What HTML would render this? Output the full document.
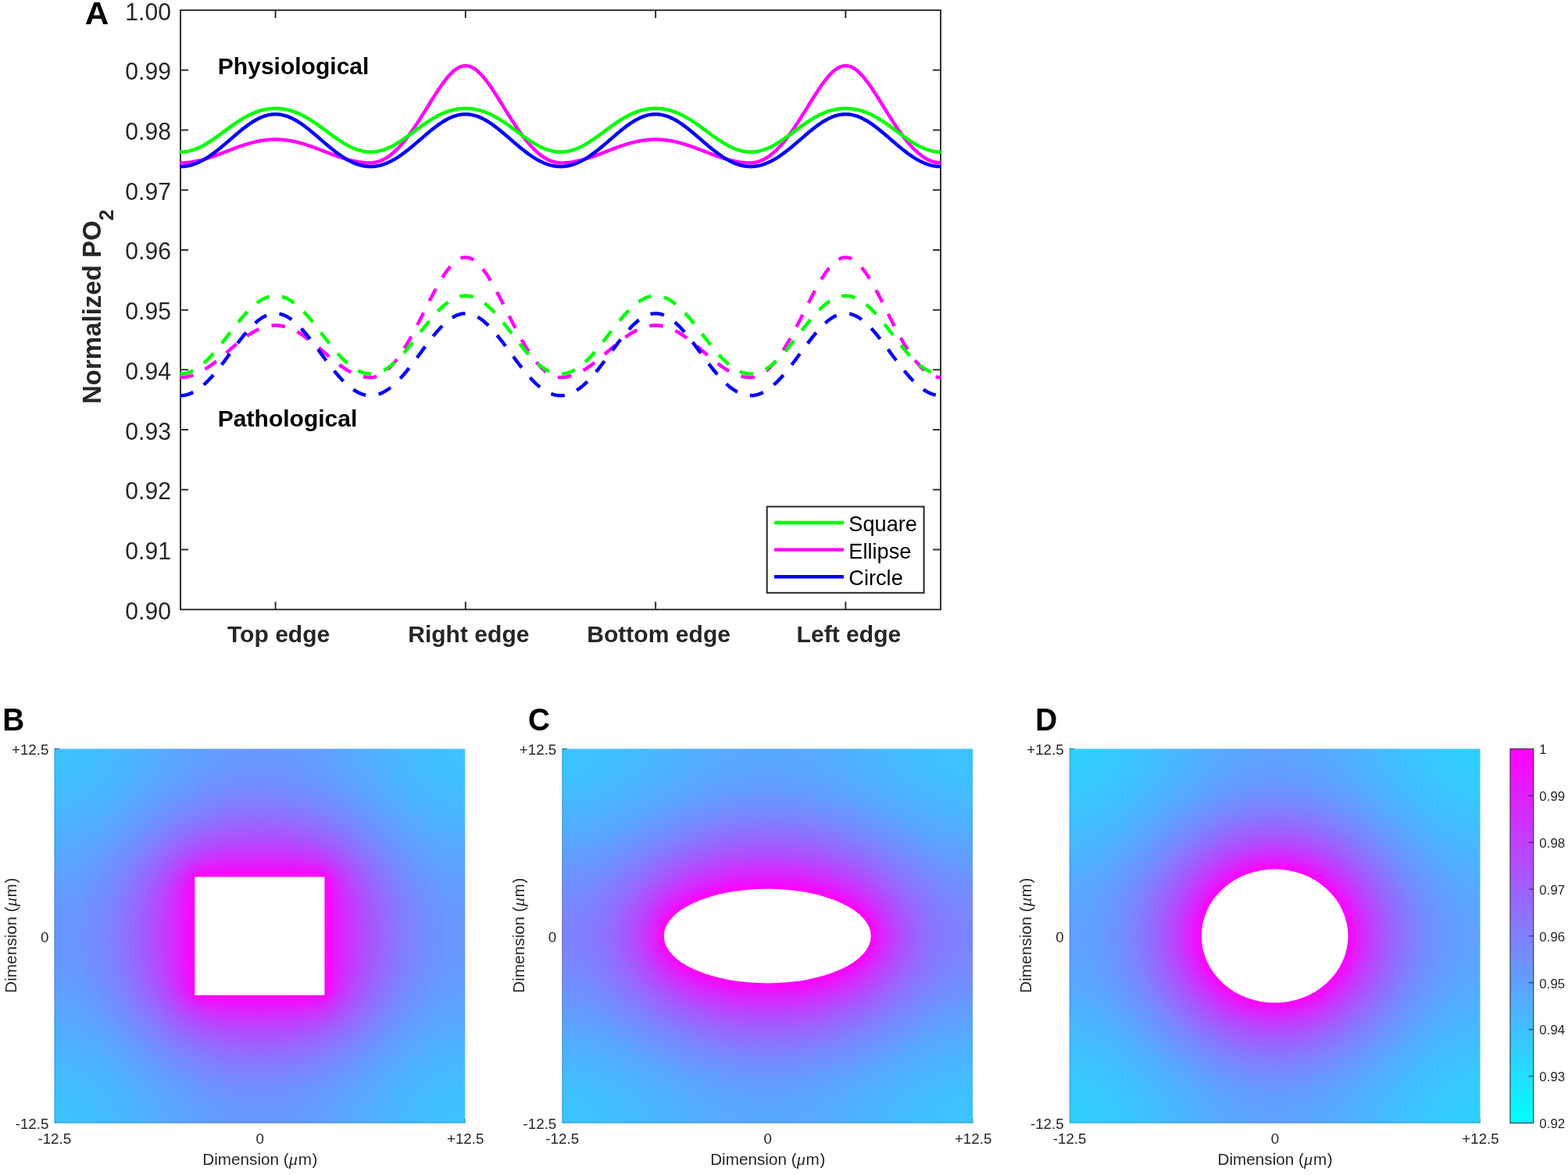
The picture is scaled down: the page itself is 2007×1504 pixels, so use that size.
<!DOCTYPE html>
<html lang="en"><head><meta charset="utf-8"><title>Normalized PO2 along tissue boundary for square, ellipse and circle vessels</title>
<style>html,body{margin:0;padding:0;background:#fff}body{width:2007px;height:1504px}svg{display:block;font-family:"Liberation Sans", sans-serif}</style></head><body>
<svg width="2007" height="1504" viewBox="0 0 2007 1504" role="img" aria-label="Normalized PO2 along the tissue boundary and PO2 maps for square, ellipse and circle vessels">
<rect width="2007" height="1504" fill="#fff"/>
<g id="panelA">
<g stroke="#333333" stroke-width="2" fill="none">
<rect x="231" y="13.1" width="973" height="767.1"/>
<path d="M231 89.81h10M1204 89.81h-10M231 166.52h10M1204 166.52h-10M231 243.23h10M1204 243.23h-10M231 319.94h10M1204 319.94h-10M231 396.65h10M1204 396.65h-10M231 473.36h10M1204 473.36h-10M231 550.07h10M1204 550.07h-10M231 626.78h10M1204 626.78h-10M231 703.49h10M1204 703.49h-10M352.62 13.1v10M352.62 780.2v-10M595.88 13.1v10M595.88 780.2v-10M839.12 13.1v10M839.12 780.2v-10M1082.38 13.1v10M1082.38 780.2v-10"/>
</g>
<clipPath id="clipA"><rect x="230.2" y="13.1" width="974.3" height="767.1"/></clipPath>
<g clip-path="url(#clipA)" fill="none" stroke-linejoin="round">
<polyline points="230.2,208.41 231,208.41 233.76,208.37 235.84,208.29 238.6,208.11 240.67,207.92 243.44,207.61 245.51,207.33 248.28,206.88 250.35,206.5 253.11,205.94 255.19,205.47 257.95,204.79 260.02,204.24 262.79,203.46 264.86,202.84 267.63,201.98 269.7,201.3 272.46,200.36 274.54,199.63 277.3,198.63 279.37,197.86 282.14,196.83 284.21,196.04 286.98,194.97 289.05,194.17 291.81,193.1 294.58,192.04 296.65,191.24 299.41,190.19 301.49,189.42 304.25,188.41 306.32,187.67 309.09,186.71 311.16,186.01 313.93,185.11 316,184.47 318.76,183.65 320.84,183.06 323.6,182.33 325.67,181.82 328.44,181.19 330.51,180.76 333.28,180.24 335.35,179.89 338.11,179.48 340.19,179.22 342.95,178.93 345.02,178.76 347.79,178.6 349.86,178.52 352.62,178.49 355.39,178.52 357.46,178.6 360.23,178.76 362.3,178.93 365.06,179.22 367.14,179.48 369.9,179.89 371.97,180.24 374.74,180.76 376.81,181.19 379.58,181.82 381.65,182.33 384.41,183.06 386.49,183.65 389.25,184.47 391.32,185.11 394.09,186.01 396.16,186.71 398.93,187.67 401,188.41 403.76,189.42 405.84,190.19 408.6,191.24 410.67,192.04 413.44,193.1 416.2,194.17 418.27,194.97 421.04,196.04 423.11,196.83 425.88,197.86 427.95,198.63 430.71,199.63 432.79,200.36 435.55,201.3 437.62,201.98 440.39,202.84 442.46,203.46 445.23,204.24 447.3,204.79 450.06,205.47 452.14,205.94 454.9,206.5 456.97,206.88 459.74,207.33 461.81,207.61 464.58,207.92 466.65,208.11 469.41,208.29 471.49,208.37 474.25,208.41 477.01,208.29 479.09,208.05 481.85,207.52 483.92,206.96 486.69,206.02 488.76,205.16 491.53,203.82 493.6,202.66 496.36,200.92 498.44,199.46 501.2,197.34 503.27,195.6 506.04,193.1 508.11,191.09 510.88,188.24 512.95,185.98 515.71,182.8 517.79,180.29 520.55,176.81 522.62,174.08 525.39,170.32 527.46,167.4 530.23,163.4 532.3,160.32 535.06,156.12 537.83,151.83 539.9,148.56 542.66,144.15 544.74,140.81 547.5,136.35 549.57,133 552.34,128.55 554.41,125.24 557.18,120.88 559.25,117.67 562.01,113.49 564.09,110.46 566.85,106.56 568.92,103.77 571.69,100.26 573.76,97.8 576.53,94.77 578.6,92.71 581.36,90.27 583.44,88.69 586.2,86.93 588.27,85.88 591.04,84.86 593.11,84.39 595.88,84.16 598.64,84.39 600.71,84.86 603.48,85.88 605.55,86.93 608.31,88.69 610.39,90.27 613.15,92.71 615.22,94.77 617.99,97.8 620.06,100.26 622.83,103.77 624.9,106.56 627.66,110.46 629.74,113.49 632.5,117.67 634.57,120.88 637.34,125.24 639.41,128.55 642.18,133 644.25,136.35 647.01,140.81 649.09,144.15 651.85,148.56 653.92,151.83 656.69,156.12 659.45,160.32 661.52,163.4 664.29,167.4 666.36,170.32 669.13,174.08 671.2,176.81 673.96,180.29 676.04,182.8 678.8,185.98 680.87,188.24 683.64,191.09 685.71,193.1 688.48,195.6 690.55,197.34 693.31,199.46 695.39,200.92 698.15,202.66 700.22,203.82 702.99,205.16 705.06,206.02 707.83,206.96 709.9,207.52 712.66,208.05 714.74,208.29 717.5,208.41 720.26,208.37 722.34,208.29 725.1,208.11 727.17,207.92 729.94,207.61 732.01,207.33 734.78,206.88 736.85,206.5 739.61,205.94 741.69,205.47 744.45,204.79 746.52,204.24 749.29,203.46 751.36,202.84 754.13,201.98 756.2,201.3 758.96,200.36 761.04,199.63 763.8,198.63 765.87,197.86 768.64,196.83 770.71,196.04 773.48,194.97 775.55,194.17 778.31,193.1 781.08,192.04 783.15,191.24 785.91,190.19 787.99,189.42 790.75,188.41 792.82,187.67 795.59,186.71 797.66,186.01 800.43,185.11 802.5,184.47 805.26,183.65 807.34,183.06 810.1,182.33 812.17,181.82 814.94,181.19 817.01,180.76 819.78,180.24 821.85,179.89 824.61,179.48 826.69,179.22 829.45,178.93 831.52,178.76 834.29,178.6 836.36,178.52 839.12,178.49 841.89,178.52 843.96,178.6 846.73,178.76 848.8,178.93 851.56,179.22 853.64,179.48 856.4,179.89 858.47,180.24 861.24,180.76 863.31,181.19 866.08,181.82 868.15,182.33 870.91,183.06 872.99,183.65 875.75,184.47 877.82,185.11 880.59,186.01 882.66,186.71 885.43,187.67 887.5,188.41 890.26,189.42 892.34,190.19 895.1,191.24 897.17,192.04 899.94,193.1 902.7,194.17 904.77,194.97 907.54,196.04 909.61,196.83 912.38,197.86 914.45,198.63 917.21,199.63 919.29,200.36 922.05,201.3 924.12,201.98 926.89,202.84 928.96,203.46 931.73,204.24 933.8,204.79 936.56,205.47 938.64,205.94 941.4,206.5 943.47,206.88 946.24,207.33 948.31,207.61 951.08,207.92 953.15,208.11 955.91,208.29 957.99,208.37 960.75,208.41 963.51,208.29 965.59,208.05 968.35,207.52 970.42,206.96 973.19,206.02 975.26,205.16 978.03,203.82 980.1,202.66 982.86,200.92 984.94,199.46 987.7,197.34 989.77,195.6 992.54,193.1 994.61,191.09 997.38,188.24 999.45,185.98 1002.21,182.8 1004.29,180.29 1007.05,176.81 1009.12,174.08 1011.89,170.32 1013.96,167.4 1016.73,163.4 1018.8,160.32 1021.56,156.12 1024.33,151.83 1026.4,148.56 1029.16,144.15 1031.24,140.81 1034,136.35 1036.07,133 1038.84,128.55 1040.91,125.24 1043.68,120.88 1045.75,117.67 1048.51,113.49 1050.59,110.46 1053.35,106.56 1055.42,103.77 1058.19,100.26 1060.26,97.8 1063.03,94.77 1065.1,92.71 1067.86,90.27 1069.94,88.69 1072.7,86.93 1074.77,85.88 1077.54,84.86 1079.61,84.39 1082.38,84.16 1085.14,84.39 1087.21,84.86 1089.98,85.88 1092.05,86.93 1094.81,88.69 1096.89,90.27 1099.65,92.71 1101.72,94.77 1104.49,97.8 1106.56,100.26 1109.33,103.77 1111.4,106.56 1114.16,110.46 1116.24,113.49 1119,117.67 1121.07,120.88 1123.84,125.24 1125.91,128.55 1128.68,133 1130.75,136.35 1133.51,140.81 1135.59,144.15 1138.35,148.56 1140.42,151.83 1143.19,156.12 1145.95,160.32 1148.02,163.4 1150.79,167.4 1152.86,170.32 1155.63,174.08 1157.7,176.81 1160.46,180.29 1162.54,182.8 1165.3,185.98 1167.37,188.24 1170.14,191.09 1172.21,193.1 1174.98,195.6 1177.05,197.34 1179.81,199.46 1181.89,200.92 1184.65,202.66 1186.72,203.82 1189.49,205.16 1191.56,206.02 1194.33,206.96 1196.4,207.52 1199.16,208.05 1201.24,208.29 1204,208.41 1204.6,208.41" stroke="#ff00ff" stroke-width="4.45"/>
<polyline points="230.2,194.54 231,194.54 233.75,194.46 235.81,194.3 238.56,193.95 240.62,193.59 243.37,192.97 245.43,192.42 248.18,191.55 250.24,190.81 252.99,189.7 255.05,188.78 257.8,187.45 259.86,186.38 262.61,184.85 265.36,183.23 267.42,181.95 270.17,180.17 272.23,178.79 274.98,176.89 277.04,175.44 279.79,173.46 281.85,171.95 284.6,169.92 286.66,168.39 289.41,166.36 291.47,164.84 294.22,162.83 296.97,160.85 299.03,159.4 301.78,157.5 303.84,156.11 306.59,154.32 308.65,153.03 311.4,151.37 313.46,150.19 316.21,148.68 318.27,147.62 321.02,146.29 323.76,145.06 325.83,144.2 328.57,143.16 330.64,142.44 333.38,141.59 335.45,141.02 338.19,140.37 340.26,139.95 343,139.49 345.07,139.22 347.81,138.97 349.88,138.85 352.62,138.79 355.37,138.85 357.44,138.97 360.18,139.22 362.25,139.49 364.99,139.95 367.06,140.37 369.8,141.02 371.87,141.59 374.61,142.44 376.68,143.16 379.42,144.2 381.49,145.06 384.23,146.29 386.98,147.62 389.04,148.68 391.79,150.19 393.85,151.37 396.6,153.03 398.66,154.32 401.41,156.11 403.47,157.5 406.22,159.4 408.28,160.85 411.03,162.83 413.78,164.84 415.84,166.36 418.59,168.39 420.65,169.92 423.4,171.95 425.46,173.46 428.21,175.44 430.27,176.89 433.02,178.79 435.08,180.17 437.83,181.95 439.89,183.23 442.64,184.85 445.39,186.38 447.45,187.45 450.2,188.78 452.26,189.7 455.01,190.81 457.07,191.55 459.82,192.42 461.88,192.97 464.63,193.59 466.69,193.95 469.44,194.3 471.5,194.46 474.25,194.54 477,194.46 479.06,194.3 481.81,193.95 483.87,193.59 486.62,192.97 488.68,192.42 491.43,191.55 493.49,190.81 496.24,189.7 498.3,188.78 501.05,187.45 503.11,186.38 505.86,184.85 508.61,183.23 510.67,181.95 513.42,180.17 515.48,178.79 518.23,176.89 520.29,175.44 523.04,173.46 525.1,171.95 527.85,169.92 529.91,168.39 532.66,166.36 534.72,164.84 537.47,162.83 540.22,160.85 542.28,159.4 545.03,157.5 547.09,156.11 549.84,154.32 551.9,153.03 554.65,151.37 556.71,150.19 559.46,148.68 561.52,147.62 564.27,146.29 567.01,145.06 569.08,144.2 571.82,143.16 573.89,142.44 576.63,141.59 578.7,141.02 581.44,140.37 583.51,139.95 586.25,139.49 588.32,139.22 591.06,138.97 593.13,138.85 595.88,138.79 598.62,138.85 600.69,138.97 603.43,139.22 605.5,139.49 608.24,139.95 610.31,140.37 613.05,141.02 615.12,141.59 617.86,142.44 619.93,143.16 622.67,144.2 624.74,145.06 627.48,146.29 630.23,147.62 632.29,148.68 635.04,150.19 637.1,151.37 639.85,153.03 641.91,154.32 644.66,156.11 646.72,157.5 649.47,159.4 651.53,160.85 654.28,162.83 657.03,164.84 659.09,166.36 661.84,168.39 663.9,169.92 666.65,171.95 668.71,173.46 671.46,175.44 673.52,176.89 676.27,178.79 678.33,180.17 681.08,181.95 683.14,183.23 685.89,184.85 688.64,186.38 690.7,187.45 693.45,188.78 695.51,189.7 698.26,190.81 700.32,191.55 703.07,192.42 705.13,192.97 707.88,193.59 709.94,193.95 712.69,194.3 714.75,194.46 717.5,194.54 720.25,194.46 722.31,194.3 725.06,193.95 727.12,193.59 729.87,192.97 731.93,192.42 734.68,191.55 736.74,190.81 739.49,189.7 741.55,188.78 744.3,187.45 746.36,186.38 749.11,184.85 751.86,183.23 753.92,181.95 756.67,180.17 758.73,178.79 761.48,176.89 763.54,175.44 766.29,173.46 768.35,171.95 771.1,169.92 773.16,168.39 775.91,166.36 777.97,164.84 780.72,162.83 783.47,160.85 785.53,159.4 788.28,157.5 790.34,156.11 793.09,154.32 795.15,153.03 797.9,151.37 799.96,150.19 802.71,148.68 804.77,147.62 807.52,146.29 810.26,145.06 812.33,144.2 815.07,143.16 817.14,142.44 819.88,141.59 821.95,141.02 824.69,140.37 826.76,139.95 829.5,139.49 831.57,139.22 834.31,138.97 836.38,138.85 839.12,138.79 841.87,138.85 843.94,138.97 846.68,139.22 848.75,139.49 851.49,139.95 853.56,140.37 856.3,141.02 858.37,141.59 861.11,142.44 863.18,143.16 865.92,144.2 867.99,145.06 870.73,146.29 873.48,147.62 875.54,148.68 878.29,150.19 880.35,151.37 883.1,153.03 885.16,154.32 887.91,156.11 889.97,157.5 892.72,159.4 894.78,160.85 897.53,162.83 900.28,164.84 902.34,166.36 905.09,168.39 907.15,169.92 909.9,171.95 911.96,173.46 914.71,175.44 916.77,176.89 919.52,178.79 921.58,180.17 924.33,181.95 926.39,183.23 929.14,184.85 931.89,186.38 933.95,187.45 936.7,188.78 938.76,189.7 941.51,190.81 943.57,191.55 946.32,192.42 948.38,192.97 951.13,193.59 953.19,193.95 955.94,194.3 958,194.46 960.75,194.54 963.5,194.46 965.56,194.3 968.31,193.95 970.37,193.59 973.12,192.97 975.18,192.42 977.93,191.55 979.99,190.81 982.74,189.7 984.8,188.78 987.55,187.45 989.61,186.38 992.36,184.85 995.11,183.23 997.17,181.95 999.92,180.17 1001.98,178.79 1004.73,176.89 1006.79,175.44 1009.54,173.46 1011.6,171.95 1014.35,169.92 1016.41,168.39 1019.16,166.36 1021.22,164.84 1023.97,162.83 1026.72,160.85 1028.78,159.4 1031.53,157.5 1033.59,156.11 1036.34,154.32 1038.4,153.03 1041.15,151.37 1043.21,150.19 1045.96,148.68 1048.02,147.62 1050.77,146.29 1053.51,145.06 1055.58,144.2 1058.32,143.16 1060.39,142.44 1063.13,141.59 1065.2,141.02 1067.94,140.37 1070.01,139.95 1072.75,139.49 1074.82,139.22 1077.56,138.97 1079.63,138.85 1082.38,138.79 1085.12,138.85 1087.19,138.97 1089.93,139.22 1092,139.49 1094.74,139.95 1096.81,140.37 1099.55,141.02 1101.62,141.59 1104.36,142.44 1106.43,143.16 1109.17,144.2 1111.24,145.06 1113.98,146.29 1116.73,147.62 1118.79,148.68 1121.54,150.19 1123.6,151.37 1126.35,153.03 1128.41,154.32 1131.16,156.11 1133.22,157.5 1135.97,159.4 1138.03,160.85 1140.78,162.83 1143.53,164.84 1145.59,166.36 1148.34,168.39 1150.4,169.92 1153.15,171.95 1155.21,173.46 1157.96,175.44 1160.02,176.89 1162.77,178.79 1164.83,180.17 1167.58,181.95 1169.64,183.23 1172.39,184.85 1175.14,186.38 1177.2,187.45 1179.95,188.78 1182.01,189.7 1184.76,190.81 1186.82,191.55 1189.57,192.42 1191.63,192.97 1194.38,193.59 1196.44,193.95 1199.19,194.3 1201.25,194.46 1204,194.54 1204.6,194.54" stroke="#00ff00" stroke-width="4.45"/>
<polyline points="230.2,213.16 231,213.16 233.75,213.09 235.81,212.93 238.56,212.58 240.62,212.22 243.37,211.6 245.43,211.04 248.18,210.16 250.24,209.41 252.99,208.29 255.05,207.36 257.8,206 259.86,204.89 262.61,203.32 265.36,201.62 267.42,200.28 270.17,198.4 272.23,196.93 274.98,194.89 277.04,193.31 279.79,191.14 281.85,189.47 284.6,187.2 286.66,185.46 289.41,183.12 291.47,181.35 294.22,178.97 296.97,176.59 299.03,174.81 301.78,172.46 303.84,170.71 306.59,168.41 308.65,166.73 311.4,164.53 313.46,162.93 316.21,160.87 318.27,159.39 321.02,157.51 323.76,155.73 325.83,154.49 328.57,152.94 330.64,151.87 333.38,150.58 335.45,149.71 338.19,148.69 340.26,148.04 343,147.32 345.07,146.89 347.81,146.48 349.88,146.29 352.62,146.2 355.37,146.29 357.44,146.48 360.18,146.89 362.25,147.32 364.99,148.04 367.06,148.69 369.8,149.71 371.87,150.58 374.61,151.87 376.68,152.94 379.42,154.49 381.49,155.73 384.23,157.51 386.98,159.39 389.04,160.87 391.79,162.93 393.85,164.53 396.6,166.73 398.66,168.41 401.41,170.71 403.47,172.46 406.22,174.81 408.28,176.59 411.03,178.97 413.78,181.35 415.84,183.12 418.59,185.46 420.65,187.2 423.4,189.47 425.46,191.14 428.21,193.31 430.27,194.89 433.02,196.93 435.08,198.4 437.83,200.28 439.89,201.62 442.64,203.32 445.39,204.89 447.45,206 450.2,207.36 452.26,208.29 455.01,209.41 457.07,210.16 459.82,211.04 461.88,211.6 464.63,212.22 466.69,212.58 469.44,212.93 471.5,213.09 474.25,213.16 477,213.09 479.06,212.93 481.81,212.58 483.87,212.22 486.62,211.6 488.68,211.04 491.43,210.16 493.49,209.41 496.24,208.29 498.3,207.36 501.05,206 503.11,204.89 505.86,203.32 508.61,201.62 510.67,200.28 513.42,198.4 515.48,196.93 518.23,194.89 520.29,193.31 523.04,191.14 525.1,189.47 527.85,187.2 529.91,185.46 532.66,183.12 534.72,181.35 537.47,178.97 540.22,176.59 542.28,174.81 545.03,172.46 547.09,170.71 549.84,168.41 551.9,166.73 554.65,164.53 556.71,162.93 559.46,160.87 561.52,159.39 564.27,157.51 567.01,155.73 569.08,154.49 571.82,152.94 573.89,151.87 576.63,150.58 578.7,149.71 581.44,148.69 583.51,148.04 586.25,147.32 588.32,146.89 591.06,146.48 593.13,146.29 595.88,146.2 598.62,146.29 600.69,146.48 603.43,146.89 605.5,147.32 608.24,148.04 610.31,148.69 613.05,149.71 615.12,150.58 617.86,151.87 619.93,152.94 622.67,154.49 624.74,155.73 627.48,157.51 630.23,159.39 632.29,160.87 635.04,162.93 637.1,164.53 639.85,166.73 641.91,168.41 644.66,170.71 646.72,172.46 649.47,174.81 651.53,176.59 654.28,178.97 657.03,181.35 659.09,183.12 661.84,185.46 663.9,187.2 666.65,189.47 668.71,191.14 671.46,193.31 673.52,194.89 676.27,196.93 678.33,198.4 681.08,200.28 683.14,201.62 685.89,203.32 688.64,204.89 690.7,206 693.45,207.36 695.51,208.29 698.26,209.41 700.32,210.16 703.07,211.04 705.13,211.6 707.88,212.22 709.94,212.58 712.69,212.93 714.75,213.09 717.5,213.16 720.25,213.09 722.31,212.93 725.06,212.58 727.12,212.22 729.87,211.6 731.93,211.04 734.68,210.16 736.74,209.41 739.49,208.29 741.55,207.36 744.3,206 746.36,204.89 749.11,203.32 751.86,201.62 753.92,200.28 756.67,198.4 758.73,196.93 761.48,194.89 763.54,193.31 766.29,191.14 768.35,189.47 771.1,187.2 773.16,185.46 775.91,183.12 777.97,181.35 780.72,178.97 783.47,176.59 785.53,174.81 788.28,172.46 790.34,170.71 793.09,168.41 795.15,166.73 797.9,164.53 799.96,162.93 802.71,160.87 804.77,159.39 807.52,157.51 810.26,155.73 812.33,154.49 815.07,152.94 817.14,151.87 819.88,150.58 821.95,149.71 824.69,148.69 826.76,148.04 829.5,147.32 831.57,146.89 834.31,146.48 836.38,146.29 839.12,146.2 841.87,146.29 843.94,146.48 846.68,146.89 848.75,147.32 851.49,148.04 853.56,148.69 856.3,149.71 858.37,150.58 861.11,151.87 863.18,152.94 865.92,154.49 867.99,155.73 870.73,157.51 873.48,159.39 875.54,160.87 878.29,162.93 880.35,164.53 883.1,166.73 885.16,168.41 887.91,170.71 889.97,172.46 892.72,174.81 894.78,176.59 897.53,178.97 900.28,181.35 902.34,183.12 905.09,185.46 907.15,187.2 909.9,189.47 911.96,191.14 914.71,193.31 916.77,194.89 919.52,196.93 921.58,198.4 924.33,200.28 926.39,201.62 929.14,203.32 931.89,204.89 933.95,206 936.7,207.36 938.76,208.29 941.51,209.41 943.57,210.16 946.32,211.04 948.38,211.6 951.13,212.22 953.19,212.58 955.94,212.93 958,213.09 960.75,213.16 963.5,213.09 965.56,212.93 968.31,212.58 970.37,212.22 973.12,211.6 975.18,211.04 977.93,210.16 979.99,209.41 982.74,208.29 984.8,207.36 987.55,206 989.61,204.89 992.36,203.32 995.11,201.62 997.17,200.28 999.92,198.4 1001.98,196.93 1004.73,194.89 1006.79,193.31 1009.54,191.14 1011.6,189.47 1014.35,187.2 1016.41,185.46 1019.16,183.12 1021.22,181.35 1023.97,178.97 1026.72,176.59 1028.78,174.81 1031.53,172.46 1033.59,170.71 1036.34,168.41 1038.4,166.73 1041.15,164.53 1043.21,162.93 1045.96,160.87 1048.02,159.39 1050.77,157.51 1053.51,155.73 1055.58,154.49 1058.32,152.94 1060.39,151.87 1063.13,150.58 1065.2,149.71 1067.94,148.69 1070.01,148.04 1072.75,147.32 1074.82,146.89 1077.56,146.48 1079.63,146.29 1082.38,146.2 1085.12,146.29 1087.19,146.48 1089.93,146.89 1092,147.32 1094.74,148.04 1096.81,148.69 1099.55,149.71 1101.62,150.58 1104.36,151.87 1106.43,152.94 1109.17,154.49 1111.24,155.73 1113.98,157.51 1116.73,159.39 1118.79,160.87 1121.54,162.93 1123.6,164.53 1126.35,166.73 1128.41,168.41 1131.16,170.71 1133.22,172.46 1135.97,174.81 1138.03,176.59 1140.78,178.97 1143.53,181.35 1145.59,183.12 1148.34,185.46 1150.4,187.2 1153.15,189.47 1155.21,191.14 1157.96,193.31 1160.02,194.89 1162.77,196.93 1164.83,198.4 1167.58,200.28 1169.64,201.62 1172.39,203.32 1175.14,204.89 1177.2,206 1179.95,207.36 1182.01,208.29 1184.76,209.41 1186.82,210.16 1189.57,211.04 1191.63,211.6 1194.38,212.22 1196.44,212.58 1199.19,212.93 1201.25,213.09 1204,213.16 1204.6,213.16" stroke="#0000ff" stroke-width="4.45"/>
<polyline points="230.2,483.08 231,483.08 233.43,483.01 235.87,482.81 238.3,482.49 240.73,482.03 243.16,481.44 245.59,480.73 248.03,479.9 250.46,478.94 252.89,477.88 255.32,476.7 257.76,475.41 260.19,474.02 262.62,472.54 265.06,470.96 267.49,469.3 269.92,467.57 272.35,465.76 274.78,463.89 277.22,461.97 279.65,459.99 282.08,457.98 284.51,455.93 286.95,453.86 289.38,451.78 291.81,449.69 294.25,447.59 296.68,445.51 299.11,443.44 301.54,441.4 303.98,439.4 306.41,437.43 308.84,435.52 311.27,433.66 313.71,431.86 316.14,430.14 318.57,428.5 321,426.93 323.44,425.46 325.87,424.09 328.3,422.81 330.73,421.65 333.16,420.59 335.6,419.65 338.03,418.83 340.46,418.12 342.89,417.55 345.33,417.09 347.76,416.77 350.19,416.58 352.62,416.51 355.06,416.58 357.49,416.77 359.92,417.1 362.36,417.55 364.79,418.13 367.22,418.84 369.65,419.66 372.08,420.6 374.52,421.66 376.95,422.83 379.38,424.11 381.81,425.48 384.25,426.96 386.68,428.52 389.11,430.17 391.55,431.89 393.98,433.69 396.41,435.55 398.84,437.46 401.27,439.43 403.71,441.44 406.14,443.48 408.57,445.55 411,447.63 413.44,449.73 415.87,451.82 418.3,453.91 420.74,455.98 423.17,458.03 425.6,460.04 428.03,462.01 430.47,463.94 432.9,465.81 435.33,467.62 437.76,469.36 440.19,471.01 442.63,472.59 445.06,474.07 447.49,475.46 449.93,476.75 452.36,477.93 454.79,479 457.22,479.95 459.65,480.79 462.09,481.5 464.52,482.09 466.95,482.54 469.38,482.87 471.82,483.07 474.25,483.14 476.68,482.95 479.12,482.58 481.55,481.96 483.98,481.09 486.41,479.98 488.85,478.62 491.28,477.02 493.71,475.19 496.14,473.13 498.58,470.83 501.01,468.32 503.44,465.59 505.87,462.65 508.31,459.5 510.74,456.16 513.17,452.63 515.6,448.93 518.03,445.05 520.47,441.02 522.9,436.84 525.33,432.53 527.76,428.1 530.2,423.56 532.63,418.93 535.06,414.22 537.5,409.45 539.93,404.64 542.36,399.8 544.79,394.95 547.23,390.12 549.66,385.32 552.09,380.58 554.52,375.91 556.96,371.35 559.39,366.9 561.82,362.6 564.25,358.47 566.68,354.53 569.12,350.8 571.55,347.31 573.98,344.07 576.41,341.11 578.85,338.45 581.28,336.11 583.71,334.1 586.14,332.43 588.58,331.12 591.01,330.18 593.44,329.61 595.88,329.42 598.31,329.61 600.74,330.18 603.17,331.12 605.61,332.43 608.04,334.1 610.47,336.11 612.9,338.45 615.34,341.11 617.77,344.07 620.2,347.31 622.63,350.8 625.07,354.53 627.5,358.47 629.93,362.6 632.36,366.9 634.8,371.35 637.23,375.91 639.66,380.58 642.09,385.32 644.53,390.12 646.96,394.95 649.39,399.8 651.82,404.64 654.25,409.45 656.69,414.22 659.12,418.93 661.55,423.56 663.99,428.1 666.42,432.53 668.85,436.84 671.28,441.02 673.72,445.05 676.15,448.93 678.58,452.63 681.01,456.16 683.44,459.5 685.88,462.65 688.31,465.59 690.74,468.32 693.17,470.83 695.61,473.13 698.04,475.19 700.47,477.02 702.9,478.62 705.34,479.98 707.77,481.09 710.2,481.96 712.63,482.58 715.07,482.95 717.5,483.08 719.93,483.01 722.37,482.81 724.8,482.49 727.23,482.03 729.66,481.44 732.1,480.73 734.53,479.9 736.96,478.94 739.39,477.88 741.83,476.7 744.26,475.41 746.69,474.02 749.12,472.54 751.56,470.96 753.99,469.3 756.42,467.57 758.85,465.76 761.29,463.89 763.72,461.97 766.15,459.99 768.58,457.98 771.02,455.93 773.45,453.86 775.88,451.78 778.31,449.69 780.75,447.59 783.18,445.51 785.61,443.44 788.04,441.4 790.47,439.4 792.91,437.43 795.34,435.52 797.77,433.66 800.2,431.86 802.64,430.14 805.07,428.5 807.5,426.93 809.93,425.46 812.37,424.09 814.8,422.81 817.23,421.65 819.66,420.59 822.1,419.65 824.53,418.83 826.96,418.12 829.39,417.55 831.83,417.09 834.26,416.77 836.69,416.58 839.12,416.51 841.56,416.58 843.99,416.77 846.42,417.1 848.86,417.55 851.29,418.13 853.72,418.84 856.15,419.66 858.59,420.6 861.02,421.66 863.45,422.83 865.88,424.11 868.32,425.48 870.75,426.96 873.18,428.52 875.61,430.17 878.05,431.89 880.48,433.69 882.91,435.55 885.34,437.46 887.78,439.43 890.21,441.44 892.64,443.48 895.07,445.55 897.5,447.63 899.94,449.73 902.37,451.82 904.8,453.91 907.24,455.98 909.67,458.03 912.1,460.04 914.53,462.01 916.97,463.94 919.4,465.81 921.83,467.62 924.26,469.36 926.69,471.01 929.13,472.59 931.56,474.07 933.99,475.46 936.42,476.75 938.86,477.93 941.29,479 943.72,479.95 946.15,480.79 948.59,481.5 951.02,482.09 953.45,482.54 955.88,482.87 958.32,483.07 960.75,483.14 963.18,482.95 965.62,482.58 968.05,481.96 970.48,481.09 972.91,479.98 975.35,478.62 977.78,477.02 980.21,475.19 982.64,473.13 985.08,470.83 987.51,468.32 989.94,465.59 992.37,462.65 994.81,459.5 997.24,456.16 999.67,452.63 1002.1,448.93 1004.54,445.05 1006.97,441.02 1009.4,436.84 1011.83,432.53 1014.27,428.1 1016.7,423.56 1019.13,418.93 1021.56,414.22 1024,409.45 1026.43,404.64 1028.86,399.8 1031.29,394.95 1033.72,390.12 1036.16,385.32 1038.59,380.58 1041.02,375.91 1043.45,371.35 1045.89,366.9 1048.32,362.6 1050.75,358.47 1053.18,354.53 1055.62,350.8 1058.05,347.31 1060.48,344.07 1062.91,341.11 1065.35,338.45 1067.78,336.11 1070.21,334.1 1072.64,332.43 1075.08,331.12 1077.51,330.18 1079.94,329.61 1082.38,329.42 1084.81,329.61 1087.24,330.18 1089.67,331.12 1092.11,332.43 1094.54,334.1 1096.97,336.11 1099.4,338.45 1101.84,341.11 1104.27,344.07 1106.7,347.31 1109.13,350.8 1111.57,354.53 1114,358.47 1116.43,362.6 1118.86,366.9 1121.3,371.35 1123.73,375.91 1126.16,380.58 1128.59,385.32 1131.03,390.12 1133.46,394.95 1135.89,399.8 1138.32,404.64 1140.76,409.45 1143.19,414.22 1145.62,418.93 1148.05,423.56 1150.49,428.1 1152.92,432.53 1155.35,436.84 1157.78,441.02 1160.22,445.05 1162.65,448.93 1165.08,452.63 1167.51,456.16 1169.94,459.5 1172.38,462.65 1174.81,465.59 1177.24,468.32 1179.67,470.83 1182.11,473.13 1184.54,475.19 1186.97,477.02 1189.4,478.62 1191.84,479.98 1194.27,481.09 1196.7,481.96 1199.13,482.58 1201.57,482.95 1204,483.08 1204.6,483.08" stroke="#ff00ff" stroke-width="4.45" stroke-dasharray="17.68 16.66"/>
<polyline points="230.2,478.55 231,478.55 233.43,478.46 235.87,478.17 238.3,477.7 240.73,477.04 243.16,476.19 245.59,475.16 248.03,473.95 250.46,472.56 252.89,471.01 255.32,469.29 257.76,467.41 260.19,465.38 262.62,463.21 265.06,460.89 267.49,458.45 269.92,455.89 272.35,453.22 274.78,450.44 277.22,447.58 279.65,444.64 282.08,441.63 284.51,438.57 286.95,435.47 289.38,432.33 291.81,429.17 294.25,426.01 296.68,422.86 299.11,419.73 301.54,416.63 303.98,413.58 306.41,410.59 308.84,407.67 311.27,404.83 313.71,402.09 316.14,399.45 318.57,396.94 321,394.55 323.44,392.3 325.87,390.19 328.3,388.24 330.73,386.45 333.16,384.84 335.6,383.39 338.03,382.13 340.46,381.06 342.89,380.17 345.33,379.48 347.76,378.98 350.19,378.69 352.62,378.59 355.06,378.69 357.49,378.98 359.92,379.48 362.36,380.17 364.79,381.06 367.22,382.13 369.65,383.39 372.08,384.84 374.52,386.45 376.95,388.24 379.38,390.19 381.81,392.3 384.25,394.55 386.68,396.94 389.11,399.45 391.55,402.09 393.98,404.83 396.41,407.67 398.84,410.59 401.27,413.58 403.71,416.63 406.14,419.73 408.57,422.86 411,426.01 413.44,429.17 415.87,432.33 418.3,435.47 420.74,438.57 423.17,441.63 425.6,444.64 428.03,447.58 430.47,450.44 432.9,453.22 435.33,455.89 437.76,458.45 440.19,460.89 442.63,463.21 445.06,465.38 447.49,467.41 449.93,469.29 452.36,471.01 454.79,472.56 457.22,473.95 459.65,475.16 462.09,476.19 464.52,477.04 466.95,477.7 469.38,478.17 471.82,478.46 474.25,478.55 476.68,478.46 479.12,478.17 481.55,477.7 483.98,477.04 486.41,476.19 488.85,475.16 491.28,473.95 493.71,472.56 496.14,471.01 498.58,469.29 501.01,467.41 503.44,465.38 505.87,463.21 508.31,460.89 510.74,458.45 513.17,455.89 515.6,453.22 518.03,450.44 520.47,447.58 522.9,444.64 525.33,441.63 527.76,438.57 530.2,435.47 532.63,432.33 535.06,429.17 537.5,426.01 539.93,422.86 542.36,419.73 544.79,416.63 547.23,413.58 549.66,410.59 552.09,407.67 554.52,404.83 556.96,402.09 559.39,399.45 561.82,396.94 564.25,394.55 566.68,392.3 569.12,390.19 571.55,388.24 573.98,386.45 576.41,384.84 578.85,383.39 581.28,382.13 583.71,381.06 586.14,380.17 588.58,379.48 591.01,378.98 593.44,378.69 595.88,378.59 598.31,378.69 600.74,378.98 603.17,379.48 605.61,380.17 608.04,381.06 610.47,382.13 612.9,383.39 615.34,384.84 617.77,386.45 620.2,388.24 622.63,390.19 625.07,392.3 627.5,394.55 629.93,396.94 632.36,399.45 634.8,402.09 637.23,404.83 639.66,407.67 642.09,410.59 644.53,413.58 646.96,416.63 649.39,419.73 651.82,422.86 654.25,426.01 656.69,429.17 659.12,432.33 661.55,435.47 663.99,438.57 666.42,441.63 668.85,444.64 671.28,447.58 673.72,450.44 676.15,453.22 678.58,455.89 681.01,458.45 683.44,460.89 685.88,463.21 688.31,465.38 690.74,467.41 693.17,469.29 695.61,471.01 698.04,472.56 700.47,473.95 702.9,475.16 705.34,476.19 707.77,477.04 710.2,477.7 712.63,478.17 715.07,478.46 717.5,478.55 719.93,478.46 722.37,478.17 724.8,477.7 727.23,477.04 729.66,476.19 732.1,475.16 734.53,473.95 736.96,472.56 739.39,471.01 741.83,469.29 744.26,467.41 746.69,465.38 749.12,463.21 751.56,460.89 753.99,458.45 756.42,455.89 758.85,453.22 761.29,450.44 763.72,447.58 766.15,444.64 768.58,441.63 771.02,438.57 773.45,435.47 775.88,432.33 778.31,429.17 780.75,426.01 783.18,422.86 785.61,419.73 788.04,416.63 790.47,413.58 792.91,410.59 795.34,407.67 797.77,404.83 800.2,402.09 802.64,399.45 805.07,396.94 807.5,394.55 809.93,392.3 812.37,390.19 814.8,388.24 817.23,386.45 819.66,384.84 822.1,383.39 824.53,382.13 826.96,381.06 829.39,380.17 831.83,379.48 834.26,378.98 836.69,378.69 839.12,378.59 841.56,378.69 843.99,378.98 846.42,379.48 848.86,380.17 851.29,381.06 853.72,382.13 856.15,383.39 858.59,384.84 861.02,386.45 863.45,388.24 865.88,390.19 868.32,392.3 870.75,394.55 873.18,396.94 875.61,399.45 878.05,402.09 880.48,404.83 882.91,407.67 885.34,410.59 887.78,413.58 890.21,416.63 892.64,419.73 895.07,422.86 897.5,426.01 899.94,429.17 902.37,432.33 904.8,435.47 907.24,438.57 909.67,441.63 912.1,444.64 914.53,447.58 916.97,450.44 919.4,453.22 921.83,455.89 924.26,458.45 926.69,460.89 929.13,463.21 931.56,465.38 933.99,467.41 936.42,469.29 938.86,471.01 941.29,472.56 943.72,473.95 946.15,475.16 948.59,476.19 951.02,477.04 953.45,477.7 955.88,478.17 958.32,478.46 960.75,478.55 963.18,478.46 965.62,478.17 968.05,477.7 970.48,477.04 972.91,476.19 975.35,475.16 977.78,473.95 980.21,472.56 982.64,471.01 985.08,469.29 987.51,467.41 989.94,465.38 992.37,463.21 994.81,460.89 997.24,458.45 999.67,455.89 1002.1,453.22 1004.54,450.44 1006.97,447.58 1009.4,444.64 1011.83,441.63 1014.27,438.57 1016.7,435.47 1019.13,432.33 1021.56,429.17 1024,426.01 1026.43,422.86 1028.86,419.73 1031.29,416.63 1033.72,413.58 1036.16,410.59 1038.59,407.67 1041.02,404.83 1043.45,402.09 1045.89,399.45 1048.32,396.94 1050.75,394.55 1053.18,392.3 1055.62,390.19 1058.05,388.24 1060.48,386.45 1062.91,384.84 1065.35,383.39 1067.78,382.13 1070.21,381.06 1072.64,380.17 1075.08,379.48 1077.51,378.98 1079.94,378.69 1082.38,378.59 1084.81,378.69 1087.24,378.98 1089.67,379.48 1092.11,380.17 1094.54,381.06 1096.97,382.13 1099.4,383.39 1101.84,384.84 1104.27,386.45 1106.7,388.24 1109.13,390.19 1111.57,392.3 1114,394.55 1116.43,396.94 1118.86,399.45 1121.3,402.09 1123.73,404.83 1126.16,407.67 1128.59,410.59 1131.03,413.58 1133.46,416.63 1135.89,419.73 1138.32,422.86 1140.76,426.01 1143.19,429.17 1145.62,432.33 1148.05,435.47 1150.49,438.57 1152.92,441.63 1155.35,444.64 1157.78,447.58 1160.22,450.44 1162.65,453.22 1165.08,455.89 1167.51,458.45 1169.94,460.89 1172.38,463.21 1174.81,465.38 1177.24,467.41 1179.67,469.29 1182.11,471.01 1184.54,472.56 1186.97,473.95 1189.4,475.16 1191.84,476.19 1194.27,477.04 1196.7,477.7 1199.13,478.17 1201.57,478.46 1204,478.55 1204.6,478.55" stroke="#00ff00" stroke-width="4.45" stroke-dasharray="17.68 16.66"/>
<polyline points="230.2,506.3 231,506.3 233.43,506.21 235.87,505.92 238.3,505.45 240.73,504.78 243.16,503.93 245.59,502.9 248.03,501.69 250.46,500.3 252.89,498.74 255.32,497.01 257.76,495.12 260.19,493.08 262.62,490.88 265.06,488.54 267.49,486.07 269.92,483.47 272.35,480.76 274.78,477.93 277.22,475.01 279.65,472 282.08,468.91 284.51,465.76 286.95,462.55 289.38,459.3 291.81,456.01 294.25,452.71 296.68,449.41 299.11,446.11 301.54,442.84 303.98,439.6 306.41,436.41 308.84,433.28 311.27,430.23 313.71,427.26 316.14,424.4 318.57,421.66 321,419.04 323.44,416.56 325.87,414.23 328.3,412.07 330.73,410.08 333.16,408.27 335.6,406.65 338.03,405.23 340.46,404.02 342.89,403.02 345.33,402.23 347.76,401.67 350.19,401.33 352.62,401.22 355.06,401.33 357.49,401.67 359.92,402.23 362.36,403.02 364.79,404.02 367.22,405.23 369.65,406.65 372.08,408.27 374.52,410.08 376.95,412.07 379.38,414.23 381.81,416.56 384.25,419.04 386.68,421.66 389.11,424.4 391.55,427.26 393.98,430.23 396.41,433.28 398.84,436.41 401.27,439.6 403.71,442.84 406.14,446.11 408.57,449.41 411,452.71 413.44,456.01 415.87,459.3 418.3,462.55 420.74,465.76 423.17,468.91 425.6,472 428.03,475.01 430.47,477.93 432.9,480.76 435.33,483.47 437.76,486.07 440.19,488.54 442.63,490.88 445.06,493.08 447.49,495.12 449.93,497.01 452.36,498.74 454.79,500.3 457.22,501.69 459.65,502.9 462.09,503.93 464.52,504.78 466.95,505.45 469.38,505.92 471.82,506.21 474.25,506.3 476.68,506.21 479.12,505.92 481.55,505.45 483.98,504.78 486.41,503.93 488.85,502.9 491.28,501.69 493.71,500.3 496.14,498.74 498.58,497.01 501.01,495.12 503.44,493.08 505.87,490.88 508.31,488.54 510.74,486.07 513.17,483.47 515.6,480.76 518.03,477.93 520.47,475.01 522.9,472 525.33,468.91 527.76,465.76 530.2,462.55 532.63,459.3 535.06,456.01 537.5,452.71 539.93,449.41 542.36,446.11 544.79,442.84 547.23,439.6 549.66,436.41 552.09,433.28 554.52,430.23 556.96,427.26 559.39,424.4 561.82,421.66 564.25,419.04 566.68,416.56 569.12,414.23 571.55,412.07 573.98,410.08 576.41,408.27 578.85,406.65 581.28,405.23 583.71,404.02 586.14,403.02 588.58,402.23 591.01,401.67 593.44,401.33 595.88,401.22 598.31,401.33 600.74,401.67 603.17,402.23 605.61,403.02 608.04,404.02 610.47,405.23 612.9,406.65 615.34,408.27 617.77,410.08 620.2,412.07 622.63,414.23 625.07,416.56 627.5,419.04 629.93,421.66 632.36,424.4 634.8,427.26 637.23,430.23 639.66,433.28 642.09,436.41 644.53,439.6 646.96,442.84 649.39,446.11 651.82,449.41 654.25,452.71 656.69,456.01 659.12,459.3 661.55,462.55 663.99,465.76 666.42,468.91 668.85,472 671.28,475.01 673.72,477.93 676.15,480.76 678.58,483.47 681.01,486.07 683.44,488.54 685.88,490.88 688.31,493.08 690.74,495.12 693.17,497.01 695.61,498.74 698.04,500.3 700.47,501.69 702.9,502.9 705.34,503.93 707.77,504.78 710.2,505.45 712.63,505.92 715.07,506.21 717.5,506.3 719.93,506.21 722.37,505.92 724.8,505.45 727.23,504.78 729.66,503.93 732.1,502.9 734.53,501.69 736.96,500.3 739.39,498.74 741.83,497.01 744.26,495.12 746.69,493.08 749.12,490.88 751.56,488.54 753.99,486.07 756.42,483.47 758.85,480.76 761.29,477.93 763.72,475.01 766.15,472 768.58,468.91 771.02,465.76 773.45,462.55 775.88,459.3 778.31,456.01 780.75,452.71 783.18,449.41 785.61,446.11 788.04,442.84 790.47,439.6 792.91,436.41 795.34,433.28 797.77,430.23 800.2,427.26 802.64,424.4 805.07,421.66 807.5,419.04 809.93,416.56 812.37,414.23 814.8,412.07 817.23,410.08 819.66,408.27 822.1,406.65 824.53,405.23 826.96,404.02 829.39,403.02 831.83,402.23 834.26,401.67 836.69,401.33 839.12,401.22 841.56,401.33 843.99,401.67 846.42,402.23 848.86,403.02 851.29,404.02 853.72,405.23 856.15,406.65 858.59,408.27 861.02,410.08 863.45,412.07 865.88,414.23 868.32,416.56 870.75,419.04 873.18,421.66 875.61,424.4 878.05,427.26 880.48,430.23 882.91,433.28 885.34,436.41 887.78,439.6 890.21,442.84 892.64,446.11 895.07,449.41 897.5,452.71 899.94,456.01 902.37,459.3 904.8,462.55 907.24,465.76 909.67,468.91 912.1,472 914.53,475.01 916.97,477.93 919.4,480.76 921.83,483.47 924.26,486.07 926.69,488.54 929.13,490.88 931.56,493.08 933.99,495.12 936.42,497.01 938.86,498.74 941.29,500.3 943.72,501.69 946.15,502.9 948.59,503.93 951.02,504.78 953.45,505.45 955.88,505.92 958.32,506.21 960.75,506.3 963.18,506.21 965.62,505.92 968.05,505.45 970.48,504.78 972.91,503.93 975.35,502.9 977.78,501.69 980.21,500.3 982.64,498.74 985.08,497.01 987.51,495.12 989.94,493.08 992.37,490.88 994.81,488.54 997.24,486.07 999.67,483.47 1002.1,480.76 1004.54,477.93 1006.97,475.01 1009.4,472 1011.83,468.91 1014.27,465.76 1016.7,462.55 1019.13,459.3 1021.56,456.01 1024,452.71 1026.43,449.41 1028.86,446.11 1031.29,442.84 1033.72,439.6 1036.16,436.41 1038.59,433.28 1041.02,430.23 1043.45,427.26 1045.89,424.4 1048.32,421.66 1050.75,419.04 1053.18,416.56 1055.62,414.23 1058.05,412.07 1060.48,410.08 1062.91,408.27 1065.35,406.65 1067.78,405.23 1070.21,404.02 1072.64,403.02 1075.08,402.23 1077.51,401.67 1079.94,401.33 1082.38,401.22 1084.81,401.33 1087.24,401.67 1089.67,402.23 1092.11,403.02 1094.54,404.02 1096.97,405.23 1099.4,406.65 1101.84,408.27 1104.27,410.08 1106.7,412.07 1109.13,414.23 1111.57,416.56 1114,419.04 1116.43,421.66 1118.86,424.4 1121.3,427.26 1123.73,430.23 1126.16,433.28 1128.59,436.41 1131.03,439.6 1133.46,442.84 1135.89,446.11 1138.32,449.41 1140.76,452.71 1143.19,456.01 1145.62,459.3 1148.05,462.55 1150.49,465.76 1152.92,468.91 1155.35,472 1157.78,475.01 1160.22,477.93 1162.65,480.76 1165.08,483.47 1167.51,486.07 1169.94,488.54 1172.38,490.88 1174.81,493.08 1177.24,495.12 1179.67,497.01 1182.11,498.74 1184.54,500.3 1186.97,501.69 1189.4,502.9 1191.84,503.93 1194.27,504.78 1196.7,505.45 1199.13,505.92 1201.57,506.21 1204,506.3 1204.6,506.3" stroke="#0000ff" stroke-width="4.45" stroke-dasharray="17.68 16.66"/>
</g>
<text transform="translate(218.9 25.6) scale(1 1.04)" font-size="30.1" text-anchor="end" fill="#262626">1.00</text>
<text transform="translate(218.9 102.31) scale(1 1.04)" font-size="30.1" text-anchor="end" fill="#262626">0.99</text>
<text transform="translate(218.9 179.02) scale(1 1.04)" font-size="30.1" text-anchor="end" fill="#262626">0.98</text>
<text transform="translate(218.9 255.73) scale(1 1.04)" font-size="30.1" text-anchor="end" fill="#262626">0.97</text>
<text transform="translate(218.9 332.44) scale(1 1.04)" font-size="30.1" text-anchor="end" fill="#262626">0.96</text>
<text transform="translate(218.9 409.15) scale(1 1.04)" font-size="30.1" text-anchor="end" fill="#262626">0.95</text>
<text transform="translate(218.9 485.86) scale(1 1.04)" font-size="30.1" text-anchor="end" fill="#262626">0.94</text>
<text transform="translate(218.9 562.57) scale(1 1.04)" font-size="30.1" text-anchor="end" fill="#262626">0.93</text>
<text transform="translate(218.9 639.28) scale(1 1.04)" font-size="30.1" text-anchor="end" fill="#262626">0.92</text>
<text transform="translate(218.9 715.99) scale(1 1.04)" font-size="30.1" text-anchor="end" fill="#262626">0.91</text>
<text transform="translate(218.9 792.7) scale(1 1.04)" font-size="30.1" text-anchor="end" fill="#262626">0.90</text>
<text transform="translate(356.62 822.2) scale(1 1.005)" font-size="30.1" text-anchor="middle" font-weight="bold" fill="#262626">Top edge</text>
<text transform="translate(599.88 822.2) scale(1 1.005)" font-size="30.1" text-anchor="middle" font-weight="bold" fill="#262626">Right edge</text>
<text transform="translate(843.12 822.2) scale(1 1.005)" font-size="30.1" text-anchor="middle" font-weight="bold" fill="#262626">Bottom edge</text>
<text transform="translate(1086.38 822.2) scale(1 1.005)" font-size="30.1" text-anchor="middle" font-weight="bold" fill="#262626">Left edge</text>
<text transform="translate(128.5 392.7) rotate(-90) scale(1 1.025)" font-size="33" text-anchor="middle" font-weight="bold" fill="#262626">Normalized PO<tspan font-size="25" dy="16.3">2</tspan></text>
<text transform="translate(278.8 94.5) scale(1 1.005)" font-size="30.05" font-weight="bold" fill="#000">Physiological</text>
<text transform="translate(278.8 546.1) scale(1 1.005)" font-size="30.05" font-weight="bold" fill="#000">Pathological</text>
<rect x="981.7" y="648.5" width="200.9" height="110.3" fill="#fff" stroke="#262626" stroke-width="2"/>
<line x1="991" y1="669" x2="1080" y2="669" stroke="#00ff00" stroke-width="4.45"/>
<text transform="translate(1086.3 680) scale(1 1.005)" font-size="27.2" fill="#000">Square</text>
<line x1="991" y1="703.6" x2="1080" y2="703.6" stroke="#ff00ff" stroke-width="4.45"/>
<text transform="translate(1086.3 714.6) scale(1 1.005)" font-size="27.2" fill="#000">Ellipse</text>
<line x1="991" y1="738.2" x2="1080" y2="738.2" stroke="#0000ff" stroke-width="4.45"/>
<text transform="translate(1086.3 749.2) scale(1 1.005)" font-size="27.2" fill="#000">Circle</text>
<text transform="translate(108.7 30.8) scale(1.08 1.045)" font-size="39.2" font-weight="bold" fill="#000">A</text>
</g>
<g id="heatB">
<rect x="65.4" y="954.5" width="533.9" height="487.2" fill="#3ec1ff"/>
<g transform="translate(69.4 958.5) scale(0.1)">
<path fill="#40bfff" d="M4996 4832l-4733 0 -10-40 -4-38 -11-39 -15-28 -12-20 -32-36 -21-17 -20-14 -43-21 -42-12 -32-4 -21-1 -40-10 0-4312 40-10 21-1 32-4 42-12 43-21 20-14 21-17 32-36 12-20 15-28 11-39 4-38 10-40 4733 0 10 40 4 38 11 39 15 28 12 20 32 36 21 17 20 14 43 21 42 12 32 4 21 1 40 10 0 4312 -40 10 -21 1 -32 4 -42 12 -43 21 -20 14 -21 17 -32 36 -12 20 -15 28 -11 39 -4 38 -10 40z"/>
<path fill="#42bdff" d="M4796 4832l-4333 0 -8-40 -2-38 -5-29 -10-38 -15-39 -20-38 -26-38 -30-36 -31-32 -35-28 -39-27 -42-24 -42-18 -42-14 -42-10 -32-4 -42-2 -40-7 0-3948 40-7 42-2 32-4 42-10 42-14 42-18 42-24 39-27 35-28 31-32 30-36 26-38 20-38 15-39 10-38 5-29 2-38 8-40 4333 0 8 40 2 38 5 29 10 38 15 39 20 38 26 38 30 36 31 32 35 28 39 27 42 24 42 18 42 14 42 10 32 4 42 2 40 7 0 3948 -40 7 -42 2 -32 4 -42 10 -42 14 -42 18 -42 24 -39 27 -35 28 -31 32 -30 36 -26 38 -20 38 -15 39 -10 38 -5 29 -2 38 -8 40z"/>
<path fill="#44bbff" d="M4659 4832l-4059 0 -6-78 -5-39 -13-48 -19-48 -31-57 -32-46 -41-50 -43-42 -52-44 -53-37 -53-30 -52-24 -53-19 -63-14 -42-6 -82-4 0-3700 82-4 42-6 63-14 53-19 52-24 53-30 53-37 52-44 43-42 41-50 32-46 31-57 19-48 13-48 5-39 6-78 4059 0 6 78 5 39 13 48 19 48 31 57 32 46 41 50 43 42 52 44 53 37 53 30 52 24 53 19 63 14 42 6 82 4 0 3700 -82 4 -42 6 -63 14 -53 19 -52 24 -53 30 -53 37 -52 44 -43 42 -41 50 -32 46 -31 57 -19 48 -13 48 -5 39 -6 78z"/>
<path fill="#46b9ff" d="M4544 4832l-3829 0 -4-78 -7-48 -16-58 -24-57 -32-58 -43-61 -53-62 -52-52 -63-54 -63-45 -63-37 -72-34 -65-23 -63-14 -53-7 -82-4 0-3488 82-4 53-7 63-14 65-23 72-34 63-37 63-45 63-54 52-52 53-62 43-61 32-58 24-57 16-58 7-48 4-78 3829 0 4 78 7 48 16 58 24 57 32 58 43 61 53 62 52 52 63 54 63 45 63 37 72 34 65 23 63 14 53 7 82 4 0 3488 -82 4 -53 7 -63 14 -65 23 -72 34 -63 37 -63 45 -63 54 -52 52 -53 62 -43 61 -32 58 -24 57 -16 58 -7 48 -4 78z"/>
<path fill="#48b7ff" d="M4439 4832l-3619 0 -6-88 -11-57 -18-58 -28-62 -36-63 -48-67 -58-67 -68-67 -74-63 -73-54 -74-45 -74-37 -73-28 -63-16 -63-10 -93-6 0-3296 93-6 63-10 63-16 73-28 74-37 74-45 73-54 74-63 68-67 58-67 48-67 36-63 28-62 18-58 11-57 6-88 3619 0 6 88 11 57 18 58 28 62 36 63 48 67 58 67 68 67 74 63 73 54 74 45 74 37 73 28 63 16 63 10 93 6 0 3296 -93 6 -63 10 -63 16 -73 28 -74 37 -74 45 -73 54 -74 63 -68 67 -58 67 -48 67 -36 63 -28 62 -18 58 -11 57 -6 88z"/>
<path fill="#4ab5ff" d="M4344 4832l-3429 0 -6-88 -10-57 -22-68 -31-67 -47-75 -52-70 -66-75 -81-80 -85-72 -78-59 -79-51 -85-44 -73-29 -74-21 -63-11 -103-7 0-3124 103-7 63-11 74-21 73-29 85-44 79-51 78-59 85-72 81-80 66-75 52-70 47-75 31-67 22-68 10-57 6-88 3429 0 6 88 10 57 22 68 31 67 47 75 52 70 66 75 81 80 85 72 78 59 79 51 85 44 73 29 74 21 63 11 103 7 0 3124 -103 7 -63 11 -74 21 -73 29 -85 44 -79 51 -78 59 -85 72 -81 80 -66 75 -52 70 -47 75 -31 67 -22 68 -10 57 -6 88z"/>
<path fill="#4cb3ff" d="M4249 4832l-3239 0 -9-40 -2-38 -3-29 -13-58 -25-67 -34-67 -50-76 -64-83 -74-81 -88-86 -91-78 -94-72 -84-55 -84-47 -43-19 -42-17 -73-22 -63-12 -74-5 -40-8 0-2952 40-8 74-5 63-12 73-22 42-17 43-19 84-47 84-55 94-72 91-78 88-86 74-81 64-83 50-76 34-67 25-67 13-58 3-29 2-38 9-40 3239 0 9 40 2 38 3 29 13 58 25 67 34 67 50 76 64 83 74 81 88 86 91 78 94 72 84 55 84 47 43 19 42 17 73 22 63 12 74 5 40 8 0 2952 -40 8 -74 5 -63 12 -73 22 -42 17 -43 19 -84 47 -84 55 -94 72 -91 78 -88 86 -74 81 -64 83 -50 76 -34 67 -25 67 -13 58 -3 29 -2 38 -9 40z"/>
<path fill="#4eb1ff" d="M4165 4832l-3071 0 -8-40 -1-29 -4-38 -13-58 -25-67 -19-38 -22-38 -24-39 -34-48 -70-86 -85-92 -95-91 -98-85 -102-80 -94-65 -53-31 -42-23 -84-38 -74-24 -73-15 -42-4 -32-1 -40-7 0-2798 40-7 32-1 42-4 73-15 74-24 84-38 42-23 53-31 94-65 102-80 98-85 95-91 85-92 70-86 34-48 24-39 22-38 19-38 25-67 13-58 4-38 1-29 8-40 3071 0 8 40 1 29 4 38 13 58 25 67 19 38 22 38 24 39 34 48 70 86 85 92 95 91 98 85 102 80 94 65 53 31 42 23 84 38 74 24 73 15 42 4 32 1 40 7 0 2798 -40 7 -32 1 -42 4 -73 15 -74 24 -84 38 -42 23 -53 31 -94 65 -102 80 -98 85 -95 91 -85 92 -70 86 -34 48 -24 39 -22 38 -19 38 -25 67 -13 58 -4 38 -1 29 -8 40z"/>
<path fill="#50afff" d="M4081 4832l-2903 0 -9-40 -2-38 -5-39 -15-57 -28-67 -19-39 -23-38 -26-38 -35-48 -80-96 -91-96 -110-105 -114-100 -116-92 -95-66 -94-57 -85-40 -42-16 -42-13 -63-13 -42-6 -42-1 -40-8 0-2646 40-8 42-1 42-6 63-13 42-13 42-16 85-40 94-57 95-66 116-92 114-100 110-105 91-96 80-96 35-48 26-38 23-38 19-39 28-67 15-57 5-39 2-38 9-40 2903 0 9 40 2 38 5 39 15 57 28 67 19 39 23 38 26 38 35 48 80 96 91 96 110 105 114 100 116 92 95 66 94 57 85 40 42 16 42 13 63 13 42 6 42 1 40 8 0 2646 -40 8 -42 1 -42 6 -63 13 -42 13 -42 16 -85 40 -94 57 -95 66 -116 92 -114 100 -110 105 -91 96 -80 96 -35 48 -26 38 -23 38 -19 39 -28 67 -15 57 -5 39 -2 38 -9 40z"/>
<path fill="#52adff" d="M4007 4832l-2755 0 -5-88 -5-29 -9-38 -13-38 -17-39 -19-38 -29-48 -27-38 -36-48 -81-96 -106-110 -127-121 -129-114 -123-100 -63-47 -53-36 -94-58 -53-27 -42-19 -42-16 -42-13 -42-9 -42-6 -93-4 0-2512 93-4 42-6 42-9 42-13 42-16 42-19 53-27 94-58 53-36 63-47 123-100 129-114 127-121 106-110 81-96 36-48 27-38 29-48 19-38 17-39 13-38 9-38 5-29 5-88 2755 0 5 88 5 29 9 38 13 38 17 39 19 38 29 48 27 38 36 48 81 96 106 110 127 121 129 114 123 100 63 47 53 36 94 58 53 27 42 19 42 16 42 13 42 9 42 6 93 4 0 2512 -93 4 -42 6 -42 9 -42 13 -42 16 -42 19 -53 27 -94 58 -53 36 -63 47 -123 100 -129 114 -127 121 -106 110 -81 96 -36 48 -27 38 -29 48 -19 38 -17 39 -13 38 -9 38 -5 29 -5 88z"/>
<path fill="#54abff" d="M3923 4832l-2587 0 -6-40 -4-58 -6-28 -11-39 -14-38 -18-38 -22-39 -31-48 -65-86 -94-105 -114-115 -141-133 -147-130 -137-113 -116-86 -94-59 -53-29 -42-19 -42-17 -42-13 -42-10 -32-5 -63-4 -40-5 0-2358 40-5 63-4 32-5 42-10 42-13 42-17 42-19 53-29 94-59 116-86 137-113 147-130 141-133 114-115 94-105 65-86 31-48 22-39 18-38 14-38 11-39 6-28 4-58 6-40 2587 0 6 40 4 58 6 28 11 39 14 38 18 38 22 39 31 48 65 86 94 105 114 115 141 133 147 130 137 113 116 86 94 59 53 29 42 19 42 17 42 13 42 10 32 5 63 4 40 5 0 2358 -40 5 -63 4 -32 5 -42 10 -42 13 -42 17 -42 19 -53 29 -94 59 -116 86 -137 113 -147 130 -141 133 -114 115 -94 105 -65 86 -31 48 -22 39 -18 38 -14 38 -11 39 -6 28 -4 58 -6 40z"/>
<path fill="#56a9ff" d="M3839 4832l-2419 0 -9-40 -2-29 -5-38 -7-29 -12-38 -17-39 -19-38 -24-38 -26-39 -68-86 -97-105 -126-125 -156-145 -179-160 -137-116 -115-89 -95-63 -53-31 -42-21 -42-18 -42-15 -42-11 -31-6 -42-5 -32-1 -40-9 0-2204 40-9 32-1 42-5 31-6 42-11 42-15 42-18 42-21 53-31 95-63 115-89 137-116 179-160 156-145 126-125 97-105 68-86 26-39 24-38 19-38 17-39 12-38 7-29 5-38 2-29 9-40 2419 0 9 40 2 29 5 38 7 29 12 38 17 39 19 38 24 38 26 39 68 86 97 105 126 125 156 145 179 160 137 116 115 89 95 63 53 31 42 21 42 18 42 15 42 11 31 6 42 5 32 1 40 9 0 2204 -40 9 -32 1 -42 5 -31 6 -42 11 -42 15 -42 18 -42 21 -53 31 -95 63 -115 89 -137 116 -179 160 -156 145 -126 125 -97 105 -68 86 -26 39 -24 38 -19 38 -17 39 -12 38 -7 29 -5 38 -2 29 -9 40z"/>
<path fill="#58a7ff" d="M3765 4832l-2271 0 -6-88 -6-29 -11-38 -15-38 -19-39 -23-38 -33-48 -70-86 -100-106 -118-115 -187-172 -222-201 -137-119 -116-94 -52-38 -53-36 -53-32 -42-22 -52-24 -42-14 -42-12 -42-7 -93-5 0-2070 93-5 42-7 42-12 42-14 52-24 42-22 53-32 53-36 52-38 116-94 137-119 222-201 187-172 118-115 100-106 70-86 33-48 23-38 19-39 15-38 11-38 6-29 6-88 2271 0 6 88 6 29 11 38 15 38 19 39 23 38 33 48 70 86 100 106 118 115 187 172 222 201 137 119 116 94 52 38 53 36 53 32 42 22 52 24 42 14 42 12 42 7 93 5 0 2070 -93 5 -42 7 -42 12 -42 14 -52 24 -42 22 -53 32 -53 36 -52 38 -116 94 -137 119 -222 201 -187 172 -118 115 -100 106 -70 86 -33 48 -23 38 -19 39 -15 38 -11 38 -6 29 -6 88z"/>
<path fill="#5aa5ff" d="M3681 4832l-2103 0 -8-88 -6-29 -8-28 -11-29 -19-39 -42-67 -59-76 -70-77 -97-96 -134-124 -556-506 -116-99 -105-80 -52-35 -53-31 -53-27 -42-16 -42-13 -42-9 -103-9 0-1916 103-9 42-9 42-13 42-16 53-27 53-31 52-35 105-80 116-99 556-506 134-124 97-96 70-77 59-76 42-67 19-39 11-29 8-28 6-29 8-88 2103 0 8 88 6 29 8 28 11 29 19 39 42 67 59 76 70 77 97 96 134 124 556 506 116 99 105 80 52 35 53 31 53 27 42 16 42 13 42 9 103 9 0 1916 -103 9 -42 9 -42 13 -42 16 -53 27 -53 31 -52 35 -105 80 -116 99 -556 506 -134 124 -97 96 -70 77 -59 76 -42 67 -19 39 -11 29 -8 28 -6 29 -8 88z"/>
<path fill="#5ca3ff" d="M3597 4832l-1935 0 -6-78 -10-48 -10-29 -13-29 -33-57 -50-67 -59-67 -75-77 -92-86 -386-345 -413-382 -94-82 -74-59 -52-37 -53-34 -53-28 -42-18 -42-14 -42-9 -31-4 -72-4 0-1764 72-4 31-4 42-9 42-14 42-18 53-28 53-34 52-37 74-59 94-82 413-382 386-345 92-86 75-77 59-67 50-67 33-57 13-29 10-29 10-48 6-78 1935 0 6 78 10 48 10 29 13 29 33 57 50 67 59 67 75 77 92 86 386 345 413 382 94 82 74 59 52 37 53 34 53 28 42 18 42 14 42 9 31 4 72 4 0 1764 -72 4 -31 4 -42 9 -42 14 -42 18 -53 28 -53 34 -52 37 -74 59 -94 82 -413 382 -386 345 -92 86 -75 77 -59 67 -50 67 -33 57 -13 29 -10 29 -10 48 -6 78z"/>
<path fill="#5ea1ff" d="M3502 4832l-1745 0 -9-40 -5-48 -7-29 -18-48 -27-48 -40-57 -49-58 -66-67 -71-67 -97-86 -264-227 -126-113 -161-149 -323-309 -84-76 -73-61 -53-40 -42-28 -53-30 -42-20 -42-15 -31-9 -42-6 -32-2 -40-8 0-1590 40-8 32-2 42-6 31-9 42-15 42-20 53-30 42-28 53-40 73-61 84-76 323-309 161-149 126-113 264-227 97-86 71-67 66-67 49-58 40-57 27-48 18-48 7-29 5-48 9-40 1745 0 9 40 5 48 7 29 18 48 27 48 40 57 49 58 66 67 71 67 97 86 264 227 126 113 161 149 323 309 84 76 73 61 53 40 42 28 53 30 42 20 42 15 31 9 42 6 32 2 40 8 0 1590 -40 8 -32 2 -42 6 -31 9 -42 15 -42 20 -53 30 -42 28 -53 40 -73 61 -84 76 -323 309 -161 149 -126 113 -264 227 -97 86 -71 67 -66 67 -49 58 -40 57 -27 48 -18 48 -7 29 -5 48 -9 40z"/>
<path fill="#609fff" d="M3408 4832l-1557 0 -8-40 -4-38 -6-29 -15-38 -20-39 -32-48 -39-48 -55-57 -61-58 -110-95 -334-278 -178-157 -100-93 -100-95 -347-346 -74-68 -63-54 -42-32 -42-29 -42-26 -42-20 -42-16 -32-8 -31-5 -32-2 -40-8 0-1418 40-8 32-2 31-5 32-8 42-16 42-20 42-26 42-29 42-32 63-54 74-68 347-346 100-95 100-93 178-157 334-278 110-95 61-58 55-57 39-48 32-48 20-39 15-38 6-29 4-38 8-40 1557 0 8 40 4 38 6 29 15 38 20 39 32 48 39 48 55 57 61 58 110 95 334 278 178 157 100 93 100 95 347 346 74 68 63 54 42 32 42 29 42 26 42 20 42 16 32 8 31 5 32 2 40 8 0 1418 -40 8 -32 2 -31 5 -32 8 -42 16 -42 20 -42 26 -42 29 -42 32 -63 54 -74 68 -347 346 -100 95 -100 93 -178 157 -334 278 -110 95 -61 58 -55 57 -39 48 -32 48 -20 39 -15 38 -6 29 -4 38 -8 40z"/>
<path fill="#629dff" d="M3303 4832l-1347 0 -10-40 -2-29 -6-29 -11-28 -19-39 -26-38 -31-38 -36-39 -50-48 -65-57 -70-58 -273-215 -126-103 -116-97 -105-94 -112-104 -117-115 -381-397 -63-61 -64-56 -42-34 -42-29 -42-25 -31-15 -53-17 -31-6 -32-2 -40-10 0-1226 40-10 32-2 31-6 53-17 31-15 42-25 42-29 42-34 64-56 63-61 381-397 117-115 112-104 105-94 116-97 126-103 273-215 70-58 65-57 50-48 36-39 31-38 26-38 19-39 11-28 6-29 2-29 10-40 1347 0 10 40 2 29 6 29 11 28 19 39 26 38 31 38 36 39 50 48 65 57 70 58 273 215 126 103 116 97 105 94 112 104 117 115 381 397 63 61 64 56 42 34 42 29 42 25 31 15 53 17 31 6 32 2 40 10 0 1226 -40 10 -32 2 -31 6 -53 17 -31 15 -42 25 -42 29 -42 34 -64 56 -63 61 -381 397 -117 115 -112 104 -105 94 -116 97 -126 103 -273 215 -70 58 -65 57 -50 48 -36 39 -31 38 -26 38 -19 39 -11 28 -6 29 -2 29 -10 40z"/>
<path fill="#649bff" d="M3187 4832l-1115 0 -9-40 -1-19 -6-29 -7-19 -14-29 -18-29 -30-38 -27-29 -39-38 -67-58 -72-57 -341-254 -147-114 -137-112 -126-111 -116-109 -123-124 -135-144 -289-322 -84-86 -63-57 -63-47 -32-19 -31-15 -32-12 -21-5 -42-4 -40-8 0-1016 40-8 42-4 21-5 32-12 31-15 32-19 63-47 63-57 84-86 289-322 135-144 123-124 116-109 126-111 137-112 147-114 341-254 72-57 67-58 39-38 27-29 30-38 18-29 14-29 7-19 6-29 1-19 9-40 1115 0 9 40 1 19 6 29 7 19 14 29 18 29 30 38 27 29 39 38 67 58 72 57 341 254 147 114 137 112 126 111 116 109 123 124 135 144 289 322 84 86 63 57 63 47 32 19 31 15 32 12 21 5 42 4 40 8 0 1016 -40 8 -42 4 -21 5 -32 12 -31 15 -32 19 -63 47 -63 57 -84 86 -289 322 -135 144 -123 124 -116 109 -126 111 -137 112 -147 114 -341 254 -72 57 -67 58 -39 38 -27 29 -30 38 -18 29 -14 29 -7 19 -6 29 -1 19 -9 40z"/>
<path fill="#6699ff" d="M3050 4832l-841 0 -4-59 -5-19 -12-29 -12-19 -21-29 -27-29 -30-29 -69-57 -78-58 -373-257 -158-113 -147-113 -134-111 -87-77 -92-86 -86-86 -91-96 -86-96 -83-95 -298-360 -64-71 -52-53 -32-28 -31-26 -32-21 -31-17 -21-8 -21-5 -72-6 0-766 72-6 21-5 21-8 31-17 32-21 31-26 32-28 52-53 64-71 298-360 83-95 86-96 91-96 86-86 92-86 87-77 134-111 147-113 158-113 373-257 78-58 69-57 30-29 27-29 21-29 12-19 12-29 5-19 4-59 841 0 4 59 5 19 12 29 12 19 21 29 27 29 30 29 69 57 78 58 373 257 158 113 147 113 134 111 87 77 92 86 86 86 91 96 86 96 83 95 298 360 64 71 52 53 32 28 31 26 32 21 31 17 21 8 21 5 72 6 0 766 -72 6 -21 5 -21 8 -31 17 -32 21 -31 26 -32 28 -52 53 -64 71 -298 360 -83 95 -86 96 -91 96 -86 86 -92 86 -87 77 -134 111 -147 113 -158 113 -373 257 -78 58 -69 57 -30 29 -27 29 -21 29 -12 19 -12 29 -5 19 -4 59z"/>
<path fill="#6897ff" d="M2829 4832l-399 0 -7-50 -2-9 -9-19 -15-20 -18-19 -47-38 -55-38 -74-48 -373-226 -200-127 -179-122 -84-61 -84-65 -137-113 -132-120 -125-125 -122-134 -98-115 -106-134 -116-153 -226-311 -63-81 -42-48 -42-40 -32-21 -21-9 -10-2 -51-6 0-364 61-8 32-15 21-15 21-18 42-45 84-106 248-339 124-163 141-173 67-76 70-77 123-125 131-121 137-114 147-113 137-96 147-97 169-105 341-207 88-57 54-39 43-38 24-29 9-19 2-9 7-50 399 0 7 50 2 9 9 19 15 20 18 19 47 38 55 38 74 48 373 226 200 127 179 122 84 61 84 65 137 113 132 120 125 125 122 134 98 115 106 134 116 153 226 311 63 81 42 48 42 40 32 21 21 9 10 2 51 6 0 364 -61 8 -32 15 -21 15 -21 18 -42 45 -84 106 -248 339 -124 163 -141 173 -67 76 -70 77 -123 125 -131 121 -137 114 -147 113 -137 96 -147 97 -169 105 -341 207 -88 57 -54 39 -43 38 -24 29 -9 19 -2 9 -7 50z"/>
<path fill="#6a95ff" d="M2661 4630l-63 0 -63-7 -74-16 -63-19 -84-31 -95-40 -115-55 -116-59 -126-69 -127-73 -126-78 -105-69 -105-74 -95-71 -94-76 -95-82 -84-78 -82-81 -81-87 -84-96 -78-95 -81-106 -77-105 -71-106 -74-115 -63-105 -53-96 -42-86 -28-67 -22-67 -14-67 -4-58 4-58 14-67 22-67 28-67 42-86 53-96 63-105 67-106 72-105 83-115 73-96 78-96 75-86 80-86 79-80 84-80 84-74 95-78 94-73 95-68 105-71 105-67 127-75 115-66 116-61 116-58 105-48 95-38 73-26 74-20 73-12 64-4 63 4 73 12 74 20 73 26 95 38 105 48 116 58 116 61 115 66 127 75 105 67 105 71 95 68 94 73 88 72 87 77 82 76 85 87 80 86 75 86 78 96 73 96 83 115 72 105 67 106 63 105 53 96 42 86 28 67 22 67 14 67 4 58 -4 58 -11 57 -21 67 -27 67 -37 77 -52 96 -56 96 -73 115 -70 105 -75 105 -80 106 -77 96 -82 95 -79 87 -78 79 -84 80 -84 75 -85 70 -94 74 -95 69 -95 65 -105 68 -105 64 -126 73 -116 63 -116 59 -115 55 -95 40 -74 27 -73 23 -74 16 -63 7z"/>
<path fill="#6c93ff" d="M2724 4534l-73 5 -74-2 -74-7 -73-14 -95-24 -84-28 -105-40 -95-41 -116-56 -126-66 -116-65 -115-71 -105-70 -106-74 -94-73 -95-79 -84-75 -86-83 -83-87 -76-86 -79-96 -74-96 -75-105 -70-105 -64-106 -58-105 -48-96 -37-86 -28-77 -21-77 -12-67 -5-67 1-67 9-67 14-67 24-77 29-76 40-87 49-96 54-95 66-106 64-96 75-105 74-96 80-96 77-86 83-86 80-77 86-77 90-74 94-73 95-67 105-70 105-65 116-67 105-56 105-52 106-48 94-39 95-34 84-25 84-19 74-11 73-5 74 2 74 7 73 14 84 21 85 27 94 36 105 45 106 49 115 60 106 58 115 69 105 67 106 73 94 70 95 76 84 73 84 78 82 82 80 86 74 86 76 96 72 96 73 105 62 96 57 96 52 96 43 86 37 86 28 77 21 77 12 67 5 67 -1 67 -9 67 -14 67 -21 67 -28 77 -34 77 -49 95 -53 96 -64 106 -64 95 -67 96 -72 96 -78 96 -76 86 -72 77 -82 82 -84 78 -85 72 -84 67 -94 70 -95 66 -95 61 -105 64 -105 59 -105 56 -105 51 -106 47 -94 38 -84 29 -85 25 -73 16 -74 11z"/>
<path fill="#6e91ff" d="M2745 4467l-73 5 -85 0 -84-7 -84-13 -84-18 -95-28 -94-33 -95-37 -105-47 -116-57 -105-56 -116-68 -105-66 -105-73 -95-71 -94-77 -85-75 -84-80 -78-82 -76-86 -71-86 -73-96 -67-96 -68-105 -56-96 -56-105 -45-96 -35-87 -26-76 -19-77 -14-77 -6-76 0-67 7-77 13-67 19-77 26-76 35-87 40-86 50-96 55-96 61-95 65-96 71-96 78-96 75-86 81-87 77-75 85-76 84-70 84-65 94-68 95-63 105-65 106-59 105-55 105-51 105-46 95-36 94-32 85-23 84-18 84-13 73-5 85 0 73 5 84 13 84 18 85 23 94 32 95 36 105 46 105 51 105 55 106 59 105 65 105 70 95 69 94 74 83 70 83 77 77 77 72 76 74 87 70 86 71 96 65 96 61 95 55 96 50 96 40 86 35 87 26 76 19 77 14 77 6 76 0 67 -6 67 -14 77 -17 67 -25 77 -34 86 -39 86 -45 87 -54 95 -59 96 -65 96 -70 96 -68 86 -73 86 -70 77 -83 84 -75 70 -83 72 -84 67 -84 63 -95 66 -94 60 -95 57 -105 58 -95 49 -105 49 -95 41 -94 36 -95 31 -84 23 -74 15 -84 13z"/>
<path fill="#708fff" d="M2651 4418l-85-1 -84-7 -84-13 -84-18 -95-26 -94-32 -106-40 -94-41 -105-50 -106-55 -94-55 -95-58 -95-64 -94-69 -84-67 -85-73 -83-78 -75-77 -69-77 -72-86 -66-86 -61-86 -62-96 -57-96 -52-96 -41-86 -36-86 -30-87 -22-76 -17-77 -10-77 -4-76 2-77 9-77 15-76 21-77 29-86 35-87 40-86 45-86 55-96 61-96 59-86 64-86 70-87 76-86 74-77 81-78 85-74 84-69 84-63 95-65 94-60 95-56 105-57 105-51 105-47 95-38 95-33 94-28 85-19 84-15 84-10 84-4 84 3 84 8 84 13 85 19 94 27 95 31 95 37 94 41 105 50 106 55 94 55 95 58 95 64 94 69 84 67 87 75 81 76 75 77 69 77 72 86 66 86 61 86 62 96 57 96 52 96 41 86 36 86 30 87 22 76 17 77 10 77 4 76 -2 77 -9 77 -15 76 -21 77 -29 86 -35 87 -40 86 -45 86 -55 96 -61 96 -59 86 -64 86 -70 87 -76 86 -74 77 -79 76 -76 67 -84 69 -84 64 -95 66 -95 61 -105 62 -105 57 -95 47 -105 47 -95 38 -94 33 -95 29 -84 20 -84 16 -84 10 -84 4z"/>
<path fill="#728dff" d="M2672 4371l-85 0 -84-6 -84-10 -95-18 -84-21 -94-28 -106-37 -94-38 -105-48 -95-47 -105-58 -95-57 -95-62 -84-61 -84-65 -80-68 -78-72 -71-71 -71-77 -72-86 -66-87 -61-86 -62-96 -50-86 -46-86 -45-96 -35-86 -30-87 -24-86 -16-76 -10-77 -4-77 1-77 8-76 13-77 18-77 26-86 33-86 42-96 43-86 53-96 53-86 58-86 63-87 69-86 67-77 73-76 75-73 74-66 84-69 84-64 95-65 94-60 95-55 95-50 105-51 94-41 95-37 95-32 94-27 95-22 84-14 84-9 84-4 85 1 84 7 84 12 84 16 95 25 94 29 106 38 94 39 105 49 95 48 95 53 94 58 95 63 84 61 84 66 80 68 72 67 76 77 70 77 72 86 65 86 61 86 55 87 56 96 45 86 40 86 35 86 30 87 24 86 16 76 10 77 4 77 -1 77 -8 76 -13 77 -18 77 -26 86 -33 86 -37 86 -43 87 -47 86 -58 96 -57 86 -63 86 -68 86 -67 77 -71 77 -79 76 -80 72 -84 69 -84 64 -84 58 -95 60 -94 56 -95 51 -95 46 -105 46 -95 38 -94 32 -84 25 -95 23 -84 16 -84 10 -84 6z"/>
<path fill="#748bff" d="M2756 4323l-84 5 -95 0 -95-7 -84-11 -84-15 -95-23 -94-28 -95-33 -95-37 -105-47 -95-47 -105-58 -94-57 -95-63 -84-61 -84-67 -75-65 -73-68 -73-76 -68-76 -62-77 -64-86 -65-96 -52-86 -53-96 -42-87 -41-95 -31-87 -23-76 -21-87 -12-76 -8-86 -2-77 4-77 10-77 17-86 23-86 25-77 34-86 39-86 49-96 49-86 54-87 60-86 65-86 64-77 69-76 66-68 74-68 76-66 81-63 84-61 85-55 94-57 95-53 95-47 94-43 95-38 105-37 95-29 84-21 95-19 84-11 84-7 84-2 84 3 84 8 95 15 84 18 95 25 94 30 95 35 95 39 105 49 95 49 94 54 95 59 84 57 84 63 84 68 75 67 79 77 72 77 66 76 60 77 62 86 57 86 51 87 51 95 41 87 33 76 31 87 23 76 21 87 12 76 8 86 2 77 -4 77 -10 77 -17 86 -20 76 -25 77 -33 86 -38 87 -43 86 -54 96 -54 86 -52 77 -64 86 -62 77 -68 76 -65 67 -72 69 -73 64 -74 60 -84 63 -84 57 -95 59 -84 48 -95 49 -94 45 -95 41 -95 36 -94 31 -95 26 -84 19 -84 15 -84 9z"/>
<path fill="#7689ff" d="M2766 4284l-84 5 -95 1 -84-5 -94-11 -85-14 -94-21 -95-27 -95-31 -94-35 -105-46 -106-51 -94-51 -95-56 -84-55 -84-60 -84-66 -74-64 -74-69 -69-72 -68-77 -62-77 -63-86 -57-86 -52-86 -46-87 -42-86 -40-96 -31-86 -22-77 -20-86 -13-77 -8-86 -2-77 3-76 8-77 15-86 19-77 27-86 31-86 37-87 42-86 48-86 52-86 58-87 56-76 62-77 68-77 69-72 74-69 74-64 73-58 84-61 85-55 94-57 84-47 95-47 95-42 94-38 85-30 94-29 95-24 84-17 95-14 84-7 84-3 84 2 95 7 84 12 95 18 94 23 95 29 95 33 94 38 95 42 95 47 94 53 95 57 84 56 84 62 79 64 76 67 70 67 73 77 66 76 60 77 56 77 56 86 51 86 46 86 41 87 36 86 31 86 22 77 20 86 13 77 8 86 2 77 -3 76 -8 77 -13 77 -19 76 -25 87 -32 86 -36 86 -42 86 -46 87 -52 86 -50 76 -63 87 -61 76 -67 77 -64 67 -70 67 -71 63 -73 60 -74 55 -84 57 -84 53 -95 54 -84 43 -84 40 -95 41 -94 35 -95 31 -95 27 -84 19 -84 15 -95 11z"/>
<path fill="#7887ff" d="M2787 4247l-84 6 -95 1 -84-3 -94-9 -84-13 -95-19 -95-24 -94-29 -106-38 -94-39 -95-44 -95-49 -94-54 -84-54 -85-58 -83-64 -74-63 -67-62 -67-67 -69-76 -63-77 -57-77 -58-86 -52-86 -47-87 -42-86 -37-86 -31-86 -26-87 -20-86 -14-76 -9-87 -3-76 2-77 6-77 14-86 17-77 24-86 26-77 34-86 40-86 44-86 50-87 49-76 54-77 67-86 66-77 63-67 69-67 68-60 74-60 84-63 84-56 84-51 84-47 95-48 95-43 94-38 85-30 94-29 95-24 84-17 95-15 84-8 84-4 84 0 84 5 95 11 84 15 95 20 94 26 95 31 95 35 94 41 95 45 95 50 84 49 94 61 85 60 74 58 78 67 71 67 65 67 67 77 61 76 56 77 51 77 52 86 46 86 41 86 36 87 31 86 23 77 20 86 14 76 9 87 3 76 -2 77 -6 77 -14 86 -17 77 -24 86 -26 77 -34 86 -40 86 -44 86 -50 87 -49 76 -54 77 -59 77 -65 76 -63 67 -68 68 -68 60 -73 61 -74 56 -74 50 -84 54 -84 48 -95 50 -84 39 -94 41 -95 35 -84 27 -95 27 -84 19 -84 16 -95 12z"/>
<path fill="#7a85ff" d="M2745 4217l-84 4 -95-1 -94-6 -84-11 -95-16 -95-21 -84-23 -95-31 -94-35 -95-40 -95-45 -94-50 -84-50 -84-55 -85-60 -73-58 -74-65 -63-60 -64-67 -66-77 -60-76 -55-77 -55-86 -44-77 -45-86 -39-87 -34-86 -29-86 -21-77 -18-86 -13-86 -7-77 -1-77 3-76 7-77 14-86 18-77 24-86 30-86 35-87 36-76 45-87 51-86 50-76 55-77 61-77 67-76 65-68 64-60 73-63 74-58 74-52 84-55 84-50 94-50 85-40 84-37 94-36 95-31 95-27 94-22 85-15 84-11 84-7 84-3 95 2 84 6 94 13 85 15 94 22 95 27 95 31 94 36 95 42 95 46 84 45 84 50 84 56 84 61 74 59 73 65 64 62 63 67 64 75 60 77 53 77 49 76 49 87 44 86 35 77 34 86 29 86 21 77 18 86 13 86 7 77 1 77 -3 76 -7 77 -14 86 -18 77 -24 86 -26 77 -35 86 -40 86 -45 87 -51 86 -50 76 -55 77 -61 77 -58 67 -64 67 -63 60 -74 64 -73 59 -74 53 -84 56 -84 50 -84 45 -85 42 -84 37 -94 37 -85 29 -94 29 -84 21 -95 19 -95 14 -84 8z"/>
<path fill="#7c83ff" d="M2693 4188l-85 1 -94-3 -95-9 -84-13 -95-18 -84-21 -94-27 -85-29 -94-37 -84-37 -85-41 -94-51 -84-51 -85-56 -73-55 -74-61 -64-57 -68-67 -62-67 -64-77 -57-77 -52-76 -46-77 -47-86 -38-77 -36-86 -32-87 -26-86 -21-86 -14-77 -11-86 -4-77 0-76 4-77 11-86 14-77 18-77 26-86 31-86 36-86 42-87 41-76 52-87 52-76 57-77 56-67 60-67 67-67 65-59 73-61 74-55 84-57 84-52 84-46 85-42 84-38 84-34 94-34 95-29 95-23 94-20 85-12 84-9 84-5 84 0 95 4 94 10 85 12 84 17 94 24 95 28 95 33 94 38 84 38 95 47 84 47 84 53 74 50 74 55 73 61 65 59 67 67 60 67 63 77 57 76 51 77 46 77 41 76 38 77 36 86 32 87 26 86 21 86 14 77 11 86 4 77 0 76 -4 77 -11 86 -14 77 -18 77 -26 86 -31 86 -36 86 -42 87 -41 76 -46 77 -51 77 -57 76 -55 67 -59 67 -67 68 -63 59 -74 61 -73 56 -85 58 -73 46 -84 48 -85 43 -94 44 -95 38 -84 30 -95 30 -84 22 -84 18 -95 16 -94 10 -84 5z"/>
<path fill="#7e81ff" d="M2651 4160l-95-2 -84-5 -84-10 -95-15 -95-20 -84-22 -84-26 -95-34 -84-34 -94-43 -85-43 -84-48 -84-53 -74-51 -70-55 -68-57 -61-58 -66-67 -59-67 -60-76 -55-77 -49-77 -44-76 -40-77 -35-77 -34-86 -26-77 -25-86 -17-77 -15-86 -8-77 -4-86 2-86 6-77 10-76 17-87 22-86 24-77 28-76 37-87 38-76 47-86 47-77 52-77 59-76 56-68 60-64 63-61 63-57 74-59 74-54 84-55 84-50 84-45 84-40 84-36 84-32 95-31 84-24 95-22 84-16 95-13 84-8 94-4 95 2 84 5 84 10 95 15 95 20 84 22 84 26 95 34 84 34 94 43 85 43 84 48 84 53 74 51 70 55 68 57 61 58 66 67 59 67 60 76 55 77 49 77 44 76 40 77 35 77 34 86 26 77 25 86 17 77 15 86 8 77 4 86 -2 86 -6 77 -10 76 -17 87 -22 86 -24 77 -28 76 -37 87 -38 76 -47 86 -47 77 -52 77 -59 76 -56 68 -60 64 -63 61 -63 57 -74 59 -74 54 -84 55 -84 50 -84 45 -84 40 -84 36 -84 32 -95 31 -84 24 -95 22 -84 16 -95 13 -84 8 -94 4z"/>
<path fill="#807fff" d="M2672 4131l-85 0 -94-5 -95-9 -84-13 -84-16 -95-23 -84-25 -95-32 -94-37 -84-37 -85-42 -84-46 -84-52 -74-51 -70-53 -66-56 -63-58 -58-59 -59-67 -54-67 -49-67 -51-77 -50-86 -40-77 -35-76 -35-86 -26-77 -24-86 -20-87 -13-76 -8-77 -5-86 1-87 6-76 9-77 16-86 19-77 25-86 28-77 35-86 37-77 41-76 45-77 51-77 58-76 55-67 59-64 61-61 64-58 64-52 74-54 73-49 74-45 84-46 95-46 84-36 84-32 84-28 95-27 84-21 94-18 85-12 94-9 84-4 85 0 94 5 95 9 84 13 84 16 95 23 84 25 95 32 94 37 84 37 85 42 84 46 84 52 74 51 70 53 66 56 63 58 58 59 59 67 54 67 49 67 51 77 50 86 40 77 35 76 35 86 26 77 24 86 20 87 13 76 8 77 5 86 -1 87 -6 76 -9 77 -16 86 -19 77 -25 86 -28 77 -35 86 -37 77 -41 76 -45 77 -51 77 -58 76 -55 67 -59 64 -61 61 -64 58 -64 52 -74 54 -73 49 -74 45 -84 46 -95 46 -84 36 -84 32 -84 28 -95 27 -84 21 -94 18 -85 12 -94 9 -84 4z"/>
<path fill="#827dff" d="M2714 4102l-84 2 -95-2 -84-6 -95-12 -95-16 -84-19 -84-22 -95-29 -84-30 -84-35 -84-38 -84-44 -84-49 -74-47 -74-53 -63-50 -66-58 -60-58 -62-67 -56-67 -51-67 -46-67 -47-77 -42-76 -37-77 -32-77 -32-86 -24-76 -20-77 -17-86 -12-87 -6-76 -2-77 2-77 6-76 12-87 17-86 20-77 24-76 32-86 32-77 42-86 43-77 48-77 53-76 52-67 58-68 55-57 60-58 67-57 63-49 74-52 73-47 84-48 74-38 84-38 84-35 84-30 95-29 84-22 84-19 95-16 84-11 84-6 95-3 84 1 84 6 95 10 95 15 84 18 94 24 85 25 94 33 84 34 84 38 85 43 84 48 73 47 74 52 63 49 67 57 60 58 64 67 57 67 51 67 53 77 41 67 43 77 42 86 32 77 32 86 24 76 20 77 17 86 12 87 6 76 2 77 -3 86 -6 77 -13 86 -18 86 -20 77 -24 77 -32 86 -34 77 -37 76 -43 77 -48 77 -53 76 -52 67 -58 68 -56 58 -63 60 -63 54 -73 57 -74 51 -74 46 -73 42 -85 43 -84 38 -84 34 -84 29 -95 29 -84 22 -84 18 -95 16 -94 11 -84 5z"/>
<path fill="#847bff" d="M2766 4073l-84 4 -84 1 -84-3 -95-8 -84-12 -95-17 -84-19 -94-25 -95-31 -84-32 -84-35 -85-41 -84-45 -73-45 -74-49 -63-47 -63-52 -63-57 -62-62 -51-57 -54-67 -49-68 -44-67 -45-76 -40-77 -35-77 -31-76 -26-77 -23-77 -20-86 -14-77 -10-86 -5-76 -1-77 3-77 8-86 12-77 18-86 23-86 25-77 29-77 38-86 34-67 43-77 48-76 47-67 53-67 55-64 59-61 57-53 63-53 63-49 63-44 74-46 73-42 85-43 84-38 84-34 84-29 84-26 95-24 84-18 84-13 95-12 94-6 85-2 84 2 94 6 95 12 84 13 84 18 95 24 95 29 84 30 94 39 85 39 84 44 73 44 74 47 69 51 68 54 63 56 62 62 53 58 55 67 49 67 45 67 46 77 40 76 36 77 31 77 30 86 23 77 20 86 14 77 10 86 5 76 1 87 -3 76 -9 87 -12 76 -19 87 -21 76 -28 87 -34 86 -35 76 -39 77 -44 77 -50 76 -49 68 -54 67 -51 57 -57 58 -63 57 -68 56 -63 47 -74 49 -73 45 -74 40 -84 41 -84 36 -84 32 -95 31 -84 24 -95 22 -84 16 -95 13 -84 8z"/>
<path fill="#8679ff" d="M2808 4045l-84 6 -84 2 -95-2 -84-5 -84-9 -95-15 -94-19 -84-21 -85-25 -84-29 -84-33 -84-37 -84-42 -74-42 -73-46 -63-44 -64-48 -63-54 -58-55 -55-58 -50-57 -52-67 -47-67 -42-67 -43-77 -38-77 -33-76 -29-77 -25-77 -20-76 -17-77 -14-86 -8-77 -4-77 1-86 4-77 10-86 13-77 19-86 22-76 29-87 31-76 35-77 39-77 45-76 44-67 49-68 47-57 51-58 57-57 60-55 62-51 65-47 63-43 73-45 74-40 84-41 74-32 84-32 84-28 84-25 84-20 84-17 95-15 95-10 84-5 95-1 94 3 95 8 84 11 95 17 84 19 84 22 95 30 84 31 84 35 84 39 84 45 74 44 73 50 74 55 60 50 63 58 55 57 51 58 53 67 48 67 43 67 43 76 39 77 33 77 30 76 25 77 23 86 17 77 14 86 8 87 4 76 -1 87 -5 76 -9 77 -15 86 -17 77 -25 86 -26 77 -35 86 -35 77 -41 76 -45 77 -45 67 -50 67 -56 67 -53 58 -59 57 -60 54 -66 52 -61 43 -73 48 -74 42 -84 44 -84 38 -84 34 -95 34 -84 25 -84 21 -95 20 -84 14 -95 11z"/>
<path fill="#8877ff" d="M2745 4026l-84 3 -84-1 -95-5 -84-8 -95-13 -84-16 -84-19 -84-23 -84-27 -84-31 -84-36 -85-40 -73-40 -74-44 -68-46 -64-48 -58-48 -62-57 -56-58 -51-57 -45-58 -48-67 -43-67 -38-67 -39-77 -35-76 -29-77 -26-77 -21-76 -17-77 -13-77 -11-86 -4-76 -1-77 3-77 8-86 11-77 17-86 20-77 24-76 28-77 32-77 37-76 43-77 41-67 47-67 51-67 52-60 53-55 62-58 63-53 64-48 63-43 73-45 74-41 74-36 84-36 73-29 84-28 85-25 94-23 84-16 85-13 84-10 94-6 85-2 84 2 94 6 95 11 84 13 84 18 95 23 84 25 84 29 84 33 84 38 85 43 73 43 74 47 65 46 61 49 63 56 59 58 52 58 48 57 49 68 44 67 45 76 40 77 35 77 30 76 26 77 21 77 20 86 13 77 11 86 5 86 0 77 -4 86 -8 77 -12 76 -18 87 -20 76 -27 87 -33 86 -35 76 -39 77 -38 67 -43 67 -48 67 -53 67 -57 63 -52 53 -64 57 -62 51 -74 53 -63 41 -74 43 -73 39 -85 39 -84 34 -84 30 -84 26 -84 22 -84 19 -95 16 -95 12 -84 7z"/>
<path fill="#8a75ff" d="M2819 3997l-84 6 -84 2 -95-1 -84-5 -84-8 -85-12 -84-15 -84-19 -84-23 -84-27 -84-31 -84-35 -74-35 -74-40 -73-44 -63-42 -64-46 -56-47 -59-54 -51-52 -52-57 -46-58 -42-57 -43-67 -45-77 -34-67 -30-67 -31-77 -26-76 -22-77 -18-77 -14-76 -10-77 -6-77 -3-76 2-87 6-76 9-77 16-86 18-77 22-77 26-76 31-77 35-77 40-76 40-67 44-67 50-68 48-57 53-58 54-52 52-46 64-51 63-45 63-40 73-43 74-38 74-34 73-30 84-30 85-27 84-22 84-19 84-15 84-11 95-9 94-4 95 0 84 4 95 9 84 11 95 17 94 22 85 23 84 28 84 31 84 36 84 41 74 41 73 45 63 44 65 49 62 53 55 53 54 57 48 58 51 67 45 67 46 77 36 67 35 76 31 77 27 77 22 76 19 77 16 86 11 87 6 76 2 87 -3 86 -8 86 -11 77 -15 76 -22 87 -27 86 -28 77 -33 76 -37 77 -43 77 -42 67 -48 67 -53 67 -52 57 -57 58 -57 52 -63 51 -63 46 -74 47 -73 43 -74 38 -84 38 -84 34 -84 29 -85 26 -84 21 -94 20 -85 14 -94 11z"/>
<path fill="#8c73ff" d="M2777 3978l-84 4 -85 1 -84-3 -94-7 -84-10 -85-13 -84-17 -84-21 -84-25 -84-28 -84-33 -74-33 -74-37 -73-41 -63-40 -63-44 -60-47 -56-48 -53-51 -51-54 -48-57 -44-58 -39-57 -41-68 -37-67 -37-76 -31-77 -25-67 -24-77 -19-76 -16-77 -12-77 -8-76 -4-77 -1-86 4-77 8-77 13-86 16-77 19-76 24-77 28-77 33-76 32-67 42-77 42-67 47-67 45-57 51-58 46-48 51-48 62-53 64-47 63-43 63-38 73-40 74-36 74-31 84-32 73-25 85-24 84-20 84-17 84-13 84-9 95-7 95-2 94 2 95 7 84 9 84 13 95 19 94 24 85 25 84 29 84 34 84 38 74 38 73 43 63 41 63 46 62 50 54 49 56 56 52 58 45 57 48 67 43 67 38 67 38 77 33 77 29 76 24 77 20 77 18 86 12 77 9 86 4 77 -1 86 -5 86 -8 77 -14 86 -17 77 -24 86 -25 77 -30 76 -34 77 -40 77 -45 76 -44 67 -51 68 -48 57 -54 58 -60 56 -58 49 -63 48 -69 47 -73 44 -74 39 -74 35 -84 36 -84 31 -84 26 -84 23 -84 19 -84 15 -95 13 -84 8z"/>
<path fill="#8e71ff" d="M2735 3958l-84 3 -85-1 -84-4 -84-8 -84-11 -84-15 -84-18 -84-22 -85-26 -73-26 -84-34 -74-34 -74-38 -63-37 -63-41 -63-45 -56-45 -53-48 -49-48 -52-58 -46-57 -42-58 -43-67 -39-67 -34-67 -34-77 -30-76 -22-67 -22-77 -17-77 -14-76 -10-77 -6-86 -2-77 2-77 5-76 11-87 14-76 17-77 22-77 26-76 30-77 30-67 39-77 39-67 45-67 42-57 48-58 53-57 49-48 57-50 58-46 68-48 63-39 63-35 74-37 84-38 74-28 84-28 74-22 84-21 84-17 84-14 84-10 84-7 95-4 84 1 95 4 94 9 85 12 84 15 84 18 95 26 84 27 84 31 73 31 74 35 74 40 73 45 63 43 64 48 57 49 50 48 54 58 48 57 44 58 45 67 39 67 36 67 35 76 31 77 26 77 22 76 20 87 14 76 10 77 6 86 2 77 -2 77 -6 86 -12 86 -14 77 -18 77 -25 86 -27 76 -31 77 -31 67 -41 77 -41 67 -45 67 -52 67 -50 58 -57 57 -56 52 -63 51 -63 45 -63 41 -74 43 -74 37 -73 34 -74 29 -84 30 -84 25 -95 24 -84 17 -95 16 -94 10 -84 6z"/>
<path fill="#906fff" d="M2672 3939l-85 0 -94-4 -84-7 -85-10 -84-14 -84-18 -84-21 -84-25 -84-30 -74-29 -63-29 -74-37 -73-42 -63-40 -63-46 -53-42 -53-47 -52-53 -48-52 -46-58 -41-57 -43-67 -38-67 -34-68 -29-67 -30-76 -24-77 -21-77 -17-76 -13-77 -10-86 -5-77 -2-77 3-86 7-77 10-76 14-77 18-77 21-76 26-77 31-77 30-67 35-67 40-67 44-67 43-57 48-58 52-55 52-50 57-48 59-46 63-42 63-39 74-40 74-35 73-31 84-31 74-24 84-23 84-19 84-16 85-12 84-9 84-6 95-2 84 2 84 5 84 8 84 12 95 18 84 19 84 23 74 24 84 31 84 36 74 36 73 40 63 39 63 44 61 47 55 48 53 52 49 54 48 57 42 58 43 67 39 67 34 67 34 77 30 76 24 77 21 77 17 76 13 77 10 86 5 77 2 77 -3 86 -7 77 -10 76 -16 86 -18 77 -22 77 -27 76 -31 77 -31 67 -36 67 -40 67 -45 67 -44 58 -49 57 -55 58 -51 48 -63 52 -63 46 -63 42 -63 37 -74 38 -84 39 -74 29 -84 30 -84 25 -84 21 -84 18 -84 14 -85 10 -84 7 -94 4z"/>
<path fill="#926dff" d="M2819 3911l-84 5 -84 3 -85-1 -84-4 -84-8 -84-10 -74-13 -84-17 -73-18 -85-25 -73-25 -74-28 -63-27 -74-36 -63-35 -63-39 -52-36 -55-41 -51-43 -52-49 -50-52 -41-48 -37-48 -40-57 -36-58 -33-57 -33-68 -30-67 -25-67 -23-67 -19-67 -18-77 -14-76 -11-77 -6-77 -4-76 1-87 5-76 8-77 12-77 15-76 20-77 24-77 28-76 28-67 32-67 37-67 42-68 40-57 45-58 42-47 51-53 53-49 53-43 52-39 63-42 63-37 74-39 63-29 74-31 73-26 84-27 74-20 84-19 95-17 84-12 95-9 84-5 95-1 94 3 95 7 84 10 84 14 95 19 84 21 84 25 84 29 74 30 84 38 74 39 63 37 63 42 63 47 53 45 52 49 50 52 49 58 43 57 45 67 39 67 35 67 31 67 26 68 27 76 22 77 18 77 16 86 11 86 6 86 2 87 -3 86 -7 86 -12 86 -15 77 -21 86 -23 77 -32 86 -32 77 -38 77 -38 67 -43 67 -50 67 -48 57 -54 58 -50 48 -59 50 -63 47 -63 42 -74 43 -74 38 -73 33 -84 34 -84 28 -85 25 -84 20 -94 19 -85 13 -94 11z"/>
<path fill="#946bff" d="M2808 3891l-73 5 -84 3 -85-1 -84-4 -84-8 -84-10 -84-14 -74-16 -73-18 -74-21 -74-24 -73-28 -74-31 -63-31 -63-34 -63-39 -53-36 -52-39 -53-44 -44-41 -46-48 -42-48 -38-48 -40-57 -36-58 -33-57 -33-68 -30-67 -25-67 -22-67 -19-67 -16-67 -15-77 -10-76 -8-77 -3-77 0-86 4-77 8-76 11-77 15-77 19-76 20-67 26-77 27-67 32-67 35-67 40-67 39-58 44-57 41-48 46-49 53-50 53-44 52-39 63-43 63-38 63-33 74-35 63-26 74-28 73-23 74-21 84-20 84-16 95-14 84-9 95-7 95-2 94 2 95 7 84 9 95 14 84 16 84 20 84 24 84 28 84 32 74 33 74 38 63 36 63 41 60 43 56 46 52 48 48 50 50 58 44 57 39 58 40 67 35 67 32 67 27 67 26 77 23 76 18 77 15 77 12 86 7 86 3 86 -2 87 -6 86 -11 86 -16 86 -20 87 -23 76 -30 87 -32 76 -37 77 -38 67 -42 67 -49 67 -48 58 -53 57 -54 51 -54 45 -62 46 -63 42 -73 42 -74 38 -74 33 -84 32 -84 28 -84 24 -84 20 -95 18 -95 14 -84 8z"/>
<path fill="#9669ff" d="M2798 3873l-74 4 -84 2 -84-1 -84-5 -74-6 -84-11 -84-14 -74-15 -73-18 -74-21 -74-24 -73-27 -74-32 -63-31 -63-34 -53-32 -52-36 -53-39 -52-44 -43-40 -45-47 -41-48 -38-48 -40-57 -36-58 -31-57 -29-58 -29-67 -22-57 -23-67 -19-67 -16-67 -15-77 -11-77 -7-76 -4-77 -1-86 4-77 7-77 11-76 14-77 18-77 22-76 23-67 31-77 31-67 35-67 35-58 38-57 44-58 41-48 45-48 50-47 46-39 60-45 52-36 63-38 63-34 64-30 73-31 74-27 73-24 74-20 74-18 84-16 95-15 84-9 94-6 84-3 95 1 84 5 95 9 95 13 84 15 84 19 95 25 84 28 73 27 74 32 74 36 63 35 63 40 63 45 52 42 53 48 53 53 44 52 45 57 39 58 41 67 35 67 31 67 31 77 23 67 19 67 19 76 15 77 12 86 8 87 3 86 -1 86 -6 86 -10 87 -15 86 -20 86 -24 86 -27 77 -31 77 -37 76 -36 67 -42 68 -49 67 -47 57 -52 56 -53 50 -57 47 -65 48 -67 43 -63 36 -74 37 -73 32 -84 32 -84 28 -85 23 -94 21 -84 15 -95 13 -84 9z"/>
<path fill="#9867ff" d="M2798 3853l-74 5 -84 2 -84-2 -74-3 -84-7 -74-9 -73-12 -84-16 -74-17 -74-21 -73-23 -63-23 -74-31 -63-29 -63-34 -53-31 -52-34 -53-39 -49-40 -46-42 -44-45 -42-48 -38-48 -34-47 -37-58 -32-57 -29-58 -26-57 -27-68 -19-57 -20-67 -17-67 -16-77 -11-77 -9-76 -5-77 -1-77 2-76 6-77 9-77 13-76 17-77 20-77 21-67 29-76 29-67 34-68 32-57 37-58 41-57 39-48 43-48 49-48 50-44 52-41 53-37 52-33 63-35 64-32 73-32 74-28 63-22 84-24 74-18 84-18 94-15 85-10 94-7 84-3 95 0 84 3 95 8 84 11 95 15 84 18 84 22 84 25 84 30 74 31 74 35 63 34 63 38 61 43 54 42 50 44 49 48 43 48 46 58 41 57 36 58 36 67 33 67 28 67 24 67 24 77 19 76 17 86 13 87 8 86 4 86 -1 87 -5 86 -10 86 -14 86 -19 87 -24 86 -25 76 -31 77 -36 77 -36 67 -41 67 -48 67 -47 58 -49 53 -53 50 -53 44 -63 47 -63 41 -63 36 -74 37 -73 32 -84 32 -84 27 -85 23 -94 21 -84 16 -95 12 -84 8z"/>
<path fill="#9a65ff" d="M2808 3834l-73 4 -84 3 -85-1 -73-3 -84-7 -74-8 -74-11 -73-14 -74-16 -74-20 -63-19 -73-25 -63-25 -63-28 -64-32 -52-29 -53-33 -52-37 -46-35 -44-38 -47-45 -39-41 -35-42 -34-45 -33-48 -36-57 -31-58 -28-57 -24-58 -26-67 -21-67 -16-57 -18-77 -14-77 -10-76 -7-77 -4-77 0-76 4-77 7-77 10-76 14-77 18-77 19-67 22-67 25-67 30-67 34-67 34-58 37-57 38-51 42-51 42-45 47-45 48-41 52-40 53-36 52-32 63-34 64-31 63-27 73-27 74-24 74-21 84-20 84-16 84-13 95-10 84-6 94-3 95 1 95 5 84 8 95 13 84 15 94 21 85 23 73 23 84 31 74 32 63 31 63 35 63 40 53 37 52 42 53 48 51 53 41 48 44 57 39 58 34 57 34 67 31 67 26 68 22 67 22 76 20 87 15 86 10 86 6 86 2 96 -3 86 -8 87 -11 86 -17 86 -21 86 -27 87 -29 76 -33 77 -34 67 -39 67 -46 67 -45 58 -51 57 -48 48 -55 48 -56 43 -63 43 -63 37 -74 38 -74 33 -73 29 -84 28 -85 24 -84 20 -94 18 -95 13 -95 10z"/>
<path fill="#9c63ff" d="M2819 3815l-147 7 -85 0 -73-2 -84-6 -74-8 -74-10 -73-13 -74-15 -73-18 -64-19 -73-24 -63-24 -63-27 -64-30 -52-29 -53-31 -43-30 -51-38 -42-34 -43-39 -40-42 -34-38 -38-48 -34-48 -31-48 -28-48 -29-57 -26-58 -24-57 -23-67 -17-58 -18-67 -16-77 -12-76 -9-77 -6-77 -2-76 1-77 5-77 8-76 12-77 13-67 18-77 23-77 23-67 28-67 31-67 31-57 35-58 40-57 35-46 42-49 42-43 49-44 46-38 53-38 52-34 53-30 63-33 63-28 63-26 74-25 73-23 85-21 84-18 84-15 95-12 94-8 84-4 95 0 95 3 94 7 85 10 84 13 94 19 84 20 85 25 73 25 74 30 73 34 64 33 63 37 52 36 53 40 52 45 44 43 44 48 39 48 41 57 37 58 32 57 33 67 28 67 25 67 23 77 22 86 17 86 12 87 9 96 3 86 -2 96 -6 86 -10 86 -15 86 -19 87 -25 86 -26 77 -32 76 -37 77 -38 67 -44 67 -43 58 -48 56 -49 49 -54 48 -55 43 -63 44 -63 37 -64 33 -73 34 -74 30 -84 28 -84 24 -84 21 -95 18 -95 14 -94 10z"/>
<path fill="#9e61ff" d="M2829 3796l-147 8 -84 0 -74-2 -147-11 -74-10 -73-11 -137-29 -74-20 -63-20 -63-22 -63-26 -63-28 -53-27 -52-30 -42-27 -48-33 -47-37 -42-37 -42-41 -36-39 -32-38 -29-38 -33-48 -30-48 -31-58 -28-57 -25-58 -21-57 -19-58 -19-67 -18-76 -14-77 -11-77 -7-76 -4-77 0-77 3-76 6-77 10-77 13-76 15-68 20-76 21-67 25-67 29-67 29-58 32-57 37-58 34-48 39-48 43-48 43-41 42-37 47-37 48-33 52-33 63-35 64-30 63-27 73-28 63-20 74-21 84-20 84-16 95-15 84-9 95-7 84-2 95 0 94 5 84 7 95 12 84 14 84 18 85 21 84 26 73 26 74 31 63 30 63 34 55 34 61 42 52 42 46 41 47 47 41 48 44 58 38 57 34 58 30 57 30 67 26 68 22 67 24 86 19 86 14 86 10 87 5 86 1 96 -4 96 -8 86 -15 96 -17 86 -23 86 -25 77 -29 77 -35 76 -36 67 -41 67 -41 58 -47 57 -46 50 -53 49 -56 45 -60 43 -63 39 -74 39 -73 34 -74 30 -84 28 -84 24 -84 20 -95 18 -95 14 -84 9z"/>
<path fill="#a05fff" d="M2693 3786l-74 1 -84-2 -84-5 -74-7 -84-10 -74-12 -73-15 -74-18 -74-20 -63-21 -63-23 -63-27 -63-30 -53-28 -52-32 -53-36 -52-40 -42-37 -42-41 -36-38 -39-48 -35-48 -31-48 -28-48 -29-57 -27-58 -22-57 -24-67 -19-68 -17-67 -14-67 -10-67 -9-76 -6-77 -3-77 1-77 4-76 8-77 11-77 14-76 18-77 19-67 23-67 26-67 31-67 31-58 34-57 40-58 37-48 41-46 40-40 44-40 53-42 47-33 58-36 52-29 64-31 63-27 63-24 73-24 74-20 74-18 73-15 84-13 85-10 94-8 95-4 84-1 95 4 84 6 84 9 84 12 84 16 74 16 84 23 74 24 73 27 74 32 63 32 63 36 53 34 52 38 53 44 43 41 45 48 39 48 35 48 37 58 32 57 28 58 29 67 25 67 21 67 20 76 17 77 12 77 9 76 7 87 2 86 -2 86 -7 87 -10 86 -15 86 -17 77 -21 76 -26 77 -31 77 -31 67 -37 67 -36 57 -41 58 -43 52 -42 45 -53 49 -52 43 -53 37 -63 40 -63 34 -63 30 -74 31 -73 26 -84 26 -85 21 -84 18 -84 14 -95 11 -84 7 -94 5z"/>
<path fill="#a25dff" d="M2745 3767l-147 2 -147-6 -148-16 -73-12 -74-14 -73-17 -64-17 -63-19 -63-22 -63-26 -52-23 -53-27 -53-30 -42-27 -48-34 -37-29 -44-38 -39-38 -35-39 -31-38 -36-48 -31-48 -28-48 -25-48 -27-57 -23-58 -20-57 -21-67 -15-58 -16-77 -12-67 -10-76 -6-77 -3-77 0-76 3-77 6-77 10-76 14-77 17-77 18-67 21-67 25-67 30-67 29-58 33-57 31-48 36-48 40-48 37-39 42-40 42-36 52-39 53-35 52-30 53-27 63-29 63-26 63-22 74-22 74-20 84-18 84-14 84-12 95-9 94-5 85-1 84 1 94 5 95 9 84 12 84 14 84 18 85 23 73 23 74 26 73 32 64 30 63 36 52 34 51 37 44 36 44 40 45 48 40 48 36 48 37 58 32 57 29 58 25 57 25 67 21 67 21 77 18 86 14 86 9 87 5 86 2 96 -4 86 -7 86 -12 87 -16 86 -22 86 -23 77 -28 76 -33 77 -34 67 -40 67 -40 58 -46 57 -45 48 -51 48 -55 45 -52 37 -63 39 -64 34 -73 34 -74 30 -84 28 -84 24 -84 19 -84 16 -95 14 -84 9 -95 7z"/>
<path fill="#a45bff" d="M2777 3748l-147 4 -148-4 -147-14 -137-21 -73-15 -63-15 -64-18 -63-20 -63-23 -52-22 -53-25 -53-27 -52-31 -42-28 -42-31 -42-34 -35-31 -37-39 -34-38 -31-38 -27-39 -31-48 -28-47 -24-48 -22-48 -23-58 -35-105 -18-67 -17-77 -12-67 -10-77 -7-76 -3-77 -1-77 3-76 6-77 9-77 13-76 14-68 20-76 21-67 20-58 28-67 28-57 32-58 30-48 34-48 39-48 35-38 42-41 42-37 42-32 52-36 53-32 53-28 63-30 63-26 63-22 63-20 74-20 84-19 84-15 95-14 84-8 94-6 84-2 95 1 95 4 84 8 95 12 84 14 84 17 84 22 74 22 73 26 63 26 63 30 64 34 52 33 53 37 44 35 43 38 46 48 41 48 36 48 37 58 33 57 28 58 25 57 25 67 21 67 23 86 16 77 15 96 8 86 5 86 1 96 -4 87 -9 95 -14 96 -18 87 -23 86 -24 76 -30 77 -35 77 -37 67 -37 57 -42 58 -41 48 -49 50 -53 47 -52 40 -63 42 -63 35 -64 31 -73 32 -74 26 -84 26 -84 22 -84 17 -95 16 -95 11 -94 8z"/>
<path fill="#a659ff" d="M2819 3728l-137 7 -147-1 -147-10 -137-18 -137-26 -126-34 -116-40 -52-22 -53-24 -53-28 -42-25 -42-27 -41-30 -35-29 -39-35 -64-66 -55-71 -26-38 -29-48 -26-48 -22-48 -25-58 -17-48 -22-67 -18-67 -16-67 -13-76 -11-77 -7-77 -4-76 -1-77 3-77 5-77 8-67 11-76 16-77 16-67 20-67 23-67 23-58 27-57 30-58 29-48 33-48 37-47 34-39 37-38 43-38 45-36 44-32 50-31 53-29 63-31 53-22 63-24 73-23 85-23 84-19 84-15 84-12 95-10 84-5 94-3 95 1 84 4 95 8 84 11 84 13 84 17 74 18 84 24 74 26 63 25 63 29 53 28 52 31 53 36 52 41 42 38 41 41 42 48 36 48 32 48 33 57 30 58 25 57 25 68 25 76 22 86 18 87 14 96 8 86 4 96 0 96 -6 95 -10 96 -14 86 -18 87 -24 86 -25 77 -31 76 -37 77 -39 67 -39 58 -38 49 -42 47 -53 51 -52 43 -53 38 -63 39 -63 34 -74 33 -73 29 -74 24 -84 24 -84 19 -95 17 -95 13 -94 9z"/>
<path fill="#a857ff" d="M2682 3719l-147-2 -147-9 -148-20 -136-26 -127-34 -63-21 -63-25 -52-22 -53-26 -53-30 -42-26 -42-30 -42-33 -36-32 -39-38 -34-39 -31-38 -27-38 -31-48 -27-48 -24-48 -21-48 -23-57 -19-58 -17-57 -27-115 -13-77 -9-67 -7-77 -4-76 -1-77 3-77 5-77 9-76 12-77 13-67 19-77 20-67 24-67 23-57 27-58 32-57 29-48 34-48 39-48 35-38 35-34 42-36 42-32 52-35 53-31 53-28 52-24 63-25 63-22 63-19 74-19 74-16 84-15 84-12 95-9 84-6 94-2 85 1 94 4 84 6 85 10 84 13 84 16 84 20 74 21 73 25 63 25 63 28 53 28 53 31 52 35 45 35 44 38 39 38 42 48 37 48 32 48 34 57 29 58 29 67 21 58 22 67 18 67 17 76 15 87 10 86 6 86 3 86 -2 96 -6 87 -10 86 -14 86 -19 86 -21 77 -25 77 -27 67 -31 67 -37 67 -37 57 -44 58 -42 48 -49 48 -47 39 -53 39 -52 33 -64 35 -63 30 -73 30 -74 25 -84 25 -84 20 -84 16 -84 13 -95 11 -84 6 -95 4z"/>
<path fill="#aa55ff" d="M2766 3699l-147 4 -137-4 -136-12 -137-20 -126-26 -116-32 -105-37 -53-23 -52-25 -85-48 -42-28 -42-32 -38-33 -30-29 -61-67 -29-38 -26-38 -24-39 -26-48 -24-48 -21-47 -34-96 -20-67 -17-67 -13-68 -13-76 -8-77 -6-77 -3-76 1-77 3-77 7-76 9-77 11-67 14-67 17-67 21-67 24-67 24-58 23-48 25-48 30-48 33-48 30-38 37-41 42-41 42-37 42-32 42-28 53-31 53-28 52-24 63-25 63-22 74-22 84-21 84-17 84-13 85-10 94-9 84-4 95-1 84 2 95 5 94 9 85 11 84 14 84 18 74 19 73 23 63 22 63 26 63 30 53 29 53 33 43 31 47 38 41 39 37 39 39 47 34 48 30 48 31 57 27 58 24 57 23 67 25 87 20 86 15 86 11 96 7 96 2 96 -3 95 -7 87 -12 96 -15 86 -20 86 -26 86 -28 77 -33 77 -35 67 -36 57 -42 58 -40 48 -44 44 -48 42 -57 43 -52 34 -64 35 -63 30 -73 30 -74 25 -84 24 -84 20 -84 16 -95 14 -84 10 -95 6z"/>
<path fill="#ac53ff" d="M2819 3680l-137 7 -137-1 -136-8 -127-14 -126-22 -116-26 -115-35 -105-42 -85-41 -42-24 -42-27 -42-31 -31-26 -63-60 -30-33 -31-38 -52-77 -47-86 -37-87 -21-57 -20-67 -18-67 -16-77 -11-67 -9-77 -7-76 -3-77 0-77 2-76 6-77 9-77 12-76 13-68 16-67 20-67 20-57 23-58 26-57 25-48 29-48 33-48 30-38 33-39 38-38 40-35 42-33 42-29 42-25 53-29 53-24 63-26 73-26 74-22 74-18 84-17 84-14 84-11 95-8 84-4 84-2 95 1 84 4 94 8 95 12 84 14 84 17 74 18 74 22 63 22 63 25 52 24 53 28 53 31 52 37 39 31 43 39 37 38 32 38 36 48 31 48 32 58 28 57 24 58 27 76 25 87 19 86 16 96 11 95 6 96 1 96 -3 96 -8 96 -13 96 -16 86 -21 86 -26 86 -29 77 -31 67 -36 67 -37 58 -36 48 -41 48 -47 46 -52 44 -53 38 -52 32 -64 34 -73 33 -74 28 -73 23 -85 22 -84 18 -84 15 -95 13 -94 8z"/>
<path fill="#ae51ff" d="M2693 3671l-137 0 -137-8 -137-15 -126-21 -116-26 -115-35 -53-19 -52-22 -53-25 -42-22 -74-47 -39-29 -34-28 -32-30 -31-32 -30-34 -29-39 -50-76 -44-87 -39-95 -33-106 -16-67 -16-77 -10-67 -9-76 -6-77 -3-77 0-76 3-77 6-77 8-67 11-76 14-68 16-67 19-67 23-67 23-57 28-58 25-48 30-48 27-38 30-38 35-39 39-38 42-36 42-31 44-29 51-29 53-26 52-23 53-21 63-21 63-18 74-18 84-17 84-14 84-10 84-8 95-5 95-2 84 2 94 4 84 8 85 10 84 13 84 16 74 18 73 21 74 25 63 25 52 25 53 27 53 32 42 30 42 33 41 38 37 39 32 38 35 48 31 48 31 57 28 58 23 57 20 58 20 67 21 86 15 86 12 87 9 95 3 96 -1 96 -5 96 -9 86 -13 86 -18 87 -22 86 -25 77 -26 67 -32 67 -37 67 -38 57 -37 48 -44 48 -41 39 -52 42 -53 36 -63 37 -63 31 -63 27 -74 26 -84 25 -84 21 -84 16 -84 13 -95 11 -95 8 -94 4z"/>
<path fill="#b04fff" d="M2787 3652l-136 4 -137-2 -137-10 -126-15 -126-23 -116-28 -105-33 -95-39 -84-43 -74-47 -66-52 -58-58 -55-67 -44-67 -22-38 -24-48 -36-86 -20-58 -20-67 -16-67 -15-77 -11-67 -8-76 -6-77 -3-77 0-76 3-77 6-77 7-67 12-76 13-68 16-67 19-67 19-57 23-58 22-48 24-48 28-47 33-48 30-39 34-38 39-38 34-30 42-32 42-28 42-25 53-27 53-24 52-21 74-25 73-21 74-17 84-16 84-13 85-10 84-7 94-5 95-1 84 2 95 4 84 8 84 10 84 13 84 17 74 18 63 18 63 21 63 25 53 24 53 27 52 31 42 29 45 35 41 39 37 38 32 38 34 48 30 48 26 48 27 58 23 57 26 77 24 86 18 86 15 96 10 96 5 96 1 96 -3 96 -9 95 -13 96 -16 87 -21 86 -27 86 -29 77 -31 67 -37 67 -32 48 -39 50 -41 46 -43 40 -53 43 -52 35 -53 31 -63 31 -63 27 -74 26 -73 22 -85 21 -84 17 -94 14 -95 11 -95 8z"/>
<path fill="#b24dff" d="M2840 3633l-126 7 -137 0 -137-6 -126-11 -126-19 -116-24 -105-28 -105-37 -84-38 -74-41 -38-24 -36-26 -58-51 -54-57 -51-67 -46-77 -37-77 -23-57 -20-58 -19-67 -16-67 -13-67 -12-77 -8-67 -6-76 -3-77 -1-77 3-76 4-68 8-76 10-67 14-77 15-67 16-58 18-57 21-58 21-47 23-48 27-48 31-48 28-39 33-38 32-34 37-33 37-30 42-29 42-26 53-28 52-25 63-25 74-25 73-20 74-18 84-16 84-13 85-9 84-7 94-5 95-1 95 2 84 5 84 7 84 10 84 13 84 17 74 17 63 18 63 21 53 20 52 24 53 26 53 31 42 29 42 32 42 38 41 44 31 38 28 38 30 48 26 48 27 58 30 76 24 77 22 86 19 96 13 96 8 96 4 96 0 105 -6 96 -9 96 -15 96 -18 86 -23 86 -26 77 -32 76 -33 68 -35 57 -34 48 -40 48 -37 38 -48 42 -46 35 -48 31 -64 34 -63 29 -73 28 -74 24 -74 20 -84 18 -84 15 -94 13 -95 9z"/>
<path fill="#b44bff" d="M2756 3623l-137 3 -126-3 -126-9 -127-16 -115-20 -116-28 -95-29 -94-37 -74-37 -74-45 -63-49 -58-56 -26-30 -29-37 -44-67 -40-77 -36-86 -19-58 -20-67 -16-67 -13-67 -10-67 -9-77 -6-76 -3-77 0-77 2-76 5-77 7-67 11-77 12-67 16-67 18-67 18-58 22-57 21-48 24-48 28-48 25-38 29-39 33-38 37-37 32-28 42-32 40-27 44-26 42-22 53-24 52-20 63-22 74-21 74-17 84-17 84-13 84-10 84-7 95-4 84-2 95 1 94 5 84 6 85 10 84 12 84 16 74 17 63 18 63 20 63 24 52 23 53 27 42 25 42 28 42 32 41 36 37 39 32 38 34 48 29 48 26 48 22 48 23 57 25 77 23 86 18 86 14 96 10 96 5 96 1 105 -4 96 -8 96 -13 96 -16 86 -22 86 -23 77 -29 77 -31 67 -38 67 -32 48 -38 48 -44 46 -42 38 -52 40 -53 33 -53 29 -63 29 -63 24 -73 24 -74 20 -84 19 -84 15 -95 13 -95 9 -94 6z"/>
<path fill="#b649ff" d="M2829 3604l-126 6 -137 1 -126-6 -126-11 -116-17 -115-22 -106-27 -94-32 -84-35 -74-39 -63-42 -63-52 -53-54 -49-63 -41-67 -38-77 -23-58 -20-57 -17-58 -17-67 -14-67 -10-67 -10-77 -6-76 -4-77 -1-77 2-76 4-77 7-77 9-67 13-76 14-67 15-58 18-57 20-58 20-48 23-48 26-48 24-38 27-38 32-39 28-30 31-30 42-34 42-30 42-26 43-22 52-25 63-25 63-21 74-21 74-18 73-14 84-13 85-10 94-8 84-4 95-2 95 1 84 4 94 7 85 9 84 13 73 13 74 17 63 16 63 20 53 19 52 22 53 25 53 30 42 27 42 32 34 30 38 39 32 38 29 38 30 48 26 48 23 48 30 77 25 76 22 87 17 86 14 96 9 96 4 95 1 106 -5 105 -9 96 -14 96 -17 86 -22 87 -25 76 -30 77 -33 67 -27 48 -33 48 -39 48 -38 40 -42 38 -53 39 -52 33 -53 28 -63 28 -74 27 -73 23 -74 19 -84 17 -84 14 -95 12 -95 8z"/>
<path fill="#b847ff" d="M2745 3594l-137 3 -126-4 -126-9 -116-14 -115-20 -106-24 -105-32 -84-32 -73-36 -71-43 -56-42 -56-54 -48-57 -39-58 -42-76 -32-77 -21-58 -17-57 -17-67 -13-67 -12-67 -9-77 -7-77 -4-76 -1-77 1-77 4-76 7-77 9-77 12-67 13-67 17-67 17-57 17-48 19-48 22-48 25-48 24-38 27-39 31-38 31-34 32-30 31-26 42-30 42-26 43-23 52-25 53-21 63-22 73-21 74-18 74-14 84-13 84-11 84-7 95-5 84-3 95 1 94 4 84 5 85 9 84 11 84 15 73 15 64 17 63 19 52 18 53 21 52 25 43 23 42 26 46 34 38 32 35 35 33 38 29 38 25 39 27 48 24 48 23 57 27 77 23 86 18 86 15 96 11 96 6 96 1 105 -3 96 -7 96 -11 96 -17 96 -20 86 -22 76 -28 77 -30 67 -37 67 -32 48 -38 48 -42 45 -42 37 -42 31 -52 33 -53 28 -63 29 -63 23 -74 23 -74 20 -84 17 -84 14 -94 13 -95 8 -95 5z"/>
<path fill="#ba45ff" d="M2840 3575l-126 6 -127 1 -126-4 -126-10 -116-15 -115-20 -106-26 -94-29 -84-33 -74-38 -63-39 -53-42 -50-48 -47-58 -44-67 -34-67 -21-48 -21-57 -18-58 -17-67 -15-67 -11-67 -9-67 -8-77 -5-77 -2-76 0-77 3-77 6-76 7-67 11-77 12-67 15-67 16-58 18-57 18-48 21-48 24-48 22-38 25-39 29-38 25-29 39-38 32-28 32-24 42-27 42-24 42-21 53-22 63-23 73-22 74-19 74-15 84-14 84-10 84-8 84-6 95-3 95 0 84 2 94 6 85 7 84 11 84 13 73 15 64 15 63 18 52 17 53 20 52 23 53 28 42 25 39 28 35 28 31 29 36 38 30 39 26 38 28 48 24 48 32 77 25 76 23 87 17 86 14 96 10 95 5 96 1 106 -3 105 -8 96 -13 96 -17 96 -21 86 -23 77 -29 76 -32 67 -27 48 -32 48 -39 48 -37 38 -42 38 -42 31 -53 32 -53 28 -63 27 -63 23 -73 22 -74 19 -84 17 -84 13 -84 11 -95 8z"/>
<path fill="#bc43ff" d="M2756 3566l-126 2 -127-2 -126-8 -116-13 -115-18 -106-22 -94-26 -84-29 -74-33 -63-35 -63-44 -53-46 -47-53 -41-57 -38-67 -31-67 -22-58 -18-57 -15-58 -15-67 -12-67 -11-77 -13-143 -2-77 -1-77 2-76 5-77 8-77 9-67 11-67 14-67 15-58 17-57 17-48 19-48 23-48 20-38 24-38 27-39 32-38 28-29 32-29 37-28 31-22 43-25 42-21 52-24 63-23 63-20 74-19 74-15 73-13 84-12 85-9 94-7 84-3 95-1 95 2 84 4 94 7 85 10 84 12 73 14 64 14 63 16 63 20 52 19 53 23 42 21 42 24 42 28 37 28 37 34 31 33 31 39 26 38 23 38 25 48 21 48 28 77 22 77 20 86 17 96 11 96 8 105 3 96 -2 105 -6 106 -10 96 -15 95 -18 87 -21 76 -26 77 -28 67 -34 67 -30 48 -37 48 -35 38 -41 39 -47 36 -42 27 -53 28 -63 29 -63 23 -74 23 -74 18 -84 17 -84 14 -84 11 -95 8 -94 6z"/>
<path fill="#be41ff" d="M2850 3546l-126 7 -126 1 -126-4 -126-9 -116-13 -105-18 -106-23 -94-27 -74-27 -73-33 -64-37 -52-38 -52-47 -42-48 -40-58 -37-67 -22-48 -22-57 -18-58 -16-57 -15-67 -12-67 -10-67 -8-77 -6-77 -3-76 0-77 1-77 11-144 9-76 11-67 25-115 31-106 19-48 21-48 24-48 23-38 27-38 27-34 32-33 31-29 32-25 42-29 74-40 52-23 63-24 63-19 63-17 74-15 74-13 84-12 84-9 84-6 95-5 84-1 95 1 94 4 84 6 85 9 84 11 136 26 64 15 63 18 52 19 53 21 52 24 43 24 42 27 31 24 32 28 38 38 25 31 26 37 24 38 26 48 29 67 27 77 24 86 18 86 15 96 11 96 6 96 3 105 -3 105 -6 96 -11 96 -15 96 -18 86 -24 86 -27 77 -29 67 -26 48 -30 48 -37 48 -36 38 -42 38 -42 31 -42 26 -53 28 -52 23 -63 24 -74 22 -74 18 -84 17 -84 14 -84 10 -95 8z"/>
<path fill="#c03fff" d="M2777 3537l-116 3 -126-1 -126-6 -116-11 -116-15 -105-20 -95-23 -84-27 -73-29 -63-32 -64-40 -48-39 -46-47 -38-49 -37-57 -33-68 -20-47 -20-58 -16-57 -17-68 -13-67 -10-67 -15-143 -6-144 0-77 3-77 5-76 8-77 21-134 26-115 31-96 19-48 22-48 21-38 24-38 28-39 25-29 28-28 33-29 36-27 31-21 43-23 42-21 52-22 63-21 63-18 74-18 74-14 84-13 84-11 84-7 84-5 95-3 95 0 84 2 94 5 85 7 84 10 84 13 126 26 63 16 53 16 52 20 53 22 42 21 42 25 42 29 32 26 31 30 30 33 29 38 25 38 22 39 23 48 30 76 24 77 21 86 15 86 13 96 9 96 5 105 0 106 -4 105 -9 96 -12 96 -17 96 -21 86 -24 77 -26 67 -32 67 -29 48 -34 48 -34 38 -35 34 -42 34 -42 28 -53 29 -53 24 -63 24 -73 23 -74 18 -74 16 -84 13 -84 11 -95 9 -94 6z"/>
<path fill="#c23dff" d="M2871 3518l-126 7 -126 2 -126-3 -116-7 -116-12 -105-15 -105-20 -95-24 -84-28 -63-27 -63-33 -53-35 -43-36 -46-48 -43-57 -34-58 -23-48 -20-47 -19-58 -17-57 -13-58 -14-67 -19-134 -11-144 -2-153 2-77 5-77 7-76 9-67 23-125 27-105 15-48 19-48 21-48 20-39 24-38 27-38 24-29 28-29 32-28 32-25 31-21 43-24 52-25 53-21 63-21 63-17 74-17 73-13 74-11 84-10 84-7 95-6 179-2 94 2 84 5 85 7 84 9 136 22 64 13 63 16 52 16 53 18 52 22 42 20 43 24 38 26 35 28 32 29 26 30 30 38 26 38 21 39 31 67 28 76 22 77 19 86 16 96 12 96 7 96 3 105 -1 106 -5 105 -11 106 -14 95 -17 87 -22 86 -25 77 -29 67 -24 48 -30 47 -29 39 -34 38 -32 30 -42 33 -42 27 -53 28 -52 23 -63 24 -63 19 -74 18 -74 15 -84 13 -84 11 -95 9z"/>
<path fill="#c43bff" d="M2819 3508l-116 4 -126 1 -126-5 -116-8 -105-11 -105-17 -95-19 -95-25 -84-30 -63-29 -53-29 -52-37 -42-38 -42-48 -38-54 -31-58 -21-48 -19-48 -18-57 -15-58 -13-57 -12-67 -10-67 -8-77 -9-153 0-154 9-153 8-77 10-67 23-115 29-105 17-48 20-48 19-38 21-39 26-38 22-29 26-29 27-26 31-26 32-22 32-19 42-23 52-23 53-19 63-20 63-16 74-16 73-12 84-11 85-9 84-6 94-4 179-1 95 3 84 5 84 8 84 10 137 24 116 28 52 17 53 19 42 18 42 22 42 25 32 22 31 26 32 31 29 34 28 38 23 38 20 39 29 67 26 77 23 86 17 86 14 96 10 96 6 105 1 106 -2 105 -7 105 -11 96 -15 96 -18 86 -21 77 -27 77 -30 67 -26 48 -26 38 -30 38 -37 39 -39 33 -42 29 -43 24 -52 25 -63 25 -63 20 -63 17 -74 15 -84 15 -84 11 -85 9 -94 7z"/>
<path fill="#c639ff" d="M2724 3498l-126 2 -116-3 -115-7 -116-12 -105-14 -95-18 -84-21 -84-26 -63-26 -53-26 -53-33 -45-36 -39-39 -38-48 -35-57 -28-58 -19-47 -19-58 -16-57 -13-58 -13-67 -10-67 -15-144 -6-153 3-154 5-76 7-77 19-134 25-115 30-96 18-48 17-38 20-39 24-38 28-38 25-29 23-23 29-25 34-24 32-20 73-37 53-21 52-17 63-18 74-16 74-14 84-12 84-9 84-7 179-7 95 0 94 2 95 5 84 7 84 9 74 11 126 24 105 28 53 18 42 17 42 20 42 23 32 21 34 27 32 28 26 29 23 29 25 38 22 39 23 48 26 67 23 76 20 87 17 95 12 96 8 106 4 105 0 106 -4 105 -9 105 -12 96 -18 96 -21 86 -24 77 -26 67 -29 58 -30 47 -30 39 -36 38 -33 29 -44 31 -43 25 -52 25 -53 21 -63 20 -63 17 -74 16 -84 15 -84 11 -95 10 -94 7 -95 3z"/>
<path fill="#c837ff" d="M2861 3479l-116 6 -126 1 -126-2 -116-6 -105-10 -105-13 -95-17 -95-21 -73-22 -63-24 -63-29 -53-32 -53-42 -37-38 -37-48 -29-48 -19-38 -20-48 -17-48 -18-58 -14-57 -13-67 -20-134 -12-154 -3-153 5-154 14-143 19-125 24-105 31-96 20-48 18-38 22-39 19-28 22-29 25-29 31-29 24-19 39-26 32-19 42-20 52-22 53-18 63-17 63-15 74-14 73-11 84-10 85-8 94-6 179-3 179 4 168 14 137 18 126 26 105 29 53 19 42 19 42 21 32 19 31 22 32 27 29 29 24 28 27 39 23 38 28 58 28 76 23 77 19 86 16 96 11 96 7 105 4 106 -1 115 -5 105 -9 106 -13 95 -16 87 -21 86 -24 77 -28 67 -24 48 -24 38 -29 38 -35 38 -33 29 -40 30 -43 25 -42 20 -52 22 -63 21 -63 17 -64 14 -73 14 -84 12 -84 9 -95 8z"/>
<path fill="#ca35ff" d="M2798 3470l-116 3 -126 0 -116-4 -116-8 -105-11 -105-16 -84-16 -84-21 -63-20 -63-26 -53-26 -53-34 -42-35 -41-45 -33-48 -27-48 -22-48 -18-48 -15-48 -15-57 -13-58 -12-67 -17-134 -10-154 -1-153 6-153 15-144 19-115 25-105 15-48 17-48 17-39 19-38 23-38 20-29 23-29 25-26 26-22 27-20 32-21 42-23 42-19 52-19 63-20 63-15 74-15 74-12 157-19 179-10 179-2 179 7 168 15 137 21 116 25 52 15 53 17 42 17 42 20 31 17 34 22 30 23 31 29 31 34 21 29 18 29 21 38 29 67 23 67 23 87 17 86 14 96 10 105 6 106 2 105 -2 105 -6 106 -10 105 -14 96 -17 86 -23 87 -23 67 -29 67 -27 48 -26 38 -27 33 -32 31 -31 26 -43 28 -42 23 -52 23 -63 22 -63 18 -63 15 -74 14 -84 13 -84 10 -85 7 -94 6z"/>
<path fill="#cc33ff" d="M2693 3460l-116 0 -116-3 -115-7 -106-10 -94-13 -95-16 -84-20 -74-21 -63-24 -52-26 -43-25 -46-36 -38-39 -29-38 -30-48 -27-58 -18-47 -16-48 -15-58 -13-57 -12-67 -10-68 -13-143 -6-154 2-153 10-153 17-135 23-115 26-95 17-48 16-39 19-38 17-29 20-28 22-29 21-23 28-25 25-19 32-21 31-18 42-20 53-20 63-20 63-16 63-13 74-12 73-10 169-16 178-7 190 2 179 10 84 8 84 11 126 23 105 26 53 18 42 16 42 20 31 18 32 21 32 25 24 23 26 28 21 29 19 29 20 38 18 39 25 67 22 76 19 87 15 95 11 96 8 106 3 105 0 115 -4 106 -9 105 -12 96 -16 96 -18 76 -22 77 -26 67 -29 58 -24 38 -29 38 -32 33 -31 27 -43 28 -42 23 -52 23 -53 19 -63 18 -73 18 -74 13 -84 13 -84 9 -95 8 -95 5 -94 3z"/>
<path fill="#ce31ff" d="M2861 3441l-116 5 -126 2 -116-2 -115-6 -116-9 -105-12 -95-16 -84-17 -74-20 -63-22 -52-23 -53-30 -43-32 -40-39 -30-38 -29-48 -19-38 -20-48 -16-48 -14-48 -24-115 -19-134 -12-144 -5-153 4-154 12-153 16-125 21-105 27-96 18-48 16-38 20-39 18-28 20-29 25-29 21-21 32-25 53-34 42-21 52-21 53-17 52-14 63-14 64-12 73-11 84-10 179-13 179-5 179 4 179 12 136 16 127 23 105 27 52 18 42 17 42 21 32 19 32 23 22 19 20 19 25 29 20 29 23 38 27 58 25 67 21 76 19 87 15 95 10 96 8 106 3 115 0 115 -5 105 -9 106 -11 95 -17 96 -20 86 -24 77 -23 58 -19 38 -23 38 -28 39 -27 28 -32 29 -32 23 -42 24 -42 20 -53 20 -52 17 -63 16 -74 15 -74 13 -84 10 -168 15z"/>
<path fill="#d02fff" d="M2798 3431l-116 4 -116-1 -115-3 -116-7 -105-10 -105-13 -85-15 -84-19 -63-18 -63-24 -52-25 -43-27 -31-25 -37-37 -29-39 -28-48 -18-38 -19-48 -15-48 -15-57 -23-115 -17-134 -11-154 -3-153 5-154 12-143 16-115 21-106 27-96 30-76 20-39 18-28 37-48 19-19 31-27 32-21 31-18 42-20 42-17 53-16 63-17 63-13 74-13 157-19 179-11 179-4 189 5 169 12 136 17 116 21 53 13 52 15 42 14 42 17 42 21 32 19 30 22 22 20 22 22 21 26 19 28 22 39 26 57 23 67 20 77 19 96 14 96 10 105 6 105 3 115 -2 115 -6 115 -10 106 -13 96 -16 86 -19 77 -25 76 -25 58 -21 38 -25 38 -24 29 -30 29 -30 24 -43 27 -42 21 -42 17 -52 17 -63 17 -63 14 -74 13 -84 12 -84 9 -179 11z"/>
<path fill="#d22dff" d="M2703 3422l-116 0 -115-3 -105-5 -106-8 -94-11 -95-14 -74-14 -73-19 -63-20 -53-22 -42-22 -42-29 -32-28 -31-36 -26-38 -25-48 -16-38 -17-48 -14-48 -13-57 -22-125 -16-144 -8-153 -1-163 7-153 14-144 18-115 21-96 27-86 16-39 19-38 16-29 20-28 21-25 24-23 23-20 27-18 31-18 32-16 42-17 52-17 53-14 63-14 74-13 73-11 158-15 179-9 189-1 179 7 168 15 126 17 116 24 95 27 42 17 31 14 32 17 32 21 28 24 20 19 17 19 21 29 18 28 20 39 27 67 20 67 19 86 15 86 13 106 8 105 5 106 1 115 -3 115 -7 105 -11 106 -14 95 -17 87 -20 76 -24 67 -27 58 -23 38 -29 39 -29 28 -28 24 -32 21 -42 22 -42 18 -53 18 -63 17 -63 14 -74 13 -84 12 -84 9 -95 7 -189 8z"/>
<path fill="#d42bff" d="M2882 3403l-116 5 -115 2 -116-1 -116-4 -116-7 -105-10 -94-13 -85-15 -73-16 -63-19 -53-19 -52-26 -43-27 -31-27 -31-35 -26-38 -16-29 -18-38 -17-48 -15-48 -24-105 -19-125 -14-144 -6-153 0-153 8-154 12-124 17-115 23-106 28-86 30-67 17-29 20-28 20-24 21-20 21-18 32-21 32-17 42-19 52-19 53-15 116-24 147-21 168-14 179-6 179 0 178 8 148 13 126 18 105 21 95 27 42 16 31 15 32 17 32 21 27 23 19 19 23 29 19 29 29 57 22 58 23 77 16 76 16 96 11 96 8 105 4 115 1 115 -3 115 -8 115 -11 106 -14 96 -18 86 -21 77 -21 57 -18 38 -22 39 -20 28 -25 29 -27 24 -32 23 -31 19 -42 20 -42 16 -53 16 -63 16 -63 12 -74 12 -73 10 -179 15z"/>
<path fill="#d629ff" d="M2829 3393l-115 4 -116 0 -116-2 -115-5 -106-8 -105-11 -84-12 -84-16 -63-15 -63-19 -53-22 -42-23 -36-25 -31-28 -24-29 -24-38 -20-39 -16-38 -26-86 -14-58 -11-57 -17-125 -12-144 -5-153 1-153 8-154 13-124 18-115 21-96 14-48 14-38 17-39 15-29 32-47 20-23 21-20 21-16 32-21 31-16 42-18 53-17 52-14 116-23 147-19 169-13 178-6 190 1 179 9 136 12 126 18 106 21 52 14 42 13 42 17 32 15 30 18 23 16 21 18 22 24 22 29 18 28 28 58 21 57 20 77 18 86 13 96 11 106 7 105 3 115 0 125 -5 115 -7 105 -12 106 -16 95 -16 77 -19 67 -26 67 -20 39 -18 28 -22 29 -28 29 -26 20 -32 21 -42 21 -42 17 -52 16 -53 14 -63 13 -63 11 -158 18 -179 12z"/>
<path fill="#d827ff" d="M2766 3383l-105 2 -116-1 -115-3 -106-6 -105-8 -94-11 -85-13 -73-14 -63-16 -53-17 -42-18 -42-23 -35-25 -30-29 -22-29 -24-38 -18-38 -15-39 -25-86 -22-115 -16-125 -11-143 -5-163 2-154 9-153 13-125 18-115 22-95 26-77 28-58 18-28 14-19 20-23 21-19 22-16 31-18 32-16 42-16 52-17 53-13 63-12 63-11 147-17 169-11 189-5 189 2 179 10 137 13 116 17 105 22 84 25 31 13 32 16 31 18 22 16 21 19 20 23 21 28 17 29 22 48 23 67 19 77 16 86 13 96 10 105 6 115 3 115 -1 125 -5 115 -9 115 -11 96 -14 86 -19 86 -20 67 -24 58 -20 38 -20 29 -24 29 -24 22 -32 22 -32 18 -42 19 -42 14 -52 15 -63 14 -64 12 -73 10 -168 17 -190 9z"/>
<path fill="#da25ff" d="M2924 3364l-116 6 -115 2 -116 1 -116-3 -115-5 -106-8 -94-9 -95-13 -74-14 -63-15 -52-16 -53-21 -42-23 -32-23 -31-32 -21-28 -17-29 -18-38 -26-77 -12-48 -12-57 -18-115 -13-135 -8-153 -1-163 5-153 10-134 13-115 19-106 23-86 24-67 14-29 17-29 21-28 18-20 22-19 23-16 32-18 42-19 42-14 42-12 105-22 137-19 157-14 179-7 179-2 179 5 147 10 137 14 116 19 94 22 74 25 31 14 32 18 23 16 22 19 18 20 21 28 26 48 23 58 20 67 16 76 14 87 11 96 9 105 5 115 2 125 -2 115 -6 115 -9 115 -12 95 -15 87 -18 76 -22 67 -16 39 -14 29 -18 28 -24 29 -22 22 -32 23 -32 18 -31 14 -42 16 -53 15 -105 22 -137 19 -168 14z"/>
<path fill="#dc23ff" d="M2882 3355l-116 4 -115 2 -116-1 -116-3 -105-6 -105-8 -95-10 -84-12 -74-14 -63-16 -52-17 -42-19 -32-18 -34-26 -27-29 -20-29 -15-29 -17-38 -24-77 -23-105 -16-115 -13-144 -6-153 -1-163 6-153 10-135 14-115 19-105 24-86 14-39 13-28 28-48 15-20 21-21 22-17 21-14 31-17 32-13 42-14 52-14 116-22 137-17 158-12 178-7 190 0 178 6 148 10 126 14 105 16 95 23 42 13 31 13 32 15 21 13 23 17 21 19 17 19 20 29 24 48 21 57 18 67 17 87 13 86 10 105 8 115 4 115 0 125 -3 115 -6 115 -10 105 -12 96 -16 86 -20 77 -20 58 -17 38 -17 29 -22 28 -19 20 -24 19 -31 20 -32 15 -31 13 -42 13 -53 14 -116 21 -147 17 -168 12z"/>
<path fill="#de21ff" d="M2840 3345l-232 4 -220-5 -106-6 -94-8 -84-9 -85-12 -63-11 -63-16 -42-13 -42-17 -31-16 -35-25 -27-29 -21-29 -15-29 -13-28 -13-39 -14-48 -21-105 -16-115 -12-144 -6-153 -1-163 6-153 9-135 14-115 16-95 22-87 24-67 27-48 14-19 19-21 22-18 21-15 31-16 32-13 42-14 52-14 105-20 137-16 158-12 179-7 189 0 179 5 147 9 137 14 105 16 95 22 42 13 31 12 32 15 21 13 21 16 21 20 17 21 13 19 24 48 20 57 18 67 14 77 14 96 10 105 7 115 3 115 1 125 -3 125 -7 115 -10 115 -13 95 -16 87 -18 67 -20 57 -14 29 -17 29 -22 28 -19 20 -24 18 -32 18 -31 14 -32 12 -52 15 -53 12 -126 20 -147 15 -179 10z"/>
<path fill="#e01fff" d="M2766 3335l-221 1 -210-6 -189-15 -84-9 -74-12 -53-10 -52-13 -42-14 -42-18 -32-19 -24-19 -26-29 -18-28 -15-29 -14-39 -22-76 -20-106 -15-124 -10-144 -6-163 1-163 6-153 9-125 14-115 17-96 19-76 21-58 26-48 15-19 21-22 21-16 21-13 32-16 31-12 42-13 53-12 116-20 136-14 169-11 189-5 189 0 179 6 137 10 126 13 105 17 84 19 63 22 32 16 21 13 34 29 16 19 18 28 22 48 19 58 18 77 15 86 11 96 9 115 6 115 2 124 -1 125 -4 124 -8 115 -10 106 -13 86 -15 77 -18 67 -23 57 -15 29 -21 29 -18 19 -24 19 -21 13 -32 16 -31 12 -42 13 -53 12 -52 10 -137 18 -168 14 -190 7z"/>
<path fill="#e21dff" d="M2956 3317l-232 7 -242-1 -221-9 -105-8 -84-9 -74-10 -63-12 -52-13 -53-17 -31-14 -32-19 -24-21 -24-28 -17-29 -13-29 -22-67 -18-86 -16-106 -12-134 -8-143 -3-154 2-163 7-144 10-124 13-106 18-95 19-67 23-58 17-29 15-19 12-13 21-17 21-14 32-15 31-12 42-12 95-20 126-17 147-12 179-8 179-3 189 2 158 7 147 11 116 14 105 18 74 20 31 12 32 15 35 25 19 19 15 19 21 39 22 57 18 67 13 67 12 87 9 95 8 115 5 115 1 125 -1 125 -5 124 -8 115 -12 106 -13 86 -16 77 -17 57 -11 29 -14 29 -12 19 -16 21 -22 20 -21 15 -21 12 -31 14 -42 14 -42 11 -105 20 -127 15 -157 12z"/>
<path fill="#e41bff" d="M2924 3307l-231 6 -232-2 -221-9 -94-8 -84-8 -74-10 -63-12 -53-13 -42-13 -31-14 -32-20 -21-18 -19-23 -16-29 -13-29 -21-67 -18-86 -16-115 -11-134 -7-154 -2-163 2-153 7-144 10-124 14-106 16-86 19-67 11-29 14-29 11-19 15-19 15-14 21-16 21-12 31-14 32-10 42-11 94-18 127-15 147-12 179-7 189-2 179 2 158 7 136 10 127 14 94 16 74 19 52 21 21 12 21 16 15 14 15 19 21 39 18 48 18 67 14 76 11 87 10 105 7 115 4 115 1 134 -2 125 -5 124 -8 115 -10 96 -13 86 -16 77 -17 58 -12 28 -15 29 -13 19 -18 19 -24 20 -23 13 -52 21 -42 12 -42 9 -105 17 -137 14 -158 10z"/>
<path fill="#e619ff" d="M2892 3297l-231 5 -231-3 -211-9 -94-8 -85-9 -63-8 -63-12 -52-13 -42-14 -32-15 -21-14 -21-21 -17-23 -10-19 -13-29 -12-38 -10-38 -16-87 -14-115 -10-134 -7-153 -1-163 2-154 6-134 10-124 13-106 15-86 18-67 19-48 10-19 14-19 14-15 21-17 21-13 31-13 32-10 42-11 94-17 127-14 157-11 179-7 190-2 189 3 158 7 136 10 116 13 95 16 63 16 52 20 21 13 21 17 14 15 14 19 19 38 19 58 13 57 13 77 11 96 9 105 5 115 4 125 0 134 -2 125 -6 124 -7 106 -10 95 -13 87 -15 67 -17 57 -13 29 -10 19 -14 19 -18 19 -17 13 -21 13 -31 13 -32 10 -84 19 -116 17 -136 12 -169 9z"/>
<path fill="#e817ff" d="M2829 3288l-231 2 -221-4 -200-10 -158-15 -63-8 -52-10 -42-10 -42-14 -32-15 -18-13 -20-19 -13-19 -11-19 -11-29 -20-67 -17-96 -13-115 -10-143 -5-154 -2-163 3-163 6-134 10-124 13-106 15-86 16-58 20-48 12-19 14-16 13-12 18-13 21-11 32-11 73-19 105-16 127-13 157-9 179-6 190-1 189 3 147 6 137 10 105 11 95 15 63 15 31 11 21 9 32 21 17 17 13 19 19 38 18 58 14 67 11 76 11 96 8 115 5 125 2 124 0 135 -3 134 -6 124 -8 106 -11 96 -12 76 -16 67 -17 48 -21 39 -16 19 -19 15 -21 13 -31 13 -63 18 -95 16 -126 14 -147 10 -169 7z"/>
<path fill="#ea15ff" d="M2745 3278l-231 0 -211-6 -178-10 -148-15 -63-10 -42-9 -31-9 -32-11 -21-11 -20-15 -18-19 -11-19 -20-48 -18-77 -15-96 -11-115 -8-144 -5-153 -1-163 3-163 6-134 9-115 11-96 15-86 14-58 20-48 19-28 10-10 20-15 21-11 32-11 73-18 105-15 137-12 168-9 179-5 200 0 189 3 158 7 126 9 106 12 84 14 63 17 42 19 20 15 10 10 19 28 17 39 15 57 13 67 11 87 9 105 7 115 4 125 2 134 -1 134 -4 134 -6 115 -8 106 -10 86 -13 77 -13 57 -18 48 -10 19 -14 19 -10 10 -20 15 -21 11 -32 11 -73 18 -105 15 -137 12 -168 9 -190 5z"/>
<path fill="#ec13ff" d="M3019 3259l-232 7 -242 1 -242-6 -199-10 -137-14 -63-10 -42-9 -32-9 -31-12 -23-15 -19-19 -11-19 -9-20 -17-57 -15-77 -12-105 -10-125 -6-144 -3-153 0-163 4-153 6-134 10-115 11-96 12-67 16-58 18-38 15-19 12-11 21-14 21-9 63-17 84-14 105-11 137-9 168-7 179-3 189 1 168 3 158 7 126 9 106 12 73 12 63 17 32 15 21 17 10 11 16 29 17 48 12 57 11 68 9 86 8 96 9 230 1 134 -1 144 -3 134 -6 115 -8 105 -9 86 -12 77 -14 58 -19 48 -20 28 -22 19 -21 10 -21 8 -63 16 -95 14 -116 12 -136 8z"/>
<path fill="#ee11ff" d="M2998 3249l-232 6 -242 0 -231-5 -189-9 -137-13 -53-7 -52-10 -32-8 -31-13 -21-13 -14-14 -12-19 -8-20 -16-57 -13-77 -11-96 -9-124 -6-154 -3-162 1-163 3-154 6-134 9-115 11-96 14-76 14-48 8-20 12-19 20-19 15-8 21-9 63-17 84-12 116-11 136-8 169-6 178-2 190 0 168 3 147 6 126 8 106 11 84 14 52 14 32 15 10 7 14 14 16 29 13 38 13 58 10 67 9 86 7 106 9 239 0 278 -4 134 -5 125 -8 105 -9 87 -11 67 -14 57 -14 39 -12 19 -9 9 -26 18 -42 16 -63 13 -94 13 -116 9 -147 8z"/>
<path fill="#f00fff" d="M2966 3239l-221 5 -242 0 -221-5 -189-9 -137-11 -94-15 -32-7 -31-12 -19-13 -9-9 -12-19 -8-20 -13-48 -13-76 -10-96 -8-125 -6-153 -2-163 0-172 3-154 6-134 7-115 10-96 13-76 13-48 13-29 14-17 10-9 21-10 21-8 53-11 84-12 105-9 137-7 168-6 179-2 189 0 168 3 148 5 126 7 105 9 84 12 53 11 31 12 19 13 9 9 7 10 10 19 12 38 11 58 9 67 8 86 7 106 7 239 0 297 -3 135 -6 124 -7 106 -9 86 -11 67 -12 48 -16 38 -16 19 -8 7 -21 10 -42 13 -74 13 -94 10 -127 8 -147 6z"/>
<path fill="#f20dff" d="M2924 3230l-231 3 -242-1 -221-5 -179-9 -126-11 -84-14 -42-14 -12-7 -10-9 -7-10 -9-19 -6-19 -13-58 -10-76 -8-106 -7-124 -4-154 -2-163 1-163 2-143 5-135 7-115 8-86 10-67 13-57 13-29 7-10 11-10 11-6 21-9 63-13 84-11 116-8 147-7 168-4 189-2 200 1 169 3 147 5 126 7 95 9 73 10 42 10 21 9 11 6 11 10 7 10 13 29 11 48 9 57 8 77 7 96 5 115 6 268 -2 287 -4 135 -6 115 -7 95 -9 77 -11 58 -11 38 -9 19 -7 10 -11 10 -11 6 -31 12 -42 9 -74 9 -105 9 -126 7 -158 5z"/>
<path fill="#f40bff" d="M2861 3220l-231 2 -232-2 -200-4 -168-8 -116-10 -73-11 -42-12 -16-12 -8-10 -8-19 -6-19 -9-48 -9-77 -8-96 -6-124 -4-144 -1-335 6-278 5-115 8-96 9-77 9-48 6-19 8-19 13-15 11-7 21-7 52-11 84-9 106-8 147-6 168-4 389-1 316 6 126 6 105 7 74 9 52 11 25 10 12 9 8 10 11 29 11 48 9 67 6 76 11 221 4 278 -3 297 -9 239 -7 87 -8 76 -9 48 -11 39 -5 9 -13 15 -21 11 -42 10 -53 8 -84 8 -116 7 -294 8z"/>
<path fill="#f609ff" d="M2693 3211l-400-3 -168-5 -137-6 -95-8 -63-10 -31-9 -11-7 -8-10 -10-29 -11-57 -8-86 -6-106 -5-134 -4-163 0-355 7-268 5-105 7-87 7-57 10-48 8-19 8-10 11-7 31-9 63-10 95-8 116-5 326-8 389 0 294 6 116 5 95 6 63 7 52 9 21 7 11 7 8 10 10 29 9 48 8 67 5 76 10 240 3 297 -3 297 -10 240 -5 76 -8 67 -9 48 -10 29 -8 10 -11 7 -21 7 -52 9 -84 8 -116 7 -137 5 -357 5z"/>
<path fill="#f807ff" d="M3187 3192l-221 5 -263 3 -284-1 -242-4 -179-6 -115-8 -42-5 -32-6 -10-4 -11-9 -7-13 -10-48 -8-67 -6-96 -7-269 -2-335 4-307 9-220 5-67 8-58 10-38 10-10 15-7 53-9 73-6 105-6 295-7 368-2 337 4 242 8 73 5 63 7 42 10 11 9 7 13 9 39 11 105 8 182 5 249 0 307 -4 269 -9 201 -6 67 -7 48 -10 38 -15 13 -10 4 -42 7 -53 6 -168 9z"/>
<path fill="#fa05ff" d="M3208 3182l-221 4 -284 3 -294-1 -263-4 -158-4 -116-7 -63-8 -10-3 -10-9 -8-29 -5-38 -8-144 -6-239 -2-307 2-307 6-239 8-144 5-38 8-29 10-9 31-7 63-6 84-4 274-7 379-3 378 3 274 7 84 4 63 6 31 7 10 9 6 19 6 38 8 125 6 201 3 259 0 297 -4 259 -7 182 -4 57 -6 48 -8 29 -10 9 -10 3 -32 5 -52 5 -158 7z"/>
<path fill="#fc03ff" d="M3240 3172l-495 6 -578-3 -179-3 -116-5 -63-6 -10-2 -7-6 -5-29 -4-38 -6-153 -4-240 -1-297 1-297 4-240 6-153 4-38 5-29 7-6 31-5 147-7 274-5 379-2 378 2 274 5 147 7 31 5 7 6 5 29 4 38 5 125 4 210 2 269 0 306 -3 250 -6 172 -7 96 -4 19 -7 6 -10 2 -74 7 -136 4z"/>
<path fill="#fe01ff" d="M3303 3163l-484 4 -621-2 -315-4 -74-3 -10-1 -4-4 -5-67 -3-153 -3-537 3-537 3-153 5-67 4-4 31-2 147-4 653-4 652 4 147 4 31 2 4 4 5 67 3 134 3 508 -2 556 -3 163 -5 77 -1 9 -4 4 -52 3 -105 3z"/>
<path fill="#ff00ff" d="M3460 3154l-830 2 -831-2 -2-125 -1-480 2-910 169-2 663-1 662 1 169 2 2 910 -1 480 -2 125z"/>
</g>
<path fill="#fff" fill-rule="evenodd" d="M62.4 951.5h539.9v493.2h-539.9zM69.4 958.5v479.2h525.9v-479.2z"/>
<rect x="69.4" y="958.5" width="1.8" height="479.2" fill="#0a2a44" opacity="0.13"/>
<rect x="69.4" y="1435.9" width="525.9" height="1.8" fill="#0a2a44" opacity="0.13"/>
<rect x="69.4" y="957.8" width="6.6" height="1.1" fill="#1c3c4c" opacity="0.75"/>
<rect x="594.7" y="1432.1" width="1.3" height="5.6" fill="#1c3c4c" opacity="0.35"/>
<rect x="249.26" y="1122.39" width="166.18" height="151.43" fill="#fff"/>
<text transform="translate(62.4 965.9)" font-size="18.75" text-anchor="end" fill="#262626">+12.5</text>
<text transform="translate(62.4 1205.5)" font-size="18.75" text-anchor="end" fill="#262626">0</text>
<text transform="translate(62.4 1445.1)" font-size="18.75" text-anchor="end" fill="#262626">-12.5</text>
<text transform="translate(69.8 1463.9)" font-size="18.75" text-anchor="middle" fill="#262626">-12.5</text>
<text transform="translate(332.75 1463.9)" font-size="18.75" text-anchor="middle" fill="#262626">0</text>
<text transform="translate(595.7 1463.9)" font-size="18.75" text-anchor="middle" fill="#262626">+12.5</text>
<text transform="translate(332.85 1491) scale(1 0.975)" font-size="20.7" text-anchor="middle" fill="#262626">Dimension (<tspan font-style="italic"  font-family="'Liberation Serif', serif" font-size="22.5" dx="0.2">μ</tspan><tspan dx="0.6">m</tspan><tspan dx="0.6">)</tspan></text>
<text transform="translate(21.1 1197.3) rotate(-90) scale(1 0.975)" font-size="20.7" text-anchor="middle" fill="#262626">Dimension (<tspan font-style="italic"  font-family="'Liberation Serif', serif" font-size="22.5" dx="0.2">μ</tspan><tspan dx="0.6">m</tspan><tspan dx="0.6">)</tspan></text>
<text transform="translate(3.2 934.9) scale(0.99 1.045)" font-size="39.2" font-weight="bold" fill="#000">B</text>
</g>
<g id="heatC">
<rect x="715.3" y="954.5" width="533.9" height="487.2" fill="#3cc3ff"/>
<g transform="translate(719.3 958.5) scale(0.1)">
<path fill="#3ec1ff" d="M4964 4832l-4680 0 -1-50 -3-19 -7-19 -9-19 -14-19 -17-19 -24-20 -20-13 -29-15 -23-10 -32-10 -52-11 -93-8 0-4408 93-8 52-11 32-10 23-10 29-15 20-13 24-20 17-19 14-19 9-19 7-19 3-19 1-50 4680 0 11 69 10 29 12 19 15 19 20 19 17 13 24 16 28 14 32 12 31 9 53 9 82 4 0 4408 -82 4 -53 9 -31 9 -32 12 -28 14 -24 16 -17 13 -20 19 -15 19 -12 19 -10 29 -11 69z"/>
<path fill="#40bfff" d="M4712 4832l-4165 0 -7-40 -2-29 -4-19 -9-29 -19-38 -22-32 -31-35 -32-29 -38-29 -46-28 -42-21 -53-22 -53-17 -52-12 -53-8 -52-5 -72-2 0-4082 72-2 52-5 53-8 52-12 53-17 53-22 42-21 46-28 38-29 32-29 31-35 22-32 19-38 9-29 4-19 2-29 7-40 4165 0 7 69 4 19 10 32 17 35 25 36 28 31 32 29 38 29 39 24 45 24 50 21 52 17 42 11 42 8 63 8 53 2 40 9 0 4064 -40 9 -53 2 -63 8 -42 8 -42 11 -52 17 -50 21 -45 24 -39 24 -38 29 -32 29 -28 31 -25 36 -17 35 -10 32 -4 19 -7 69z"/>
<path fill="#42bdff" d="M4533 4832l-3807 0 -9-40 -3-38 -9-37 -16-40 -23-38 -35-46 -39-41 -45-38 -53-38 -63-37 -60-30 -66-27 -63-20 -63-16 -63-11 -53-5 -63-3 -40-5 0-3852 40-5 63-3 53-5 63-11 63-16 63-20 66-27 60-30 63-37 53-38 45-38 39-41 35-46 23-38 16-40 9-37 3-38 9-40 3807 0 7 40 4 38 6 29 15 40 26 46 37 48 37 39 45 38 53 38 64 39 58 28 69 28 63 21 63 15 63 11 53 6 63 2 40 4 0 3852 -40 4 -63 2 -53 6 -63 11 -63 15 -63 21 -69 28 -58 28 -64 39 -53 38 -45 38 -37 39 -37 48 -26 46 -15 40 -6 29 -4 38 -7 40z"/>
<path fill="#44bbff" d="M4386 4832l-3513 0 -7-40 -3-38 -9-39 -19-48 -28-48 -39-49 -55-56 -58-48 -66-46 -74-44 -84-42 -75-31 -83-27 -73-18 -74-13 -73-7 -93-2 0-3680 93-2 73-7 74-13 73-18 83-27 75-31 84-42 74-44 66-46 58-48 55-56 39-49 28-48 19-48 9-39 3-38 7-40 3513 0 6 40 3 38 9 39 19 48 28 48 37 47 46 48 56 48 66 48 77 47 74 38 73 32 75 27 73 20 73 15 84 10 74 3 40 9 0 3662 -40 9 -74 3 -84 10 -73 15 -73 20 -75 27 -73 32 -74 38 -77 47 -66 48 -56 48 -46 48 -37 47 -28 48 -19 48 -9 39 -3 38 -6 40z"/>
<path fill="#46b9ff" d="M4249 4832l-3239 0 -10-40 -4-48 -10-38 -21-48 -16-29 -20-29 -47-57 -60-58 -71-57 -69-48 -82-50 -89-46 -90-40 -95-34 -79-22 -79-16 -84-11 -84-3 -40-8 0-3508 40-8 84-3 84-11 79-16 79-22 95-34 90-40 89-46 82-50 69-48 71-57 60-58 47-57 20-29 16-29 21-48 10-38 4-48 10-40 3239 0 8 40 5 48 10 38 20 48 17 29 19 29 48 57 60 58 66 53 74 52 83 51 87 45 92 41 95 34 84 23 84 17 84 9 74 3 40 7 0 3508 -40 7 -74 3 -84 9 -84 17 -84 23 -95 34 -92 41 -87 45 -83 51 -74 52 -66 53 -60 58 -48 57 -19 29 -17 29 -20 48 -10 38 -5 48 -8 40z"/>
<path fill="#48b7ff" d="M4123 4832l-2987 0 -9-40 -5-48 -13-48 -23-48 -17-29 -20-28 -50-58 -71-67 -85-67 -86-58 -94-57 -110-57 -109-48 -97-35 -95-27 -84-17 -84-10 -84-3 -40-4 0-3374 40-4 84-3 84-10 84-17 95-27 97-35 109-48 110-57 94-57 86-58 85-67 71-67 50-58 20-28 17-29 23-48 13-48 5-48 9-40 2987 0 8 40 5 48 13 48 22 48 18 29 20 28 49 58 72 67 85 67 87 59 94 57 108 56 103 46 105 38 95 27 94 18 84 10 114 5 0 3374 -114 5 -84 10 -94 18 -95 27 -105 38 -103 46 -108 56 -94 57 -87 59 -85 67 -72 67 -49 58 -20 28 -18 29 -22 48 -13 48 -5 48 -8 40z"/>
<path fill="#4ab5ff" d="M4007 4832l-2755 0 -6-78 -12-48 -12-29 -14-29 -18-29 -29-38 -24-29 -37-38 -75-67 -88-67 -99-67 -112-67 -126-67 -108-48 -113-43 -106-32 -94-20 -84-11 -95-4 -40-5 0-3240 40-5 95-4 84-11 94-20 106-32 113-43 108-48 126-67 112-67 99-67 88-67 75-67 37-38 24-29 29-38 18-29 14-29 12-29 12-48 6-78 2755 0 4 69 5 29 8 28 12 29 14 29 18 29 29 38 24 29 37 38 75 67 88 67 99 67 113 68 126 66 106 48 115 44 106 31 94 21 84 11 95 4 40 4 0 3240 -40 4 -95 4 -84 11 -94 21 -106 31 -115 44 -106 48 -126 66 -113 68 -99 67 -88 67 -75 67 -37 38 -24 29 -29 38 -18 29 -14 29 -12 29 -8 28 -5 29 -4 69z"/>
<path fill="#4cb3ff" d="M3881 4832l-2503 0 -8-40 -5-48 -15-48 -13-29 -16-28 -20-29 -31-38 -26-29 -39-39 -43-38 -48-38 -105-77 -118-77 -131-76 -129-67 -126-58 -116-44 -105-31 -105-23 -53-8 -52-5 -114-4 0-3124 114-4 52-5 53-8 105-23 105-31 116-44 126-58 129-67 131-76 118-77 105-77 48-38 43-38 39-39 26-29 31-38 20-29 16-28 13-29 15-48 5-48 8-40 2503 0 7 40 5 48 15 48 13 29 16 28 20 29 31 38 26 29 39 39 43 38 48 38 105 77 117 77 132 76 130 68 126 57 63 25 62 23 107 31 105 22 94 11 114 3 0 3124 -114 3 -94 11 -105 22 -107 31 -62 23 -63 25 -126 57 -130 68 -132 76 -117 77 -105 77 -48 38 -43 38 -39 39 -26 29 -31 38 -20 29 -16 28 -13 29 -15 48 -5 48 -7 40z"/>
<path fill="#4eb1ff" d="M3765 4832l-2271 0 -2-50 -3-28 -7-29 -11-29 -14-29 -17-28 -21-29 -33-38 -68-68 -94-76 -121-86 -135-87 -149-86 -146-77 -137-63 -130-52 -59-19 -63-19 -105-22 -53-8 -52-5 -114-3 0-3010 114-3 52-5 53-8 105-22 63-19 59-19 130-52 137-63 146-77 149-86 135-87 121-86 94-76 68-68 33-38 21-29 17-28 14-29 11-29 7-29 3-28 2-50 2271 0 3 69 5 29 10 28 13 29 22 38 21 29 33 38 68 68 94 76 107 77 134 86 146 86 144 77 141 67 132 53 105 35 106 25 52 10 53 6 52 4 53 2 40 9 0 2990 -40 9 -53 2 -52 4 -53 6 -52 10 -106 25 -105 35 -132 53 -141 67 -144 77 -146 86 -134 86 -107 77 -94 76 -68 68 -33 38 -21 29 -22 38 -13 29 -10 28 -5 29 -3 69z"/>
<path fill="#50afff" d="M3639 4832l-2019 0 -3-69 -7-29 -10-28 -14-29 -25-38 -22-29 -35-38 -40-39 -44-38 -101-77 -127-86 -154-96 -167-96 -166-87 -148-70 -73-31 -63-24 -116-38 -63-16 -53-11 -52-9 -53-5 -124-6 0-2894 124-6 53-5 52-9 53-11 63-16 116-38 63-24 73-31 148-70 166-87 167-96 154-96 127-86 101-77 44-38 40-39 35-38 22-29 25-38 14-29 10-28 7-29 3-69 2019 0 3 69 6 29 10 28 14 29 25 38 22 29 35 38 40 39 45 38 100 77 127 86 154 96 167 96 167 88 148 70 73 31 63 24 116 38 63 16 53 11 52 8 53 6 124 5 0 2894 -124 5 -53 6 -52 8 -53 11 -63 16 -116 38 -63 24 -73 31 -148 70 -167 88 -167 96 -154 96 -127 86 -100 77 -45 38 -40 39 -35 38 -22 29 -25 38 -14 29 -10 28 -6 29 -3 69z"/>
<path fill="#52adff" d="M3502 4832l-1745 0 -5-59 -3-19 -9-29 -13-29 -17-29 -21-28 -25-29 -38-38 -44-39 -48-38 -107-77 -148-96 -176-105 -204-115 -183-96 -148-70 -137-57 -115-39 -64-17 -52-12 -95-14 -52-4 -53-2 -40-5 0-2780 40-5 53-2 52-4 95-14 52-12 64-17 115-39 137-57 148-70 183-96 204-115 176-105 148-96 107-77 48-38 44-39 38-38 25-29 21-28 17-29 13-29 9-29 3-19 5-59 1745 0 5 69 7 29 12 28 16 29 27 38 25 29 38 38 44 39 48 38 107 77 148 96 176 105 204 115 183 96 149 71 137 57 115 39 64 17 52 11 95 15 52 4 53 1 40 5 0 2780 -40 5 -53 1 -52 4 -95 15 -52 11 -64 17 -115 39 -137 57 -149 71 -183 96 -204 115 -176 105 -148 96 -107 77 -48 38 -44 39 -38 38 -25 29 -27 38 -16 29 -12 28 -7 29 -5 69z"/>
<path fill="#54abff" d="M3355 4832l-1451 0 -5-69 -8-29 -14-28 -18-29 -23-29 -28-29 -42-38 -47-38 -52-39 -130-86 -173-105 -217-125 -244-134 -184-96 -161-76 -127-53 -63-23 -63-20 -63-17 -53-11 -52-9 -53-6 -124-5 0-2684 124-5 53-6 52-9 53-11 63-17 63-20 63-23 127-53 161-76 184-96 244-134 217-125 173-105 130-86 52-39 47-38 42-38 28-29 23-29 18-29 14-28 8-29 5-69 1451 0 2 50 2 19 8 29 14 28 18 29 24 29 27 29 42 38 47 38 52 39 130 86 174 105 217 125 243 134 189 98 158 75 136 57 116 39 63 17 53 11 52 9 53 6 52 3 72 1 0 2684 -72 1 -52 3 -53 6 -52 9 -53 11 -63 17 -116 39 -136 57 -158 75 -189 98 -243 134 -217 125 -174 105 -130 86 -52 39 -47 38 -42 38 -27 29 -24 29 -18 29 -14 28 -8 29 -2 19 -2 50z"/>
<path fill="#56a9ff" d="M3176 4832l-1093 0 -9-69 -10-29 -18-28 -23-29 -29-29 -33-29 -50-38 -115-77 -144-86 -205-115 -350-191 -235-126 -178-92 -148-70 -116-48 -115-39 -105-27 -84-14 -63-6 -53-2 -40-8 0-2568 40-8 53-2 63-6 84-14 105-27 115-39 116-48 148-70 178-92 235-126 350-191 205-115 144-86 115-77 50-38 33-29 29-29 23-29 18-28 10-29 9-69 1093 0 8 69 11 29 17 28 23 29 29 29 33 29 50 38 115 77 145 86 221 124 351 192 232 125 175 89 137 64 126 52 115 39 53 14 53 12 84 13 52 5 53 1 40 8 0 2568 -40 8 -53 1 -52 5 -84 13 -53 12 -53 14 -115 39 -126 52 -137 64 -175 89 -232 125 -351 192 -221 124 -145 86 -115 77 -50 38 -33 29 -29 29 -23 29 -17 28 -11 29 -8 69z"/>
<path fill="#58a7ff" d="M2924 4832l-589 0 -9-59 -8-19 -14-20 -18-19 -35-28 -40-29 -62-39 -84-47 -107-58 -580-300 -519-275 -148-77 -122-59 -105-48 -95-38 -84-29 -84-23 -74-14 -73-9 -74-3 -40-7 0-2472 40-7 74-3 73-9 74-14 84-23 84-29 95-38 105-48 122-59 148-77 519-275 580-300 107-58 84-47 62-39 40-29 35-28 18-19 14-20 8-19 9-59 589 0 8 59 9 19 13 20 18 19 35 28 41 29 61 39 84 47 107 58 581 300 518 275 148 77 123 60 105 47 95 38 84 29 84 23 74 15 63 8 84 4 40 6 0 2472 -40 6 -84 4 -63 8 -74 15 -84 23 -84 29 -95 38 -105 47 -123 60 -148 77 -518 275 -581 300 -107 58 -84 47 -61 39 -41 29 -35 28 -18 19 -13 20 -9 19 -8 59z"/>
<path fill="#5aa5ff" d="M2724 4630l-52 5 -64 1 -63-5 -63-9 -63-14 -73-20 -85-28 -84-30 -126-50 -158-68 -168-76 -158-75 -326-163 -557-293 -116-57 -105-47 -74-30 -63-23 -63-19 -53-14 -52-11 -53-8 -52-5 -53-1 -40-6 0-2376 40-6 42-1 53-4 94-15 53-13 53-15 115-41 116-50 147-71 547-287 263-133 242-116 210-94 116-50 105-42 95-35 84-27 74-21 73-17 63-9 63-5 64 1 73 8 63 12 74 18 95 30 84 30 94 36 116 48 242 108 242 115 284 144 557 292 137 66 126 54 116 40 53 15 52 12 84 13 53 4 42 1 40 5 0 2376 -40 5 -42 1 -53 4 -94 16 -53 12 -63 19 -116 42 -126 55 -137 67 -515 270 -252 129 -200 97 -200 92 -221 95 -105 41 -84 31 -74 24 -74 21 -73 17 -53 8z"/>
<path fill="#5ca3ff" d="M2766 4524l-73 7 -85 1 -84-4 -84-11 -84-15 -95-23 -94-27 -116-38 -126-47 -147-60 -148-64 -168-78 -137-67 -158-80 -525-276 -116-57 -95-42 -63-25 -63-23 -63-19 -53-13 -52-10 -42-6 -53-4 -42-2 -40-5 0-2280 40-5 42-2 53-4 42-6 52-10 53-13 63-19 63-23 63-25 105-47 116-57 505-266 284-141 147-70 126-56 137-57 126-50 95-34 95-31 94-27 74-18 74-15 73-11 74-7 74-2 73 2 74 7 73 11 74 15 74 18 94 27 95 31 95 34 126 50 137 57 126 57 147 69 284 142 515 271 116 56 95 43 63 25 63 23 63 19 53 13 52 10 42 6 53 4 42 1 40 5 0 2280 -40 5 -84 4 -84 13 -53 12 -52 14 -106 37 -115 49 -137 66 -505 265 -231 117 -200 96 -190 84 -115 48 -105 41 -95 34 -95 31 -94 27 -74 18 -74 15 -84 12z"/>
<path fill="#5ea1ff" d="M2724 4457l-84 3 -95-3 -84-7 -94-13 -85-17 -105-25 -105-31 -116-38 -126-46 -147-59 -147-64 -148-69 -136-67 -137-69 -505-268 -105-51 -95-43 -115-44 -53-16 -53-14 -52-11 -42-6 -53-4 -42-1 -40-5 0-2186 40-5 42-1 53-4 42-6 52-11 53-14 53-16 115-44 95-43 105-51 494-262 263-132 137-64 137-61 137-56 126-49 105-36 95-30 105-29 84-20 84-15 84-12 84-7 85-3 84 3 84 7 84 12 84 16 84 19 105 29 95 30 105 37 126 48 137 56 126 56 148 69 263 132 494 262 105 52 95 43 115 44 64 19 52 13 53 10 42 6 84 4 40 4 0 2186 -40 4 -84 4 -42 6 -53 10 -52 13 -64 19 -115 44 -95 43 -116 57 -462 246 -263 133 -148 69 -126 56 -115 49 -127 50 -94 34 -95 32 -84 25 -84 23 -84 19 -85 15 -73 10 -74 7z"/>
<path fill="#609fff" d="M2693 4399l-95 1 -95-4 -94-10 -95-14 -105-22 -105-27 -116-34 -116-38 -126-47 -137-56 -136-60 -148-68 -136-68 -127-65 -473-254 -105-53 -95-43 -105-40 -53-16 -52-14 -84-15 -53-5 -42-1 -40-5 0-2090 40-5 42-1 53-5 84-15 52-14 53-16 105-40 95-43 105-53 473-254 127-65 136-68 148-68 126-56 126-51 126-48 105-36 116-36 105-28 95-21 84-15 95-12 84-7 95-3 94 3 84 7 95 12 84 16 95 21 105 27 116 36 105 36 126 48 126 51 126 56 148 69 126 62 137 71 473 254 105 52 95 43 105 41 53 16 52 14 53 10 42 6 84 5 40 4 0 2090 -40 4 -84 5 -42 6 -53 10 -52 14 -53 16 -105 41 -95 43 -105 52 -473 254 -242 123 -147 70 -127 56 -115 48 -127 48 -105 38 -94 30 -106 30 -94 23 -95 19 -84 14 -84 9 -84 5z"/>
<path fill="#629dff" d="M2798 4342l-105 6 -116 1 -105-6 -116-14 -116-20 -105-23 -126-34 -126-40 -137-48 -137-54 -147-63 -147-69 -126-62 -148-76 -484-264 -105-53 -84-38 -105-40 -53-16 -42-11 -84-15 -42-3 -42-2 -40-5 0-1994 40-5 42-2 42-3 84-15 42-11 53-16 105-40 84-38 105-53 463-252 126-66 137-69 137-64 137-61 115-47 127-48 115-40 116-35 105-28 105-23 106-19 94-12 95-7 95-2 94 2 95 7 94 12 106 19 105 23 105 28 116 35 115 40 127 48 115 47 137 61 137 64 126 64 137 71 463 253 105 53 84 38 105 40 53 16 42 11 84 15 42 3 42 2 40 4 0 1994 -40 4 -42 2 -42 3 -84 15 -53 14 -52 16 -106 42 -84 39 -105 53 -442 241 -231 120 -126 61 -127 57 -115 50 -116 46 -105 38 -95 32 -94 29 -95 26 -84 19 -95 19 -84 13 -84 10z"/>
<path fill="#649bff" d="M2661 4303l-105-1 -105-6 -105-13 -106-17 -115-25 -106-27 -115-34 -126-42 -127-48 -136-56 -137-61 -137-65 -116-59 -126-67 -463-257 -94-49 -84-39 -106-41 -52-17 -42-10 -74-13 -42-4 -42-1 -40-6 0-1898 40-6 42-1 42-4 74-13 42-10 52-17 106-41 84-39 94-49 463-257 126-67 116-59 137-65 126-57 137-56 126-48 116-39 115-36 116-30 105-23 105-18 106-14 94-7 106-3 105 3 94 8 106 13 105 18 105 23 116 31 115 35 116 39 126 48 137 57 126 56 137 66 116 58 126 67 463 258 94 49 84 39 106 41 52 16 42 11 42 8 42 6 74 4 40 5 0 1898 -40 5 -74 4 -42 6 -42 8 -42 11 -52 16 -106 41 -84 39 -94 49 -442 246 -126 68 -127 64 -126 61 -137 62 -126 53 -126 48 -116 40 -115 36 -116 32 -105 24 -105 19 -95 13 -105 10 -95 3z"/>
<path fill="#6699ff" d="M2787 4256l-115 6 -116-1 -126-9 -116-14 -116-20 -126-28 -126-34 -137-43 -126-45 -147-59 -148-65 -147-70 -126-64 -137-74 -473-268 -95-49 -73-35 -95-37 -53-17 -42-11 -73-12 -74-5 -40-5 0-1802 40-5 42-2 42-4 74-14 42-11 52-17 95-39 74-35 94-49 442-252 126-68 127-66 136-66 127-57 136-57 126-48 116-40 126-38 116-30 116-25 105-18 105-13 105-8 106-3 105 3 105 8 105 13 105 18 116 25 116 30 126 38 116 40 126 48 136 57 127 57 136 67 127 65 126 69 442 251 94 50 84 40 95 37 53 17 42 11 73 12 74 5 40 4 0 1802 -40 4 -74 5 -42 6 -42 9 -42 11 -52 17 -95 39 -74 35 -94 50 -432 245 -115 64 -116 60 -126 63 -126 58 -116 50 -116 46 -105 39 -116 39 -94 28 -106 28 -94 21 -105 19 -95 14 -95 9z"/>
<path fill="#6897ff" d="M2787 4218l-115 5 -127-1 -115-8 -127-15 -136-24 -127-29 -136-37 -126-41 -137-50 -137-55 -147-65 -147-72 -127-65 -136-76 -463-269 -84-45 -74-36 -95-38 -84-25 -73-14 -74-4 -40-5 0-1706 40-5 74-4 73-14 84-25 95-38 74-36 94-51 432-251 126-71 126-66 137-68 126-58 137-58 126-48 126-44 126-38 116-30 116-25 115-20 106-13 115-9 106-2 105 2 115 9 106 13 115 20 116 25 116 30 126 38 126 44 126 49 137 57 126 58 137 68 126 67 126 70 432 252 94 51 74 36 95 38 84 25 73 14 114 8 0 1706 -114 8 -73 14 -84 25 -95 38 -74 36 -94 51 -421 246 -116 65 -115 62 -127 63 -126 60 -126 55 -116 46 -116 43 -105 35 -105 31 -105 27 -95 21 -105 19 -105 15 -95 9z"/>
<path fill="#6a95ff" d="M2819 4180l-126 7 -127 0 -126-7 -137-16 -126-21 -137-30 -136-37 -147-47 -148-54 -136-56 -148-67 -147-73 -126-67 -137-78 -452-271 -84-46 -74-36 -84-35 -42-14 -42-11 -74-13 -103-7 0-1610 103-7 74-13 42-11 42-14 95-40 73-37 84-46 432-259 126-72 115-63 137-69 137-63 126-54 126-50 127-44 126-39 126-33 116-26 115-20 116-15 116-9 116-3 115 3 116 9 116 15 115 20 116 26 126 33 126 39 127 44 126 50 126 54 137 64 137 69 126 68 115 66 432 259 84 47 73 37 95 40 42 14 42 11 74 13 103 6 0 1610 -103 6 -74 13 -42 11 -42 14 -95 40 -73 37 -84 47 -411 246 -115 67 -116 63 -126 66 -116 55 -126 57 -116 47 -105 40 -116 40 -105 32 -105 28 -105 24 -105 20 -106 16 -94 10z"/>
<path fill="#6c93ff" d="M2756 4150l-126 4 -127-4 -126-10 -126-17 -126-23 -137-32 -137-39 -147-49 -147-56 -137-59 -137-63 -147-76 -126-69 -126-74 -442-273 -74-42 -73-37 -85-36 -42-15 -42-11 -42-9 -31-4 -32-2 -61-1 0-1514 61-1 32-2 31-4 42-9 42-11 42-15 85-36 73-37 84-48 417-259 120-70 126-70 137-71 136-65 127-55 136-54 137-49 126-38 116-31 126-28 126-22 116-14 116-9 116-3 115 3 116 9 116 14 126 22 126 28 126 34 137 43 126 45 126 50 137 60 137 66 126 65 126 70 119 70 418 260 73 42 74 38 84 37 42 15 42 13 63 12 42 5 32 1 40 8 0 1496 -40 8 -32 1 -42 5 -63 12 -42 13 -42 15 -84 37 -74 38 -73 42 -402 250 -124 74 -105 59 -127 66 -126 63 -126 57 -126 52 -126 47 -116 39 -116 34 -116 30 -105 22 -115 20 -116 14 -105 8z"/>
<path fill="#6e91ff" d="M2672 4121l-127-1 -126-8 -126-14 -126-21 -127-27 -136-36 -137-42 -137-49 -136-55 -137-60 -137-67 -137-73 -115-66 -124-75 -413-265 -73-44 -74-39 -84-37 -74-24 -63-13 -63-4 -40-5 0-1400 40-5 63-4 63-13 74-24 84-37 74-39 73-44 413-265 124-75 115-66 137-73 126-62 127-57 136-55 137-50 126-40 126-35 137-31 126-22 127-16 115-9 127-4 126 4 115 9 127 16 126 22 137 31 126 35 126 40 137 50 136 56 127 57 126 62 137 72 115 67 127 76 410 264 73 44 74 39 84 38 74 23 63 13 103 8 0 1400 -103 8 -63 13 -74 23 -84 38 -74 39 -73 44 -399 256 -117 72 -115 67 -127 68 -136 68 -126 58 -137 57 -126 47 -137 45 -126 35 -127 30 -126 24 -116 17 -126 11 -115 5z"/>
<path fill="#708fff" d="M2829 4083l-136 7 -148 0 -147-10 -137-17 -147-26 -147-34 -147-43 -158-53 -147-58 -137-60 -147-72 -148-79 -105-60 -114-70 -132-87 -311-208 -84-52 -74-41 -74-33 -63-22 -52-12 -42-5 -32-1 -40-9 0-1284 40-9 32-1 42-5 52-12 74-26 73-35 64-35 73-45 395-263 121-77 115-69 126-70 137-69 137-64 137-57 136-51 137-44 137-38 126-29 126-23 137-18 126-10 127-3 126 3 126 10 137 18 126 23 126 29 137 38 137 44 136 51 137 58 137 63 137 70 126 70 114 68 122 77 395 264 73 45 64 36 73 34 74 26 63 14 63 4 40 8 0 1284 -40 8 -63 4 -63 14 -74 26 -73 34 -64 36 -73 45 -381 255 -114 72 -105 64 -126 71 -116 61 -126 61 -116 51 -115 47 -126 46 -116 37 -116 33 -116 27 -115 23 -116 18 -116 12z"/>
<path fill="#728dff" d="M2819 4055l-137 6 -147-1 -147-10 -148-19 -157-29 -148-36 -147-43 -158-55 -147-59 -147-67 -147-74 -148-83 -105-63 -112-72 -127-86 -297-209 -84-54 -64-37 -73-35 -63-22 -53-12 -31-4 -32-1 -40-9 0-1170 40-9 32-1 31-4 53-12 63-22 73-35 64-37 63-40 402-280 117-77 112-69 126-72 137-72 136-65 137-59 137-52 137-46 136-39 137-32 137-26 137-18 136-11 127-3 126 3 136 11 137 18 137 26 137 32 136 39 137 46 137 52 137 59 136 65 137 72 126 73 111 68 121 79 399 279 63 40 64 37 73 35 63 23 53 12 31 3 32 2 40 7 0 1170 -40 7 -32 2 -31 3 -53 12 -63 23 -73 35 -64 37 -73 47 -365 255 -115 77 -107 67 -118 69 -126 69 -116 58 -126 57 -126 52 -126 47 -116 38 -126 36 -127 30 -115 23 -116 17 -126 13z"/>
<path fill="#748bff" d="M2829 4026l-147 8 -84 0 -74-2 -147-11 -158-20 -147-28 -158-39 -157-48 -158-57 -158-65 -147-69 -148-78 -136-79 -109-69 -115-76 -121-87 -286-211 -84-57 -64-38 -63-32 -63-23 -52-12 -53-4 -40-6 0-1054 40-6 53-4 52-12 63-23 63-32 64-38 84-57 273-202 121-86 100-68 105-68 137-81 137-73 136-67 137-60 147-57 137-46 137-39 137-33 136-26 137-18 137-11 137-4 136 4 137 11 137 18 136 26 137 33 137 39 137 46 147 57 137 60 136 67 137 74 137 81 105 67 100 68 120 86 274 203 84 57 64 39 73 36 63 22 53 10 82 7 0 1054 -82 7 -32 5 -31 8 -63 24 -74 37 -53 33 -63 42 -361 266 -110 76 -107 71 -120 73 -122 69 -126 65 -126 60 -127 54 -126 48 -126 42 -126 36 -127 31 -126 25 -115 18 -127 13z"/>
<path fill="#7689ff" d="M2693 4006l-148 0 -147-9 -147-18 -147-26 -148-34 -147-42 -147-50 -158-62 -137-61 -147-74 -137-76 -137-85 -100-67 -108-76 -127-96 -264-207 -74-53 -63-40 -63-33 -52-20 -53-12 -42-3 -40-6 0-920 40-6 42-3 53-12 52-20 63-33 63-40 74-53 264-207 127-96 94-67 100-67 130-81 137-78 137-70 137-63 147-60 147-52 147-44 148-36 147-28 137-19 136-12 148-4 147 4 136 12 137 19 147 28 148 36 136 41 148 51 147 60 137 62 136 70 137 77 137 85 95 63 102 73 127 96 265 208 74 53 63 40 63 33 31 13 32 11 42 8 82 8 0 920 -82 8 -42 8 -32 11 -31 13 -63 33 -63 40 -74 53 -265 208 -114 86 -105 76 -95 64 -126 79 -126 72 -137 71 -136 64 -137 57 -147 54 -137 43 -147 39 -137 28 -137 22 -137 14 -136 7z"/>
<path fill="#7887ff" d="M2766 3978l-73 3 -85 0 -73-1 -84-5 -158-16 -158-25 -158-35 -157-44 -85-27 -84-29 -157-63 -148-67 -147-76 -147-85 -137-88 -107-75 -115-86 -119-96 -258-217 -74-57 -53-36 -52-29 -53-22 -42-11 -42-3 -40-9 0-766 40-9 42-3 42-11 53-22 52-29 53-36 74-57 247-207 118-96 101-77 107-76 132-87 136-80 147-79 137-65 147-62 147-53 158-49 147-37 148-29 147-21 147-13 148-4 147 4 147 13 147 21 148 29 147 37 158 49 147 54 147 61 137 65 147 79 135 80 132 87 107 76 101 77 119 96 247 208 74 57 53 36 52 30 53 22 42 11 42 3 40 7 0 766 -40 7 -42 3 -42 11 -53 22 -52 30 -53 36 -74 57 -247 208 -107 86 -100 77 -92 67 -127 85 -126 77 -126 70 -137 69 -137 61 -136 53 -148 51 -136 39 -137 33 -137 26 -137 19 -147 12z"/>
<path fill="#7a85ff" d="M2819 3949l-105 6 -116 1 -116-4 -115-9 -116-14 -116-20 -116-24 -115-29 -116-35 -116-39 -115-44 -116-50 -105-49 -116-60 -116-66 -105-66 -81-54 -81-58 -76-57 -84-67 -146-125 -258-236 -52-44 -42-33 -53-35 -31-17 -21-9 -42-11 -72-8 0-594 72-8 31-7 42-18 53-32 52-39 63-53 226-207 120-106 105-86 107-82 137-96 136-86 137-77 147-74 158-69 147-57 158-51 158-41 158-33 147-22 158-14 73-4 85-1 84 1 73 4 158 14 147 22 158 33 158 42 158 51 147 56 158 69 147 74 137 78 136 86 137 96 106 81 105 86 120 106 237 217 53 45 52 39 53 32 42 18 42 9 61 4 0 594 -61 4 -42 9 -42 18 -53 32 -52 39 -63 54 -227 208 -109 96 -92 77 -98 76 -119 87 -123 81 -126 75 -137 74 -137 65 -147 62 -137 50 -147 47 -147 38 -137 28 -147 23 -137 13z"/>
<path fill="#7c83ff" d="M2745 3929l-94 3 -106-1 -105-6 -105-10 -105-14 -105-18 -106-22 -105-26 -105-31 -105-34 -105-39 -105-43 -106-48 -94-47 -95-51 -105-62 -116-74 -114-80 -111-87 -102-86 -85-77 -80-76 -95-96 -191-200 -42-41 -42-37 -42-30 -32-16 -31-7 -51-4 0-346 51-4 31-7 21-10 21-13 42-32 74-69 219-229 126-124 139-125 69-57 73-58 119-86 116-77 117-70 126-68 158-76 84-36 84-33 84-30 85-28 84-25 84-22 84-20 84-17 84-15 84-12 158-15 84-4 85-1 84 1 84 4 158 15 84 12 84 15 84 17 84 20 84 22 84 25 85 28 84 30 84 34 84 36 158 75 126 68 126 76 120 80 118 87 72 57 69 58 137 124 125 125 211 221 74 70 42 33 31 18 32 11 21 2 40 9 0 326 -40 9 -21 2 -21 6 -32 16 -42 31 -42 37 -42 42 -183 192 -85 87 -78 76 -73 67 -88 77 -95 77 -92 69 -105 73 -84 54 -95 56 -84 46 -95 48 -94 45 -95 40 -95 38 -94 33 -95 31 -95 26 -94 24 -106 22 -94 17 -105 14 -95 10 -95 5z"/>
<path fill="#7e81ff" d="M2829 3901l-115 6 -116 1 -116-4 -115-9 -116-14 -116-19 -116-24 -115-29 -116-34 -116-40 -105-40 -116-49 -115-56 -105-55 -106-61 -105-67 -116-81 -112-87 -112-95 -102-96 -102-106 -101-115 -84-105 -75-106 -40-67 -27-57 -16-48 -3-19 -2-29 2-29 3-19 8-29 11-28 29-58 42-67 75-105 93-115 103-115 104-106 104-96 114-96 114-86 112-76 125-78 127-70 126-62 137-60 136-52 137-45 147-40 137-30 137-23 137-16 136-9 127-2 126 4 136 11 137 18 137 25 137 33 136 39 137 47 137 54 137 61 126 64 126 72 116 73 105 73 110 85 103 86 93 87 96 95 96 106 87 105 72 96 51 77 33 57 26 58 13 48 2 19 1 29 -7 48 -17 47 -28 58 -35 57 -39 58 -49 67 -54 67 -56 67 -60 67 -64 67 -68 67 -61 58 -65 57 -131 106 -133 96 -74 48 -73 45 -148 83 -73 37 -84 39 -158 67 -84 31 -85 28 -84 26 -84 23 -158 36 -84 15 -84 13 -158 17z"/>
<path fill="#807fff" d="M2777 3882l-137 4 -147-4 -147-12 -148-19 -147-28 -137-34 -147-44 -147-52 -137-56 -137-65 -136-73 -127-76 -126-86 -115-88 -113-96 -101-96 -91-96 -82-95 -73-96 -57-86 -27-48 -20-39 -28-67 -11-38 -7-29 -5-38 -1-29 1-29 5-38 7-29 11-38 28-67 20-39 27-48 57-86 73-96 82-95 91-96 101-96 101-86 112-87 110-76 115-73 127-70 126-63 126-56 126-49 137-46 137-39 137-31 136-25 137-18 137-10 137-4 136 4 137 10 137 18 136 25 137 32 137 38 137 46 126 49 126 56 126 63 127 71 115 72 110 76 112 87 101 86 101 96 82 86 74 86 68 86 59 87 46 76 32 67 24 68 7 28 6 39 1 57 -7 58 -10 38 -10 29 -24 57 -41 77 -49 77 -63 86 -71 86 -87 96 -97 96 -108 96 -108 86 -116 84 -116 74 -126 73 -126 65 -127 57 -136 55 -137 47 -137 40 -137 33 -136 26 -137 18 -147 13z"/>
<path fill="#827dff" d="M2703 3863l-84 1 -84-2 -158-10 -84-10 -84-12 -158-29 -158-39 -158-49 -157-58 -84-36 -74-34 -147-74 -74-42 -74-44 -133-90 -65-48 -61-48 -57-48 -65-57 -107-105 -53-58 -48-57 -46-58 -41-57 -55-87 -46-86 -16-38 -14-39 -11-38 -8-38 -5-39 -1-38 1-29 4-38 14-67 13-39 15-38 22-48 26-48 29-48 32-48 71-95 82-96 92-96 103-96 105-86 117-86 106-71 116-68 116-62 126-59 126-53 126-46 127-40 126-33 126-28 126-21 127-16 126-9 137-4 126 3 126 9 126 15 137 23 137 31 126 34 137 43 126 47 126 54 126 61 116 63 116 70 111 76 103 76 103 87 92 86 93 96 81 96 65 86 50 77 42 76 30 67 23 67 13 67 4 58 -4 58 -13 67 -23 67 -35 76 -43 77 -58 86 -66 87 -75 86 -84 86 -81 77 -91 76 -90 71 -95 66 -105 68 -105 61 -105 55 -116 54 -116 49 -115 43 -116 37 -126 35 -116 27 -126 24 -116 16 -126 12 -116 6z"/>
<path fill="#847bff" d="M2840 3834l-147 7 -148 0 -147-9 -137-15 -147-25 -137-30 -147-40 -137-45 -136-53 -137-61 -137-70 -124-72 -118-77 -116-85 -104-87 -102-96 -81-86 -80-96 -68-95 -52-87 -25-48 -17-38 -27-77 -10-38 -7-38 -4-39 -2-38 2-38 4-39 7-38 10-38 27-77 17-38 25-48 52-87 68-95 80-96 81-86 92-87 94-79 105-80 105-72 116-70 115-63 116-56 126-54 126-47 127-41 136-37 127-28 126-22 137-17 136-10 127-3 126 3 136 10 137 17 126 22 127 28 136 37 127 41 126 47 126 54 116 56 115 63 116 71 105 71 105 80 94 79 91 87 73 76 73 86 64 87 49 76 42 77 33 77 13 38 10 38 12 67 3 68 -5 67 -15 67 -25 76 -31 68 -43 76 -57 86 -58 77 -83 96 -84 86 -95 86 -92 76 -105 77 -105 69 -116 69 -116 61 -126 59 -126 51 -137 49 -126 38 -126 32 -137 28 -126 19 -137 15z"/>
<path fill="#8679ff" d="M2808 3815l-136 6 -148-2 -147-10 -147-18 -147-26 -148-34 -147-43 -137-48 -136-55 -137-64 -132-71 -125-76 -122-85 -105-83 -102-91 -94-96 -74-86 -71-96 -54-86 -44-87 -30-76 -12-39 -11-48 -6-38 -3-38 -1-39 2-38 5-38 9-48 10-39 17-47 20-48 18-39 48-86 32-48 34-48 69-86 78-86 89-87 89-76 98-77 105-73 105-65 116-64 115-58 116-50 126-49 127-42 126-35 126-30 126-23 126-17 137-13 126-5 127 1 126 7 126 13 126 19 137 27 126 32 126 38 127 44 126 51 126 58 116 60 116 68 102 68 105 76 93 77 84 77 84 86 66 77 59 76 52 77 48 86 34 77 23 67 15 67 6 38 2 39 -1 67 -5 38 -7 39 -19 67 -30 76 -38 77 -47 77 -54 76 -62 77 -78 86 -78 77 -88 77 -98 77 -105 74 -106 66 -115 66 -116 57 -126 56 -116 45 -126 42 -126 37 -127 29 -126 24 -126 18 -137 13z"/>
<path fill="#8877ff" d="M2787 3796l-136 4 -148-3 -147-11 -147-19 -147-27 -148-35 -136-41 -148-52 -136-57 -127-61 -126-69 -128-80 -120-86 -105-87 -93-86 -90-96 -70-86 -60-86 -51-87 -23-47 -17-39 -17-48 -12-38 -16-77 -4-38 -2-38 1-48 4-39 8-48 9-38 25-77 21-48 18-38 26-48 30-48 60-86 78-96 82-86 93-86 90-75 95-70 105-70 105-62 116-61 116-54 115-48 127-45 126-39 126-32 126-27 126-20 127-14 126-9 126-2 126 3 126 10 127 15 126 21 126 28 126 33 127 40 115 42 126 53 116 56 116 62 105 64 105 71 95 72 90 77 81 77 80 86 63 76 55 77 47 77 39 76 31 77 20 67 13 77 4 67 -4 67 -13 77 -20 67 -31 77 -39 76 -54 86 -55 77 -64 77 -82 86 -81 77 -91 75 -90 68 -99 67 -105 64 -105 57 -116 56 -116 49 -126 47 -116 38 -126 34 -126 29 -126 22 -127 16 -126 11z"/>
<path fill="#8a75ff" d="M2777 3776l-137 4 -147-3 -147-12 -148-19 -136-26 -148-35 -147-44 -137-50 -136-57 -127-61 -126-70 -121-77 -110-80 -102-83 -91-87 -46-47 -43-48 -68-87 -34-48 -31-47 -47-87 -17-38 -19-48 -13-38 -13-48 -13-77 -3-77 2-38 5-48 9-48 10-38 13-38 18-48 41-87 52-86 61-86 72-86 83-87 95-86 89-72 95-68 105-68 105-61 105-54 116-52 126-50 116-40 126-38 116-28 126-26 126-19 127-13 126-8 126-1 116 4 126 10 126 16 126 21 127 28 126 34 116 37 126 47 115 49 116 56 105 57 106 64 102 70 88 67 89 76 80 77 79 86 62 77 53 77 45 76 37 77 29 77 18 67 11 67 3 77 -6 76 -13 67 -23 77 -32 77 -40 76 -48 77 -56 77 -65 76 -73 77 -82 77 -90 75 -93 68 -97 64 -105 63 -105 56 -116 54 -115 48 -116 42 -126 40 -116 30 -126 28 -116 19 -126 16 -126 10z"/>
<path fill="#8c73ff" d="M2766 3757l-147 4 -147-5 -148-13 -136-19 -148-28 -136-34 -137-41 -137-49 -136-58 -127-62 -115-65 -116-73 -105-76 -103-85 -91-86 -45-48 -42-48 -67-86 -56-86 -47-87 -17-38 -18-48 -13-38 -12-48 -9-48 -5-38 -2-77 3-48 5-38 8-39 12-48 13-38 18-48 42-86 52-86 62-87 73-86 84-86 97-86 89-71 95-66 95-59 105-59 105-53 116-51 115-45 127-43 126-35 116-28 115-22 126-18 127-12 126-7 116 0 126 5 126 11 126 16 126 23 116 26 126 35 116 38 116 43 115 49 116 57 105 57 104 65 96 66 88 68 88 77 78 76 68 77 53 67 53 77 45 76 36 77 28 77 19 76 10 67 2 77 -6 67 -14 77 -24 77 -32 76 -41 77 -48 77 -50 67 -64 76 -73 77 -83 77 -81 67 -94 69 -95 62 -105 62 -105 56 -116 53 -115 48 -116 41 -116 35 -115 30 -127 27 -115 19 -127 16 -126 9z"/>
<path fill="#8e71ff" d="M2766 3738l-136 3 -148-4 -147-12 -137-18 -136-26 -137-32 -137-41 -137-48 -136-57 -127-60 -115-64 -116-73 -105-76 -105-86 -90-87 -78-86 -67-86 -56-86 -46-87 -17-38 -18-48 -12-38 -12-48 -9-48 -4-38 -2-77 3-48 5-38 7-39 12-48 12-38 18-48 41-86 52-86 62-87 73-86 84-85 87-78 85-67 90-64 95-59 105-60 106-52 115-51 116-45 116-38 126-36 116-27 115-22 126-19 127-12 126-6 116-1 126 5 126 11 126 16 126 23 116 27 116 31 116 37 115 43 116 49 105 51 105 57 105 65 95 65 90 70 78 68 78 75 68 77 60 77 52 76 43 77 31 67 27 77 19 76 9 67 2 77 -5 67 -14 77 -24 77 -31 76 -40 77 -48 77 -57 76 -57 67 -73 77 -73 67 -82 68 -95 70 -95 62 -105 61 -105 55 -105 48 -116 47 -116 41 -115 35 -116 30 -116 24 -126 21 -126 15 -116 8z"/>
<path fill="#906fff" d="M2766 3719l-147 3 -137-3 -136-11 -137-18 -137-25 -147-35 -137-40 -126-45 -126-52 -127-60 -115-63 -117-73 -104-75 -96-78 -92-87 -78-86 -67-86 -56-86 -45-87 -21-48 -14-38 -12-38 -12-48 -7-39 -6-47 -2-77 2-39 6-47 9-48 10-39 12-38 18-48 41-86 51-86 62-87 73-86 75-77 86-76 85-67 94-66 94-59 105-58 106-52 105-46 115-45 116-38 116-32 116-28 115-22 126-18 116-11 126-7 127-1 115 4 126 10 116 15 116 20 126 27 116 31 115 36 116 42 116 48 105 50 105 57 95 57 98 66 88 68 78 67 80 76 69 77 53 67 52 77 44 76 35 77 27 77 17 67 10 67 3 77 -5 76 -12 67 -22 77 -30 77 -39 76 -47 77 -55 77 -56 67 -73 76 -72 68 -81 67 -91 67 -92 60 -105 62 -105 54 -106 48 -115 47 -116 40 -116 35 -115 29 -116 24 -116 19 -126 15 -116 8z"/>
<path fill="#926dff" d="M2787 3699l-136 5 -148-3 -136-10 -137-16 -137-24 -137-31 -136-39 -127-43 -126-50 -116-53 -115-61 -116-70 -105-73 -99-78 -84-77 -82-86 -62-76 -60-87 -48-86 -23-48 -15-38 -17-48 -10-38 -11-48 -6-39 -5-76 1-48 3-39 7-48 8-38 13-48 13-38 19-48 18-38 47-87 59-86 61-77 73-79 84-78 84-70 84-61 95-62 95-55 105-54 105-48 105-42 116-41 116-35 115-29 116-24 126-20 127-14 115-8 116-3 126 2 126 9 116 13 116 17 126 26 126 31 116 35 116 41 105 42 105 48 105 54 95 55 95 63 92 67 80 67 72 67 72 77 55 67 55 77 46 76 37 77 29 77 18 67 13 76 4 67 -2 68 -11 76 -19 77 -28 77 -36 76 -45 77 -46 67 -61 77 -71 76 -71 67 -79 67 -83 63 -95 63 -95 57 -105 56 -105 49 -105 43 -116 42 -116 36 -115 30 -116 25 -116 20 -116 14 -126 10z"/>
<path fill="#946bff" d="M2798 3681l-137 5 -137-2 -136-9 -137-15 -137-23 -126-28 -137-37 -126-41 -126-48 -126-57 -116-60 -105-62 -106-71 -94-74 -84-74 -83-85 -64-77 -61-86 -50-86 -35-77 -17-48 -12-38 -10-39 -9-48 -5-38 -3-48 3-77 4-38 8-48 12-48 12-38 29-77 44-86 55-86 58-77 77-86 79-77 80-67 87-66 85-56 94-56 105-56 106-49 115-47 106-37 115-36 116-29 116-25 115-19 127-15 115-9 116-4 126 2 126 7 116 12 116 17 115 22 127 30 115 33 116 39 105 41 105 47 106 53 94 54 95 60 84 60 84 68 74 67 71 74 57 67 56 77 41 67 40 77 30 76 23 77 14 77 5 67 -2 77 -11 76 -16 67 -27 77 -35 77 -38 67 -44 67 -59 76 -69 77 -68 66 -73 64 -84 64 -85 58 -94 58 -105 57 -106 50 -105 45 -116 42 -115 37 -116 30 -116 26 -115 20 -116 15 -126 11z"/>
<path fill="#9669ff" d="M2819 3662l-137 6 -137-1 -136-8 -127-13 -126-19 -137-28 -136-35 -126-40 -127-47 -115-50 -116-57 -116-67 -105-69 -94-71 -88-77 -77-77 -65-76 -63-87 -51-86 -36-76 -28-77 -10-38 -10-48 -10-77 -2-38 1-48 4-39 7-48 10-48 10-38 13-38 19-48 37-77 53-86 56-77 65-76 77-77 76-67 85-66 86-59 93-57 94-51 106-51 105-45 105-39 116-37 115-31 116-26 116-21 115-15 116-11 116-5 126-1 116 5 126 11 116 15 115 20 116 25 116 31 115 37 116 43 105 44 106 51 94 51 95 58 84 58 84 66 77 67 70 71 64 73 51 67 49 76 36 68 33 76 24 77 14 67 9 77 0 76 -9 77 -14 67 -24 77 -29 67 -40 77 -49 76 -51 67 -58 67 -69 70 -73 66 -84 66 -85 59 -94 58 -95 53 -105 51 -105 45 -116 44 -105 34 -116 31 -116 27 -115 21 -116 16 -126 12z"/>
<path fill="#9867ff" d="M2840 3643l-137 7 -137 0 -126-6 -137-13 -136-20 -127-25 -136-34 -126-38 -127-46 -115-49 -116-57 -105-59 -105-68 -95-70 -83-69 -78-77 -68-77 -30-38 -34-48 -48-77 -20-38 -22-48 -19-48 -13-38 -19-77 -6-38 -5-48 -1-77 3-38 6-48 17-77 25-76 20-48 19-39 26-48 24-38 54-77 64-76 74-77 75-67 81-64 84-59 95-59 94-52 106-51 105-45 105-39 116-37 105-29 116-26 115-22 116-16 116-10 115-6 127-1 115 4 126 10 116 15 116 19 116 25 115 31 116 36 105 38 105 44 106 50 94 51 95 57 87 59 81 63 72 62 68 67 60 67 52 67 45 67 42 77 34 77 23 67 18 76 9 77 2 67 -7 77 -12 67 -22 77 -31 76 -34 67 -47 77 -49 67 -56 67 -65 67 -73 67 -81 66 -85 59 -90 57 -99 56 -95 47 -105 46 -105 40 -105 36 -116 33 -116 27 -115 22 -116 17 -126 13z"/>
<path fill="#9a65ff" d="M2714 3632l-137 1 -137-6 -126-12 -137-19 -137-27 -126-31 -126-38 -126-45 -116-49 -116-57 -105-59 -105-67 -93-70 -86-73 -81-80 -66-77 -56-77 -24-38 -27-48 -36-76 -18-48 -13-39 -10-38 -9-48 -9-77 0-76 5-48 5-39 18-76 13-39 18-48 21-47 20-39 46-76 27-39 37-48 66-75 73-72 84-72 85-63 84-56 94-56 95-49 95-44 105-43 105-37 116-35 105-27 116-25 115-19 116-14 116-9 115-4 116 0 116 6 116 10 115 16 116 21 116 26 115 31 105 34 106 39 105 44 95 46 98 54 91 55 85 60 83 65 74 66 68 70 57 67 49 67 42 67 40 77 27 67 24 76 13 68 7 76 0 67 -7 67 -16 77 -24 77 -28 67 -36 67 -48 77 -50 67 -59 67 -66 67 -67 59 -83 65 -83 58 -86 54 -95 52 -95 46 -105 45 -105 40 -116 37 -105 29 -116 26 -115 21 -116 16 -116 11 -115 6z"/>
<path fill="#9c63ff" d="M2766 3613l-126 4 -137-3 -126-9 -137-16 -126-21 -126-28 -126-34 -127-41 -115-45 -116-52 -116-60 -99-59 -98-67 -87-69 -82-75 -73-77 -61-76 -51-77 -42-77 -22-47 -15-39 -16-48 -10-38 -13-77 -5-48 -1-38 4-77 6-38 9-48 23-77 30-76 19-39 27-48 50-76 60-77 69-74 73-69 74-61 84-61 84-55 84-48 95-48 105-48 105-41 106-36 105-31 115-28 116-24 116-17 116-13 115-8 116-3 116 2 115 7 116 12 116 17 115 22 116 27 105 30 106 35 105 41 105 46 95 47 94 53 84 54 85 60 73 60 72 66 65 68 54 66 48 67 40 67 37 77 26 67 21 77 12 67 5 76 -3 77 -10 67 -16 67 -27 77 -35 77 -38 67 -46 67 -53 67 -61 67 -70 67 -73 61 -85 63 -84 55 -94 55 -95 48 -95 43 -105 42 -105 37 -105 31 -116 29 -116 24 -115 18 -116 13 -116 8z"/>
<path fill="#9e61ff" d="M2808 3594l-126 6 -137-1 -126-7 -126-12 -137-21 -126-25 -126-32 -116-36 -116-42 -115-48 -106-52 -105-58 -94-61 -85-61 -84-71 -75-73 -68-77 -57-77 -47-76 -38-77 -29-77 -13-47 -9-39 -10-76 -3-48 1-39 7-76 9-48 10-39 12-38 17-48 36-77 44-76 55-77 64-76 67-68 69-62 80-62 84-58 89-54 95-51 94-45 95-40 105-39 105-34 116-31 116-25 105-19 115-15 116-11 116-5 116-1 115 4 116 9 116 15 115 19 106 22 115 30 105 31 106 38 105 42 94 44 95 50 84 50 84 56 85 63 69 60 69 67 60 67 51 67 49 77 36 67 29 67 24 77 16 77 7 67 0 67 -7 76 -16 77 -21 67 -32 77 -36 67 -42 67 -51 67 -58 67 -63 64 -70 61 -78 60 -84 58 -90 54 -99 53 -95 45 -94 39 -106 39 -105 32 -115 31 -106 23 -115 20 -116 15 -116 10z"/>
<path fill="#a05fff" d="M2850 3575l-126 7 -137 2 -126-5 -126-11 -126-16 -126-23 -116-27 -126-35 -116-39 -116-46 -105-48 -105-56 -96-58 -93-64 -85-67 -75-70 -64-67 -61-77 -51-76 -42-77 -32-77 -24-76 -15-77 -5-48 -1-38 0-39 4-48 13-76 21-77 30-77 40-76 48-77 59-77 70-76 64-61 77-64 81-59 84-55 84-48 95-48 95-42 105-42 105-35 105-31 105-26 116-23 116-18 116-12 115-8 116-3 116 2 115 7 116 12 105 15 105 19 116 27 105 29 116 38 105 40 95 41 95 47 94 53 84 54 79 56 71 58 73 67 63 67 54 67 47 67 39 67 31 67 25 68 18 67 13 76 4 77 -3 67 -11 77 -18 67 -28 77 -31 67 -39 67 -47 67 -54 67 -63 67 -65 60 -74 61 -84 60 -84 54 -84 47 -95 48 -105 46 -105 40 -105 35 -105 29 -106 25 -115 22 -116 17 -116 12z"/>
<path fill="#a25dff" d="M2745 3566l-126 2 -137-4 -126-10 -126-15 -116-20 -126-28 -126-34 -116-38 -116-45 -105-47 -105-54 -95-56 -84-57 -84-65 -75-66 -74-77 -62-77 -52-76 -42-77 -32-77 -24-76 -15-77 -5-48 -1-38 3-77 5-38 9-48 21-77 30-77 40-76 49-77 57-73 64-71 71-67 70-57 79-58 84-54 84-48 95-48 94-42 105-41 106-35 105-31 116-27 115-22 105-16 116-12 105-7 116-3 116 2 115 7 116 12 116 17 105 20 116 27 105 29 105 35 95 36 94 41 95 47 95 53 80 51 77 55 74 60 63 57 64 67 55 67 47 67 39 67 32 67 25 68 19 67 11 67 6 76 -3 68 -10 76 -17 67 -27 77 -31 67 -38 67 -46 67 -54 67 -61 66 -63 59 -69 57 -79 58 -84 54 -94 54 -95 47 -95 41 -105 41 -105 35 -105 29 -106 25 -115 22 -105 16 -116 12 -116 8z"/>
<path fill="#a45bff" d="M2808 3546l-126 6 -126-1 -126-6 -127-12 -126-18 -115-23 -127-30 -115-34 -116-41 -105-43 -105-49 -95-52 -95-58 -85-61 -82-67 -71-67 -61-67 -59-77 -49-76 -38-77 -30-77 -20-76 -12-77 -3-77 5-76 14-77 23-77 31-76 42-77 51-77 60-75 65-68 72-66 74-58 73-52 84-52 85-47 94-46 95-41 105-39 105-34 105-29 106-24 115-21 105-15 116-11 116-7 116-1 115 3 116 8 105 12 116 18 105 21 105 25 105 31 106 35 105 41 94 43 95 48 84 49 84 55 74 54 72 61 60 58 53 57 54 67 45 67 38 68 30 67 23 67 18 76 9 67 3 77 -6 67 -14 77 -19 67 -26 67 -34 67 -40 67 -49 67 -57 67 -57 58 -71 64 -74 58 -84 57 -84 51 -85 46 -94 45 -95 39 -105 38 -105 33 -105 28 -106 23 -115 20 -116 15 -116 10z"/>
<path fill="#a659ff" d="M2661 3537l-126-2 -126-7 -127-13 -126-20 -116-23 -126-31 -115-36 -116-42 -105-44 -105-52 -95-53 -95-61 -84-63 -74-64 -65-65 -66-76 -48-67 -45-77 -36-77 -26-76 -17-77 -9-77 -1-48 2-38 9-77 19-76 27-77 37-77 47-76 57-77 59-67 67-65 74-62 74-55 83-54 84-49 85-43 94-43 95-37 105-36 105-31 105-26 106-22 105-16 116-14 105-8 115-4 116 0 116 6 116 10 105 14 115 20 106 24 105 28 105 32 105 39 95 40 94 45 85 46 84 51 81 57 72 57 64 58 56 57 57 67 48 67 40 67 33 67 25 68 19 67 12 67 5 67 -2 77 -11 76 -17 67 -23 67 -31 67 -38 68 -45 67 -46 57 -57 62 -63 60 -64 53 -74 55 -83 54 -84 49 -95 48 -95 42 -94 37 -95 32 -105 31 -105 26 -116 23 -105 17 -116 13 -105 8 -116 4z"/>
<path fill="#a857ff" d="M2777 3518l-116 3 -126-1 -126-7 -116-12 -126-19 -116-23 -116-28 -115-34 -116-41 -105-44 -105-50 -93-51 -86-55 -84-60 -81-67 -67-65 -61-70 -50-67 -42-67 -38-76 -29-77 -20-77 -11-76 -2-77 7-77 15-77 24-76 34-77 43-77 47-67 55-67 64-67 64-57 73-58 80-55 81-50 87-47 95-45 94-40 95-34 105-33 105-28 116-25 105-19 105-13 116-11 105-5 116-1 105 3 116 8 116 13 105 17 105 21 105 25 105 31 106 36 94 37 95 42 95 49 84 49 84 56 73 55 64 54 63 62 53 59 51 67 43 67 35 67 28 67 20 67 16 77 6 67 -1 77 -8 67 -15 67 -22 67 -29 67 -36 67 -44 67 -44 58 -61 67 -60 58 -69 58 -74 55 -84 55 -84 48 -84 43 -95 42 -94 37 -95 33 -105 31 -105 26 -106 21 -115 19 -116 13 -105 8z"/>
<path fill="#aa55ff" d="M2840 3498l-116 7 -126 1 -126-4 -116-9 -126-16 -116-20 -116-25 -115-31 -105-34 -106-39 -105-46 -94-47 -95-55 -84-56 -84-64 -69-60 -66-67 -56-67 -47-67 -44-77 -30-67 -26-77 -17-77 -7-76 1-77 10-77 19-76 24-67 36-77 40-67 56-77 59-67 58-57 69-60 74-55 84-56 84-49 84-43 95-43 94-37 95-33 105-31 105-26 106-21 115-19 106-12 105-8 115-4 116 1 105 4 105 9 116 15 105 18 106 22 105 27 105 32 95 34 94 38 95 44 84 45 84 50 76 52 71 55 69 60 58 59 56 66 42 57 41 67 34 67 26 68 19 67 12 67 5 67 -2 77 -9 67 -16 67 -23 67 -31 67 -37 67 -46 67 -50 62 -59 63 -63 57 -71 58 -70 50 -84 53 -85 46 -94 47 -95 40 -95 35 -105 34 -105 28 -105 24 -105 19 -105 15 -116 11z"/>
<path fill="#ac53ff" d="M2756 3489l-116 3 -126-3 -116-7 -126-14 -116-18 -116-23 -115-29 -105-32 -106-37 -105-43 -94-45 -95-52 -84-53 -83-60 -75-62 -65-62 -60-67 -50-67 -42-67 -38-77 -25-67 -20-77 -12-76 -2-77 7-77 15-77 25-76 30-67 43-77 47-67 55-67 60-62 64-57 68-54 79-54 73-45 85-46 94-45 95-39 95-34 94-30 105-28 116-25 105-19 105-14 116-10 116-6 105 0 116 3 105 8 116 13 105 17 105 21 105 25 105 31 95 32 95 37 94 43 84 43 85 48 73 48 74 55 68 58 59 57 52 58 52 67 43 67 35 67 27 67 20 67 13 67 7 67 -1 67 -7 67 -14 68 -21 67 -29 67 -36 67 -44 67 -45 58 -53 58 -63 61 -63 53 -78 57 -80 52 -84 48 -84 42 -95 42 -95 37 -105 34 -105 30 -105 25 -105 20 -105 15 -116 13 -105 7z"/>
<path fill="#ae51ff" d="M2829 3470l-115 6 -127 1 -115-5 -116-9 -126-15 -116-20 -105-23 -116-31 -105-33 -105-39 -105-46 -95-48 -84-48 -84-55 -76-57 -72-63 -61-62 -57-67 -47-67 -39-67 -31-67 -26-77 -17-77 -8-76 0-67 9-77 18-77 24-67 31-67 45-77 49-67 58-67 58-57 68-59 74-56 73-48 85-50 84-43 84-38 94-38 106-36 94-28 105-26 106-22 105-17 105-12 105-9 116-4 116 0 105 4 115 10 106 13 105 17 105 22 95 24 105 31 95 33 94 38 95 43 84 44 84 50 74 50 73 57 64 55 61 62 49 57 42 58 41 67 33 67 26 67 18 67 12 67 4 67 -2 68 -10 67 -16 67 -24 67 -31 67 -38 67 -40 57 -52 63 -59 62 -63 58 -67 53 -74 51 -84 52 -84 45 -84 40 -95 40 -95 34 -105 33 -94 25 -106 24 -105 18 -105 15 -116 11z"/>
<path fill="#b04fff" d="M2745 3460l-126 2 -116-2 -115-8 -116-13 -116-18 -116-23 -105-26 -105-32 -105-37 -95-38 -94-45 -95-51 -84-52 -74-52 -73-60 -66-63 -61-67 -51-67 -42-67 -33-67 -26-67 -21-77 -10-67 -4-77 5-67 13-76 23-77 29-67 36-67 44-67 53-67 64-67 63-58 68-53 73-52 79-48 79-43 95-45 94-39 95-34 95-30 105-27 105-23 105-19 105-13 106-10 115-6 106-1 115 3 105 7 106 12 105 15 105 20 105 25 105 30 95 31 95 37 84 36 84 42 84 47 74 47 73 54 69 56 60 58 52 57 53 67 37 58 36 67 28 67 21 67 13 67 7 67 -1 67 -7 67 -15 68 -22 67 -29 67 -31 57 -44 67 -46 58 -54 60 -64 59 -64 53 -72 53 -74 47 -84 47 -84 42 -95 41 -95 35 -105 34 -94 27 -106 24 -105 20 -105 15 -105 11 -116 7z"/>
<path fill="#b24dff" d="M2829 3441l-115 6 -116 1 -116-4 -115-8 -116-14 -116-19 -116-24 -105-28 -105-32 -105-38 -95-41 -94-46 -85-47 -84-54 -73-54 -70-58 -59-58 -58-67 -49-67 -40-67 -32-67 -25-67 -18-77 -9-67 -1-67 7-77 13-67 25-77 30-67 37-67 47-67 56-67 56-57 64-58 68-52 73-50 74-45 84-44 84-40 95-39 95-33 94-29 105-28 106-22 105-18 105-13 116-10 105-5 116-1 105 4 105 7 105 12 105 16 105 21 106 25 94 27 95 32 95 36 94 42 84 43 85 49 73 48 65 48 67 57 59 58 51 57 44 58 42 67 34 67 23 58 20 67 13 67 5 67 -1 67 -9 67 -15 67 -23 67 -31 67 -39 67 -40 58 -47 57 -55 58 -63 57 -68 54 -74 51 -73 45 -85 46 -84 40 -94 40 -95 34 -95 29 -105 28 -105 23 -105 18 -105 14 -106 10z"/>
<path fill="#b44bff" d="M2756 3431l-116 3 -116-2 -115-7 -116-12 -116-17 -105-20 -105-25 -105-29 -105-36 -106-42 -94-43 -84-45 -85-51 -73-50 -74-59 -63-58 -59-63 -45-57 -45-67 -36-67 -28-68 -22-76 -12-67 -4-77 4-77 12-67 19-67 27-67 35-67 43-67 48-62 58-63 58-54 63-52 73-53 74-46 84-47 84-41 95-40 95-35 94-30 105-28 95-22 105-19 105-15 106-10 115-7 106-2 105 2 115 7 106 10 105 15 105 19 95 22 105 28 94 30 95 35 84 36 84 40 85 46 73 46 74 51 63 51 63 58 58 63 46 57 38 58 38 67 25 57 22 67 15 68 8 67 0 67 -7 67 -13 67 -18 57 -28 68 -30 57 -43 67 -45 58 -52 57 -60 58 -59 49 -74 54 -73 48 -85 47 -84 42 -84 37 -95 36 -94 31 -95 26 -105 25 -105 20 -105 16 -106 11 -115 8z"/>
<path fill="#b649ff" d="M2840 3412l-116 7 -116 1 -115-3 -105-7 -116-13 -105-16 -116-23 -105-26 -105-31 -95-33 -95-38 -94-44 -84-45 -85-51 -73-52 -74-59 -63-60 -57-63 -44-57 -43-68 -34-67 -26-67 -20-76 -10-67 -2-77 5-67 13-67 21-67 28-68 36-67 46-67 46-57 55-58 60-55 63-50 73-52 74-45 84-46 84-40 84-35 95-34 95-30 105-28 95-21 105-19 105-14 116-11 105-6 116-1 105 3 105 6 105 11 95 14 105 19 105 24 95 26 94 30 95 35 84 36 84 41 85 46 73 46 74 53 63 52 59 55 53 57 45 58 38 57 32 58 29 67 22 67 14 67 6 67 0 67 -8 67 -15 68 -19 57 -29 67 -38 67 -39 58 -47 57 -54 58 -60 54 -63 51 -73 52 -74 45 -84 46 -84 40 -84 35 -95 34 -95 30 -105 28 -95 21 -105 19 -105 14 -105 10z"/>
<path fill="#b847ff" d="M2777 3403l-116 3 -116-1 -115-6 -106-9 -105-14 -115-21 -106-23 -105-29 -105-34 -95-36 -94-41 -84-42 -85-49 -73-48 -74-56 -63-55 -56-57 -56-67 -41-58 -38-67 -30-67 -22-67 -14-67 -7-67 1-67 8-67 15-68 23-67 31-67 40-67 48-67 50-57 59-58 63-54 63-47 73-48 74-43 84-43 84-38 95-37 95-32 94-27 106-25 105-21 105-16 105-12 105-8 105-3 106 0 105 5 105 8 105 13 105 17 106 21 94 24 95 28 94 32 95 38 84 38 84 44 74 43 74 50 63 48 62 55 57 57 49 58 41 57 34 58 28 57 26 67 17 67 10 67 3 68 -5 67 -12 67 -16 57 -27 67 -29 58 -35 57 -45 61 -48 54 -58 58 -63 53 -70 52 -73 48 -78 45 -84 42 -84 37 -84 33 -95 32 -94 27 -106 25 -105 21 -105 16 -105 12 -105 8z"/>
<path fill="#ba45ff" d="M2651 3393l-116-2 -105-5 -106-10 -115-15 -105-19 -106-24 -105-28 -105-34 -95-36 -84-37 -84-42 -84-48 -74-48 -73-56 -65-56 -57-58 -48-57 -47-67 -33-58 -30-67 -22-67 -15-67 -7-67 1-67 8-67 15-68 24-67 31-67 40-67 43-57 49-58 60-59 63-54 63-47 74-48 74-42 84-43 84-37 95-37 94-31 95-27 95-23 105-21 105-16 105-11 105-8 105-4 106 1 105 4 105 9 105 12 105 17 106 22 94 23 95 28 94 33 95 38 84 38 84 44 74 44 74 51 62 48 55 48 56 58 49 57 40 58 34 57 32 67 23 67 14 58 9 67 1 67 -5 67 -14 67 -17 58 -28 67 -31 57 -37 58 -45 57 -51 57 -62 58 -59 48 -68 50 -74 46 -74 41 -84 42 -84 36 -95 35 -94 31 -95 26 -95 21 -105 20 -105 15 -105 11 -105 7 -105 3z"/>
<path fill="#bc43ff" d="M2808 3374l-105 5 -116 0 -115-4 -105-8 -106-12 -105-17 -105-21 -105-26 -105-31 -95-33 -95-39 -84-40 -84-45 -74-45 -73-52 -67-54 -61-58 -52-57 -44-58 -43-67 -33-67 -22-57 -18-67 -10-67 -3-68 5-67 13-67 20-67 28-67 32-57 44-67 47-58 48-50 60-55 60-48 69-49 74-45 84-45 84-40 84-35 85-30 94-29 105-28 95-20 105-19 105-14 106-9 105-6 105-1 105 2 105 6 106 11 94 13 105 19 106 23 94 26 95 30 95 35 84 36 84 40 73 41 74 46 63 45 67 54 51 48 54 58 45 57 38 58 31 57 29 67 17 58 14 67 6 67 -2 67 -9 67 -14 58 -24 67 -26 57 -34 58 -40 57 -48 58 -50 50 -61 55 -65 51 -73 49 -74 44 -74 39 -84 38 -84 34 -95 34 -94 28 -105 27 -95 19 -105 18 -106 13 -105 9z"/>
<path fill="#be41ff" d="M2735 3364l-116 2 -105-2 -116-7 -105-11 -105-15 -105-20 -106-25 -94-26 -95-31 -95-37 -84-37 -84-42 -79-46 -72-48 -70-53 -59-52 -56-58 -48-57 -40-58 -37-67 -26-58 -21-67 -14-67 -6-67 1-67 10-67 17-67 21-58 33-67 35-57 42-58 51-57 55-54 63-53 63-47 74-47 74-42 84-42 84-37 84-32 95-31 94-26 95-23 105-20 95-14 105-12 105-7 105-4 106 0 105 5 105 8 105 13 105 17 95 19 95 23 94 28 95 32 84 33 84 38 84 43 74 44 74 49 63 49 58 51 57 58 47 57 40 58 33 57 26 58 23 67 13 58 9 67 1 57 -6 67 -14 67 -18 58 -29 67 -32 57 -39 58 -43 54 -53 56 -57 53 -60 48 -69 48 -77 47 -73 39 -84 40 -84 35 -95 34 -95 29 -94 25 -95 20 -95 17 -105 14 -105 10 -105 6z"/>
<path fill="#c03fff" d="M2840 3345l-105 6 -116 2 -116-3 -105-6 -105-11 -105-15 -95-18 -105-24 -105-29 -95-32 -95-36 -84-38 -84-42 -74-43 -73-49 -63-49 -62-54 -54-55 -49-60 -40-58 -32-57 -30-67 -21-67 -11-58 -6-67 1-67 10-67 14-58 25-67 28-57 41-67 43-58 48-53 54-52 62-52 63-46 74-48 73-41 74-36 84-37 84-32 95-32 94-26 95-23 95-18 105-16 105-12 105-7 105-4 106 1 105 4 105 8 95 11 105 17 105 21 95 23 94 28 95 32 84 34 84 38 74 38 74 42 73 50 63 48 62 54 47 48 49 57 40 58 34 57 27 58 20 57 16 68 8 57 2 67 -7 67 -11 58 -21 67 -25 57 -31 58 -38 57 -46 58 -52 55 -55 50 -61 49 -63 44 -74 46 -73 40 -84 40 -84 35 -95 34 -95 29 -94 25 -95 20 -105 19 -105 13 -95 9z"/>
<path fill="#c23dff" d="M2787 3336l-105 4 -116 0 -105-5 -105-8 -105-13 -105-17 -106-21 -94-24 -95-28 -94-33 -85-34 -84-39 -84-45 -73-44 -64-45 -64-51 -53-48 -54-58 -45-57 -38-58 -31-57 -27-67 -17-58 -12-67 -4-67 4-67 12-67 17-58 27-67 31-57 38-58 45-57 54-58 53-48 64-51 63-44 74-45 74-40 84-39 84-35 84-30 95-29 94-25 95-20 105-19 95-12 105-10 105-6 106-2 105 2 105 6 105 10 95 12 105 19 95 20 94 25 95 29 84 30 84 35 84 40 74 39 74 45 63 44 64 51 52 48 54 58 46 57 38 58 30 57 24 58 20 67 11 57 5 58 -2 67 -9 67 -15 58 -21 57 -27 58 -34 57 -42 58 -47 54 -51 51 -55 48 -63 48 -73 48 -74 42 -73 38 -84 38 -85 32 -94 32 -95 27 -95 23 -94 19 -105 17 -106 12 -105 8z"/>
<path fill="#c43bff" d="M2724 3326l-105 1 -105-2 -105-6 -106-11 -105-14 -105-20 -95-21 -94-26 -95-30 -84-32 -84-35 -84-42 -74-41 -74-47 -64-48 -62-52 -53-54 -50-57 -41-58 -34-57 -26-58 -21-57 -14-58 -8-67 -1-67 6-57 15-67 19-58 25-57 33-58 40-57 48-58 52-53 60-52 63-48 66-44 74-43 73-38 84-38 85-32 84-29 94-28 95-23 95-20 94-15 106-13 105-9 105-5 105 0 105 3 105 7 106 11 105 16 94 18 95 22 95 26 94 31 85 32 84 36 73 37 74 41 74 48 63 46 58 49 49 48 51 57 42 58 35 57 28 58 21 57 15 58 10 67 1 67 -4 58 -14 67 -18 57 -24 58 -31 57 -39 58 -44 54 -48 51 -57 52 -63 50 -63 44 -74 44 -73 39 -84 39 -85 35 -84 29 -94 29 -95 24 -105 23 -95 15 -105 14 -95 8 -105 6z"/>
<path fill="#c639ff" d="M2840 3307l-105 6 -116 2 -105-3 -105-6 -106-10 -94-13 -105-19 -95-21 -95-26 -94-29 -85-31 -84-36 -84-41 -73-40 -74-47 -63-46 -62-53 -54-52 -46-53 -42-58 -34-57 -28-58 -23-67 -13-57 -7-58 -1-67 8-67 13-57 20-58 26-57 33-58 42-59 48-56 47-48 55-48 64-48 70-46 73-42 74-38 84-37 84-32 84-29 95-27 95-23 94-19 105-16 95-12 105-8 105-4 106 0 105 3 105 8 105 11 95 15 94 18 95 22 95 26 84 27 84 32 84 36 74 36 76 42 71 45 63 47 62 52 49 48 47 53 42 56 33 53 28 58 21 57 18 68 8 67 1 57 -5 58 -11 57 -17 58 -24 57 -30 58 -38 57 -47 58 -45 48 -52 48 -61 48 -63 45 -74 45 -73 39 -84 40 -85 34 -84 30 -94 28 -95 25 -95 20 -94 16 -105 14 -95 9z"/>
<path fill="#c837ff" d="M2798 3297l-105 5 -106 0 -105-3 -105-8 -105-12 -95-14 -94-18 -95-22 -95-26 -94-31 -85-32 -84-37 -84-43 -73-43 -64-42 -63-47 -55-49 -50-50 -46-55 -41-58 -32-57 -26-58 -18-57 -14-67 -5-67 2-58 8-57 14-58 21-57 28-58 35-57 43-57 52-58 50-48 55-46 63-46 64-40 73-41 74-37 84-36 84-31 95-31 94-26 95-21 95-18 105-15 95-10 105-7 105-3 105 1 105 4 95 8 105 13 95 15 94 19 95 23 95 27 84 28 84 33 84 37 74 38 73 43 64 42 63 48 55 48 50 50 46 55 40 58 33 57 25 58 19 57 12 58 6 67 -1 57 -7 58 -13 57 -20 58 -26 57 -34 58 -38 53 -45 52 -50 51 -52 45 -63 48 -64 42 -73 43 -74 38 -84 37 -84 33 -95 31 -84 24 -95 23 -94 19 -105 17 -95 11 -105 8z"/>
<path fill="#ca35ff" d="M2745 3288l-105 2 -105-2 -105-5 -95-8 -105-14 -95-16 -95-20 -94-24 -95-28 -84-29 -84-34 -84-39 -74-40 -67-41 -59-40 -63-50 -53-48 -50-53 -39-48 -38-58 -31-57 -23-58 -17-57 -11-58 -4-67 3-58 10-57 15-58 23-57 29-58 37-57 38-48 48-53 52-49 53-43 65-47 72-44 73-40 74-35 84-36 84-30 95-30 94-24 95-21 95-17 105-14 95-9 105-7 105-2 105 2 105 5 95 8 105 14 95 16 95 20 94 24 95 28 84 29 84 34 84 39 74 40 67 41 59 40 63 50 53 48 50 53 38 48 39 58 30 57 24 58 17 57 10 58 4 67 -3 58 -9 57 -16 58 -22 57 -30 58 -37 57 -37 48 -48 52 -52 50 -53 43 -65 47 -72 44 -73 40 -74 35 -84 36 -84 30 -95 30 -94 24 -95 21 -95 17 -105 14 -95 9 -105 7z"/>
<path fill="#cc33ff" d="M2861 3268l-105 7 -105 3 -106-2 -105-5 -105-9 -95-12 -94-15 -95-19 -95-24 -94-28 -84-29 -85-33 -84-39 -73-39 -63-37 -65-45 -62-48 -53-48 -45-47 -47-58 -34-50 -29-55 -24-58 -18-57 -10-58 -4-67 3-58 9-57 16-58 23-57 30-58 38-57 47-58 45-47 53-48 53-42 63-44 74-44 73-39 74-34 84-34 84-30 84-25 95-25 95-20 94-16 95-13 105-10 95-5 105-3 105 2 105 5 106 10 94 12 95 16 95 20 94 24 84 25 84 29 85 33 84 39 73 39 63 38 65 44 61 48 53 48 46 47 46 58 35 51 29 54 24 58 17 57 10 58 5 57 -3 68 -10 57 -16 58 -23 57 -30 58 -31 47 -44 58 -44 47 -52 49 -53 43 -63 45 -74 45 -74 40 -73 35 -85 34 -84 30 -84 26 -94 25 -95 21 -95 17 -94 13 -95 9z"/>
<path fill="#ce31ff" d="M2829 3259l-105 5 -105 1 -105-2 -95-5 -105-10 -95-13 -94-16 -95-20 -95-25 -84-25 -84-30 -84-34 -74-34 -73-40 -74-44 -62-44 -59-48 -52-48 -48-53 -40-52 -31-48 -29-58 -22-57 -16-58 -8-57 -2-58 4-57 11-58 17-57 25-58 32-57 33-48 39-48 50-53 53-47 56-44 60-40 73-44 74-39 73-33 85-34 84-29 84-25 94-24 95-20 95-16 105-13 95-9 105-5 105-1 105 2 95 5 105 10 95 13 94 16 95 20 95 25 84 25 84 30 84 34 74 34 73 40 74 45 62 43 59 48 51 48 49 53 40 52 30 48 30 58 22 57 15 58 8 57 2 58 -4 57 -10 58 -18 57 -24 58 -32 57 -33 48 -39 48 -50 53 -53 47 -56 44 -60 40 -73 44 -74 39 -73 33 -85 34 -84 29 -84 25 -94 24 -95 20 -95 16 -105 13 -95 9z"/>
<path fill="#d02fff" d="M2787 3249l-94 4 -106 0 -105-3 -94-7 -95-9 -95-14 -94-17 -95-21 -95-26 -84-26 -84-31 -74-31 -73-35 -74-40 -63-40 -63-44 -53-43 -52-50 -51-56 -36-48 -30-48 -29-57 -21-58 -14-57 -8-58 -1-57 5-58 12-57 20-58 21-48 33-57 33-48 40-48 47-48 54-48 63-48 62-41 73-42 74-38 84-36 84-32 84-28 95-26 95-23 94-18 95-14 95-10 105-8 105-4 105 0 105 4 95 7 95 10 105 15 94 19 95 22 95 26 84 28 84 32 84 37 74 37 73 42 64 42 63 49 52 46 47 48 39 48 34 48 33 57 21 48 19 58 12 57 5 58 -1 57 -7 58 -15 57 -21 58 -23 48 -36 57 -36 48 -42 48 -50 48 -52 44 -63 46 -64 40 -73 41 -74 36 -73 32 -85 31 -84 27 -84 23 -95 22 -94 19 -95 14 -95 10 -105 8z"/>
<path fill="#d22dff" d="M2735 3240l-95 2 -105-2 -105-5 -95-9 -95-11 -94-16 -95-19 -84-21 -84-24 -84-28 -85-33 -73-33 -74-37 -63-36 -63-42 -63-48 -53-46 -43-43 -41-49 -40-56 -27-48 -26-58 -16-48 -12-57 -5-58 1-57 6-48 13-58 17-48 27-57 35-58 35-48 45-50 52-51 53-43 63-46 74-45 73-40 74-35 84-34 84-30 95-28 94-24 95-20 95-16 105-13 95-9 105-5 105-2 105 3 105 6 95 9 105 14 95 17 95 21 94 25 95 29 84 31 84 36 74 36 73 41 64 41 63 46 58 50 47 48 42 49 33 47 34 57 22 48 19 58 11 48 6 57 0 58 -6 57 -11 48 -19 58 -26 55 -30 50 -34 48 -41 49 -47 47 -56 48 -55 41 -63 41 -63 37 -74 37 -73 33 -85 33 -84 28 -84 24 -84 21 -95 19 -94 16 -95 11 -95 9 -94 5z"/>
<path fill="#d42bff" d="M2861 3221l-95 6 -105 3 -105-1 -95-4 -94-7 -95-11 -95-14 -94-18 -85-19 -94-26 -84-28 -85-31 -73-32 -74-36 -73-42 -64-40 -63-48 -52-45 -48-49 -41-48 -34-47 -32-58 -22-48 -18-57 -10-48 -6-58 1-57 8-58 15-57 18-48 29-58 30-48 37-48 43-48 50-47 53-44 64-45 63-39 73-40 74-35 84-34 84-30 84-26 95-24 95-21 94-16 95-12 95-10 94-5 105-3 106 1 105 5 94 8 95 12 95 15 94 19 95 23 84 24 84 28 85 33 73 33 74 37 73 44 64 43 52 40 53 47 46 48 39 48 32 48 32 58 23 57 14 48 9 48 4 57 -2 58 -9 57 -16 58 -19 48 -30 57 -31 48 -38 48 -45 48 -51 48 -53 42 -63 44 -63 38 -74 39 -73 34 -74 30 -84 30 -84 26 -95 24 -84 18 -95 17 -94 13 -95 10z"/>
<path fill="#d629ff" d="M2840 3211l-95 5 -105 2 -105-1 -95-5 -94-8 -95-11 -95-15 -84-17 -84-20 -84-23 -84-27 -85-32 -73-32 -74-36 -63-36 -65-41 -61-45 -49-42 -48-48 -42-48 -34-47 -29-48 -23-48 -20-58 -11-48 -7-57 0-58 7-57 11-48 20-58 28-57 30-48 36-48 47-52 52-49 53-43 63-44 74-45 73-38 74-34 84-33 84-29 84-25 95-24 95-19 94-15 95-12 105-9 105-5 106-1 105 2 105 7 95 9 94 13 95 17 95 21 94 25 84 26 84 31 85 35 73 36 74 41 63 40 63 47 53 45 44 44 41 48 35 47 29 48 22 48 21 58 11 48 6 57 0 58 -6 57 -11 48 -21 58 -22 48 -29 48 -35 47 -41 48 -44 44 -53 45 -52 40 -64 41 -63 36 -73 37 -74 33 -74 28 -84 28 -84 25 -84 21 -84 17 -95 16 -94 12 -95 9z"/>
<path fill="#d827ff" d="M2808 3201l-94 4 -106 1 -94-2 -95-5 -95-8 -94-13 -84-13 -95-20 -84-21 -84-24 -84-28 -74-29 -74-32 -73-38 -63-36 -64-42 -52-40 -53-45 -42-43 -42-49 -31-44 -28-48 -22-48 -19-57 -11-48 -6-58 1-48 7-57 11-48 21-58 29-57 30-48 39-51 52-55 53-47 53-42 63-42 74-43 73-38 74-32 84-32 84-28 95-27 95-22 94-18 95-14 95-11 105-7 105-4 105 0 105 4 105 7 95 11 95 14 94 18 95 22 95 27 84 28 84 32 84 37 74 38 73 44 64 44 53 43 52 48 42 46 39 50 30 48 24 48 19 48 14 48 9 57 2 48 -3 58 -11 57 -14 48 -20 48 -26 48 -31 48 -38 48 -46 48 -43 39 -52 42 -53 37 -63 39 -63 34 -74 35 -74 31 -73 27 -84 27 -84 23 -85 19 -84 16 -94 15 -95 11 -95 7z"/>
<path fill="#da25ff" d="M2777 3192l-95 3 -95 0 -94-3 -95-6 -95-9 -84-11 -94-17 -85-18 -84-21 -84-25 -84-29 -74-29 -73-33 -63-32 -63-37 -64-42 -52-41 -53-46 -43-45 -40-48 -32-48 -27-48 -20-48 -15-48 -9-48 -5-57 1-48 9-58 16-57 19-48 25-48 31-48 38-48 52-55 53-46 55-43 61-40 73-42 74-37 84-36 84-31 84-27 95-26 95-21 94-17 105-15 95-9 105-7 105-2 116 1 105 5 95 9 105 13 95 16 95 20 94 24 95 28 84 31 84 34 74 36 73 40 68 44 64 48 55 47 45 47 33 40 34 48 27 48 22 47 16 48 10 48 6 58 -1 57 -7 48 -11 48 -17 48 -23 48 -28 48 -35 48 -42 48 -39 38 -50 43 -53 39 -63 41 -63 36 -63 32 -74 33 -74 28 -73 25 -84 25 -84 21 -85 18 -94 17 -84 11 -85 8 -94 7z"/>
<path fill="#dc23ff" d="M2735 3182l-95 2 -105-2 -95-4 -84-7 -95-11 -84-12 -84-16 -84-19 -84-23 -84-26 -74-27 -74-30 -73-35 -63-34 -63-39 -53-36 -53-42 -45-42 -44-48 -37-46 -31-49 -25-48 -18-48 -13-48 -9-58 -2-48 4-48 9-47 14-48 20-48 25-48 32-48 39-48 50-51 52-46 64-47 63-41 73-41 74-35 84-35 84-30 95-29 94-24 95-20 95-16 105-13 95-8 105-5 116-2 105 3 105 6 95 9 105 15 94 17 95 21 95 26 94 30 85 32 84 37 73 38 74 44 63 43 56 45 51 48 40 45 32 41 31 48 24 48 19 48 13 48 7 48 3 58 -4 48 -8 47 -14 48 -20 48 -26 48 -31 48 -36 45 -42 44 -42 39 -53 42 -53 36 -63 39 -63 34 -73 35 -74 30 -74 27 -73 23 -84 23 -85 20 -84 16 -84 13 -95 11 -84 7 -94 5z"/>
<path fill="#de21ff" d="M2661 3172l-95 0 -94-3 -95-7 -84-9 -84-11 -84-15 -85-18 -84-21 -73-22 -74-24 -74-28 -73-33 -63-31 -63-36 -61-39 -52-38 -45-38 -49-48 -35-41 -34-46 -29-48 -23-47 -16-48 -12-48 -5-48 0-58 5-48 12-48 16-48 23-47 29-48 27-39 49-55 52-50 53-42 63-44 74-44 73-38 74-33 84-33 95-31 94-26 95-22 95-17 105-15 105-11 105-6 105-2 106 1 105 4 105 9 95 12 105 17 95 20 94 24 95 29 84 30 84 35 74 36 73 41 63 41 64 48 52 46 53 56 31 40 31 47 25 48 19 48 13 48 8 48 2 58 -3 48 -9 47 -14 48 -20 48 -27 48 -32 48 -32 38 -45 48 -42 38 -52 41 -53 36 -63 39 -63 33 -63 30 -74 30 -74 27 -73 23 -84 23 -74 17 -84 17 -84 13 -84 11 -95 8 -84 5 -95 2z"/>
<path fill="#e01fff" d="M2850 3154l-94 5 -95 2 -105-1 -95-3 -94-7 -85-9 -84-12 -84-15 -84-18 -84-22 -84-25 -74-26 -74-29 -73-34 -63-33 -63-38 -63-43 -49-38 -46-42 -41-44 -33-40 -31-46 -25-48 -20-48 -13-48 -8-48 -3-58 4-48 9-47 15-48 20-48 27-48 36-50 42-49 52-51 53-43 63-45 63-38 74-39 73-34 85-33 84-28 84-25 95-23 94-19 95-15 95-11 105-8 105-4 105-1 105 3 105 6 106 11 94 14 95 17 95 22 94 26 84 28 85 32 84 37 73 38 74 44 63 45 53 43 42 40 38 43 35 45 26 41 20 38 19 48 14 48 7 48 3 48 -3 48 -7 48 -14 48 -19 48 -26 48 -30 45 -33 41 -41 43 -42 39 -52 42 -53 37 -53 32 -63 34 -63 31 -74 31 -73 27 -74 24 -73 21 -85 20 -84 17 -84 14 -94 12 -85 8z"/>
<path fill="#e21dff" d="M2829 3144l-94 5 -95 1 -95-1 -94-4 -84-6 -95-10 -84-13 -84-15 -85-19 -84-22 -84-26 -73-26 -74-30 -63-29 -63-33 -63-38 -53-36 -53-41 -44-41 -45-48 -31-38 -32-48 -25-48 -18-48 -13-48 -7-48 -2-48 4-48 9-47 15-48 22-48 27-48 35-48 42-49 50-47 55-45 64-44 63-38 73-38 74-33 84-33 84-28 95-26 95-23 94-18 95-14 95-10 105-7 105-4 116 0 105 4 94 7 106 12 94 14 95 19 95 22 94 28 84 28 85 33 84 39 73 40 63 40 64 46 52 45 41 42 33 38 31 43 26 43 23 48 13 38 11 48 6 48 1 48 -5 48 -10 48 -16 48 -23 48 -22 38 -35 48 -33 38 -41 42 -42 36 -53 40 -52 36 -53 31 -63 33 -63 29 -74 30 -73 26 -84 26 -74 20 -84 19 -84 16 -84 12 -85 10 -84 7z"/>
<path fill="#e41bff" d="M2808 3134l-94 4 -95 1 -95-1 -94-5 -84-7 -85-10 -84-12 -73-14 -85-19 -73-19 -84-25 -74-26 -74-29 -63-29 -63-32 -63-38 -52-35 -53-41 -42-37 -42-43 -36-43 -32-48 -21-38 -21-48 -14-48 -8-48 -3-48 3-48 8-48 14-48 21-48 27-48 34-48 41-47 50-48 52-43 64-45 63-38 73-38 74-33 84-33 84-28 95-27 95-22 94-18 105-15 95-10 105-7 116-3 116 1 105 4 94 8 106 12 94 16 95 19 95 24 94 28 84 30 85 34 73 36 74 41 63 41 63 48 53 47 35 38 32 38 27 40 26 46 20 48 12 39 9 47 4 48 -2 48 -7 48 -12 48 -15 39 -24 47 -25 39 -37 48 -35 38 -40 38 -52 43 -53 38 -53 32 -52 30 -63 31 -63 28 -74 28 -74 25 -73 21 -74 19 -84 18 -84 15 -84 12 -85 9 -84 6z"/>
<path fill="#e619ff" d="M2787 3125l-94 3 -95 0 -95-2 -84-4 -84-8 -84-10 -84-13 -74-14 -84-19 -84-22 -74-23 -73-26 -74-30 -63-30 -63-33 -53-32 -52-36 -53-41 -42-38 -42-44 -32-39 -31-47 -21-39 -20-48 -13-48 -8-48 -1-48 4-48 9-47 16-48 22-48 23-39 35-48 48-53 53-48 53-41 63-43 73-42 74-36 74-31 84-31 84-27 94-25 95-21 95-16 105-14 95-9 105-5 116-2 115 2 105 5 95 9 105 14 95 16 95 21 94 25 95 30 84 32 84 37 74 37 63 38 64 44 59 48 49 48 34 38 28 39 24 38 23 48 17 48 9 38 6 48 1 48 -5 48 -8 38 -12 39 -21 48 -26 46 -29 40 -34 41 -42 42 -42 37 -53 40 -53 35 -52 31 -53 27 -63 30 -63 26 -74 26 -73 24 -74 20 -74 18 -84 17 -73 12 -84 11 -85 8 -84 6z"/>
<path fill="#e817ff" d="M2766 3115l-94 2 -95 0 -84-2 -84-5 -85-7 -84-11 -84-13 -73-14 -85-20 -73-20 -74-23 -73-26 -74-30 -63-30 -63-33 -53-32 -52-36 -43-33 -42-37 -42-43 -38-47 -26-39 -25-47 -16-39 -13-48 -7-38 -3-48 3-48 9-48 15-48 21-48 22-38 35-48 44-50 53-49 53-42 63-43 73-42 74-37 74-31 84-31 94-29 95-25 95-20 94-16 105-14 95-8 105-5 116-1 116 2 105 5 95 10 105 14 94 17 95 21 95 26 94 31 85 32 73 32 74 38 73 45 64 45 52 44 53 53 31 38 27 38 22 38 21 48 12 39 10 47 3 48 -1 48 -7 48 -10 39 -19 48 -20 38 -24 38 -30 39 -36 40 -42 40 -42 35 -53 38 -53 33 -52 30 -53 27 -63 28 -63 25 -74 26 -73 22 -74 20 -74 17 -84 16 -84 13 -84 10 -74 6 -84 5z"/>
<path fill="#ea15ff" d="M2735 3105l-190 1 -84-3 -73-5 -85-8 -84-11 -84-14 -73-16 -85-20 -73-21 -74-23 -73-28 -64-26 -63-30 -52-29 -58-35 -54-38 -46-37 -42-40 -36-38 -30-39 -26-38 -20-38 -19-48 -11-39 -8-48 -1-48 4-48 7-38 16-48 22-48 22-38 36-48 44-48 52-48 53-41 63-42 74-42 73-36 85-35 84-29 94-29 95-23 95-19 105-17 105-12 95-7 105-4 116-1 115 4 95 6 95 10 105 15 94 18 106 25 94 27 95 33 84 34 74 34 73 41 65 42 62 48 52 48 42 46 31 40 24 39 23 48 14 38 9 38 6 48 1 48 -4 39 -7 38 -15 48 -17 38 -21 38 -27 39 -31 38 -38 40 -42 37 -43 34 -52 36 -53 32 -52 29 -63 30 -64 26 -73 28 -63 20 -74 21 -73 19 -74 15 -84 15 -84 12 -85 9 -73 6 -84 3z"/>
<path fill="#ec13ff" d="M2682 3096l-189-2 -74-4 -73-6 -85-10 -73-11 -74-13 -84-18 -84-22 -74-22 -73-25 -64-25 -63-27 -63-32 -52-30 -53-34 -53-39 -41-35 -39-38 -34-39 -29-38 -23-38 -19-39 -14-38 -10-38 -6-48 -1-39 4-48 10-47 14-39 20-44 25-42 37-48 45-48 53-48 61-45 63-40 74-40 73-35 85-33 84-29 94-27 106-25 94-18 105-15 106-11 94-5 105-3 127 1 105 4 94 7 106 13 105 17 95 20 94 24 95 29 84 30 84 35 74 37 73 43 63 44 53 42 53 51 42 50 29 42 20 38 17 39 12 38 7 38 4 48 -2 48 -7 48 -11 39 -15 38 -20 38 -24 39 -30 38 -33 36 -42 40 -42 35 -42 30 -53 34 -52 30 -63 32 -63 27 -74 29 -63 21 -74 22 -73 19 -74 17 -74 14 -84 13 -73 9 -85 7 -73 4 -95 3z"/>
<path fill="#ee11ff" d="M2882 3077l-74 5 -94 3 -116 0 -105-2 -74-3 -73-6 -85-10 -73-11 -74-13 -84-18 -84-22 -74-22 -73-25 -64-25 -63-28 -63-31 -63-37 -52-35 -43-32 -42-36 -42-42 -35-42 -28-41 -24-45 -16-38 -13-48 -7-48 -1-39 4-48 11-47 13-39 23-46 31-50 32-39 52-54 53-44 63-45 63-39 63-33 74-34 84-33 84-28 84-24 95-22 95-19 94-14 106-12 94-6 116-3 126 0 105 3 84 6 106 12 94 15 95 18 105 25 95 28 84 29 84 34 74 35 73 42 63 41 53 41 53 48 32 34 31 38 25 39 20 38 16 38 11 39 6 38 3 48 -3 48 -6 38 -11 39 -16 38 -20 38 -25 39 -31 38 -32 34 -42 39 -43 35 -42 29 -52 34 -53 29 -52 26 -53 24 -63 25 -74 26 -63 19 -73 20 -74 17 -74 15 -73 12 -84 11 -74 8z"/>
<path fill="#f00fff" d="M2871 3067l-84 5 -94 3 -116 0 -105-3 -74-4 -74-7 -147-20 -84-16 -74-16 -73-19 -74-22 -73-25 -64-25 -63-28 -63-32 -52-30 -53-34 -45-34 -44-38 -39-38 -33-39 -28-39 -26-47 -20-48 -10-38 -7-48 -1-39 4-48 8-38 13-38 22-48 27-44 34-42 50-53 53-46 53-38 73-45 63-34 74-34 84-32 84-29 95-26 95-22 94-18 95-14 105-11 95-6 115-3 127 1 105 3 84 7 105 12 105 16 95 20 95 23 94 28 84 30 85 35 73 36 74 43 63 42 53 43 52 51 32 35 24 34 23 38 19 38 14 39 8 38 5 38 0 48 -3 39 -8 38 -12 38 -18 39 -21 38 -28 38 -33 39 -33 33 -42 37 -43 32 -42 29 -52 31 -53 29 -52 25 -116 46 -63 22 -74 22 -73 19 -74 16 -147 26 -148 16z"/>
<path fill="#f20dff" d="M2861 3058l-74 4 -105 2 -116 0 -105-2 -137-11 -147-20 -84-16 -74-16 -73-19 -74-22 -73-25 -64-25 -63-28 -52-26 -53-30 -52-34 -42-30 -46-38 -49-48 -32-37 -27-40 -22-38 -16-38 -12-39 -7-38 -4-48 4-48 7-38 12-39 21-48 29-47 30-39 48-50 53-47 53-38 73-46 63-34 74-34 84-32 84-29 95-26 95-22 94-18 105-15 106-11 84-5 126-2 137 1 94 3 84 7 106 12 105 17 95 20 105 27 84 26 94 35 85 36 63 32 73 44 63 44 53 45 50 51 32 38 23 35 22 42 16 38 10 38 5 39 2 48 -3 38 -4 29 -10 38 -16 38 -20 39 -23 35 -25 32 -27 29 -42 41 -43 35 -42 30 -52 34 -53 30 -94 45 -64 26 -63 22 -126 38 -73 19 -74 16 -137 22 -147 16z"/>
<path fill="#f40bff" d="M2861 3048l-74 4 -94 2 -127 0 -105-3 -63-3 -74-7 -136-18 -74-13 -74-16 -73-19 -84-24 -74-25 -63-24 -63-27 -53-26 -52-29 -53-33 -42-30 -43-35 -50-48 -33-37 -29-40 -22-38 -17-38 -12-39 -8-38 -3-48 3-48 8-38 12-39 22-48 30-47 31-39 48-49 54-47 62-43 63-38 63-33 73-33 85-32 84-28 94-26 95-21 95-18 105-14 105-11 84-4 137-2 137 1 84 4 95 8 105 13 94 16 106 23 94 25 84 26 95 36 74 32 73 38 74 45 52 38 54 46 52 53 26 34 25 38 19 38 15 39 9 38 4 38 1 48 -4 39 -8 38 -9 29 -17 38 -22 38 -20 29 -24 29 -27 29 -42 39 -42 34 -42 30 -53 33 -52 29 -53 26 -52 23 -116 43 -126 37 -137 32 -137 22 -147 16z"/>
<path fill="#f609ff" d="M2850 3039l-73 3 -105 2 -221-3 -137-11 -126-17 -74-13 -74-16 -73-18 -74-21 -126-44 -74-31 -52-25 -53-29 -52-32 -42-29 -43-34 -50-47 -34-36 -30-41 -22-38 -18-38 -13-39 -7-38 -4-48 4-48 7-38 13-39 17-38 29-48 31-38 46-47 55-49 50-36 74-45 63-34 63-28 74-29 94-32 95-26 95-22 94-18 116-16 105-11 74-4 147-2 147 2 74 3 95 8 105 13 94 16 106 23 94 25 84 26 95 36 74 31 73 39 74 45 52 38 53 47 53 54 24 31 23 38 19 39 14 38 8 38 3 39 0 48 -5 38 -9 38 -11 29 -19 39 -23 38 -22 29 -23 25 -33 32 -41 37 -32 25 -52 35 -53 32 -52 28 -42 20 -64 27 -115 41 -126 36 -137 30 -137 21 -137 14z"/>
<path fill="#f807ff" d="M2850 3029l-63 3 -115 1 -232-2 -137-12 -126-18 -63-11 -74-16 -63-15 -84-24 -126-44 -63-26 -53-24 -52-29 -53-32 -52-35 -29-23 -45-41 -42-42 -25-32 -25-38 -19-39 -14-38 -9-38 -6-58 4-48 5-29 12-38 17-38 28-48 29-39 45-45 56-50 49-36 63-39 63-35 63-29 74-29 95-33 94-27 106-24 94-18 116-16 105-11 63-4 147-1 169 1 73 3 95 9 95 12 105 18 105 24 95 25 105 34 84 33 63 28 63 34 74 45 49 36 67 60 42 45 27 38 17 29 18 38 10 29 7 29 4 38 0 58 -4 38 -10 38 -11 29 -19 39 -25 38 -22 29 -24 25 -74 67 -31 24 -53 35 -42 25 -63 34 -105 45 -105 38 -116 32 -137 31 -115 19 -74 9 -95 9z"/>
<path fill="#fa05ff" d="M2850 3019l-63 3 -126 1 -231-2 -127-12 -126-18 -63-11 -84-18 -137-36 -115-40 -74-30 -42-20 -95-53 -52-33 -32-23 -49-43 -46-45 -19-23 -27-38 -21-38 -16-39 -11-38 -7-67 7-67 11-38 16-39 27-48 29-38 43-44 57-52 38-28 73-46 63-35 53-25 84-34 95-32 94-27 95-22 95-19 73-11 74-9 126-11 158-2 189 1 63 3 95 9 84 11 116 19 126 29 74 19 115 39 85 33 52 24 63 34 63 38 47 33 59 51 53 54 29 38 17 29 19 38 10 29 7 29 4 38 0 58 -4 38 -10 38 -7 20 -19 38 -24 38 -22 29 -22 24 -78 72 -27 21 -63 40 -95 53 -42 20 -74 30 -105 36 -105 29 -137 31 -115 19 -74 9 -95 9z"/>
<path fill="#fc03ff" d="M2850 3010l-189 3 -242-2 -116-11 -136-20 -53-9 -84-19 -147-39 -105-37 -74-29 -42-20 -95-53 -73-49 -53-46 -53-51 -17-21 -20-29 -22-38 -17-39 -11-38 -8-67 8-67 11-38 8-20 31-57 27-38 42-43 63-58 32-23 84-53 63-34 42-20 84-33 95-33 105-29 84-20 95-18 63-10 84-11 116-10 273-2 105 1 53 3 95 9 136 20 53 9 84 19 116 30 115 38 85 33 52 24 63 34 63 39 42 29 74 66 42 43 27 38 31 57 8 20 11 38 3 67 -3 67 -11 38 -8 20 -31 57 -20 29 -17 21 -21 21 -80 73 -26 18 -52 34 -95 53 -42 20 -74 29 -105 37 -105 29 -126 29 -116 19 -73 10 -106 10z"/>
<path fill="#fe01ff" d="M2861 3000l-147 3 -295-2 -21-1 -31-6 -64-3 -21-5 -52-5 -21-5 -42-5 -21-5 -32-4 -126-29 -53-15 -21-4 -115-39 -116-47 -74-39 -108-67 -113-104 -30-40 -40-77 -3-19 -8-19 -3-48 -6-19 6-19 3-48 8-19 3-19 40-77 29-38 103-96 25-19 94-58 53-29 42-20 95-37 52-17 32-12 147-39 84-19 32-4 21-5 42-5 21-5 52-5 21-5 64-3 31-6 21-1 295-2 147 3 31 6 64 3 21 5 52 5 21 5 42 5 21 5 32 4 84 19 42 10 53 15 21 4 115 39 53 22 21 7 63 28 53 29 108 67 60 54 54 52 28 38 41 77 3 19 7 19 1 9 1 68 -2 57 -7 19 -3 19 -9 20 -32 57 -20 29 -30 32 -92 83 -98 61 -63 35 -42 20 -95 37 -52 17 -32 12 -105 29 -126 29 -32 4 -21 5 -42 5 -21 5 -52 5 -21 5 -74 4 -21 5z"/>
<path fill="#ff00ff" d="M2861 2992l-463 0 -10-7 -85-2 -10-8 -63-2 -11-7 -52-3 -11-7 -42-2 -10-8 -32-2 -10-7 -32-2 -11-8 -31-2 -11-8 -21-1 -10-8 -32-2 -10-8 -21-2 -11-8 -10-1 -11-8 -21-2 -10-8 -21-1 -11-9 -10-1 -11-8 -10-1 -11-8 -21-2 -11-8 -14-4 -7-6 -10-1 -11-9 -13-3 -18-15 -11-2 -10-8 -11-2 -21-17 -10-2 -3-2 -18-16 -11-1 -21-18 -13-3 -124-113 -3-12 -19-19 -2-9 -9-10 -1-10 -10-9 -1-10 -9-9 -1-10 -9-10 -2-28 -9-10 -1-57 -9-10 9-10 1-57 9-10 2-28 9-10 1-10 9-9 1-10 10-9 1-10 9-10 2-9 19-19 3-12 124-113 13-3 21-18 11-1 18-16 3-2 10-2 21-17 11-2 10-8 11-2 18-15 13-3 11-9 10-1 7-6 14-4 11-8 21-2 11-8 10-1 11-8 10-1 11-9 21-1 10-8 21-2 11-8 10-1 11-8 21-2 10-8 32-2 10-8 21-1 11-8 31-2 11-8 32-2 10-7 32-2 10-8 42-2 11-7 52-3 11-7 63-2 10-8 85-2 10-7 463 0 10 7 85 2 10 8 63 2 11 7 52 3 11 7 42 2 10 8 32 2 10 7 32 2 11 8 31 2 11 8 21 1 10 8 32 2 10 8 21 2 11 8 10 1 11 8 21 2 10 8 21 1 11 9 10 1 11 8 10 1 11 8 21 2 11 8 14 4 7 6 10 1 11 9 10 1 21 17 11 2 10 8 11 2 21 17 10 2 21 18 11 1 21 18 13 3 125 115 2 10 19 19 2 9 9 10 1 10 10 9 1 10 9 9 1 10 9 10 2 28 9 10 0 134 -9 10 -2 28 -9 10 -1 10 -9 9 -1 10 -10 9 -1 10 -9 10 -2 9 -19 19 -2 10 -125 115 -13 3 -21 18 -11 1 -21 18 -10 2 -21 17 -11 2 -10 8 -11 2 -21 17 -10 1 -11 9 -10 1 -7 6 -14 4 -11 8 -21 2 -11 8 -10 1 -11 8 -10 1 -11 9 -21 1 -10 8 -21 2 -11 8 -10 1 -11 8 -21 2 -10 8 -32 2 -10 8 -21 1 -11 8 -31 2 -11 8 -32 2 -10 7 -32 2 -10 8 -42 2 -11 7 -52 3 -11 7 -63 2 -10 8 -85 2 -10 7z"/>
</g>
<path fill="#fff" fill-rule="evenodd" d="M712.3 951.5h539.9v493.2h-539.9zM719.3 958.5v479.2h525.9v-479.2z"/>
<rect x="719.3" y="958.5" width="1.8" height="479.2" fill="#0a2a44" opacity="0.13"/>
<rect x="719.3" y="1435.9" width="525.9" height="1.8" fill="#0a2a44" opacity="0.13"/>
<rect x="719.3" y="957.8" width="6.6" height="1.1" fill="#1c3c4c" opacity="0.75"/>
<rect x="1244.6" y="1432.1" width="1.3" height="5.6" fill="#1c3c4c" opacity="0.35"/>
<ellipse cx="982.25" cy="1198.1" rx="132.53" ry="60.38" fill="#fff"/>
<text transform="translate(712.3 965.9)" font-size="18.75" text-anchor="end" fill="#262626">+12.5</text>
<text transform="translate(712.3 1205.5)" font-size="18.75" text-anchor="end" fill="#262626">0</text>
<text transform="translate(712.3 1445.1)" font-size="18.75" text-anchor="end" fill="#262626">-12.5</text>
<text transform="translate(719.7 1463.9)" font-size="18.75" text-anchor="middle" fill="#262626">-12.5</text>
<text transform="translate(982.65 1463.9)" font-size="18.75" text-anchor="middle" fill="#262626">0</text>
<text transform="translate(1245.6 1463.9)" font-size="18.75" text-anchor="middle" fill="#262626">+12.5</text>
<text transform="translate(982.75 1491) scale(1 0.975)" font-size="20.7" text-anchor="middle" fill="#262626">Dimension (<tspan font-style="italic"  font-family="'Liberation Serif', serif" font-size="22.5" dx="0.2">μ</tspan><tspan dx="0.6">m</tspan><tspan dx="0.6">)</tspan></text>
<text transform="translate(671 1197.3) rotate(-90) scale(1 0.975)" font-size="20.7" text-anchor="middle" fill="#262626">Dimension (<tspan font-style="italic"  font-family="'Liberation Serif', serif" font-size="22.5" dx="0.2">μ</tspan><tspan dx="0.6">m</tspan><tspan dx="0.6">)</tspan></text>
<text transform="translate(675.9 934.9) scale(0.99 1.045)" font-size="39.2" font-weight="bold" fill="#000">C</text>
</g>
<g id="heatD">
<rect x="1364.7" y="954.5" width="533.9" height="487.2" fill="#32cdff"/>
<g transform="translate(1368.7 958.5) scale(0.1)">
<path fill="#34cbff" d="M4933 4832l-4607 0 -8-40 -4-48 -15-48 -13-29 -19-28 -23-29 -19-19 -25-22 -25-17 -28-15 -31-14 -32-10 -31-7 -53-4 -40-7 0-4198 40-7 53-4 31-7 32-10 31-14 28-15 25-17 25-22 19-19 23-29 19-28 13-29 15-48 4-48 8-40 4607 0 8 40 4 48 15 48 13 29 19 28 23 29 19 19 25 22 25 17 28 15 31 14 32 10 31 7 53 4 40 7 0 4198 -40 7 -53 4 -31 7 -32 10 -31 14 -28 15 -25 17 -25 22 -19 19 -23 29 -19 28 -13 29 -15 48 -4 48 -8 40z"/>
<path fill="#36c9ff" d="M4754 4832l-4249 0 -9-40 -3-38 -6-39 -11-38 -15-38 -20-39 -31-47 -31-38 -32-32 -42-35 -42-29 -53-29 -42-18 -42-14 -42-10 -42-6 -42-2 -40-8 0-3872 40-8 42-2 42-6 42-10 42-14 42-18 53-29 42-29 42-35 32-32 31-38 31-47 20-39 15-38 11-38 6-39 3-38 9-40 4249 0 9 40 3 38 6 39 11 38 15 38 20 39 31 47 31 38 32 32 42 35 42 29 53 29 42 18 42 14 42 10 42 6 42 2 40 8 0 3872 -40 8 -42 2 -42 6 -42 10 -42 14 -42 18 -53 29 -42 29 -42 35 -32 32 -31 38 -31 47 -20 39 -15 38 -11 38 -6 39 -3 38 -9 40z"/>
<path fill="#38c7ff" d="M4628 4832l-3997 0 -5-78 -6-39 -12-48 -22-57 -29-54 -34-52 -40-47 -52-53 -51-43 -54-39 -53-30 -63-30 -52-18 -63-15 -53-7 -82-5 0-3642 82-5 53-7 63-15 52-18 63-30 53-30 54-39 51-43 52-53 40-47 34-52 29-54 22-57 12-48 6-39 5-78 3997 0 5 78 6 39 12 48 22 57 29 54 34 52 40 47 52 53 51 43 54 39 53 30 63 30 52 18 63 15 53 7 82 5 0 3642 -82 5 -53 7 -63 15 -52 18 -63 30 -53 30 -54 39 -51 43 -52 53 -40 47 -34 52 -29 54 -22 57 -12 48 -6 39 -5 78z"/>
<path fill="#3ac5ff" d="M4512 4832l-3765 0 -8-40 -4-58 -9-47 -18-58 -24-56 -34-59 -41-57 -49-58 -57-57 -61-52 -63-46 -63-38 -74-36 -63-23 -63-17 -53-8 -63-4 -40-6 0-3432 40-6 63-4 53-8 63-17 63-23 74-36 63-38 63-46 61-52 57-57 49-58 41-57 34-59 24-56 18-58 9-47 4-58 8-40 3765 0 8 40 4 58 9 47 18 58 24 56 34 59 41 57 49 58 57 57 61 52 63 46 63 38 74 36 63 23 63 17 53 8 63 4 40 6 0 3432 -40 6 -63 4 -53 8 -63 17 -63 23 -74 36 -63 38 -63 46 -61 52 -57 57 -49 58 -41 57 -34 59 -24 56 -18 58 -9 47 -4 58 -8 40z"/>
<path fill="#3cc3ff" d="M4418 4832l-3577 0 -4-78 -8-58 -20-67 -29-67 -21-38 -23-37 -50-69 -58-67 -68-67 -76-64 -74-53 -73-45 -74-36 -74-28 -73-19 -63-9 -93-5 0-3258 93-5 63-9 73-19 74-28 74-36 73-45 74-53 76-64 68-67 58-67 50-69 23-37 21-38 29-67 20-67 8-58 4-78 3577 0 4 78 8 58 20 67 29 67 21 38 23 37 50 69 58 67 68 67 76 64 74 53 73 45 74 36 74 28 73 19 63 9 93 5 0 3258 -93 5 -63 9 -73 19 -74 28 -74 36 -73 45 -74 53 -76 64 -68 67 -58 67 -50 69 -23 37 -21 38 -29 67 -20 67 -8 58 -4 78z"/>
<path fill="#3ec1ff" d="M4323 4832l-3387 0 -5-40 -4-58 -11-57 -22-67 -32-68 -46-76 -57-77 -68-76 -78-77 -78-67 -83-61 -84-54 -84-44 -42-18 -42-15 -74-20 -63-10 -63-3 -40-5 0-3086 40-5 63-3 63-10 74-20 42-15 42-18 84-44 84-54 83-61 78-67 78-77 68-76 57-77 46-76 32-68 22-67 11-57 4-58 5-40 3387 0 5 40 4 58 11 57 22 67 32 68 46 76 57 77 68 76 78 77 78 67 83 61 84 54 84 44 42 18 42 15 74 20 63 10 63 3 40 5 0 3086 -40 5 -63 3 -63 10 -74 20 -42 15 -42 18 -84 44 -84 54 -83 61 -78 67 -78 77 -68 76 -57 77 -46 76 -32 68 -22 67 -11 57 -4 58 -5 40z"/>
<path fill="#40bfff" d="M4239 4832l-3219 0 -5-88 -5-36 -7-31 -12-38 -14-39 -18-38 -20-38 -49-77 -66-86 -77-85 -84-82 -95-81 -95-71 -94-61 -84-45 -43-18 -42-16 -42-13 -42-11 -73-11 -93-5 0-2932 93-5 73-11 42-11 42-13 42-16 43-18 84-45 94-61 95-71 95-81 84-82 77-85 66-86 49-77 20-38 18-38 14-39 12-38 7-31 5-36 5-88 3219 0 5 88 5 36 7 31 12 38 14 39 18 38 20 38 49 77 66 86 77 85 84 82 95 81 95 71 94 61 84 45 43 18 42 16 42 13 42 11 73 11 93 5 0 2932 -93 5 -73 11 -42 11 -42 13 -42 16 -43 18 -84 45 -94 61 -95 71 -95 81 -84 82 -77 85 -66 86 -49 77 -20 38 -18 38 -14 39 -12 38 -7 31 -5 36 -5 88z"/>
<path fill="#42bdff" d="M4155 4832l-3051 0 -7-98 -5-28 -9-39 -13-38 -15-38 -19-39 -21-38 -24-38 -33-48 -69-86 -88-96 -96-94 -105-90 -106-80 -94-63 -53-30 -42-22 -84-36 -42-14 -42-12 -74-12 -103-7 0-2780 103-7 74-12 42-12 42-14 84-36 42-22 53-30 94-63 106-80 105-90 96-94 88-96 69-86 33-48 24-38 21-38 19-39 15-38 13-38 9-39 5-28 7-98 3051 0 7 98 5 28 9 39 13 38 15 38 19 39 21 38 24 38 33 48 69 86 88 96 96 94 105 90 106 80 94 63 53 30 42 22 84 36 42 14 42 12 74 12 103 7 0 2780 -103 7 -74 12 -42 12 -42 14 -84 36 -42 22 -53 30 -94 63 -106 80 -105 90 -96 94 -88 96 -69 86 -33 48 -24 38 -21 38 -19 39 -15 38 -13 38 -9 39 -5 28 -7 98z"/>
<path fill="#44bbff" d="M4070 4832l-2881 0 -9-40 -1-29 -4-38 -5-29 -11-38 -13-39 -17-38 -19-38 -23-39 -24-38 -35-48 -78-96 -98-104 -105-101 -116-101 -105-82 -105-72 -95-55 -84-40 -42-16 -45-13 -71-15 -42-5 -42-2 -40-7 0-2626 40-7 42-2 42-5 71-15 45-13 42-16 84-40 95-55 105-72 105-82 116-101 105-101 98-104 78-96 35-48 24-38 23-39 19-38 17-38 13-39 11-38 5-29 4-38 1-29 9-40 2881 0 9 40 1 29 4 38 5 29 11 38 13 39 17 38 19 38 23 39 24 38 35 48 78 96 98 104 105 101 116 101 105 82 105 72 95 55 84 40 42 16 45 13 71 15 42 5 42 2 40 7 0 2626 -40 7 -42 2 -42 5 -71 15 -45 13 -42 16 -84 40 -95 55 -105 72 -105 82 -116 101 -105 101 -98 104 -78 96 -35 48 -24 38 -23 39 -19 38 -17 38 -13 39 -11 38 -5 29 -4 38 -1 29 -9 40z"/>
<path fill="#46b9ff" d="M3997 4832l-2735 0 -8-98 -7-38 -10-38 -14-39 -17-38 -20-38 -29-48 -33-48 -36-48 -82-96 -101-105 -120-115 -132-115 -117-93 -105-74 -52-33 -53-30 -53-26 -42-19 -42-15 -42-13 -42-10 -42-6 -103-7 0-2492 103-7 42-6 42-10 42-13 42-15 42-19 53-26 53-30 52-33 105-74 117-93 132-115 120-115 101-105 82-96 36-48 33-48 29-48 20-38 17-38 14-39 10-38 7-38 8-98 2735 0 8 98 7 38 10 38 14 39 17 38 20 38 29 48 33 48 36 48 82 96 101 105 120 115 132 115 117 93 105 74 52 33 53 30 53 26 42 19 42 15 42 13 42 10 42 6 103 7 0 2492 -103 7 -42 6 -42 10 -42 13 -42 15 -42 19 -53 26 -53 30 -52 33 -105 74 -117 93 -132 115 -120 115 -101 105 -82 96 -36 48 -33 48 -29 48 -20 38 -17 38 -14 39 -10 38 -7 38 -8 98z"/>
<path fill="#48b7ff" d="M3923 4832l-2587 0 -1-50 -2-38 -7-38 -10-39 -14-38 -21-48 -21-38 -30-48 -34-48 -37-48 -92-105 -111-115 -132-125 -140-124 -137-111 -116-83 -52-34 -53-31 -53-27 -42-19 -52-20 -42-12 -42-9 -42-6 -32-3 -61 0 0-2358 61 0 32-3 42-6 42-9 42-12 52-20 42-19 53-27 53-31 52-34 116-83 137-111 140-124 132-125 111-115 92-105 37-48 34-48 30-48 21-38 21-48 14-38 10-39 7-38 2-38 1-50 2587 0 1 50 2 38 7 38 10 39 14 38 21 48 21 38 30 48 34 48 37 48 92 105 111 115 132 125 140 124 137 111 116 83 52 34 53 31 53 27 42 19 52 20 42 12 42 9 42 6 32 3 61 0 0 2358 -61 0 -32 3 -42 6 -42 9 -42 12 -52 20 -42 19 -53 27 -53 31 -52 34 -116 83 -137 111 -140 124 -132 125 -111 115 -92 105 -37 48 -34 48 -30 48 -21 38 -21 48 -14 38 -10 39 -7 38 -2 38 -1 50z"/>
<path fill="#4ab5ff" d="M3839 4832l-2419 0 -8-40 -1-29 -5-38 -6-29 -12-38 -15-39 -18-38 -22-38 -31-48 -35-48 -38-48 -94-105 -123-125 -153-144 -165-146 -137-113 -115-86 -53-36 -52-32 -53-29 -42-21 -42-17 -42-15 -42-11 -32-7 -42-5 -42-2 -40-7 0-2204 40-7 42-2 42-5 32-7 42-11 42-15 42-17 42-21 53-29 52-32 53-36 115-86 137-113 165-146 153-144 123-125 94-105 38-48 35-48 31-48 22-38 18-38 15-39 12-38 6-29 5-38 1-29 8-40 2419 0 8 40 1 29 5 38 6 29 12 38 15 39 18 38 22 38 31 48 35 48 38 48 94 105 123 125 153 144 165 146 137 113 115 86 53 36 52 32 53 29 42 21 42 17 42 15 42 11 32 7 42 5 42 2 40 7 0 2204 -40 7 -42 2 -42 5 -32 7 -42 11 -42 15 -42 17 -42 21 -53 29 -52 32 -53 36 -115 86 -137 113 -165 146 -153 144 -123 125 -94 105 -38 48 -35 48 -31 48 -22 38 -18 38 -15 39 -12 38 -6 29 -5 38 -1 29 -8 40z"/>
<path fill="#4cb3ff" d="M3765 4832l-2271 0 -10-98 -8-38 -12-38 -16-39 -20-38 -22-38 -33-48 -36-48 -40-48 -96-105 -136-135 -171-160 -179-160 -147-124 -126-98 -53-36 -52-34 -53-30 -42-22 -53-22 -42-15 -42-11 -42-8 -103-8 0-2070 103-8 42-8 42-11 42-15 53-22 42-22 53-30 52-34 53-36 126-98 147-124 179-160 171-160 136-135 96-105 40-48 36-48 33-48 22-38 20-38 16-39 12-38 8-38 10-98 2271 0 10 98 8 38 12 38 16 39 20 38 22 38 33 48 36 48 40 48 96 105 136 135 171 160 179 160 147 124 126 98 53 36 52 34 53 30 42 22 53 22 42 15 42 11 42 8 103 8 0 2070 -103 8 -42 8 -42 11 -42 15 -53 22 -42 22 -53 30 -52 34 -53 36 -126 98 -147 124 -179 160 -171 160 -136 135 -96 105 -40 48 -36 48 -33 48 -22 38 -20 38 -16 39 -12 38 -8 38 -10 98z"/>
<path fill="#4eb1ff" d="M3692 4832l-2125 0 -1-59 -3-29 -7-38 -12-39 -16-38 -20-38 -23-39 -33-48 -38-47 -40-48 -99-106 -138-134 -201-186 -210-190 -158-136 -126-101 -105-74 -53-31 -42-23 -53-24 -42-15 -42-12 -42-8 -42-4 -61-1 0-1936 61-1 42-4 42-8 42-12 42-15 53-24 42-23 53-31 105-74 126-101 158-136 210-190 201-186 138-134 99-106 40-48 38-47 33-48 23-39 20-38 16-38 12-39 7-38 3-29 1-59 2125 0 1 59 3 29 7 38 12 39 16 38 20 38 23 39 33 48 38 47 40 48 99 106 138 134 201 186 210 190 158 136 126 101 105 74 53 31 42 23 53 24 42 15 42 12 42 8 42 4 61 1 0 1936 -61 1 -42 4 -42 8 -42 12 -42 15 -53 24 -42 23 -53 31 -105 74 -126 101 -158 136 -210 190 -201 186 -138 134 -99 106 -40 48 -38 47 -33 48 -23 39 -20 38 -16 38 -12 39 -7 38 -3 29 -1 59z"/>
<path fill="#50afff" d="M3608 4832l-1957 0 -9-88 -5-29 -12-38 -16-38 -20-39 -24-38 -27-38 -71-87 -90-95 -119-115 -176-163 -346-315 -147-131 -137-115 -105-78 -52-34 -53-31 -53-25 -42-17 -42-12 -42-9 -103-10 0-1782 103-10 42-9 42-12 42-17 53-25 53-31 52-34 105-78 137-115 147-131 346-315 176-163 119-115 90-95 71-87 27-38 24-38 20-39 16-38 12-38 5-29 9-88 1957 0 9 88 5 29 12 38 16 38 20 39 24 38 27 38 71 87 90 95 119 115 176 163 346 315 147 131 137 115 105 78 52 34 53 31 53 25 42 17 42 12 42 9 103 10 0 1782 -103 10 -42 9 -42 12 -42 17 -53 25 -53 31 -52 34 -105 78 -137 115 -147 131 -346 315 -176 163 -119 115 -90 95 -71 87 -27 38 -24 38 -20 39 -16 38 -12 38 -5 29 -9 88z"/>
<path fill="#52adff" d="M3524 4832l-1789 0 -7-40 -4-48 -12-48 -24-57 -16-29 -25-38 -51-68 -68-76 -86-86 -123-115 -341-308 -410-376 -116-100 -94-75 -53-38 -53-33 -52-28 -42-19 -42-15 -42-11 -42-5 -32-2 -40-6 0-1630 40-6 32-2 42-5 42-11 42-15 42-19 52-28 53-33 53-38 94-75 116-100 410-376 341-308 123-115 86-86 68-76 51-68 25-38 16-29 24-57 12-48 4-48 7-40 1789 0 7 40 4 48 12 48 24 57 16 29 25 38 51 68 68 76 86 86 123 115 341 308 410 376 116 100 94 75 53 38 53 33 52 28 42 19 42 15 42 11 42 5 32 2 40 6 0 1630 -40 6 -32 2 -42 5 -42 11 -42 15 -42 19 -52 28 -53 33 -53 38 -94 75 -116 100 -410 376 -341 308 -123 115 -86 86 -68 76 -51 68 -25 38 -16 29 -24 57 -12 48 -4 48 -7 40z"/>
<path fill="#54abff" d="M3439 4832l-1619 0 -9-78 -8-39 -19-48 -32-57 -41-58 -58-67 -65-67 -92-86 -497-441 -505-472 -73-65 -74-60 -52-39 -53-36 -53-29 -42-20 -42-15 -42-10 -103-11 0-1476 103-11 42-10 42-15 42-20 53-29 53-36 52-39 74-60 73-65 505-472 497-441 92-86 65-67 58-67 41-58 32-57 19-48 8-39 9-78 1619 0 9 78 8 39 19 48 32 57 41 58 58 67 65 67 92 86 497 441 505 472 73 65 74 60 52 39 53 36 53 29 42 20 42 15 42 10 103 11 0 1476 -103 11 -42 10 -42 15 -42 20 -53 29 -53 36 -52 39 -74 60 -73 65 -505 472 -497 441 -92 86 -65 67 -58 67 -41 58 -32 57 -19 48 -8 39 -9 78z"/>
<path fill="#56a9ff" d="M3345 4832l-1431 0 -8-40 -3-38 -7-29 -14-38 -26-48 -33-48 -49-58 -55-57 -71-67 -109-96 -329-281 -179-159 -197-183 -371-360 -84-77 -63-53 -53-40 -42-29 -42-25 -42-20 -42-16 -32-8 -31-5 -32-2 -40-7 0-1304 40-7 32-2 31-5 32-8 42-16 42-20 42-25 42-29 53-40 63-53 84-77 371-360 197-183 179-159 329-281 109-96 71-67 55-57 49-58 33-48 26-48 14-38 7-29 3-38 8-40 1431 0 8 40 3 38 7 29 14 38 26 48 33 48 49 58 55 57 71 67 109 96 329 281 179 159 197 183 371 360 84 77 63 53 53 40 42 29 42 25 42 20 42 16 32 8 31 5 32 2 40 7 0 1304 -40 7 -32 2 -31 5 -32 8 -42 16 -42 20 -42 25 -42 29 -53 40 -63 53 -84 77 -371 360 -197 183 -179 159 -329 281 -109 96 -71 67 -55 57 -49 58 -33 48 -26 48 -14 38 -7 29 -3 38 -8 40z"/>
<path fill="#58a7ff" d="M3250 4832l-1241 0 -4-59 -5-29 -12-38 -20-39 -26-38 -39-48 -46-48 -50-48 -122-105 -402-329 -116-100 -115-103 -119-110 -129-125 -394-398 -73-70 -64-54 -42-33 -42-29 -42-25 -31-15 -42-15 -32-7 -82-6 0-1130 82-6 32-7 42-15 31-15 42-25 42-29 42-33 64-54 73-70 394-398 129-125 119-110 115-103 116-100 402-329 122-105 50-48 46-48 39-48 26-38 20-39 12-38 5-29 4-59 1241 0 4 59 5 29 12 38 20 39 26 38 39 48 46 48 50 48 122 105 402 329 116 100 115 103 119 110 129 125 394 398 73 70 64 54 42 33 42 29 42 25 31 15 42 15 32 7 82 6 0 1130 -82 6 -32 7 -42 15 -31 15 -42 25 -42 29 -42 33 -64 54 -73 70 -394 398 -129 125 -119 110 -115 103 -116 100 -402 329 -122 105 -50 48 -46 48 -39 48 -26 38 -20 39 -12 38 -5 29 -4 59z"/>
<path fill="#5aa5ff" d="M3134 4832l-1009 0 -5-59 -4-19 -9-29 -14-29 -18-29 -31-38 -36-38 -40-39 -66-57 -72-58 -315-243 -158-125 -147-123 -138-122 -133-125 -136-134 -138-144 -297-319 -73-74 -64-57 -42-34 -31-22 -32-19 -31-16 -32-11 -21-5 -21-4 -61-4 0-920 61-4 21-4 21-5 32-11 31-16 32-19 31-22 42-34 64-57 73-74 297-319 138-144 136-134 133-125 138-122 147-123 158-125 315-243 72-58 66-57 40-39 36-38 31-38 18-29 14-29 9-29 4-19 5-59 1009 0 5 59 4 19 9 29 14 29 18 29 31 38 36 38 40 39 66 57 72 58 315 243 158 125 147 123 138 122 133 125 136 134 138 144 297 319 73 74 64 57 42 34 31 22 32 19 31 16 32 11 21 5 21 4 61 4 0 920 -61 4 -21 4 -21 5 -32 11 -31 16 -32 19 -31 22 -42 34 -64 57 -73 74 -297 319 -138 144 -136 134 -133 125 -138 122 -147 123 -158 125 -315 243 -72 58 -66 57 -40 39 -36 38 -31 38 -18 29 -14 29 -9 29 -4 19 -5 59z"/>
<path fill="#5ca3ff" d="M2987 4832l-715 0 -8-40 -4-29 -6-19 -9-19 -12-19 -23-29 -47-48 -57-48 -87-67 -357-255 -168-124 -148-116 -147-123 -105-93 -101-94 -98-96 -102-105 -175-192 -323-375 -53-57 -53-53 -31-28 -32-25 -31-20 -21-11 -21-9 -21-6 -32-3 -40-7 0-652 40-7 32-3 21-6 21-9 21-11 31-20 32-25 31-28 53-53 53-57 323-375 175-192 102-105 98-96 101-94 105-93 147-123 148-116 168-124 357-255 87-67 57-48 47-48 23-29 12-19 9-19 6-19 4-29 8-40 715 0 8 40 4 29 6 19 9 19 12 19 23 29 47 48 57 48 87 67 357 255 168 124 148 116 147 123 105 93 101 94 98 96 102 105 175 192 323 375 53 57 53 53 31 28 32 25 31 20 21 11 21 9 21 6 32 3 40 7 0 652 -40 7 -32 3 -21 6 -21 9 -21 11 -31 20 -32 25 -31 28 -53 53 -53 57 -323 375 -175 192 -102 105 -98 96 -101 94 -105 93 -147 123 -148 116 -168 124 -357 255 -87 67 -57 48 -47 48 -23 29 -12 19 -9 19 -6 19 -4 29 -8 40z"/>
<path fill="#5ea1ff" d="M2735 4832l-211 0 -11-50 -10-19 -18-19 -35-29 -102-67 -402-245 -221-144 -126-88 -126-93 -116-90 -105-86 -144-126 -141-134 -140-144 -129-144 -105-124 -114-144 -117-153 -215-294 -42-54 -31-37 -32-29 -21-13 -61-14 0-192 51-10 21-9 21-16 31-33 74-93 269-366 158-201 96-115 93-106 99-105 94-96 141-134 144-126 157-128 158-118 147-104 158-104 168-106 323-196 59-38 41-29 32-29 14-19 15-59 211 0 11 50 10 19 18 19 35 29 102 67 402 245 221 144 126 88 126 93 116 90 105 86 144 126 141 134 140 144 129 144 105 124 114 144 117 153 215 294 42 54 31 37 32 29 21 13 61 14 0 192 -51 10 -21 9 -21 16 -31 33 -74 93 -269 366 -158 201 -96 115 -93 106 -99 105 -94 96 -141 134 -144 126 -157 128 -158 118 -147 104 -158 104 -168 106 -323 196 -59 38 -41 29 -32 29 -14 19 -15 59z"/>
<path fill="#609fff" d="M2682 4610l-63 3 -63-5 -63-11 -74-20 -84-30 -84-36 -105-50 -95-50 -116-65 -115-69 -116-74 -116-79 -105-76 -105-80 -105-86 -95-81 -95-87 -94-91 -84-87 -89-95 -83-96 -86-106 -81-105 -77-105 -65-96 -60-96 -56-96 -39-77 -33-76 -19-58 -15-67 -5-57 3-58 10-57 19-68 27-67 37-76 48-87 52-86 63-96 74-105 72-96 75-96 89-105 85-96 90-96 87-86 91-86 97-87 99-83 94-75 106-79 105-75 115-77 106-67 115-68 116-64 95-49 94-45 85-35 73-26 74-20 63-11 63-5 63 3 63 9 74 18 73 24 85 34 94 44 95 47 105 58 116 67 105 65 105 69 116 81 105 77 105 83 95 78 95 84 94 88 92 90 82 86 87 96 82 96 85 105 73 96 75 106 70 105 54 86 49 87 38 76 29 67 22 67 12 58 5 57 -2 48 -8 58 -16 57 -25 67 -40 87 -42 76 -51 87 -62 95 -67 96 -77 106 -83 105 -79 96 -85 96 -80 86 -85 87 -95 91 -89 81 -90 77 -94 77 -106 81 -94 69 -105 73 -106 68 -105 65 -105 61 -105 58 -105 52 -95 43 -74 30 -84 27 -63 15 -63 9z"/>
<path fill="#629dff" d="M2735 4524l-63 6 -74 0 -74-6 -73-13 -84-21 -85-28 -84-33 -94-42 -106-52 -115-63 -116-69 -105-67 -116-79 -105-77 -105-82 -95-79 -95-84 -98-93 -85-86 -90-96 -83-96 -78-96 -73-96 -75-105 -62-96 -58-96 -51-96 -35-76 -30-77 -20-67 -15-77 -6-67 1-57 8-67 15-68 21-67 30-76 41-87 47-86 52-86 62-96 68-96 72-96 78-95 83-96 88-96 85-86 90-87 92-82 95-80 94-75 106-79 105-73 105-69 105-65 105-59 105-55 95-46 95-40 84-31 84-26 74-16 73-11 63-4 64 0 73 8 74 13 73 19 85 28 94 37 95 43 95 47 105 57 105 62 105 66 105 71 105 75 106 81 94 77 95 82 90 84 88 86 83 86 86 96 81 96 75 96 71 96 66 95 60 96 50 87 44 86 34 76 28 77 18 67 12 67 5 58 -1 57 -8 67 -15 68 -21 67 -30 76 -31 67 -46 87 -51 86 -61 96 -60 86 -71 96 -68 86 -73 86 -85 96 -82 86 -88 87 -82 76 -92 81 -94 79 -95 73 -95 70 -94 65 -105 69 -95 58 -95 54 -94 50 -95 46 -95 42 -94 35 -74 24 -74 18 -73 13z"/>
<path fill="#649bff" d="M2703 4466l-73 3 -74-3 -74-8 -84-16 -84-23 -84-27 -84-33 -95-41 -105-52 -105-57 -106-62 -105-67 -105-73 -95-69 -105-83 -94-80 -94-85 -89-86 -84-87 -86-96 -73-86 -75-96 -70-95 -64-96 -53-87 -53-95 -42-87 -32-76 -23-67 -20-77 -13-77 -5-67 1-67 8-67 13-67 22-77 28-76 34-77 39-77 54-96 60-95 59-87 71-96 69-86 73-86 87-96 84-86 90-86 85-77 93-79 95-75 105-77 105-73 105-67 95-56 105-57 95-48 95-42 94-38 84-28 85-23 73-15 74-10 73-5 74 1 74 7 73 13 84 20 85 25 84 31 84 35 105 50 105 55 95 54 105 64 95 63 94 66 106 80 94 76 95 82 84 78 86 85 82 86 86 96 79 96 74 95 61 87 64 95 52 87 46 86 41 86 32 77 25 77 16 67 11 67 5 67 -1 67 -8 67 -13 67 -19 67 -27 77 -34 77 -43 86 -43 76 -53 87 -64 96 -70 95 -67 87 -81 95 -77 87 -83 86 -79 77 -83 76 -94 82 -94 76 -95 72 -95 67 -94 63 -106 65 -94 54 -105 56 -95 45 -84 36 -84 32 -84 28 -85 21 -73 14 -74 8z"/>
<path fill="#6699ff" d="M2766 4409l-73 7 -85 2 -73-4 -84-11 -84-17 -85-22 -84-28 -94-36 -95-42 -105-52 -105-57 -106-63 -105-69 -94-66 -95-71 -95-77 -94-82 -86-79 -86-86 -90-96 -82-96 -69-86 -64-87 -66-95 -59-96 -48-86 -43-87 -36-86 -27-77 -21-76 -14-77 -7-77 0-76 6-67 11-68 19-76 25-77 31-77 36-76 46-86 51-87 62-96 62-86 66-86 71-86 76-87 82-86 80-78 84-78 86-74 93-75 95-71 94-66 95-62 95-58 105-58 94-48 95-44 95-38 84-29 84-24 84-19 84-13 74-6 84-1 74 4 73 10 84 17 85 22 84 28 94 36 85 37 105 51 94 51 106 62 94 60 95 65 95 70 94 75 86 72 85 77 82 78 82 85 78 86 73 86 75 96 62 86 64 96 52 86 47 87 42 86 31 77 26 76 20 77 13 77 6 67 1 67 -5 67 -11 67 -18 77 -25 76 -30 77 -35 77 -40 76 -50 87 -55 86 -60 86 -64 86 -62 77 -74 86 -79 86 -76 77 -80 77 -86 77 -85 71 -84 66 -95 70 -95 65 -94 60 -95 56 -95 51 -94 47 -95 43 -84 33 -84 28 -74 21 -74 17 -84 14z"/>
<path fill="#6897ff" d="M2703 4371l-73 2 -85-3 -84-9 -84-15 -84-21 -84-25 -84-30 -95-39 -95-44 -94-49 -106-60 -94-58 -95-64 -95-68 -94-74 -91-76 -85-77 -79-77 -83-86 -77-86 -72-86 -66-87 -61-86 -62-96 -50-86 -45-86 -34-77 -34-86 -23-77 -18-76 -12-77 -5-77 1-67 8-77 12-67 19-76 25-77 31-77 35-76 45-87 51-86 56-86 61-86 66-87 72-86 77-86 83-86 79-77 85-77 91-76 84-66 95-69 94-64 95-59 95-55 94-50 95-45 84-36 84-31 95-31 84-21 84-17 74-9 84-5 74 0 84 6 84 12 84 18 84 23 84 27 84 33 95 41 95 46 94 51 95 56 95 60 94 65 95 70 95 76 84 72 84 78 83 82 81 87 76 86 69 86 65 86 59 87 54 86 44 77 44 86 38 86 29 77 23 76 17 77 10 67 5 77 -1 67 -8 77 -12 67 -19 76 -25 77 -31 77 -35 76 -45 87 -51 86 -56 86 -61 86 -59 77 -71 86 -67 77 -82 86 -78 77 -80 74 -84 72 -84 67 -95 71 -95 66 -84 54 -95 57 -94 52 -95 47 -84 38 -95 38 -84 29 -84 24 -84 19 -84 14 -74 7z"/>
<path fill="#6a95ff" d="M2661 4332l-84-1 -74-5 -84-11 -84-17 -84-22 -84-27 -95-35 -95-41 -94-45 -95-51 -95-56 -94-60 -95-66 -84-63 -84-67 -84-73 -85-78 -77-78 -72-76 -74-86 -69-87 -64-86 -58-86 -52-86 -43-77 -42-86 -32-77 -31-86 -21-77 -15-77 -9-67 -4-76 3-77 7-67 14-77 20-77 25-76 35-86 40-87 42-76 51-87 50-76 62-87 67-86 73-86 69-77 75-76 81-77 86-77 84-69 95-73 84-59 95-63 95-57 84-47 94-48 84-38 95-38 84-30 95-28 84-19 84-14 74-8 84-4 84 3 74 6 84 13 84 18 84 23 95 32 95 37 84 37 94 47 84 46 95 56 95 61 94 67 85 63 84 68 84 73 84 79 76 77 80 86 65 77 69 86 62 87 52 76 52 86 43 77 42 86 32 77 31 86 21 77 15 77 9 67 4 76 -3 77 -7 67 -14 77 -17 67 -25 77 -29 76 -35 77 -45 86 -50 86 -56 87 -61 86 -66 86 -72 86 -69 77 -75 77 -79 77 -86 76 -80 67 -89 69 -84 61 -84 56 -95 59 -95 54 -94 49 -84 40 -95 39 -95 35 -84 25 -84 21 -84 15 -84 10 -74 4z"/>
<path fill="#6c93ff" d="M2693 4294l-74 2 -84-4 -84-9 -84-14 -85-19 -94-27 -84-30 -95-38 -84-38 -95-48 -95-53 -94-58 -95-63 -84-61 -84-66 -82-69 -84-76 -76-74 -76-80 -67-76 -63-77 -65-86 -59-86 -54-87 -43-76 -43-87 -37-86 -28-77 -22-76 -17-77 -12-77 -5-76 0-67 6-77 12-77 18-76 23-77 29-77 33-76 43-87 43-76 54-87 52-76 65-86 70-87 67-76 73-77 79-77 82-74 82-70 86-67 84-61 84-56 95-59 95-53 94-49 95-43 84-34 95-34 84-24 84-20 84-15 74-8 84-5 74 0 84 5 84 11 84 16 84 22 84 25 84 31 95 39 84 39 95 49 84 48 95 59 94 64 85 61 84 67 84 71 81 75 77 75 73 78 67 77 62 77 65 86 58 86 54 86 47 87 38 76 36 86 27 77 22 77 16 76 10 68 5 76 0 67 -6 77 -12 77 -18 76 -23 77 -29 77 -33 76 -38 77 -48 86 -48 77 -58 86 -57 77 -70 86 -67 77 -72 76 -75 75 -75 69 -83 71 -84 67 -84 62 -95 64 -84 53 -84 49 -95 50 -84 41 -95 40 -94 35 -84 26 -84 22 -85 17 -84 11 -73 6z"/>
<path fill="#6e91ff" d="M2756 4256l-74 5 -84 0 -84-4 -84-10 -84-15 -85-20 -94-28 -84-30 -95-38 -84-39 -95-49 -95-54 -94-59 -84-57 -85-62 -85-68 -83-71 -78-73 -76-76 -71-77 -65-77 -68-86 -61-86 -56-86 -45-77 -45-86 -39-87 -29-76 -25-77 -21-86 -13-77 -7-76 -2-77 4-67 9-77 15-77 21-76 25-77 31-77 36-76 40-77 51-86 56-86 55-77 60-77 65-76 70-77 75-77 78-72 84-73 84-68 84-63 84-57 84-54 85-49 94-50 95-45 84-36 84-31 84-27 84-22 85-18 84-12 84-8 84-1 74 2 84 8 84 13 84 18 84 23 84 27 85 32 94 41 84 41 84 45 95 56 95 61 84 59 84 63 84 69 80 71 80 76 74 77 69 77 71 86 58 77 60 86 48 77 43 76 44 86 34 77 29 77 24 76 18 77 13 77 7 76 2 77 -4 67 -8 67 -14 77 -20 77 -25 76 -30 77 -35 77 -40 76 -44 77 -55 86 -54 77 -59 77 -63 76 -69 77 -74 77 -76 72 -73 66 -76 63 -82 63 -84 60 -84 56 -95 57 -84 47 -95 47 -84 38 -84 33 -84 29 -84 25 -85 20 -84 15 -73 9z"/>
<path fill="#708fff" d="M2714 4227l-74 3 -84-2 -84-7 -84-13 -85-17 -84-21 -84-27 -95-35 -94-40 -84-41 -84-44 -95-56 -84-54 -84-59 -85-63 -84-69 -77-69 -80-77 -73-76 -68-77 -62-77 -65-86 -52-76 -53-87 -42-76 -42-87 -32-76 -27-77 -22-77 -16-76 -11-77 -6-77 0-67 5-76 10-77 16-77 21-76 27-77 31-77 36-76 41-77 52-86 51-77 55-77 61-76 66-77 71-77 77-76 77-70 75-65 83-64 84-61 84-57 84-52 84-47 95-48 84-39 84-34 84-29 84-26 84-20 85-16 84-11 84-6 74 0 84 3 84 9 84 14 84 19 84 24 84 28 95 37 84 37 95 47 84 46 84 51 84 55 84 60 85 65 84 70 76 70 71 69 71 75 67 76 62 77 57 77 52 76 53 87 42 76 42 87 32 76 27 77 22 77 16 76 11 77 6 77 0 67 -5 76 -10 77 -14 67 -20 77 -26 77 -31 76 -36 77 -40 77 -45 76 -56 86 -55 77 -60 77 -65 76 -71 77 -68 69 -81 75 -77 66 -73 59 -85 63 -84 57 -84 53 -84 48 -84 45 -84 40 -84 35 -95 35 -84 27 -84 21 -85 17 -84 13 -73 6z"/>
<path fill="#728dff" d="M2693 4198l-85 1 -84-3 -84-9 -84-14 -84-18 -84-23 -84-28 -85-32 -94-41 -84-42 -84-45 -85-51 -84-54 -84-60 -84-65 -75-62 -74-68 -72-70 -70-73 -67-77 -61-77 -57-76 -57-87 -46-76 -46-87 -36-76 -31-77 -26-77 -21-76 -15-77 -11-77 -4-76 0-67 5-77 11-77 17-76 21-77 27-77 31-76 37-77 41-77 46-76 51-77 55-77 61-76 66-77 72-77 70-68 74-67 78-66 80-62 84-60 84-56 84-50 84-47 95-47 84-37 84-32 84-28 84-24 85-19 84-14 73-9 84-5 74 0 84 4 84 10 84 14 85 19 84 24 84 28 84 32 84 37 95 47 84 47 84 50 84 56 84 60 85 66 75 63 73 67 72 71 69 73 66 77 61 76 55 77 51 77 51 86 41 77 40 86 30 76 26 77 20 77 15 76 9 68 4 76 0 67 -5 77 -11 77 -14 67 -21 76 -26 77 -31 77 -36 76 -41 77 -51 86 -51 77 -55 77 -61 76 -61 71 -68 73 -69 68 -73 68 -77 65 -81 64 -84 61 -84 56 -84 51 -85 47 -84 43 -84 38 -84 33 -84 30 -84 25 -84 20 -85 15 -84 11 -73 5z"/>
<path fill="#748bff" d="M2703 4169l-84 2 -84-3 -84-8 -84-13 -85-17 -84-23 -84-26 -84-32 -84-35 -84-40 -84-45 -85-49 -84-54 -84-59 -84-64 -74-61 -75-67 -72-70 -70-74 -66-77 -61-76 -56-77 -51-77 -46-76 -41-77 -36-77 -31-76 -29-87 -21-76 -15-77 -10-67 -5-77 0-67 5-76 10-77 15-77 21-76 25-77 31-77 35-76 41-77 45-77 50-76 55-77 61-77 57-67 71-77 68-67 73-67 75-63 74-58 84-61 84-55 84-51 84-46 84-42 84-37 85-33 84-29 84-24 84-19 84-15 84-10 74-4 74-1 84 4 84 8 84 14 84 18 84 23 84 27 85 32 84 36 94 46 84 46 85 50 84 55 73 53 85 64 73 62 74 67 69 68 64 67 66 77 61 76 56 77 51 77 46 76 41 77 36 77 31 76 29 87 21 76 15 77 10 67 5 77 0 67 -5 76 -10 77 -15 77 -18 67 -25 77 -30 76 -35 77 -39 77 -45 76 -50 77 -54 77 -60 76 -57 68 -70 76 -67 67 -72 67 -75 64 -77 61 -81 59 -74 50 -84 52 -84 47 -84 43 -84 39 -85 34 -84 29 -84 25 -84 21 -84 16 -84 11 -74 5z"/>
<path fill="#7689ff" d="M2724 4141l-73 3 -85-1 -84-6 -84-11 -84-16 -84-20 -84-25 -84-29 -85-34 -84-39 -94-48 -85-48 -73-46 -84-57 -84-63 -74-60 -74-65 -72-68 -64-67 -68-77 -63-77 -56-76 -52-77 -46-77 -42-76 -36-77 -32-77 -26-76 -22-77 -17-77 -11-76 -6-77 -1-77 5-76 9-68 14-76 20-77 25-77 29-76 30-67 34-67 44-77 48-77 53-76 59-77 56-67 70-77 66-67 72-67 75-65 76-60 82-59 73-50 84-51 85-47 84-42 84-38 84-34 84-28 84-25 84-19 85-15 73-10 84-6 85-1 73 3 84 8 84 13 74 14 84 22 84 26 85 30 84 35 84 40 84 44 84 48 84 54 74 51 84 63 74 61 73 65 71 69 66 69 66 75 61 76 56 77 51 77 46 76 41 77 35 77 31 76 26 77 21 77 15 67 11 76 6 77 1 77 -4 67 -8 67 -14 77 -16 67 -24 76 -28 77 -34 77 -38 76 -44 77 -42 67 -52 77 -51 67 -63 77 -69 76 -65 67 -71 67 -75 66 -74 59 -74 55 -84 57 -73 46 -85 48 -84 43 -84 39 -84 35 -74 26 -84 26 -84 22 -84 16 -84 12 -74 7z"/>
<path fill="#7887ff" d="M2766 4112l-73 5 -85 1 -84-4 -84-8 -84-13 -84-18 -84-22 -84-27 -85-32 -84-36 -84-40 -84-45 -74-44 -84-54 -84-60 -74-57 -75-64 -73-67 -67-67 -69-74 -58-70 -59-77 -54-76 -48-77 -43-77 -39-76 -33-77 -28-77 -24-76 -18-77 -13-77 -8-76 -2-67 2-77 7-77 12-76 18-77 22-77 24-67 32-77 33-67 41-76 46-77 52-77 57-76 54-67 60-67 62-66 63-61 74-66 74-60 73-56 74-52 84-54 84-48 84-44 84-40 84-35 74-26 84-27 84-22 85-17 84-12 73-7 74-4 84 1 84 5 84 10 74 13 84 19 84 24 84 28 85 32 84 37 84 42 84 46 84 52 74 49 73 53 83 65 67 58 72 67 67 67 69 76 56 68 58 76 53 77 48 77 43 76 37 77 33 77 28 76 22 77 18 77 11 67 8 76 2 67 -2 77 -7 77 -10 67 -15 67 -21 77 -23 67 -31 76 -31 67 -40 77 -45 77 -51 76 -55 77 -53 67 -58 67 -63 67 -68 67 -65 60 -73 62 -74 57 -74 52 -84 56 -74 44 -84 45 -84 42 -84 36 -84 32 -74 24 -84 24 -84 19 -84 14 -74 9z"/>
<path fill="#7a85ff" d="M2682 4092l-74 1 -84-3 -84-9 -84-13 -84-17 -74-19 -84-27 -84-31 -84-35 -84-40 -84-45 -74-43 -74-47 -84-59 -73-56 -74-62 -67-60 -68-67 -63-67 -57-67 -53-67 -55-77 -50-77 -45-76 -39-77 -35-77 -29-76 -25-77 -19-77 -13-67 -9-77 -5-76 0-67 6-77 10-77 13-67 20-76 22-68 29-76 35-77 39-77 45-76 50-77 48-67 60-77 55-64 63-68 63-62 71-64 68-58 75-57 81-58 84-54 74-43 73-40 84-40 84-36 85-32 84-27 73-19 85-18 84-14 84-9 73-4 74 0 84 4 84 9 84 14 85 18 73 19 84 27 85 32 84 36 84 40 84 46 74 43 84 55 70 51 75 57 68 58 71 64 63 62 63 68 63 74 60 77 47 67 43 67 45 76 39 77 35 77 29 76 25 77 19 77 13 67 9 77 5 76 0 67 -6 77 -10 77 -13 67 -20 76 -22 68 -29 76 -35 77 -39 77 -39 67 -49 76 -47 67 -52 67 -65 77 -62 67 -67 67 -66 61 -74 62 -74 57 -73 53 -74 48 -84 50 -84 46 -84 40 -84 36 -85 32 -84 27 -73 19 -85 18 -73 13 -84 9 -74 4z"/>
<path fill="#7c83ff" d="M2756 4064l-74 5 -84 0 -84-4 -84-9 -84-13 -74-16 -84-22 -84-27 -74-27 -84-35 -84-40 -84-45 -85-50 -73-48 -74-53 -73-57 -74-62 -68-63 -67-67 -61-67 -57-68 -58-76 -52-76 -42-68 -43-76 -33-67 -33-77 -28-77 -23-76 -18-77 -13-77 -8-76 -2-67 2-77 7-77 10-67 15-67 21-77 22-67 31-76 31-67 40-77 45-77 51-76 49-68 53-67 59-67 63-67 65-63 69-61 68-56 73-56 74-51 84-53 84-48 74-38 84-39 73-30 85-30 84-26 73-19 85-17 84-12 73-7 74-3 84 0 74 5 84 9 84 14 84 19 74 20 84 27 84 32 84 37 84 41 74 40 84 51 74 48 73 54 74 57 74 64 67 62 66 68 60 67 56 67 57 76 46 67 48 77 42 77 37 76 31 77 24 67 23 77 17 77 11 67 8 76 2 67 -2 77 -7 77 -10 67 -15 67 -21 77 -22 67 -31 76 -31 67 -40 77 -45 77 -44 67 -49 67 -53 67 -57 67 -63 68 -63 62 -69 62 -68 57 -74 56 -73 52 -74 47 -74 44 -84 45 -84 40 -73 31 -74 28 -84 27 -74 20 -84 19 -84 14 -84 9z"/>
<path fill="#7e81ff" d="M2703 4045l-73 2 -85-3 -73-6 -84-11 -85-15 -84-21 -73-21 -84-29 -85-34 -73-33 -84-43 -74-41 -83-52 -75-51 -73-55 -70-57 -67-59 -68-66 -63-67 -58-67 -54-67 -55-77 -44-67 -44-76 -40-77 -30-67 -30-77 -25-77 -20-76 -13-67 -9-67 -6-77 -1-67 4-77 8-67 13-77 16-67 23-76 28-77 29-67 32-67 42-77 48-77 46-67 51-67 55-67 60-67 66-67 62-57 72-62 73-58 74-53 73-49 74-44 84-46 74-36 84-36 84-32 84-27 74-20 84-19 74-13 84-9 73-5 85-2 84 4 73 7 84 12 74 15 84 21 84 25 74 26 74 30 84 38 84 44 74 42 73 46 74 50 73 55 74 60 63 56 68 66 63 67 58 67 54 67 55 77 44 67 44 76 40 77 30 67 30 77 25 77 20 76 13 67 9 67 6 77 1 67 -4 77 -8 67 -13 77 -16 67 -23 76 -28 77 -29 67 -32 67 -42 77 -48 77 -46 67 -51 67 -55 67 -60 67 -63 64 -65 60 -67 58 -68 54 -73 54 -74 49 -84 51 -84 46 -74 36 -73 32 -85 32 -73 25 -84 24 -74 17 -84 15 -84 10 -74 6z"/>
<path fill="#807fff" d="M2787 4016l-73 6 -84 3 -85-3 -73-6 -74-9 -84-15 -84-20 -84-24 -84-29 -85-34 -84-39 -73-37 -74-42 -74-46 -73-50 -74-55 -73-60 -65-58 -69-67 -62-67 -58-67 -52-67 -48-67 -49-77 -44-77 -33-67 -30-67 -29-76 -25-77 -19-77 -12-67 -10-77 -4-67 0-76 4-67 10-77 12-67 19-77 21-67 29-77 34-76 33-67 38-67 42-68 47-67 51-67 56-67 61-67 67-67 62-57 69-58 69-54 74-52 73-48 74-43 74-40 73-35 84-36 85-32 73-23 84-23 74-16 84-14 74-8 84-6 84 0 74 3 84 8 73 11 85 17 84 21 73 23 74 26 84 35 74 34 84 43 74 42 73 47 74 51 73 55 74 61 63 58 63 62 59 63 58 67 52 67 48 67 49 77 44 77 33 67 30 67 29 76 25 77 19 77 12 67 10 77 4 67 0 76 -4 67 -10 77 -12 67 -19 77 -21 67 -25 67 -29 67 -37 77 -38 67 -41 67 -46 67 -50 67 -55 67 -61 67 -56 58 -62 59 -65 56 -72 57 -74 54 -73 49 -74 44 -74 41 -73 37 -84 37 -74 29 -84 28 -74 21 -84 20 -84 15 -74 9z"/>
<path fill="#827dff" d="M2766 3997l-73 5 -85 1 -73-3 -84-7 -74-11 -84-16 -84-21 -74-22 -73-26 -85-33 -73-34 -84-43 -74-42 -74-46 -73-51 -74-56 -67-56 -64-57 -59-58 -63-67 -57-67 -52-67 -54-76 -42-68 -43-76 -33-67 -30-67 -28-77 -24-77 -18-76 -12-67 -9-77 -4-67 1-77 4-67 9-67 13-67 19-77 21-67 28-77 34-76 34-67 38-67 42-68 47-67 51-67 57-67 61-66 63-63 63-57 64-53 73-56 74-52 73-47 74-42 74-39 84-39 73-30 74-27 84-26 84-22 74-15 74-11 73-8 74-4 84-1 74 3 84 9 73 11 85 16 84 22 73 22 74 27 84 34 84 39 74 39 74 42 73 47 74 52 73 56 68 57 63 58 59 58 63 68 55 65 51 67 47 67 48 77 37 67 38 77 32 77 25 67 20 67 18 76 12 67 9 77 4 67 -1 77 -4 67 -9 67 -13 67 -19 77 -21 67 -28 77 -34 76 -34 67 -38 67 -42 68 -47 67 -51 67 -55 65 -55 59 -61 62 -63 58 -63 53 -74 58 -73 52 -74 47 -74 43 -73 39 -74 36 -84 35 -74 28 -73 23 -74 20 -84 19 -84 14 -74 8z"/>
<path fill="#847bff" d="M2745 3978l-73 4 -85 0 -73-4 -84-9 -84-13 -74-15 -74-19 -84-27 -84-31 -74-31 -84-40 -73-39 -74-43 -74-48 -69-50 -67-53 -73-62 -62-57 -56-58 -60-67 -55-67 -50-67 -45-67 -41-67 -36-67 -37-77 -27-67 -27-77 -19-67 -17-77 -11-67 -8-76 -2-67 1-77 7-77 11-67 14-67 21-77 22-67 27-67 31-67 34-67 39-67 43-67 48-67 53-67 54-63 58-62 59-57 64-58 70-57 64-49 74-51 74-46 73-41 74-38 84-38 74-30 73-25 74-22 73-19 85-17 84-12 73-7 74-3 74 0 73 4 84 9 84 13 74 15 74 19 84 27 84 31 74 31 84 40 73 39 74 43 74 48 69 50 67 53 73 62 62 57 56 58 60 67 55 67 50 67 45 67 41 67 36 67 37 77 27 67 27 77 19 67 17 77 11 67 8 76 2 67 -1 77 -7 77 -11 67 -14 67 -21 77 -22 67 -27 67 -31 67 -34 67 -39 67 -43 67 -48 67 -53 67 -54 63 -58 62 -59 57 -64 58 -70 57 -64 49 -74 51 -74 46 -73 41 -74 38 -84 38 -74 30 -73 25 -74 22 -73 19 -85 17 -73 11 -74 7z"/>
<path fill="#8679ff" d="M2735 3959l-74 3 -84-1 -84-5 -74-8 -84-14 -74-16 -73-20 -74-23 -74-27 -84-35 -73-35 -74-39 -74-43 -73-48 -74-53 -63-49 -67-57 -62-58 -60-62 -56-63 -55-67 -50-67 -44-67 -41-67 -36-67 -32-67 -27-67 -27-77 -19-67 -17-77 -13-76 -6-67 -2-67 1-68 6-76 10-67 14-67 20-77 22-67 26-67 35-77 35-67 39-67 43-67 41-58 53-67 57-67 55-57 59-58 64-57 66-54 69-52 67-46 74-46 74-41 73-38 74-33 74-29 84-30 73-21 74-18 84-16 84-12 74-6 73-3 85 1 84 6 73 9 74 12 84 19 74 20 73 23 85 32 73 32 74 35 73 40 64 37 73 48 74 53 63 49 67 57 62 58 60 62 56 63 55 67 50 67 44 67 41 67 36 67 32 67 27 67 27 77 19 67 17 77 13 76 6 67 2 67 -1 68 -6 76 -10 67 -14 67 -20 77 -22 67 -26 67 -35 77 -35 67 -39 67 -43 67 -41 58 -53 67 -57 67 -55 57 -59 58 -64 57 -66 54 -69 52 -67 46 -74 46 -74 41 -73 38 -74 33 -74 29 -84 30 -73 21 -74 18 -84 16 -74 11 -73 7z"/>
<path fill="#8877ff" d="M2735 3939l-74 3 -84 0 -84-5 -74-9 -84-14 -74-16 -73-19 -74-23 -74-27 -73-31 -74-35 -73-39 -74-43 -74-47 -69-50 -67-52 -63-54 -64-59 -54-55 -60-67 -47-58 -50-67 -45-67 -41-67 -36-67 -32-67 -28-67 -27-77 -19-67 -17-77 -12-76 -6-67 -3-67 1-68 7-76 10-67 13-67 21-77 22-67 26-67 30-67 34-67 39-67 43-68 48-67 47-59 56-65 54-58 59-57 62-55 63-52 63-47 63-44 74-46 74-42 73-38 74-33 74-30 84-29 73-22 74-18 84-16 74-10 73-7 74-3 84 0 84 5 74 9 84 14 74 16 73 19 74 23 74 27 73 31 74 35 73 39 74 43 74 47 69 50 67 52 63 54 64 59 54 55 60 67 47 58 50 67 45 67 41 67 36 67 32 67 28 67 27 77 19 67 17 77 12 76 6 67 3 67 -1 68 -7 76 -10 67 -13 67 -21 77 -22 67 -26 67 -30 67 -34 67 -39 67 -43 68 -48 67 -47 59 -56 65 -54 58 -59 57 -62 55 -63 52 -63 47 -63 44 -74 46 -74 42 -73 38 -74 33 -74 30 -84 29 -73 22 -74 18 -84 16 -74 10 -73 7z"/>
<path fill="#8a75ff" d="M2735 3920l-74 3 -74 0 -84-4 -73-8 -74-12 -74-15 -73-18 -84-26 -85-31 -73-31 -74-34 -73-40 -63-36 -74-48 -74-52 -63-50 -63-54 -63-59 -59-60 -51-58 -48-58 -49-66 -45-67 -40-67 -36-68 -31-67 -27-67 -27-76 -18-67 -15-68 -12-76 -7-67 -2-67 1-68 7-76 9-67 14-67 18-67 21-68 26-67 29-67 34-67 39-67 42-67 41-57 52-68 58-67 54-57 59-58 58-51 63-51 67-51 69-47 74-45 63-36 74-37 73-33 74-29 74-26 73-22 74-18 84-16 74-10 73-7 74-3 74 0 84 4 73 8 74 12 74 15 73 18 84 26 85 31 73 31 74 34 73 40 63 36 74 48 74 52 63 50 63 54 63 59 59 60 51 58 48 58 49 66 45 67 40 67 36 68 31 67 27 67 27 76 18 67 15 68 12 76 7 67 2 67 -1 68 -7 76 -9 67 -14 67 -18 67 -21 68 -26 67 -29 67 -34 67 -39 67 -42 67 -41 57 -52 68 -58 67 -54 57 -59 58 -58 51 -63 51 -67 51 -69 47 -74 45 -63 36 -74 37 -73 33 -74 29 -74 26 -73 22 -74 18 -84 16 -74 10 -73 7z"/>
<path fill="#8c73ff" d="M2745 3901l-73 4 -74 0 -74-3 -84-8 -73-11 -85-17 -73-19 -74-22 -73-26 -74-30 -74-34 -73-38 -74-43 -63-40 -63-44 -69-53 -57-48 -64-57 -57-58 -53-57 -48-58 -51-67 -46-67 -41-67 -37-67 -32-67 -28-67 -27-77 -20-67 -15-67 -13-77 -7-67 -3-67 1-67 6-77 9-67 13-67 17-67 21-67 25-67 30-67 33-67 32-58 42-67 47-67 44-57 48-58 58-63 52-52 64-57 63-53 63-48 63-44 74-46 63-37 73-38 74-34 74-30 73-26 74-22 73-19 74-15 84-13 74-7 73-4 74 0 74 3 84 8 73 11 85 17 73 19 74 22 73 26 74 30 74 34 73 38 74 43 63 40 63 44 69 53 57 48 64 57 57 58 53 57 48 58 51 67 46 67 41 67 37 67 32 67 28 67 27 77 20 67 15 67 13 77 7 67 3 67 -1 67 -6 77 -9 67 -13 67 -17 67 -21 67 -25 67 -30 67 -33 67 -32 58 -42 67 -47 67 -44 57 -48 58 -58 63 -52 52 -64 57 -63 53 -63 48 -63 44 -74 46 -63 37 -73 38 -74 34 -74 30 -73 26 -74 22 -73 19 -74 15 -84 13 -74 7z"/>
<path fill="#8e71ff" d="M2756 3882l-74 4 -74 1 -73-3 -84-7 -74-11 -74-14 -73-17 -74-22 -73-25 -74-29 -74-33 -63-32 -73-41 -64-38 -72-50 -64-48 -63-51 -60-54 -59-58 -53-57 -49-58 -52-67 -40-57 -42-67 -37-67 -34-67 -28-68 -25-67 -21-67 -18-76 -12-67 -8-68 -4-67 0-76 4-67 8-68 12-67 16-67 20-67 24-67 28-67 33-67 36-67 36-58 45-67 44-57 47-58 52-57 57-58 59-54 60-51 61-48 68-48 63-40 63-38 74-39 73-34 74-31 74-27 73-23 74-19 74-16 73-12 74-8 73-5 74-1 74 2 84 7 73 10 74 13 74 18 73 21 74 24 74 29 73 32 74 37 73 41 64 38 72 50 64 48 63 51 60 54 59 58 53 57 49 58 52 67 40 57 42 67 37 67 34 67 28 68 25 67 21 67 18 76 12 67 8 68 4 67 0 76 -4 67 -8 68 -12 67 -16 67 -20 67 -24 67 -28 67 -33 67 -36 67 -36 58 -45 67 -44 57 -47 58 -52 57 -57 58 -59 54 -63 54 -63 48 -63 45 -74 47 -63 36 -73 39 -74 34 -74 30 -73 26 -74 23 -73 19 -74 15 -74 11 -73 8z"/>
<path fill="#906fff" d="M2777 3863l-74 5 -84 2 -74-3 -73-5 -74-10 -74-13 -73-17 -74-20 -73-24 -74-28 -63-28 -74-35 -73-40 -63-38 -74-49 -63-47 -63-51 -57-50 -60-58 -54-57 -50-59 -52-66 -40-57 -43-67 -37-67 -34-67 -29-68 -24-67 -21-67 -17-67 -12-67 -9-67 -5-67 -1-67 3-67 7-67 11-67 15-68 19-67 23-67 27-67 32-67 36-67 34-57 38-58 47-65 49-60 46-52 52-55 59-55 57-50 63-50 63-46 64-42 63-38 73-40 74-35 63-28 74-28 73-24 74-20 73-17 74-13 74-10 73-5 74-3 84 2 74 5 73 9 74 13 74 16 73 20 74 24 74 27 73 32 74 35 73 40 63 38 66 44 66 48 60 48 61 53 54 52 55 58 51 57 53 67 41 58 43 67 38 67 34 67 30 67 25 67 21 67 20 77 12 67 9 67 5 67 1 67 -3 67 -7 67 -11 67 -15 68 -19 67 -23 67 -27 67 -32 67 -36 67 -34 57 -45 68 -42 57 -47 58 -50 57 -56 58 -56 51 -62 54 -61 48 -66 47 -63 41 -63 38 -74 39 -63 30 -73 32 -74 27 -74 24 -73 20 -74 16 -74 13 -73 9z"/>
<path fill="#926dff" d="M2798 3843l-74 7 -73 2 -74 0 -74-5 -73-8 -74-11 -74-15 -73-19 -74-23 -73-27 -74-30 -63-30 -74-38 -63-37 -69-44 -67-48 -64-49 -63-55 -52-49 -56-58 -51-57 -46-58 -43-57 -44-67 -39-67 -31-58 -31-67 -26-67 -23-67 -18-67 -15-67 -10-67 -6-67 -3-67 1-68 6-67 9-67 11-57 17-67 21-67 24-67 30-68 33-67 32-57 43-67 40-58 44-57 49-58 50-54 53-52 62-57 58-48 58-43 63-44 64-40 73-41 74-38 63-28 74-29 73-26 74-21 73-18 64-13 73-11 74-7 73-4 85 0 73 4 74 7 73 11 74 15 74 18 73 22 74 26 74 30 73 35 74 38 63 37 63 40 63 44 63 49 63 53 53 49 57 58 52 57 47 58 44 59 44 66 35 57 36 67 31 67 28 67 23 67 19 67 17 77 10 67 6 67 3 67 -1 68 -6 67 -9 67 -13 67 -18 67 -21 67 -25 67 -30 67 -29 58 -38 67 -43 67 -41 57 -45 58 -49 57 -52 56 -53 51 -53 47 -63 52 -63 47 -63 43 -64 40 -73 40 -63 32 -73 33 -74 28 -74 25 -73 21 -74 18 -74 13 -73 10z"/>
<path fill="#946bff" d="M2703 3834l-73 2 -74-2 -74-5 -73-9 -74-13 -74-16 -73-20 -63-21 -74-27 -74-31 -73-36 -63-34 -63-38 -64-41 -63-46 -63-50 -62-54 -50-48 -55-58 -50-57 -46-58 -41-57 -37-58 -39-67 -35-67 -26-57 -26-67 -22-68 -18-67 -14-67 -10-67 -6-67 -2-67 2-67 6-67 10-67 14-67 18-67 22-68 22-57 30-67 29-58 33-57 43-67 47-67 46-58 50-57 52-55 52-50 55-49 61-48 63-47 63-42 63-38 74-40 63-31 63-28 74-28 73-24 74-21 73-17 74-13 74-10 73-5 74-3 74 2 73 4 74 9 73 12 74 16 74 19 73 24 74 27 63 27 63 29 74 39 73 44 64 41 63 46 59 47 56 48 60 57 55 58 50 57 46 58 41 57 37 58 39 67 35 67 26 57 26 67 22 68 18 67 14 67 10 67 6 67 2 67 -2 67 -6 67 -10 67 -14 67 -18 67 -22 68 -22 57 -30 67 -35 67 -39 67 -37 58 -41 57 -46 58 -50 57 -55 58 -50 48 -62 54 -63 50 -63 46 -64 41 -63 38 -63 34 -73 36 -74 31 -63 24 -74 24 -73 20 -74 16 -74 13 -73 9 -74 5z"/>
<path fill="#9669ff" d="M2745 3815l-73 4 -74 0 -74-3 -73-7 -74-11 -74-14 -63-15 -73-22 -74-25 -63-25 -74-32 -63-32 -63-35 -63-39 -63-42 -64-48 -58-48 -57-50 -56-55 -53-57 -48-58 -44-57 -40-58 -41-67 -37-67 -28-58 -24-57 -25-67 -20-67 -16-67 -13-67 -8-68 -4-57 0-67 3-67 7-67 11-67 12-58 19-67 23-67 27-67 26-58 30-57 40-67 44-67 43-58 47-57 51-58 53-54 56-51 60-51 58-45 57-41 64-40 63-37 73-38 63-30 74-30 74-27 63-19 73-19 64-14 73-12 74-8 73-5 74-1 74 2 73 6 74 9 74 14 73 17 74 20 73 25 64 24 63 28 73 35 74 41 63 39 63 42 63 47 59 49 57 50 56 55 49 53 44 52 45 58 40 57 43 67 32 58 33 67 29 67 25 67 20 67 16 67 13 67 8 68 4 67 0 67 -3 67 -8 67 -12 67 -15 67 -17 58 -23 67 -28 67 -27 57 -36 67 -35 58 -38 57 -43 58 -47 57 -51 58 -53 54 -56 51 -60 51 -63 49 -63 44 -63 40 -63 36 -74 38 -73 33 -64 25 -63 23 -73 22 -74 19 -74 14 -73 11 -74 8z"/>
<path fill="#9867ff" d="M2777 3796l-74 6 -73 1 -74-1 -74-6 -73-9 -74-13 -63-14 -74-19 -73-24 -63-23 -64-27 -73-35 -63-34 -63-37 -64-41 -63-45 -63-50 -52-46 -57-53 -49-51 -47-55 -46-57 -42-58 -43-67 -38-67 -30-57 -29-68 -26-67 -21-67 -17-67 -12-67 -8-57 -6-67 -1-68 3-67 5-57 10-67 14-67 15-58 22-67 26-67 25-58 30-57 38-67 37-58 41-57 45-58 45-52 50-53 49-48 54-48 59-48 61-46 64-42 63-38 63-35 73-37 63-27 74-28 63-21 63-18 74-18 74-14 73-10 74-6 73-3 74 1 74 4 73 8 74 12 74 15 63 16 73 23 74 26 74 31 63 30 73 39 63 37 64 41 57 41 58 46 59 50 57 54 53 54 47 55 46 57 42 58 43 67 38 67 30 57 29 68 26 67 21 67 17 67 12 67 8 57 6 67 1 68 -3 67 -5 57 -10 67 -14 67 -15 58 -22 67 -26 67 -25 58 -30 57 -38 67 -37 58 -41 57 -45 58 -50 57 -54 58 -51 48 -54 47 -57 46 -63 46 -63 42 -63 38 -63 34 -63 31 -74 31 -74 28 -73 24 -74 19 -63 14 -74 13 -73 9z"/>
<path fill="#9a65ff" d="M2703 3786l-63 2 -74-2 -73-5 -74-8 -73-12 -74-16 -74-20 -63-21 -73-27 -64-27 -73-35 -63-34 -63-37 -64-42 -58-42 -57-46 -53-46 -55-52 -50-52 -46-53 -46-58 -41-57 -38-58 -38-67 -30-57 -30-68 -22-57 -21-67 -18-67 -12-58 -10-67 -6-67 -2-57 2-68 5-67 9-67 14-67 18-67 21-67 22-57 30-68 30-57 33-58 36-57 41-58 45-57 49-58 47-49 53-51 52-46 63-51 58-42 69-46 63-37 63-34 63-31 63-27 74-28 63-20 73-21 74-16 63-12 74-9 73-6 74-3 63 1 74 5 73 8 74 11 63 14 74 18 73 23 63 23 74 30 74 34 63 34 63 37 63 41 63 45 54 43 56 47 51 48 56 58 46 52 50 63 41 57 38 58 33 57 30 58 31 67 26 67 21 67 18 67 12 58 10 67 6 67 2 57 -2 68 -5 67 -9 67 -14 67 -18 67 -21 67 -22 57 -30 68 -30 57 -38 67 -38 58 -41 57 -46 58 -46 53 -50 52 -50 48 -58 50 -57 46 -58 42 -64 42 -63 37 -63 34 -73 35 -64 27 -73 27 -63 21 -74 20 -74 16 -63 10 -73 9 -74 6z"/>
<path fill="#9c63ff" d="M2756 3767l-74 4 -74 1 -63-2 -73-6 -74-10 -74-13 -73-17 -63-18 -63-21 -74-28 -63-28 -63-30 -63-35 -63-38 -64-42 -59-43 -56-46 -53-47 -52-51 -46-48 -50-58 -44-57 -41-58 -36-57 -33-58 -33-67 -25-57 -25-67 -21-67 -16-67 -13-67 -7-58 -5-67 -1-67 3-58 6-67 11-67 12-57 19-67 19-58 26-67 26-58 35-67 34-57 37-58 42-57 41-52 48-54 47-49 53-50 52-46 63-50 53-37 63-42 63-37 63-34 63-30 74-31 74-27 63-20 73-19 64-14 63-11 73-9 74-6 74-1 73 1 63 5 74 9 73 12 64 14 73 19 63 20 74 27 74 31 63 30 63 34 63 37 63 42 63 45 54 44 55 48 50 48 55 57 50 58 44 57 41 58 36 57 33 58 33 67 25 57 25 67 21 67 16 67 13 67 7 58 5 67 1 67 -3 58 -6 67 -11 67 -15 67 -19 67 -19 58 -23 57 -31 67 -30 58 -34 57 -37 58 -42 57 -46 58 -48 53 -50 52 -51 48 -56 48 -53 42 -64 45 -63 40 -63 37 -63 33 -63 30 -74 30 -63 23 -73 23 -74 19 -74 15 -73 11 -63 7z"/>
<path fill="#9e61ff" d="M2661 3757l-74 0 -73-4 -74-8 -63-9 -63-13 -74-18 -73-21 -63-22 -64-25 -73-34 -63-32 -63-36 -59-37 -57-39 -62-47 -54-45 -52-49 -50-50 -45-49 -47-56 -43-58 -38-57 -35-58 -31-57 -32-67 -23-58 -21-57 -19-67 -14-58 -12-67 -7-67 -4-67 0-67 4-58 7-67 10-57 16-68 16-57 24-67 23-58 32-67 31-57 35-58 38-57 43-58 47-56 45-49 50-50 52-49 63-52 54-41 62-42 63-39 63-36 63-31 63-29 74-29 63-21 63-18 74-18 63-13 74-10 63-7 73-4 74 0 74 3 73 8 63 9 74 14 63 15 74 21 63 21 74 29 63 29 63 31 63 36 63 39 62 42 54 41 55 45 53 48 57 58 45 49 47 56 43 58 38 57 35 58 31 57 32 67 23 58 21 57 19 67 14 58 12 67 7 67 4 67 0 67 -4 67 -9 68 -10 57 -14 58 -19 67 -24 67 -24 57 -28 58 -36 67 -36 57 -39 58 -41 53 -43 52 -52 56 -49 50 -53 48 -55 45 -54 41 -62 42 -63 39 -63 36 -63 31 -63 29 -74 29 -63 21 -63 18 -74 18 -63 13 -74 10 -73 8 -74 3z"/>
<path fill="#a05fff" d="M2745 3738l-63 4 -74 0 -63-2 -73-6 -74-10 -63-11 -74-17 -63-18 -73-24 -63-24 -64-28 -63-30 -63-35 -63-38 -58-39 -58-42 -54-44 -54-48 -49-49 -53-56 -42-50 -43-56 -40-58 -36-57 -32-58 -28-57 -25-58 -25-67 -20-67 -16-67 -12-67 -7-58 -4-57 -1-67 2-58 7-67 11-67 12-57 19-67 19-58 27-67 26-58 30-57 34-58 38-57 42-58 39-47 46-53 51-53 51-48 56-47 52-42 53-37 63-41 63-37 63-33 63-30 64-26 73-27 63-20 74-19 63-13 63-10 74-9 73-5 64-2 73 2 74 6 73 9 63 11 64 14 73 20 74 23 63 24 63 27 63 30 63 34 63 37 63 42 58 43 58 46 53 47 52 50 45 48 49 58 44 57 40 58 36 57 32 58 28 57 25 58 25 67 20 67 16 67 12 67 7 58 4 57 1 67 -2 58 -7 67 -11 67 -12 57 -19 67 -19 58 -27 67 -26 58 -30 57 -34 58 -38 57 -42 58 -43 53 -46 52 -49 49 -52 50 -53 45 -62 48 -55 38 -62 40 -63 36 -63 32 -63 30 -63 25 -63 23 -74 23 -73 18 -74 15 -74 11 -63 6z"/>
<path fill="#a25dff" d="M2787 3720l-63 5 -73 3 -74-1 -63-3 -74-8 -63-10 -63-12 -74-18 -63-19 -73-26 -64-25 -63-29 -63-32 -63-36 -62-40 -54-37 -52-41 -56-46 -52-48 -50-51 -49-55 -39-47 -42-58 -38-57 -34-58 -31-57 -27-58 -26-67 -23-67 -16-58 -14-67 -9-57 -6-58 -3-67 1-67 4-57 8-68 11-57 13-58 20-67 21-57 24-58 27-57 31-58 35-57 39-58 39-52 44-53 43-48 50-50 52-48 53-44 52-41 64-43 52-34 63-36 63-32 63-29 64-25 63-22 73-23 63-15 64-13 73-12 74-8 63-3 74-1 73 3 63 5 74 10 74 14 63 15 63 18 73 24 63 24 64 28 63 31 63 35 63 39 63 43 53 39 55 46 53 48 49 49 43 46 48 58 43 57 39 58 35 57 31 58 27 57 28 67 20 58 19 67 15 67 11 67 6 58 3 67 -1 67 -4 57 -8 68 -11 57 -13 58 -20 67 -21 57 -28 67 -28 58 -31 57 -36 58 -39 57 -43 56 -42 50 -44 48 -51 50 -53 48 -56 45 -60 45 -52 35 -63 39 -63 35 -63 31 -64 28 -63 24 -73 24 -74 21 -63 14 -74 13 -63 9z"/>
<path fill="#a45bff" d="M2745 3709l-63 4 -74 1 -63-3 -73-6 -74-10 -63-11 -74-17 -63-18 -63-21 -73-28 -64-28 -63-32 -63-35 -52-32 -53-36 -60-44 -56-46 -52-47 -52-51 -43-47 -42-50 -42-55 -34-49 -36-58 -32-57 -28-58 -24-57 -25-67 -17-58 -17-67 -12-67 -7-58 -4-57 -1-67 3-58 7-67 10-67 13-57 16-58 19-57 22-58 26-57 30-58 33-57 30-48 41-58 46-57 41-48 46-48 50-48 55-48 54-43 53-38 63-41 63-37 52-28 63-30 64-27 73-27 63-20 63-17 64-14 63-11 73-9 74-6 63-2 74 1 63 5 63 6 73 12 74 15 63 17 74 23 63 23 63 26 63 30 63 33 63 37 63 41 53 38 54 43 55 48 50 48 51 54 44 51 45 58 40 57 36 58 32 57 28 58 24 57 25 67 17 58 17 67 12 67 7 58 4 57 1 67 -3 58 -7 67 -10 67 -13 57 -19 67 -20 58 -23 57 -31 68 -30 57 -35 58 -38 57 -36 48 -39 48 -49 55 -49 50 -52 48 -56 47 -52 39 -55 39 -61 38 -53 31 -63 33 -63 29 -64 25 -63 23 -73 22 -63 16 -74 15 -74 11 -63 6z"/>
<path fill="#a659ff" d="M2661 3700l-63 0 -74-4 -73-7 -63-9 -74-15 -63-15 -63-19 -63-21 -63-25 -64-28 -63-32 -63-36 -62-39 -53-37 -53-40 -53-44 -52-48 -51-51 -43-48 -43-53 -39-53 -38-57 -35-58 -30-57 -27-58 -23-57 -22-67 -16-58 -15-67 -9-57 -6-58 -3-57 0-58 4-67 8-67 10-57 16-68 17-57 20-58 24-57 27-58 31-57 35-58 32-47 39-53 43-53 43-48 51-51 52-48 53-44 53-40 52-37 53-33 63-36 63-33 63-28 63-26 63-22 63-19 74-18 63-13 74-11 63-6 73-4 64-1 73 3 63 6 74 10 74 14 63 15 63 18 63 21 63 24 63 27 63 32 63 34 58 36 58 39 53 40 56 46 53 48 48 48 44 48 47 57 36 48 39 57 35 58 31 57 27 58 24 57 20 58 20 67 15 67 10 58 6 57 4 67 0 58 -4 67 -8 67 -10 57 -16 68 -17 57 -20 58 -24 57 -27 58 -31 57 -35 58 -39 57 -43 57 -40 48 -44 48 -48 48 -53 48 -56 46 -53 40 -58 39 -58 36 -63 34 -63 32 -63 27 -63 24 -63 21 -74 21 -63 15 -74 13 -63 8 -63 6 -63 3z"/>
<path fill="#a857ff" d="M2756 3681l-63 4 -74 1 -74-2 -63-5 -73-10 -63-11 -64-14 -63-17 -63-20 -63-24 -63-27 -63-30 -63-34 -55-32 -58-39 -56-40 -52-42 -48-42 -50-48 -45-48 -41-48 -45-57 -40-58 -31-48 -32-57 -29-58 -25-57 -21-58 -19-57 -17-67 -13-67 -7-58 -5-57 -1-68 2-57 5-58 8-57 13-67 15-58 19-57 21-58 25-57 29-58 32-57 31-48 40-58 37-48 45-52 42-45 47-46 47-43 54-44 52-38 63-42 52-32 63-35 63-31 64-27 63-24 63-21 63-17 63-15 63-12 74-10 73-6 63-2 74 1 63 3 63 7 74 11 63 13 63 15 63 19 74 26 63 25 63 29 63 33 60 35 56 35 58 41 58 46 47 41 51 47 49 51 42 48 43 55 41 57 37 58 32 57 29 58 25 57 21 58 19 57 17 67 13 67 7 58 5 57 1 68 -2 67 -6 57 -10 67 -13 58 -15 57 -19 58 -22 57 -26 58 -29 57 -33 58 -37 57 -36 50 -42 53 -45 51 -46 48 -46 43 -52 45 -53 42 -53 37 -63 41 -63 37 -52 28 -63 29 -64 26 -63 23 -63 20 -63 16 -74 16 -73 12 -63 7z"/>
<path fill="#aa55ff" d="M2703 3671l-63 2 -63-1 -74-5 -63-7 -73-12 -64-13 -63-16 -63-19 -63-23 -63-26 -63-29 -63-33 -63-37 -53-34 -52-38 -53-41 -53-45 -47-45 -46-48 -43-50 -42-53 -37-50 -37-58 -32-57 -29-58 -26-57 -21-58 -19-57 -15-58 -12-57 -10-67 -5-58 -2-57 1-58 5-67 8-58 13-67 15-57 17-58 22-57 24-58 29-57 32-58 30-48 38-55 38-50 41-48 44-48 49-48 49-43 52-43 53-39 56-38 60-36 52-29 63-31 64-28 63-24 63-21 63-17 63-15 63-12 74-10 63-6 73-3 64 1 73 4 63 6 74 12 63 12 63 16 63 19 63 22 63 25 64 29 63 32 60 35 55 35 53 37 53 40 52 45 48 44 47 48 43 48 41 51 40 55 38 57 33 58 30 57 26 58 22 57 19 58 18 67 12 57 10 67 5 58 2 57 -1 58 -5 67 -8 58 -13 67 -15 57 -17 58 -22 57 -24 58 -29 57 -32 58 -36 57 -41 58 -37 48 -41 47 -46 48 -49 48 -49 43 -53 42 -55 40 -58 38 -55 33 -63 34 -63 30 -64 26 -63 23 -63 20 -63 17 -63 13 -63 11 -74 9 -63 5z"/>
<path fill="#ac53ff" d="M2777 3652l-63 5 -63 2 -74 0 -63-4 -74-8 -63-10 -63-13 -63-16 -63-19 -63-22 -63-25 -64-29 -63-33 -52-30 -53-34 -52-36 -53-41 -53-44 -49-46 -45-46 -45-50 -38-48 -36-48 -38-57 -28-48 -31-58 -26-57 -23-58 -20-57 -16-58 -13-57 -12-67 -6-58 -3-57 0-67 4-58 7-57 10-58 13-57 16-58 20-57 23-58 26-57 26-48 33-58 32-48 41-56 39-49 43-48 47-48 49-46 53-44 53-41 52-36 54-34 62-36 52-27 64-29 63-25 63-22 63-19 63-16 63-13 63-10 74-8 63-4 74 0 63 2 63 5 63 8 73 13 64 14 63 18 63 20 63 24 63 27 63 31 53 29 61 37 54 36 53 39 53 43 50 45 49 48 44 48 46 55 38 50 39 58 34 57 31 58 26 57 23 58 20 57 16 58 13 57 12 67 6 58 3 57 0 67 -4 58 -8 67 -11 57 -13 58 -17 57 -20 58 -24 57 -27 58 -31 57 -36 58 -32 48 -44 57 -40 48 -44 48 -49 48 -50 45 -51 41 -55 41 -52 35 -53 32 -63 35 -63 31 -63 27 -63 24 -63 20 -63 18 -64 14 -73 13 -63 8z"/>
<path fill="#ae51ff" d="M2735 3643l-63 3 -74 0 -63-3 -63-5 -63-9 -63-11 -64-15 -63-17 -63-21 -63-24 -63-27 -53-26 -63-35 -52-31 -53-36 -56-41 -49-40 -53-47 -48-47 -44-48 -40-48 -36-48 -34-48 -35-58 -32-57 -27-58 -24-57 -20-58 -17-57 -14-58 -10-57 -8-58 -4-57 -1-58 2-57 6-67 9-58 12-57 16-58 18-57 22-58 26-57 24-48 33-58 37-57 35-48 38-48 41-48 44-46 42-40 52-46 53-42 53-38 52-34 53-32 63-33 63-30 53-22 63-24 63-20 63-17 63-14 63-11 74-9 73-5 64-2 63 2 63 4 63 7 73 12 64 14 63 16 63 20 63 23 63 26 63 30 63 33 53 32 52 34 53 38 53 42 52 46 42 40 44 46 41 48 45 58 34 47 36 58 33 57 28 58 24 57 21 58 18 57 14 58 12 67 8 58 4 57 1 58 -2 57 -6 67 -11 67 -13 58 -16 57 -19 58 -23 57 -26 58 -30 57 -28 48 -38 58 -35 48 -39 48 -45 51 -44 44 -51 48 -52 44 -53 40 -53 37 -52 33 -53 30 -63 33 -63 28 -63 25 -63 22 -63 19 -63 15 -64 13 -73 11 -63 6z"/>
<path fill="#b04fff" d="M2693 3632l-63 2 -74-2 -63-5 -63-8 -63-10 -64-14 -63-16 -63-20 -63-23 -63-27 -53-25 -63-33 -52-31 -57-37 -48-35 -53-42 -44-38 -51-48 -45-48 -39-44 -40-52 -34-47 -37-58 -27-48 -29-57 -26-58 -22-57 -18-58 -15-57 -11-58 -9-57 -5-58 -2-57 1-58 5-67 8-58 11-57 15-58 17-57 21-58 25-57 28-58 33-57 30-48 34-48 37-48 40-48 44-47 42-41 52-47 53-42 53-38 52-35 53-32 52-29 63-31 64-27 52-20 63-21 63-17 64-15 63-11 73-10 63-5 63-3 64 1 73 4 63 7 63 9 64 13 63 15 63 19 63 22 63 25 63 29 53 27 63 37 52 33 53 37 51 40 46 38 51 48 47 48 42 48 38 48 41 57 37 58 27 48 29 57 26 58 22 57 18 58 15 57 11 58 9 57 5 58 2 57 -1 58 -5 67 -8 58 -11 57 -15 58 -17 57 -21 58 -25 57 -28 58 -33 57 -30 48 -39 55 -39 50 -42 48 -45 48 -51 48 -44 38 -53 42 -52 38 -55 35 -61 36 -52 27 -64 30 -63 26 -63 22 -63 20 -63 16 -63 13 -63 10 -63 7 -63 4z"/>
<path fill="#b24dff" d="M2777 3613l-63 6 -63 2 -64 0 -63-4 -63-6 -63-9 -63-12 -63-15 -63-19 -63-21 -63-25 -53-24 -63-32 -53-29 -52-33 -55-38 -50-38 -47-38 -48-44 -42-43 -44-47 -39-48 -36-48 -39-58 -29-48 -30-57 -27-58 -23-57 -20-58 -16-57 -13-58 -9-57 -7-58 -3-57 0-58 3-57 7-58 9-57 13-58 16-57 20-58 23-57 27-58 25-48 28-48 38-57 35-48 38-47 42-47 42-43 48-45 47-40 53-40 49-35 56-35 52-31 53-27 63-29 63-26 53-18 63-20 63-16 63-13 63-10 63-8 63-4 74-1 63 2 63 4 74 10 63 11 63 14 63 17 63 21 53 19 63 27 63 31 53 28 57 35 57 38 52 38 47 39 50 44 43 42 44 48 41 48 36 48 40 57 29 48 32 58 27 57 24 58 20 57 17 58 13 57 11 67 7 58 3 57 -1 67 -3 58 -7 57 -10 58 -13 57 -17 58 -20 57 -24 58 -27 57 -26 48 -35 58 -33 48 -36 48 -41 49 -42 46 -48 48 -46 42 -53 43 -53 39 -52 36 -53 32 -63 34 -52 26 -64 27 -63 24 -63 21 -63 17 -63 14 -63 11 -63 8z"/>
<path fill="#b44bff" d="M2745 3604l-63 4 -63 1 -63-2 -63-5 -63-8 -63-10 -64-14 -63-17 -63-20 -63-24 -63-27 -53-25 -52-28 -53-31 -52-35 -53-38 -47-38 -48-41 -47-45 -45-48 -41-48 -37-48 -33-48 -36-57 -27-48 -28-58 -25-57 -21-58 -14-47 -15-58 -11-57 -8-58 -5-57 -2-58 2-58 5-57 8-58 11-57 15-58 14-47 21-58 20-48 28-57 26-48 35-57 33-49 37-48 40-48 44-47 46-45 46-42 47-38 54-40 53-35 52-32 53-29 52-25 64-28 52-20 63-22 63-18 64-14 63-12 63-9 63-6 63-3 74 1 63 3 63 6 63 10 63 12 63 15 63 19 63 21 63 26 53 23 63 32 53 31 52 33 53 36 52 41 50 41 45 43 43 44 43 48 38 48 35 47 38 58 28 48 29 57 26 58 22 57 19 58 15 57 13 67 8 58 5 57 2 58 -2 58 -5 57 -8 58 -11 57 -15 58 -17 57 -22 58 -25 57 -29 58 -27 47 -37 58 -34 48 -38 48 -42 48 -41 43 -46 43 -49 43 -53 41 -52 37 -53 34 -52 31 -63 32 -53 25 -63 26 -63 22 -63 19 -63 16 -64 13 -63 9 -63 7z"/>
<path fill="#b649ff" d="M2714 3594l-63 3 -64-1 -63-3 -63-7 -63-9 -63-12 -63-16 -53-15 -63-21 -52-21 -64-28 -52-26 -63-35 -53-33 -52-37 -48-36 -47-39 -51-47 -44-44 -38-43 -39-48 -35-47 -32-48 -34-58 -25-48 -27-57 -19-48 -20-58 -17-57 -13-58 -9-57 -7-58 -3-57 0-58 3-57 7-58 9-57 13-58 17-57 16-48 19-48 26-58 25-48 33-57 38-58 35-47 39-48 38-43 44-44 51-47 47-39 48-36 52-37 53-33 52-29 53-27 53-24 63-26 63-22 63-18 63-16 63-12 63-9 53-6 63-4 63-1 63 2 63 5 63 8 63 11 64 14 63 17 63 20 63 24 52 22 64 31 63 34 52 32 53 36 46 35 49 39 51 47 43 42 40 44 40 48 36 48 33 48 35 57 30 58 23 48 23 57 20 58 17 57 13 58 9 57 7 58 3 57 0 58 -3 57 -7 58 -9 57 -13 58 -17 57 -20 58 -23 57 -23 48 -30 58 -29 48 -39 57 -36 48 -40 48 -40 44 -43 42 -51 47 -49 39 -46 35 -53 36 -52 32 -53 29 -63 31 -53 23 -63 24 -63 21 -63 18 -63 14 -63 11 -63 9 -63 5z"/>
<path fill="#b847ff" d="M2651 3585l-64-1 -63-3 -63-7 -63-9 -63-13 -63-15 -53-15 -63-22 -63-25 -53-24 -63-32 -52-30 -53-33 -52-37 -53-41 -42-36 -44-41 -47-48 -42-48 -35-44 -37-52 -31-48 -33-57 -25-48 -25-57 -19-48 -19-58 -15-57 -12-58 -9-57 -4-48 -3-58 1-57 3-58 7-57 11-58 13-57 17-58 17-48 24-57 28-58 26-48 29-48 32-48 36-47 39-48 43-47 42-42 42-38 53-44 53-39 52-35 53-32 52-29 53-26 63-28 53-20 63-21 63-17 63-15 63-11 63-9 53-4 63-3 63 0 63 3 63 5 63 9 63 12 64 15 63 18 52 18 53 20 63 28 63 31 53 30 52 33 53 36 51 39 46 38 42 38 48 48 43 48 39 48 35 48 31 48 29 48 30 57 22 48 23 58 20 57 16 58 12 57 9 58 6 57 3 58 -1 57 -3 58 -7 57 -11 58 -13 57 -17 58 -17 48 -24 57 -28 58 -26 48 -35 57 -33 48 -36 48 -41 48 -45 48 -39 38 -45 40 -53 43 -52 38 -49 33 -56 33 -53 28 -63 31 -53 22 -63 23 -52 17 -63 17 -64 14 -63 11 -63 8 -52 4 -63 3z"/>
<path fill="#ba45ff" d="M2766 3566l-63 5 -63 2 -63-1 -63-4 -63-7 -63-10 -53-11 -63-15 -63-19 -53-19 -63-25 -53-24 -52-27 -53-30 -52-33 -53-36 -52-41 -43-35 -42-39 -42-44 -43-48 -39-48 -35-48 -31-48 -28-47 -30-58 -22-48 -22-57 -16-48 -16-58 -13-57 -9-58 -5-48 -4-57 0-58 4-57 6-58 10-57 13-58 14-48 19-57 19-48 27-58 25-48 28-47 31-48 35-48 39-48 43-48 42-44 47-42 46-39 44-34 53-36 52-33 53-30 52-27 53-24 53-21 63-23 52-16 63-16 64-13 63-10 63-7 63-4 63-1 63 2 63 5 63 8 63 11 64 14 63 17 52 17 63 24 53 22 63 31 53 28 52 32 53 35 52 39 48 39 47 42 44 44 44 48 38 47 37 49 32 48 29 48 30 57 23 48 23 58 19 57 16 58 13 57 9 58 6 57 3 58 -1 57 -3 58 -7 57 -11 58 -14 57 -14 48 -16 48 -23 58 -28 57 -25 48 -35 57 -33 49 -36 47 -40 48 -45 48 -45 45 -48 42 -47 37 -53 38 -52 35 -53 31 -52 28 -53 25 -63 26 -63 23 -53 17 -52 14 -64 14 -63 11 -63 8z"/>
<path fill="#bc43ff" d="M2745 3556l-63 4 -63 1 -63-2 -53-4 -63-7 -63-11 -63-13 -53-14 -52-16 -63-23 -63-26 -53-25 -53-28 -52-30 -53-35 -52-37 -51-41 -44-38 -42-41 -43-46 -41-48 -36-47 -33-48 -30-48 -27-48 -23-48 -25-58 -18-48 -15-47 -15-58 -12-57 -8-58 -4-48 -2-57 1-58 4-57 8-58 11-57 12-48 17-58 21-57 20-48 23-48 26-48 29-48 33-48 36-48 40-48 40-44 42-42 44-38 46-39 47-35 53-35 52-32 53-29 53-26 52-23 63-25 53-17 52-16 64-15 63-12 63-9 63-6 63-3 63 0 63 3 63 6 63 9 63 12 53 13 53 14 63 21 63 25 52 23 64 31 52 30 53 32 52 37 49 37 46 39 42 39 46 46 43 48 37 47 36 49 31 48 33 58 24 48 21 47 23 58 18 57 15 58 12 57 8 58 5 57 1 58 -1 58 -5 57 -8 58 -12 57 -15 58 -15 47 -18 48 -25 58 -28 57 -28 48 -30 48 -34 48 -37 48 -42 48 -44 46 -42 40 -45 39 -50 38 -53 38 -52 33 -53 30 -52 27 -64 29 -52 21 -53 19 -63 19 -63 16 -53 10 -63 10 -63 7z"/>
<path fill="#be41ff" d="M2724 3546l-52 3 -64 1 -63-3 -63-5 -63-9 -52-9 -53-12 -63-17 -63-21 -53-19 -52-23 -53-25 -53-28 -52-31 -53-34 -52-39 -45-36 -43-38 -40-38 -45-48 -40-48 -37-48 -32-48 -30-48 -31-57 -23-48 -20-48 -20-58 -17-57 -12-48 -10-58 -7-57 -4-48 -1-58 2-57 6-58 9-57 10-48 15-58 15-47 18-48 25-58 29-57 28-48 30-48 35-48 35-45 36-41 37-40 42-40 43-37 52-42 53-38 52-33 53-31 52-28 53-24 63-26 53-19 63-19 52-13 64-14 63-10 52-6 63-4 64-2 52 1 63 4 63 7 63 10 64 14 52 13 63 19 53 19 63 26 53 24 52 28 53 31 52 33 53 38 52 42 43 37 43 41 45 48 40 48 37 48 32 48 30 48 31 57 23 48 20 48 20 58 17 57 12 48 10 58 7 57 4 48 1 58 -2 57 -6 58 -9 57 -12 58 -13 48 -19 57 -22 58 -22 47 -24 48 -28 48 -30 48 -35 48 -38 48 -42 48 -47 48 -41 38 -46 39 -50 38 -55 38 -52 32 -53 30 -53 26 -52 23 -63 25 -63 21 -53 15 -63 14 -53 10 -63 9 -63 6z"/>
<path fill="#c03fff" d="M2703 3537l-52 1 -64 0 -63-4 -63-6 -52-8 -63-12 -64-16 -52-15 -63-22 -53-21 -52-24 -53-26 -53-30 -52-33 -49-34 -46-34 -50-42 -41-39 -38-38 -42-48 -39-48 -35-48 -31-48 -27-48 -25-48 -26-57 -19-48 -18-57 -13-48 -13-58 -9-57 -4-48 -3-58 0-48 3-57 7-58 8-48 13-57 16-58 17-48 19-48 27-57 25-48 28-48 32-48 35-48 35-42 39-44 45-45 42-38 42-36 46-34 49-34 52-33 53-30 53-26 52-24 53-21 52-18 63-19 53-13 63-13 63-10 63-6 63-4 53-1 63 2 63 6 63 8 63 11 53 12 63 17 63 20 53 20 63 28 53 26 52 29 53 32 46 31 48 36 50 41 42 38 45 45 37 41 40 48 35 48 32 48 28 48 25 48 27 57 23 58 16 48 15 57 11 48 9 58 6 57 3 58 0 48 -3 57 -7 58 -10 57 -13 58 -17 57 -17 48 -24 58 -23 48 -26 48 -29 47 -33 48 -36 48 -37 45 -39 42 -45 45 -43 37 -42 35 -52 39 -53 35 -52 31 -53 29 -53 25 -52 23 -63 23 -53 17 -63 17 -53 12 -63 11 -63 8 -63 6z"/>
<path fill="#c23dff" d="M2661 3527l-63 0 -63-3 -53-5 -63-9 -52-9 -64-15 -63-18 -52-17 -63-25 -53-23 -53-26 -52-29 -51-32 -44-30 -49-37 -45-37 -44-40 -41-41 -40-45 -39-48 -36-48 -31-48 -28-48 -25-48 -26-57 -19-48 -16-48 -16-57 -12-58 -8-48 -5-48 -4-57 0-48 3-58 5-48 9-57 12-58 13-48 16-47 22-58 21-48 30-57 28-48 31-47 31-44 35-43 39-44 42-43 42-39 53-45 42-32 52-36 53-33 52-29 53-26 53-23 52-21 53-18 63-19 53-12 52-11 63-10 63-6 63-4 64 0 63 2 52 5 63 8 63 11 53 12 53 14 63 20 52 20 63 27 53 26 51 28 48 28 48 32 48 35 47 39 44 38 48 48 35 38 40 48 36 48 32 48 29 48 25 48 23 48 23 57 17 48 17 58 13 57 9 58 5 48 4 57 0 58 -4 57 -5 48 -9 58 -11 48 -16 57 -20 58 -19 48 -27 57 -25 48 -29 48 -32 48 -35 46 -33 40 -40 45 -41 41 -44 40 -45 37 -49 37 -53 36 -52 32 -53 28 -53 26 -52 23 -63 24 -53 17 -52 14 -64 15 -63 11 -52 7 -53 5 -63 3z"/>
<path fill="#c43bff" d="M2777 3508l-53 5 -63 3 -63 0 -63-3 -63-6 -53-8 -63-12 -53-12 -63-18 -52-18 -53-20 -52-23 -53-26 -53-29 -52-32 -42-29 -53-39 -42-35 -42-38 -42-42 -37-40 -37-45 -31-41 -32-48 -29-48 -26-48 -23-48 -20-48 -21-57 -14-48 -11-48 -11-58 -8-57 -3-48 -1-58 1-48 4-47 8-58 12-57 12-48 18-58 18-48 20-48 24-48 26-48 30-47 33-48 35-45 35-42 38-41 43-41 42-37 42-34 52-38 43-29 52-31 52-28 53-26 53-22 52-20 63-20 53-15 63-14 53-9 63-8 52-5 63-2 64 0 63 4 63 6 63 10 52 11 53 13 63 18 53 19 63 25 52 24 53 27 53 30 49 32 45 32 53 41 42 36 46 44 38 40 40 47 37 48 33 48 30 47 26 48 28 58 20 48 21 57 14 48 11 48 11 58 8 57 3 48 1 58 -2 57 -6 58 -9 57 -10 48 -15 58 -16 47 -22 58 -22 48 -25 48 -28 48 -31 48 -34 48 -39 47 -43 48 -38 39 -42 38 -48 40 -49 37 -46 31 -52 32 -53 29 -53 26 -52 23 -53 20 -63 21 -52 15 -64 15 -63 11 -52 7z"/>
<path fill="#c639ff" d="M2766 3498l-52 5 -63 3 -64-1 -52-3 -63-6 -53-8 -63-12 -53-12 -63-18 -52-18 -53-21 -52-23 -53-26 -53-29 -42-26 -51-35 -43-33 -42-34 -43-38 -42-42 -40-45 -33-39 -35-47 -32-48 -29-48 -25-48 -23-47 -19-48 -20-58 -14-48 -11-48 -11-57 -7-58 -3-48 0-57 2-48 4-48 9-58 10-47 15-58 15-48 22-57 21-48 25-48 27-48 31-48 34-48 30-38 36-42 42-44 42-39 43-36 42-33 50-36 45-29 52-31 53-27 52-24 53-22 52-19 105-30 64-14 52-9 63-7 53-5 63-2 63 1 53 4 63 6 63 10 52 11 64 16 52 16 63 22 53 22 52 24 53 27 53 31 52 34 46 33 48 38 43 39 42 40 42 45 33 39 37 48 33 48 29 48 27 48 23 48 23 57 20 58 14 48 11 48 11 57 7 58 3 48 0 57 -3 58 -6 57 -8 48 -10 48 -16 58 -19 57 -19 48 -22 48 -25 48 -28 48 -31 48 -35 48 -38 46 -42 46 -42 42 -43 38 -42 34 -43 33 -51 35 -53 32 -52 28 -53 26 -53 23 -63 23 -52 17 -53 15 -63 14 -63 11 -53 6z"/>
<path fill="#c837ff" d="M2756 3489l-53 4 -63 2 -63-1 -53-3 -63-7 -52-8 -63-13 -53-13 -53-15 -52-19 -53-20 -52-24 -53-26 -53-30 -46-29 -48-33 -44-34 -46-38 -41-38 -38-39 -34-38 -39-48 -28-38 -32-48 -28-48 -26-48 -22-48 -19-48 -16-48 -17-57 -11-48 -9-58 -7-57 -2-48 0-58 2-48 7-57 8-48 12-58 14-48 16-47 18-48 22-48 24-48 28-48 31-48 35-48 31-38 33-39 41-42 42-39 42-36 46-36 49-34 42-27 52-30 53-27 53-24 52-22 53-18 105-30 63-13 53-8 63-8 52-3 64-2 63 2 52 3 63 8 53 8 63 13 63 17 53 16 52 19 53 22 52 25 53 28 53 31 52 34 53 39 42 34 42 38 42 42 37 40 37 44 31 42 33 48 29 48 26 48 22 47 24 58 16 48 17 57 11 48 9 58 7 57 2 48 0 58 -3 57 -7 58 -8 48 -14 57 -14 48 -20 58 -20 48 -22 47 -26 48 -29 48 -33 48 -31 42 -37 44 -37 40 -42 42 -42 38 -42 34 -42 31 -53 36 -52 31 -53 29 -53 25 -52 22 -53 20 -63 20 -52 14 -64 14 -63 10 -52 7z"/>
<path fill="#ca35ff" d="M2745 3479l-52 4 -63 2 -64-2 -52-4 -53-6 -63-10 -105-24 -53-15 -52-19 -53-21 -52-23 -53-27 -53-30 -52-34 -42-29 -42-33 -43-36 -41-39 -43-43 -36-42 -37-47 -28-40 -31-47 -27-48 -24-48 -22-48 -18-48 -15-48 -13-48 -11-48 -9-57 -6-58 -2-48 1-57 3-48 7-58 8-48 11-48 14-48 16-47 18-48 22-48 25-48 28-48 31-48 32-44 35-42 39-44 42-42 42-39 42-34 43-33 52-35 42-26 52-30 53-26 53-23 52-20 53-18 105-28 53-10 63-10 63-6 52-3 64 0 52 2 63 5 53 7 52 9 64 14 63 17 52 17 53 20 52 22 53 26 53 29 47 29 47 31 48 36 47 38 42 38 38 39 36 39 38 47 29 38 32 48 29 48 25 48 22 48 23 58 16 47 16 58 11 48 9 57 6 58 2 48 -1 57 -3 48 -7 58 -8 48 -14 57 -14 48 -20 58 -20 48 -23 47 -26 48 -29 48 -33 48 -37 48 -33 38 -35 39 -40 38 -43 38 -47 39 -46 33 -52 34 -43 25 -53 28 -52 25 -53 22 -52 20 -63 19 -64 16 -52 11 -63 10 -53 6z"/>
<path fill="#cc33ff" d="M2735 3470l-53 3 -63 1 -53-1 -63-5 -52-7 -63-10 -106-26 -52-16 -53-19 -52-21 -53-25 -95-52 -51-33 -43-31 -42-33 -42-37 -42-40 -40-42 -34-39 -37-47 -33-48 -24-38 -27-48 -24-48 -20-48 -18-48 -15-48 -13-48 -12-57 -7-48 -5-57 -2-48 1-58 4-48 6-48 11-57 11-48 14-48 17-48 20-48 22-48 26-48 29-48 26-38 35-48 32-38 35-40 43-42 42-38 42-34 42-32 51-35 43-26 53-29 53-26 52-23 53-20 52-17 106-27 52-10 63-10 63-5 53-3 63 0 53 3 63 5 52 8 63 12 53 12 53 15 52 17 53 20 52 23 53 26 53 29 52 32 42 29 43 32 47 39 41 38 38 38 35 39 39 48 35 48 31 47 28 48 24 48 22 48 18 48 16 48 15 58 12 57 7 48 5 57 2 48 -1 58 -4 48 -6 48 -11 57 -11 48 -17 58 -18 48 -20 48 -23 47 -26 48 -30 48 -33 48 -37 47 -34 39 -40 42 -42 40 -42 37 -42 33 -43 31 -51 33 -53 30 -53 27 -52 24 -53 21 -52 19 -53 15 -63 16 -53 11 -63 9 -52 6z"/>
<path fill="#ce31ff" d="M2724 3460l-105 4 -53-2 -63-4 -63-9 -52-9 -106-25 -52-17 -53-19 -52-22 -53-24 -49-27 -46-26 -47-31 -47-34 -42-34 -42-37 -41-39 -36-38 -32-38 -37-48 -27-39 -30-48 -27-48 -23-47 -20-48 -18-48 -15-48 -12-48 -11-58 -7-48 -4-57 -2-48 2-48 3-48 6-48 11-57 12-48 14-48 17-48 20-48 22-48 26-48 23-38 33-48 36-48 32-39 35-38 39-38 42-38 42-35 44-32 51-34 42-26 53-28 52-26 53-22 52-20 53-17 105-26 53-10 63-8 63-6 52-2 64 1 52 3 53 5 63 9 105 22 53 15 52 18 53 20 52 23 53 26 53 30 52 33 43 29 41 32 43 35 41 39 43 43 37 43 31 38 35 48 30 48 28 48 24 48 21 48 18 48 15 48 15 57 11 58 7 48 4 57 2 48 -2 48 -4 57 -7 48 -11 58 -12 48 -15 48 -18 48 -20 48 -23 47 -27 48 -30 48 -34 48 -33 43 -38 43 -37 39 -40 38 -43 37 -42 33 -42 29 -53 34 -52 30 -53 27 -53 24 -52 20 -53 18 -52 16 -53 13 -63 12 -63 9 -53 5z"/>
<path fill="#d02fff" d="M2714 3451l-106 3 -52-2 -63-6 -63-8 -53-10 -105-27 -53-17 -52-20 -95-43 -53-28 -42-25 -52-35 -43-32 -41-33 -42-38 -42-41 -38-41 -36-45 -31-42 -26-38 -29-48 -25-48 -23-48 -19-48 -17-47 -14-48 -11-48 -10-58 -5-48 -4-48 0-48 1-48 6-57 9-58 10-47 12-48 16-48 18-48 21-48 46-86 31-48 27-39 37-48 33-38 37-38 40-39 38-33 43-34 41-29 53-34 42-25 53-28 52-24 53-22 52-18 53-16 105-25 63-10 53-6 63-5 53-1 52 1 63 5 53 6 63 10 105 25 53 16 52 18 53 22 52 24 53 28 42 25 53 34 42 30 42 33 42 37 42 41 39 42 35 40 34 46 29 41 27 45 27 48 23 48 20 48 17 48 17 57 11 48 10 58 5 48 4 48 0 48 -1 48 -6 57 -9 58 -10 47 -12 48 -16 48 -18 48 -21 48 -24 48 -28 48 -31 48 -28 38 -38 48 -35 39 -37 38 -41 38 -46 38 -44 34 -49 34 -46 28 -95 50 -52 23 -53 20 -52 18 -53 15 -53 13 -63 12 -52 7 -63 6z"/>
<path fill="#d22dff" d="M2714 3441l-106 3 -52-2 -63-6 -63-8 -53-10 -53-12 -52-15 -53-17 -52-20 -95-44 -53-29 -42-25 -52-35 -42-32 -42-35 -42-38 -40-40 -34-37 -32-39 -35-48 -28-42 -26-44 -25-48 -22-48 -19-48 -16-48 -14-48 -11-48 -8-48 -5-48 -4-48 0-48 1-48 6-57 9-58 10-47 13-48 15-48 19-48 21-48 46-86 25-39 34-48 30-38 37-43 32-34 42-40 42-36 42-33 48-34 46-30 42-24 53-28 95-41 52-19 53-16 105-25 63-10 53-6 63-5 53-1 52 1 63 5 53 6 63 10 105 25 53 16 52 19 53 22 52 25 43 22 52 30 42 28 48 34 47 38 42 37 41 40 33 35 34 42 36 48 27 38 29 48 26 48 22 48 20 48 16 47 14 48 12 48 10 58 5 48 4 57 0 48 -2 48 -6 58 -9 57 -11 48 -14 48 -16 48 -19 48 -22 48 -47 86 -32 48 -28 38 -39 48 -34 38 -38 39 -42 38 -44 36 -41 31 -43 29 -52 32 -95 50 -53 23 -52 20 -53 17 -52 15 -106 22 -63 8 -52 5z"/>
<path fill="#d42bff" d="M2714 3431l-106 3 -52-2 -63-6 -63-8 -53-10 -53-13 -52-14 -53-18 -52-20 -95-44 -53-29 -42-26 -84-59 -42-35 -39-35 -39-39 -35-38 -34-41 -34-45 -25-38 -29-48 -26-48 -22-48 -19-48 -16-48 -14-48 -11-48 -8-48 -6-48 -3-48 -1-48 2-48 5-57 8-48 10-48 12-48 15-48 18-48 21-48 46-86 30-48 27-38 38-48 33-38 37-39 38-36 42-36 42-33 84-56 42-25 53-28 95-41 52-19 53-17 105-25 53-9 63-8 63-4 53-1 105 4 52 6 63 10 106 24 52 16 53 19 52 21 53 24 53 28 42 25 52 34 42 30 42 34 40 35 40 38 36 38 32 39 37 48 26 38 30 48 26 48 23 48 19 48 17 47 14 48 12 48 10 58 6 48 3 48 1 48 -2 48 -5 57 -10 58 -10 47 -13 48 -15 48 -19 48 -22 48 -47 86 -29 46 -29 41 -34 42 -39 44 -38 38 -39 36 -42 35 -42 32 -45 31 -49 31 -43 24 -52 26 -53 23 -52 20 -53 18 -52 14 -106 23 -63 8 -52 5z"/>
<path fill="#d629ff" d="M2703 3422l-105 2 -63-3 -53-6 -105-17 -53-13 -52-15 -53-17 -52-21 -95-44 -53-29 -42-26 -84-61 -77-67 -38-38 -35-38 -32-39 -35-48 -25-38 -29-48 -43-86 -19-48 -16-48 -14-48 -11-48 -10-57 -5-48 -3-48 0-48 2-48 6-58 8-48 11-47 13-48 16-48 18-48 22-48 25-48 23-38 27-43 32-43 65-77 72-71 42-36 42-32 48-34 46-29 43-23 52-27 95-40 52-18 53-16 105-23 105-14 106-4 52 1 63 4 63 8 53 9 52 11 53 14 53 17 52 19 95 42 53 28 42 25 52 35 42 31 78 65 39 39 36 38 37 44 31 42 26 38 30 48 25 48 23 48 19 48 16 48 14 48 11 48 10 57 5 48 3 48 0 48 -2 48 -6 58 -10 57 -11 48 -14 48 -16 48 -19 48 -23 48 -25 48 -24 38 -32 48 -28 38 -67 77 -38 38 -42 39 -46 36 -41 31 -43 28 -52 32 -95 48 -95 38 -52 17 -53 14 -105 21 -53 8 -63 5z"/>
<path fill="#d827ff" d="M2703 3413l-105 1 -63-3 -53-5 -105-18 -53-13 -52-15 -53-17 -52-21 -95-45 -50-28 -45-28 -80-58 -35-29 -42-39 -38-38 -34-38 -34-41 -32-45 -26-39 -28-48 -42-86 -18-48 -16-48 -14-48 -10-47 -8-48 -5-48 -3-48 0-48 2-48 6-58 8-48 10-47 14-48 16-48 18-48 22-48 26-48 22-38 27-41 31-43 64-74 32-34 41-38 42-36 42-31 84-56 43-25 52-26 95-41 52-18 53-16 53-13 52-10 105-14 106-5 52 1 63 5 63 8 53 9 52 11 53 14 53 17 52 19 95 43 53 28 42 25 42 28 47 35 37 30 42 37 39 38 35 38 32 39 36 48 26 39 28 47 43 86 20 48 16 48 14 48 11 48 10 57 5 48 3 48 0 48 -2 48 -6 58 -8 48 -10 47 -14 48 -16 48 -18 48 -22 48 -26 48 -22 38 -32 48 -29 39 -31 38 -40 44 -32 33 -42 38 -42 34 -42 31 -45 31 -49 30 -43 23 -52 25 -95 38 -52 18 -53 14 -105 22 -53 7 -63 6z"/>
<path fill="#da25ff" d="M2703 3403l-105 2 -63-3 -53-6 -105-18 -53-12 -52-15 -95-35 -94-44 -53-29 -42-27 -84-60 -42-35 -38-35 -67-72 -35-43 -28-38 -26-39 -28-48 -43-86 -19-48 -16-48 -13-48 -11-47 -7-48 -6-48 -3-48 0-48 2-48 5-48 8-48 10-48 12-48 16-48 18-48 22-48 25-47 22-39 31-47 29-39 65-77 37-38 38-35 42-35 42-32 84-55 45-25 50-25 94-40 95-30 53-13 52-11 105-14 106-4 52 1 63 4 105 15 53 11 53 14 52 16 53 19 94 42 53 28 42 25 53 35 42 31 42 34 38 34 38 39 35 38 61 77 28 41 27 45 21 38 22 48 20 48 17 48 14 48 11 48 9 57 6 48 3 48 0 48 -2 48 -7 58 -7 48 -11 47 -13 48 -16 48 -19 48 -23 48 -25 48 -23 38 -32 48 -29 39 -32 38 -35 38 -38 39 -38 34 -42 34 -42 31 -42 28 -53 32 -53 28 -42 20 -94 37 -53 17 -53 14 -105 21 -105 11z"/>
<path fill="#dc23ff" d="M2714 3393l-53 3 -53 0 -105-7 -105-16 -52-12 -53-14 -95-32 -94-43 -53-28 -42-25 -84-59 -77-64 -39-39 -35-38 -62-77 -26-38 -29-48 -21-38 -23-48 -20-48 -17-48 -14-48 -11-48 -9-48 -6-48 -3-48 -1-48 2-48 4-47 7-48 10-48 12-48 15-48 35-86 19-39 26-48 30-48 27-38 63-77 69-69 42-37 42-33 84-57 43-25 52-27 95-42 94-31 53-14 53-11 105-15 63-5 53-1 105 5 105 14 52 11 53 13 53 16 52 18 95 42 52 27 43 25 84 57 42 33 42 37 69 69 36 43 34 44 26 38 29 48 21 38 23 48 20 48 17 48 14 48 11 48 9 48 6 48 3 48 1 48 -2 48 -4 47 -7 48 -10 48 -12 48 -15 48 -18 48 -21 48 -25 48 -22 38 -31 48 -28 38 -64 77 -71 70 -42 36 -42 32 -42 29 -52 33 -43 23 -52 26 -95 39 -52 18 -53 15 -53 12 -52 10 -105 12z"/>
<path fill="#de21ff" d="M2714 3384l-53 2 -53 1 -105-7 -105-16 -52-12 -53-14 -95-33 -94-43 -53-29 -42-25 -84-60 -74-62 -38-38 -35-39 -61-76 -26-39 -29-48 -25-47 -18-39 -33-86 -14-48 -11-48 -9-48 -6-48 -3-48 -1-48 2-48 5-47 7-48 9-48 13-48 15-48 35-86 19-39 26-48 25-38 33-48 64-77 67-67 42-36 40-31 86-58 86-47 93-41 94-32 53-13 53-12 105-15 63-5 53-1 52 1 53 4 105 14 52 11 53 13 53 16 52 19 95 42 42 22 53 31 84 58 73 61 40 38 36 38 62 77 26 38 30 48 21 38 24 48 20 48 17 48 14 48 11 48 9 48 6 48 3 48 1 48 -2 48 -5 47 -7 48 -9 48 -13 48 -15 48 -18 48 -21 48 -25 48 -22 38 -32 48 -28 38 -31 39 -34 38 -69 67 -41 35 -42 32 -84 55 -43 24 -52 26 -95 40 -52 17 -53 15 -53 13 -52 9 -105 13z"/>
<path fill="#e01fff" d="M2724 3374l-52 3 -53 1 -53-2 -52-4 -105-16 -95-22 -95-31 -94-41 -53-27 -41-24 -85-58 -74-61 -37-35 -36-38 -33-38 -31-40 -26-37 -30-48 -21-38 -24-48 -34-86 -25-87 -9-48 -7-48 -5-47 -2-48 4-87 5-48 8-48 11-47 14-48 32-87 22-48 20-38 29-48 25-38 60-77 35-38 34-35 74-64 84-60 42-26 53-29 42-20 52-23 95-33 95-24 105-17 105-8 53-1 52 3 105 11 53 10 52 11 53 15 53 17 94 39 53 26 42 23 84 55 42 31 38 32 70 67 35 38 31 39 29 38 31 48 23 38 25 48 21 48 19 48 15 48 13 48 9 48 7 48 5 47 2 48 -1 48 -3 48 -7 48 -8 48 -12 48 -14 48 -17 48 -20 48 -24 48 -21 38 -30 48 -26 37 -31 40 -33 38 -66 67 -39 34 -42 33 -85 58 -41 24 -53 27 -94 41 -53 18 -52 16 -53 13 -53 10 -105 14z"/>
<path fill="#e21dff" d="M2724 3365l-52 3 -53 1 -53-2 -52-4 -105-16 -95-22 -95-32 -94-41 -85-46 -84-57 -42-33 -35-30 -38-37 -32-33 -63-76 -32-45 -24-39 -22-38 -23-48 -35-86 -24-87 -10-48 -7-48 -5-47 -2-48 3-87 6-48 8-48 11-47 14-48 32-87 22-48 21-38 29-48 26-38 60-77 68-70 73-63 84-60 85-48 42-21 52-23 95-34 95-24 105-17 105-8 53-1 52 3 105 11 53 10 52 12 53 14 53 18 94 39 53 26 42 24 84 55 77 61 39 36 31 32 65 76 30 42 29 44 22 39 25 48 35 86 16 48 12 48 10 48 7 48 5 47 2 48 -1 48 -3 48 -7 48 -8 48 -12 48 -14 48 -33 86 -23 48 -21 38 -24 39 -33 48 -62 76 -36 39 -33 32 -42 36 -42 33 -84 57 -53 30 -42 21 -95 40 -94 31 -53 13 -53 10 -105 14z"/>
<path fill="#e41bff" d="M2735 3355l-53 4 -52 1 -95-4 -105-14 -53-10 -53-14 -94-30 -53-21 -42-20 -84-45 -84-56 -74-60 -69-67 -34-38 -30-39 -28-38 -28-43 -44-82 -18-38 -18-48 -26-86 -11-48 -7-48 -6-48 -2-48 2-86 6-48 7-48 11-48 13-48 31-86 22-48 20-38 48-77 58-77 62-67 31-29 42-36 42-33 42-29 84-51 84-41 95-36 95-26 52-11 53-9 105-10 53-1 52 1 105 10 53 9 52 11 53 13 53 17 94 37 53 25 42 23 84 53 74 56 42 38 31 31 34 36 32 39 30 38 32 48 23 38 26 48 18 38 19 48 16 48 13 48 11 48 7 48 6 48 2 48 0 48 -3 48 -6 48 -8 48 -11 47 -14 48 -32 87 -23 48 -21 38 -29 48 -26 38 -62 77 -65 67 -42 38 -37 29 -83 57 -49 29 -42 22 -42 20 -52 22 -95 32 -53 13 -52 11 -105 15z"/>
<path fill="#e619ff" d="M2745 3345l-52 4 -53 2 -95-3 -105-13 -94-20 -95-29 -95-38 -84-44 -84-54 -42-31 -40-33 -65-63 -39-42 -31-39 -53-76 -43-77 -18-38 -20-48 -27-87 -11-47 -8-48 -6-48 -3-48 1-87 5-47 7-48 20-87 30-86 20-48 20-38 45-77 27-38 31-41 63-70 66-62 39-31 42-30 86-54 83-41 94-38 95-28 53-11 52-9 105-11 53-2 53 1 105 9 52 8 53 10 95 26 94 35 53 25 42 21 86 53 82 61 40 35 34 33 65 73 29 38 33 48 24 38 25 48 18 38 20 48 27 87 11 47 8 48 6 48 3 48 -1 87 -5 47 -7 48 -10 48 -13 48 -31 86 -21 48 -20 39 -28 48 -25 38 -59 77 -34 38 -36 36 -34 31 -40 33 -84 59 -42 26 -48 26 -89 40 -94 33 -53 15 -53 11 -52 9 -53 7z"/>
<path fill="#e817ff" d="M2745 3336l-52 5 -53 1 -95-3 -105-13 -94-20 -95-29 -53-20 -42-19 -84-44 -84-55 -74-58 -65-62 -35-38 -31-39 -54-76 -44-77 -18-38 -20-48 -27-87 -11-47 -9-48 -5-48 -4-48 0-39 2-48 5-47 7-48 20-87 30-86 21-48 19-38 46-77 57-76 64-71 36-35 33-29 78-58 84-52 84-41 95-37 95-27 94-18 105-12 53-1 53 0 105 10 52 8 53 10 95 26 94 36 53 24 42 22 84 52 42 30 42 34 67 61 36 39 32 38 55 77 24 38 26 48 18 38 20 48 27 87 11 47 9 48 5 48 4 48 0 39 -2 48 -5 47 -7 48 -10 48 -13 48 -16 48 -15 38 -21 48 -20 39 -29 48 -25 38 -60 77 -35 38 -34 34 -37 33 -35 29 -43 31 -42 28 -85 48 -42 21 -52 22 -95 32 -95 23 -52 9 -53 7z"/>
<path fill="#ea15ff" d="M2756 3326l-95 7 -95-1 -105-11 -52-9 -53-12 -95-28 -84-34 -84-42 -84-53 -74-55 -65-59 -36-39 -32-38 -57-77 -45-76 -23-48 -16-39 -14-38 -15-48 -19-86 -11-86 -2-48 1-39 3-48 6-48 17-86 27-86 15-38 22-48 42-77 54-77 64-76 63-61 74-58 84-56 84-44 42-19 53-21 95-29 94-20 105-13 95-4 53 2 52 5 53 6 52 9 95 24 95 32 52 23 42 20 85 49 84 60 42 34 31 29 40 41 33 39 58 76 47 77 19 38 21 48 15 38 15 48 12 48 10 48 7 48 4 48 2 48 -1 38 -4 48 -6 48 -9 48 -12 48 -15 48 -14 38 -16 39 -23 48 -27 47 -25 39 -58 76 -62 69 -39 37 -34 29 -43 32 -42 29 -84 50 -42 21 -53 24 -94 33 -95 24 -53 10 -52 7z"/>
<path fill="#ec13ff" d="M2766 3316l-94 9 -95-1 -105-10 -95-18 -95-26 -84-32 -84-40 -84-51 -83-61 -64-57 -63-69 -57-75 -47-77 -38-77 -15-38 -16-48 -21-86 -13-86 -3-48 -1-39 3-48 5-47 15-87 24-86 18-48 17-38 41-77 51-77 63-76 37-38 30-29 71-58 78-52 84-47 84-37 94-32 95-22 95-14 52-4 53-2 95 3 105 13 52 11 53 12 95 31 52 22 42 19 84 47 85 57 42 34 31 27 66 68 62 77 50 77 25 48 18 38 16 38 17 48 13 48 11 48 8 48 5 48 3 48 0 38 -3 48 -5 48 -8 48 -11 48 -26 86 -15 38 -23 48 -25 48 -24 39 -55 76 -33 39 -34 37 -63 58 -42 34 -42 30 -51 32 -44 26 -84 40 -95 35 -95 25 -52 11 -53 7z"/>
<path fill="#ee11ff" d="M2672 3316l-42 1 -53-1 -105-11 -53-9 -52-11 -95-28 -53-19 -42-19 -84-43 -84-54 -74-57 -31-28 -37-37 -65-77 -29-38 -25-39 -42-76 -33-77 -27-86 -17-86 -10-96 0-39 2-48 12-95 21-87 15-48 15-38 22-48 20-38 47-77 60-76 62-68 66-57 79-58 85-50 84-39 84-31 95-26 94-17 105-9 43-1 52 1 105 11 53 9 52 11 95 28 53 19 42 19 84 43 84 54 74 57 31 28 37 37 65 77 29 38 25 39 42 76 33 77 27 86 17 86 10 96 0 39 -2 48 -12 95 -21 87 -15 48 -15 38 -22 48 -20 38 -47 77 -60 76 -62 68 -66 57 -79 58 -85 50 -84 39 -84 31 -95 26 -94 17 -105 9z"/>
<path fill="#f00fff" d="M2693 3307l-53 2 -42-1 -105-8 -53-8 -52-11 -95-25 -53-19 -42-17 -84-42 -84-52 -80-59 -62-58 -68-76 -29-39 -26-38 -44-77 -35-76 -14-39 -14-48 -19-86 -10-96 -1-48 1-38 12-96 20-86 14-48 15-38 35-77 46-77 57-76 33-39 36-38 31-29 34-28 79-58 84-50 84-40 84-32 95-25 94-17 95-9 42-2 53 1 105 10 52 8 53 11 53 14 42 13 84 32 84 42 84 52 42 30 42 33 32 28 31 31 63 72 55 76 44 77 35 76 14 39 14 48 19 86 10 96 1 48 -1 38 -12 96 -20 86 -14 48 -15 38 -35 77 -46 77 -57 76 -65 73 -63 57 -84 61 -74 45 -84 42 -42 17 -53 19 -84 23 -95 18 -94 10z"/>
<path fill="#f20dff" d="M2703 3298l-52 3 -43 0 -115-10 -95-16 -95-25 -52-18 -42-17 -84-40 -83-51 -78-57 -34-29 -30-29 -69-76 -29-39 -27-38 -45-77 -18-38 -20-48 -25-77 -19-86 -10-86 -2-38 2-48 10-96 19-86 15-48 13-39 35-76 21-39 27-42 53-73 69-76 30-29 37-32 84-60 74-45 84-40 84-32 84-23 95-18 94-10 42-3 53 1 105 9 53 8 52 10 95 26 84 32 42 19 47 24 80 49 84 62 31 27 35 34 66 77 49 67 45 77 18 38 20 48 25 77 19 86 10 86 2 38 -2 48 -10 96 -19 86 -15 48 -13 39 -35 76 -45 77 -55 75 -63 72 -32 31 -31 27 -84 62 -80 49 -78 39 -84 33 -85 24 -94 19 -95 11z"/>
<path fill="#f40bff" d="M2724 3287l-52 5 -42 1 -85-5 -52-5 -53-8 -52-11 -53-13 -84-27 -84-37 -74-40 -78-51 -69-55 -53-51 -66-76 -29-39 -25-38 -43-77 -33-76 -26-87 -16-86 -9-86 0-67 11-96 10-48 12-48 26-77 21-48 19-38 43-71 54-73 60-67 54-50 84-63 85-52 84-41 42-18 52-18 85-22 94-18 105-10 74 0 116 10 94 18 85 22 52 18 42 18 84 41 85 52 84 63 52 48 70 79 29 38 26 39 23 38 26 48 33 76 26 87 16 86 9 86 1 39 -2 38 -12 96 -10 48 -16 57 -12 39 -20 47 -39 77 -23 38 -26 39 -57 71 -59 63 -56 48 -42 32 -53 35 -42 26 -42 22 -84 38 -53 19 -42 12 -53 13 -52 11 -95 12z"/>
<path fill="#f609ff" d="M2735 3278l-84 7 -74-2 -105-11 -63-11 -63-15 -85-27 -84-36 -73-39 -74-48 -64-48 -53-48 -43-48 -32-38 -29-39 -26-38 -43-77 -33-76 -27-87 -15-76 -10-87 -1-67 12-105 19-86 25-77 21-48 19-38 39-67 27-39 29-38 68-77 53-48 85-63 84-51 84-40 84-32 85-22 94-18 105-10 74 0 116 10 94 18 85 22 52 19 42 17 74 36 84 51 84 62 53 48 69 78 29 38 27 39 24 38 25 48 33 76 27 87 15 76 11 96 -1 67 -13 106 -10 48 -13 48 -12 38 -15 38 -22 48 -20 39 -42 67 -59 76 -62 67 -54 48 -52 39 -43 28 -42 26 -42 23 -84 38 -53 19 -42 13 -95 22 -52 9 -42 4z"/>
<path fill="#f807ff" d="M2756 3268l-95 9 -74-1 -105-10 -52-9 -53-11 -74-21 -52-18 -42-18 -74-36 -84-52 -74-54 -52-47 -44-48 -33-38 -56-77 -43-77 -33-76 -22-68 -19-86 -11-96 -1-57 10-106 14-67 25-86 33-77 41-76 47-67 39-48 34-39 49-48 75-57 73-48 64-35 84-38 84-28 95-22 63-10 94-9 43-1 42 1 94 9 63 10 95 22 84 28 95 43 73 42 53 36 42 31 54 46 70 76 31 39 28 38 24 38 24 44 38 81 25 77 19 86 11 96 1 67 -12 105 -19 86 -25 77 -21 48 -19 38 -27 48 -19 29 -28 38 -31 39 -61 67 -52 47 -53 39 -42 29 -74 44 -84 39 -84 31 -105 26 -84 13z"/>
<path fill="#fa05ff" d="M2672 3269l-85 0 -105-11 -94-18 -42-10 -43-13 -69-26 -88-41 -74-45 -42-29 -63-47 -42-40 -42-47 -40-48 -47-67 -42-76 -26-58 -10-29 -25-86 -11-57 -11-96 1-67 11-96 20-86 11-39 14-38 29-63 45-81 49-67 32-38 52-57 44-39 51-38 53-36 73-43 84-39 63-23 32-10 95-22 63-10 105-10 74 0 105 11 94 18 42 10 43 13 69 26 88 41 74 45 42 29 63 47 42 40 42 47 40 48 47 67 42 76 26 58 10 29 25 86 11 57 11 96 -1 67 -11 96 -20 86 -11 39 -14 38 -29 63 -45 81 -49 67 -32 38 -52 57 -44 39 -51 38 -53 36 -73 43 -84 39 -63 23 -32 10 -94 22 -53 9 -105 11z"/>
<path fill="#fc03ff" d="M2682 3260l-42 2 -53-1 -42-6 -63-4 -94-19 -74-19 -74-27 -90-42 -67-41 -43-29 -61-45 -51-48 -74-87 -49-67 -42-76 -30-67 -10-29 -21-77 -5-29 -6-19 -4-57 -7-39 0-76 7-39 4-57 21-86 21-68 30-67 46-82 45-61 31-39 50-56 53-46 95-68 73-44 84-39 74-27 32-9 84-20 52-9 63-4 42-6 85 0 42 6 63 4 94 19 74 19 74 27 90 42 67 41 43 29 61 45 51 48 74 87 49 67 42 76 30 67 10 29 21 77 5 29 6 19 4 57 7 39 0 76 -7 39 -4 57 -21 86 -21 68 -30 67 -46 82 -45 61 -31 39 -50 56 -53 46 -95 68 -73 44 -84 39 -74 27 -74 19 -94 19 -63 4 -32 5z"/>
<path fill="#fe01ff" d="M2693 3250l-11 4 -95 0 -10 0 -21-7 -74-3 -21-7 -31-2 -21-8 -21-2 -21-7 -21-2 -11-6 -21-4 -32-14 -21-5 -105-48 -21-14 -10-4 -21-16 -11-4 -31-24 -19-10 -34-28 -11-5 -8-5 -55-51 -6-7 -5-10 -31-30 -6-8 -5-9 -27-29 -4-10 -17-19 -4-10 -16-19 -53-96 -5-19 -15-28 -5-20 -6-9 -2-19 -9-20 -2-19 -8-19 -3-29 -7-19 -3-67 -8-19 0-96 8-19 3-67 7-19 3-29 8-19 2-19 9-20 2-19 6-9 5-20 15-28 5-19 53-96 16-19 4-10 17-19 4-10 27-29 5-9 6-8 31-30 5-10 6-7 55-51 8-5 11-5 34-28 19-10 31-24 11-4 21-16 10-4 21-14 105-48 21-5 32-14 21-4 11-6 21-2 21-7 21-2 21-8 31-2 21-7 74-3 21-7 105 0 21 7 74 3 21 7 31 2 21 8 21 2 21 7 21 2 11 6 21 4 32 14 21 5 105 48 21 14 10 4 21 16 11 4 31 24 19 10 34 28 11 5 8 5 55 51 6 7 5 10 31 30 6 8 5 9 27 29 4 10 17 19 4 10 16 19 53 96 5 19 15 28 5 20 6 9 2 19 9 20 2 19 8 19 3 29 7 19 3 67 8 19 0 96 -8 19 -3 67 -7 19 -3 29 -8 19 -2 19 -9 20 -2 19 -6 9 -5 20 -15 28 -5 19 -53 96 -16 19 -4 10 -17 19 -4 10 -27 29 -5 9 -6 8 -31 30 -5 10 -6 7 -55 51 -8 5 -11 5 -34 28 -19 10 -31 24 -11 4 -21 16 -10 4 -21 14 -105 48 -21 5 -32 14 -21 4 -11 6 -21 2 -21 7 -21 2 -21 8 -31 2 -21 7 -63 2 -21 4z"/>
</g>
<path fill="#fff" fill-rule="evenodd" d="M1361.7 951.5h539.9v493.2h-539.9zM1368.7 958.5v479.2h525.9v-479.2z"/>
<rect x="1368.7" y="958.5" width="1.8" height="479.2" fill="#0a2a44" opacity="0.13"/>
<rect x="1368.7" y="1435.9" width="525.9" height="1.8" fill="#0a2a44" opacity="0.13"/>
<rect x="1368.7" y="957.8" width="6.6" height="1.1" fill="#1c3c4c" opacity="0.75"/>
<rect x="1894" y="1432.1" width="1.3" height="5.6" fill="#1c3c4c" opacity="0.35"/>
<ellipse cx="1631.65" cy="1198.1" rx="93.82" ry="85.49" fill="#fff"/>
<text transform="translate(1361.7 965.9)" font-size="18.75" text-anchor="end" fill="#262626">+12.5</text>
<text transform="translate(1361.7 1205.5)" font-size="18.75" text-anchor="end" fill="#262626">0</text>
<text transform="translate(1361.7 1445.1)" font-size="18.75" text-anchor="end" fill="#262626">-12.5</text>
<text transform="translate(1369.1 1463.9)" font-size="18.75" text-anchor="middle" fill="#262626">-12.5</text>
<text transform="translate(1632.05 1463.9)" font-size="18.75" text-anchor="middle" fill="#262626">0</text>
<text transform="translate(1895 1463.9)" font-size="18.75" text-anchor="middle" fill="#262626">+12.5</text>
<text transform="translate(1632.15 1491) scale(1 0.975)" font-size="20.7" text-anchor="middle" fill="#262626">Dimension (<tspan font-style="italic"  font-family="'Liberation Serif', serif" font-size="22.5" dx="0.2">μ</tspan><tspan dx="0.6">m</tspan><tspan dx="0.6">)</tspan></text>
<text transform="translate(1320.4 1197.3) rotate(-90) scale(1 0.975)" font-size="20.7" text-anchor="middle" fill="#262626">Dimension (<tspan font-style="italic"  font-family="'Liberation Serif', serif" font-size="22.5" dx="0.2">μ</tspan><tspan dx="0.6">m</tspan><tspan dx="0.6">)</tspan></text>
<text transform="translate(1325.3 934.9) scale(0.99 1.045)" font-size="39.2" font-weight="bold" fill="#000">D</text>
</g>
<g id="colorbar">
<linearGradient id="cool" x1="0" y1="1" x2="0" y2="0"><stop offset="0" stop-color="#00ffff"/><stop offset="1" stop-color="#ff00ff"/></linearGradient>
<rect x="1933" y="958.5" width="29.8" height="479" fill="url(#cool)" stroke="#262626" stroke-width="1"/>
<path d="M1962.8 1377.62h-6M1962.8 1317.75h-6M1962.8 1257.88h-6M1962.8 1198h-6M1962.8 1138.12h-6M1962.8 1078.25h-6M1962.8 1018.38h-6" stroke="#262626" stroke-width="1" fill="none"/>
<text transform="translate(1970.3 1444.2) scale(1 0.99)" font-size="16.9" fill="#262626">0.92</text>
<text transform="translate(1970.3 1384.33) scale(1 0.99)" font-size="16.9" fill="#262626">0.93</text>
<text transform="translate(1970.3 1324.45) scale(1 0.99)" font-size="16.9" fill="#262626">0.94</text>
<text transform="translate(1970.3 1264.58) scale(1 0.99)" font-size="16.9" fill="#262626">0.95</text>
<text transform="translate(1970.3 1204.7) scale(1 0.99)" font-size="16.9" fill="#262626">0.96</text>
<text transform="translate(1970.3 1144.83) scale(1 0.99)" font-size="16.9" fill="#262626">0.97</text>
<text transform="translate(1970.3 1084.95) scale(1 0.99)" font-size="16.9" fill="#262626">0.98</text>
<text transform="translate(1970.3 1025.08) scale(1 0.99)" font-size="16.9" fill="#262626">0.99</text>
<text transform="translate(1970.3 965.2) scale(1 0.99)" font-size="16.9" fill="#262626">1</text>
</g>
</svg></body></html>
